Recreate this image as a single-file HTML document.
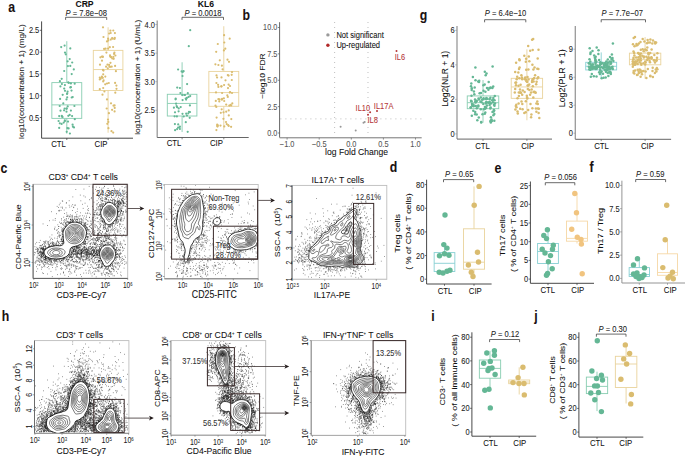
<!DOCTYPE html>
<html><head><meta charset="utf-8"><style>
html,body{margin:0;padding:0;background:#fff;width:685px;height:456px;overflow:hidden}
svg{display:block}
text{font-family:"Liberation Sans", sans-serif}
</style></head><body>
<svg width="685" height="456" viewBox="0 0 685 456" font-family='"Liberation Sans", sans-serif'>
<rect width="685" height="456" fill="#fff"/>
<text transform="translate(84.50,7.02) scale(0.88,1)" font-size="9.77" fill="#111" stroke="#111" stroke-width="0.07" text-anchor="middle" font-weight="bold" >CRP</text>
<text transform="translate(86.20,16.31) scale(0.88,1)" font-size="8.64" fill="#222" stroke="#222" stroke-width="0.07" text-anchor="middle" ><tspan font-style="italic">P</tspan> = 7.8e−08</text>
<path d="M65.60,19.90V17.30H106.70V19.90" stroke="#444" stroke-width="0.8" fill="none" />
<line x1="41.60" y1="21.40" x2="41.60" y2="138.20" stroke="#333" stroke-width="0.9" />
<line x1="39.80" y1="30.30" x2="41.60" y2="30.30" stroke="#333" stroke-width="0.7" />
<text transform="translate(39.30,33.37) scale(0.88,1)" font-size="8.52" fill="#222" stroke="#222" stroke-width="0.07" text-anchor="end" >2.5</text>
<line x1="39.80" y1="52.10" x2="41.60" y2="52.10" stroke="#333" stroke-width="0.7" />
<text transform="translate(39.30,55.17) scale(0.88,1)" font-size="8.52" fill="#222" stroke="#222" stroke-width="0.07" text-anchor="end" >2.0</text>
<line x1="39.80" y1="73.90" x2="41.60" y2="73.90" stroke="#333" stroke-width="0.7" />
<text transform="translate(39.30,76.97) scale(0.88,1)" font-size="8.52" fill="#222" stroke="#222" stroke-width="0.07" text-anchor="end" >1.5</text>
<line x1="39.80" y1="95.70" x2="41.60" y2="95.70" stroke="#333" stroke-width="0.7" />
<text transform="translate(39.30,98.77) scale(0.88,1)" font-size="8.52" fill="#222" stroke="#222" stroke-width="0.07" text-anchor="end" >1.0</text>
<line x1="39.80" y1="117.50" x2="41.60" y2="117.50" stroke="#333" stroke-width="0.7" />
<text transform="translate(39.30,120.57) scale(0.88,1)" font-size="8.52" fill="#222" stroke="#222" stroke-width="0.07" text-anchor="end" >0.5</text>
<line x1="41.60" y1="138.20" x2="133.00" y2="138.20" stroke="#333" stroke-width="0.9" />
<line x1="66.80" y1="138.20" x2="66.80" y2="140.00" stroke="#333" stroke-width="0.7" />
<text transform="translate(58.50,147.07) scale(0.88,1)" font-size="8.81" fill="#111" stroke="#111" stroke-width="0.07" text-anchor="middle" >CTL</text>
<line x1="108.10" y1="138.20" x2="108.10" y2="140.00" stroke="#333" stroke-width="0.7" />
<text transform="translate(101.00,147.07) scale(0.88,1)" font-size="8.81" fill="#111" stroke="#111" stroke-width="0.07" text-anchor="middle" >CIP</text>
<line x1="66.80" y1="82.62" x2="66.80" y2="41.20" stroke="#88CDB1" stroke-width="0.9" />
<line x1="66.80" y1="118.37" x2="66.80" y2="133.63" stroke="#88CDB1" stroke-width="0.9" />
<rect x="51.85" y="82.62" width="29.90" height="35.75" stroke="#88CDB1" stroke-width="0.9" fill="none" />
<line x1="51.85" y1="104.86" x2="81.75" y2="104.86" stroke="#88CDB1" stroke-width="0.9" />
<line x1="108.10" y1="50.36" x2="108.10" y2="27.25" stroke="#E9D39C" stroke-width="0.9" />
<line x1="108.10" y1="90.47" x2="108.10" y2="132.76" stroke="#E9D39C" stroke-width="0.9" />
<rect x="93.30" y="50.36" width="29.60" height="40.11" stroke="#E9D39C" stroke-width="0.9" fill="none" />
<line x1="93.30" y1="69.54" x2="122.90" y2="69.54" stroke="#E9D39C" stroke-width="0.9" />
<g fill="#64B795" fill-opacity="1.0"><circle cx="68.6" cy="128.4" r="1.1"/><circle cx="74.8" cy="119.2" r="1.1"/><circle cx="71.7" cy="74.1" r="1.1"/><circle cx="71.7" cy="97.5" r="1.1"/><circle cx="59.2" cy="127.9" r="1.1"/><circle cx="64.6" cy="108.5" r="1.1"/><circle cx="59.7" cy="106.0" r="1.1"/><circle cx="61.6" cy="123.9" r="1.1"/><circle cx="61.9" cy="84.0" r="1.1"/><circle cx="72.9" cy="126.7" r="1.1"/><circle cx="60.5" cy="110.7" r="1.1"/><circle cx="63.3" cy="103.4" r="1.1"/><circle cx="66.7" cy="108.6" r="1.1"/><circle cx="72.7" cy="97.1" r="1.1"/><circle cx="74.7" cy="83.7" r="1.1"/><circle cx="70.3" cy="48.4" r="1.1"/><circle cx="61.9" cy="116.5" r="1.1"/><circle cx="67.6" cy="91.6" r="1.1"/><circle cx="70.3" cy="87.4" r="1.1"/><circle cx="59.2" cy="116.1" r="1.1"/><circle cx="69.9" cy="133.5" r="1.1"/><circle cx="64.6" cy="45.6" r="1.1"/><circle cx="68.3" cy="115.8" r="1.1"/><circle cx="69.7" cy="114.9" r="1.1"/><circle cx="69.7" cy="59.1" r="1.1"/><circle cx="67.2" cy="97.3" r="1.1"/><circle cx="67.7" cy="106.4" r="1.1"/><circle cx="61.7" cy="78.8" r="1.1"/><circle cx="66.7" cy="131.8" r="1.1"/><circle cx="60.4" cy="86.4" r="1.1"/><circle cx="66.5" cy="111.7" r="1.1"/><circle cx="67.4" cy="128.1" r="1.1"/><circle cx="71.5" cy="90.6" r="1.1"/><circle cx="65.0" cy="52.6" r="1.1"/><circle cx="58.6" cy="121.0" r="1.1"/><circle cx="67.3" cy="93.3" r="1.1"/><circle cx="61.8" cy="115.8" r="1.1"/><circle cx="70.9" cy="83.4" r="1.1"/><circle cx="64.9" cy="85.1" r="1.1"/><circle cx="64.8" cy="120.3" r="1.1"/><circle cx="73.8" cy="69.4" r="1.1"/><circle cx="65.0" cy="90.8" r="1.1"/><circle cx="64.2" cy="88.6" r="1.1"/><circle cx="64.2" cy="71.0" r="1.1"/><circle cx="66.5" cy="108.7" r="1.1"/><circle cx="59.9" cy="81.2" r="1.1"/><circle cx="67.6" cy="61.3" r="1.1"/><circle cx="74.0" cy="127.4" r="1.1"/><circle cx="67.9" cy="66.1" r="1.1"/><circle cx="70.9" cy="110.6" r="1.1"/><circle cx="74.4" cy="106.0" r="1.1"/><circle cx="72.6" cy="124.7" r="1.1"/><circle cx="70.9" cy="87.2" r="1.1"/><circle cx="72.1" cy="116.1" r="1.1"/><circle cx="72.2" cy="62.5" r="1.1"/><circle cx="62.6" cy="117.0" r="1.1"/><circle cx="66.5" cy="99.4" r="1.1"/><circle cx="64.1" cy="110.3" r="1.1"/><circle cx="62.7" cy="94.8" r="1.1"/><circle cx="68.0" cy="121.6" r="1.1"/><circle cx="63.7" cy="122.6" r="1.1"/><circle cx="68.8" cy="82.9" r="1.1"/><circle cx="68.2" cy="82.3" r="1.1"/><circle cx="60.1" cy="98.9" r="1.1"/><circle cx="65.8" cy="54.3" r="1.1"/><circle cx="64.9" cy="121.1" r="1.1"/><circle cx="70.3" cy="65.9" r="1.1"/><circle cx="59.8" cy="123.3" r="1.1"/><circle cx="61.2" cy="47.1" r="1.1"/><circle cx="67.0" cy="93.9" r="1.1"/></g>
<g fill="#DABC6F" fill-opacity="1.0"><circle cx="99.8" cy="77.5" r="1.1"/><circle cx="113.4" cy="56.9" r="1.1"/><circle cx="107.0" cy="83.5" r="1.1"/><circle cx="107.0" cy="99.4" r="1.1"/><circle cx="109.2" cy="33.5" r="1.1"/><circle cx="104.4" cy="91.5" r="1.1"/><circle cx="114.7" cy="107.9" r="1.1"/><circle cx="103.2" cy="88.0" r="1.1"/><circle cx="108.8" cy="83.0" r="1.1"/><circle cx="102.5" cy="94.7" r="1.1"/><circle cx="110.1" cy="66.8" r="1.1"/><circle cx="114.9" cy="33.1" r="1.1"/><circle cx="114.6" cy="111.4" r="1.1"/><circle cx="101.9" cy="76.6" r="1.1"/><circle cx="110.2" cy="56.6" r="1.1"/><circle cx="114.8" cy="37.9" r="1.1"/><circle cx="103.0" cy="27.3" r="1.1"/><circle cx="106.7" cy="108.5" r="1.1"/><circle cx="111.7" cy="66.7" r="1.1"/><circle cx="112.1" cy="38.2" r="1.1"/><circle cx="107.3" cy="123.8" r="1.1"/><circle cx="110.5" cy="62.8" r="1.1"/><circle cx="111.0" cy="103.3" r="1.1"/><circle cx="105.6" cy="48.7" r="1.1"/><circle cx="110.7" cy="33.0" r="1.1"/><circle cx="109.4" cy="66.6" r="1.1"/><circle cx="111.5" cy="131.2" r="1.1"/><circle cx="108.3" cy="121.9" r="1.1"/><circle cx="105.3" cy="76.6" r="1.1"/><circle cx="107.0" cy="41.4" r="1.1"/><circle cx="115.3" cy="92.7" r="1.1"/><circle cx="102.8" cy="56.6" r="1.1"/><circle cx="102.1" cy="77.5" r="1.1"/><circle cx="99.8" cy="89.2" r="1.1"/><circle cx="114.1" cy="53.9" r="1.1"/><circle cx="116.4" cy="85.6" r="1.1"/><circle cx="103.6" cy="80.3" r="1.1"/><circle cx="104.1" cy="48.9" r="1.1"/><circle cx="103.0" cy="69.9" r="1.1"/><circle cx="109.8" cy="47.2" r="1.1"/><circle cx="107.8" cy="68.3" r="1.1"/><circle cx="113.5" cy="105.7" r="1.1"/><circle cx="103.2" cy="74.3" r="1.1"/><circle cx="114.5" cy="39.0" r="1.1"/><circle cx="107.5" cy="64.6" r="1.1"/><circle cx="113.3" cy="30.5" r="1.1"/><circle cx="113.2" cy="132.6" r="1.1"/><circle cx="115.1" cy="82.9" r="1.1"/><circle cx="108.1" cy="48.6" r="1.1"/><circle cx="110.0" cy="55.3" r="1.1"/><circle cx="109.1" cy="64.9" r="1.1"/><circle cx="102.8" cy="57.0" r="1.1"/><circle cx="108.1" cy="38.7" r="1.1"/><circle cx="115.4" cy="55.5" r="1.1"/><circle cx="115.1" cy="65.9" r="1.1"/><circle cx="100.0" cy="64.7" r="1.1"/><circle cx="110.9" cy="56.8" r="1.1"/><circle cx="105.2" cy="84.3" r="1.1"/><circle cx="101.9" cy="56.5" r="1.1"/><circle cx="102.0" cy="60.7" r="1.1"/><circle cx="113.1" cy="47.0" r="1.1"/><circle cx="115.9" cy="71.2" r="1.1"/><circle cx="108.4" cy="128.2" r="1.1"/><circle cx="106.1" cy="66.7" r="1.1"/><circle cx="108.3" cy="40.4" r="1.1"/><circle cx="113.7" cy="58.8" r="1.1"/><circle cx="112.3" cy="58.5" r="1.1"/><circle cx="100.7" cy="78.7" r="1.1"/><circle cx="103.2" cy="81.5" r="1.1"/><circle cx="114.4" cy="52.7" r="1.1"/><circle cx="108.0" cy="119.6" r="1.1"/><circle cx="110.8" cy="39.6" r="1.1"/><circle cx="112.8" cy="38.7" r="1.1"/><circle cx="110.4" cy="30.7" r="1.1"/><circle cx="112.1" cy="109.8" r="1.1"/><circle cx="108.9" cy="113.2" r="1.1"/><circle cx="103.5" cy="37.0" r="1.1"/><circle cx="102.8" cy="77.8" r="1.1"/><circle cx="116.5" cy="88.8" r="1.1"/><circle cx="99.8" cy="79.4" r="1.1"/><circle cx="111.3" cy="57.3" r="1.1"/><circle cx="114.6" cy="105.4" r="1.1"/><circle cx="103.5" cy="70.6" r="1.1"/><circle cx="100.4" cy="57.3" r="1.1"/><circle cx="106.4" cy="52.6" r="1.1"/></g>
<text transform="translate(23.90,81.60) rotate(-90) scale(1,0.88)" font-size="8.20" fill="#111" stroke="#111" stroke-width="0.07" text-anchor="middle" >log10(concentration + 1) (mg/L)</text>
<text transform="translate(205.90,7.02) scale(0.88,1)" font-size="9.77" fill="#111" stroke="#111" stroke-width="0.07" text-anchor="middle" font-weight="bold" >KL6</text>
<text transform="translate(203.00,16.31) scale(0.88,1)" font-size="8.64" fill="#222" stroke="#222" stroke-width="0.07" text-anchor="middle" ><tspan font-style="italic">P</tspan> = 0.0018</text>
<path d="M182.00,19.90V17.30H223.50V19.90" stroke="#444" stroke-width="0.8" fill="none" />
<line x1="157.20" y1="20.60" x2="157.20" y2="137.50" stroke="#999" stroke-width="1.3" />
<line x1="155.40" y1="24.50" x2="157.20" y2="24.50" stroke="#999" stroke-width="0.7" />
<text transform="translate(154.90,27.57) scale(0.88,1)" font-size="8.52" fill="#222" stroke="#222" stroke-width="0.07" text-anchor="end" >4.0</text>
<line x1="155.40" y1="53.10" x2="157.20" y2="53.10" stroke="#999" stroke-width="0.7" />
<text transform="translate(154.90,56.17) scale(0.88,1)" font-size="8.52" fill="#222" stroke="#222" stroke-width="0.07" text-anchor="end" >3.5</text>
<line x1="155.40" y1="81.70" x2="157.20" y2="81.70" stroke="#999" stroke-width="0.7" />
<text transform="translate(154.90,84.77) scale(0.88,1)" font-size="8.52" fill="#222" stroke="#222" stroke-width="0.07" text-anchor="end" >3.0</text>
<line x1="155.40" y1="110.30" x2="157.20" y2="110.30" stroke="#999" stroke-width="0.7" />
<text transform="translate(154.90,113.37) scale(0.88,1)" font-size="8.52" fill="#222" stroke="#222" stroke-width="0.07" text-anchor="end" >2.5</text>
<line x1="157.20" y1="137.50" x2="248.70" y2="137.50" stroke="#555" stroke-width="0.9" />
<line x1="182.10" y1="137.50" x2="182.10" y2="139.30" stroke="#555" stroke-width="0.7" />
<text transform="translate(174.00,146.17) scale(0.88,1)" font-size="8.81" fill="#111" stroke="#111" stroke-width="0.07" text-anchor="middle" >CTL</text>
<line x1="223.80" y1="137.50" x2="223.80" y2="139.30" stroke="#555" stroke-width="0.7" />
<text transform="translate(216.40,146.17) scale(0.88,1)" font-size="8.81" fill="#111" stroke="#111" stroke-width="0.07" text-anchor="middle" >CIP</text>
<line x1="182.10" y1="94.28" x2="182.10" y2="62.25" stroke="#88CDB1" stroke-width="0.9" />
<line x1="182.10" y1="116.02" x2="182.10" y2="132.04" stroke="#88CDB1" stroke-width="0.9" />
<rect x="167.30" y="94.28" width="29.60" height="21.74" stroke="#88CDB1" stroke-width="0.9" fill="none" />
<line x1="167.30" y1="103.44" x2="196.90" y2="103.44" stroke="#88CDB1" stroke-width="0.9" />
<line x1="223.80" y1="71.40" x2="223.80" y2="26.22" stroke="#E9D39C" stroke-width="0.9" />
<line x1="223.80" y1="106.30" x2="223.80" y2="130.32" stroke="#E9D39C" stroke-width="0.9" />
<rect x="208.85" y="71.40" width="29.90" height="34.89" stroke="#E9D39C" stroke-width="0.9" fill="none" />
<line x1="208.85" y1="92.57" x2="238.75" y2="92.57" stroke="#E9D39C" stroke-width="0.9" />
<g fill="#64B795" fill-opacity="1.0"><circle cx="190.0" cy="112.0" r="1.1"/><circle cx="189.9" cy="105.4" r="1.1"/><circle cx="180.7" cy="107.1" r="1.1"/><circle cx="181.6" cy="71.4" r="1.1"/><circle cx="178.2" cy="124.4" r="1.1"/><circle cx="183.6" cy="71.2" r="1.1"/><circle cx="177.1" cy="129.1" r="1.1"/><circle cx="182.7" cy="71.9" r="1.1"/><circle cx="189.0" cy="111.8" r="1.1"/><circle cx="182.2" cy="95.1" r="1.1"/><circle cx="187.7" cy="131.8" r="1.1"/><circle cx="176.6" cy="106.1" r="1.1"/><circle cx="188.6" cy="96.9" r="1.1"/><circle cx="175.7" cy="98.7" r="1.1"/><circle cx="177.2" cy="87.6" r="1.1"/><circle cx="185.8" cy="122.2" r="1.1"/><circle cx="178.7" cy="108.4" r="1.1"/><circle cx="175.6" cy="99.3" r="1.1"/><circle cx="175.1" cy="130.2" r="1.1"/><circle cx="187.1" cy="84.1" r="1.1"/><circle cx="173.9" cy="107.7" r="1.1"/><circle cx="174.6" cy="116.3" r="1.1"/><circle cx="189.7" cy="117.8" r="1.1"/><circle cx="186.9" cy="97.9" r="1.1"/><circle cx="179.9" cy="129.0" r="1.1"/><circle cx="176.9" cy="116.4" r="1.1"/><circle cx="188.3" cy="113.3" r="1.1"/><circle cx="187.0" cy="115.6" r="1.1"/><circle cx="185.0" cy="95.0" r="1.1"/><circle cx="182.6" cy="100.1" r="1.1"/><circle cx="182.5" cy="76.0" r="1.1"/><circle cx="190.2" cy="96.1" r="1.1"/><circle cx="182.5" cy="113.8" r="1.1"/><circle cx="175.0" cy="112.3" r="1.1"/><circle cx="174.9" cy="124.1" r="1.1"/><circle cx="183.7" cy="116.5" r="1.1"/><circle cx="186.1" cy="99.6" r="1.1"/><circle cx="184.3" cy="95.0" r="1.1"/><circle cx="186.2" cy="113.7" r="1.1"/><circle cx="178.6" cy="111.3" r="1.1"/><circle cx="179.9" cy="88.0" r="1.1"/><circle cx="178.1" cy="69.5" r="1.1"/><circle cx="179.9" cy="126.6" r="1.1"/><circle cx="178.1" cy="127.5" r="1.1"/><circle cx="187.8" cy="93.2" r="1.1"/><circle cx="176.1" cy="103.7" r="1.1"/><circle cx="177.1" cy="107.2" r="1.1"/><circle cx="185.7" cy="98.5" r="1.1"/><circle cx="180.4" cy="93.0" r="1.1"/><circle cx="179.4" cy="127.6" r="1.1"/><circle cx="190.2" cy="30.2" r="1.1"/><circle cx="188.8" cy="46.2" r="1.1"/></g>
<g fill="#DABC6F" fill-opacity="1.0"><circle cx="221.7" cy="109.3" r="1.1"/><circle cx="228.8" cy="115.4" r="1.1"/><circle cx="232.0" cy="93.0" r="1.1"/><circle cx="221.6" cy="86.3" r="1.1"/><circle cx="224.2" cy="101.0" r="1.1"/><circle cx="218.1" cy="84.8" r="1.1"/><circle cx="217.1" cy="77.5" r="1.1"/><circle cx="227.5" cy="59.7" r="1.1"/><circle cx="216.3" cy="107.0" r="1.1"/><circle cx="225.5" cy="80.3" r="1.1"/><circle cx="217.2" cy="124.7" r="1.1"/><circle cx="226.7" cy="124.1" r="1.1"/><circle cx="228.1" cy="125.0" r="1.1"/><circle cx="231.3" cy="119.1" r="1.1"/><circle cx="221.9" cy="65.7" r="1.1"/><circle cx="221.9" cy="99.7" r="1.1"/><circle cx="222.1" cy="93.0" r="1.1"/><circle cx="227.3" cy="95.3" r="1.1"/><circle cx="228.7" cy="110.4" r="1.1"/><circle cx="217.3" cy="125.9" r="1.1"/><circle cx="220.8" cy="112.8" r="1.1"/><circle cx="216.2" cy="51.8" r="1.1"/><circle cx="219.3" cy="101.4" r="1.1"/><circle cx="227.8" cy="96.9" r="1.1"/><circle cx="231.2" cy="105.5" r="1.1"/><circle cx="232.0" cy="72.1" r="1.1"/><circle cx="216.5" cy="75.4" r="1.1"/><circle cx="222.1" cy="98.9" r="1.1"/><circle cx="230.1" cy="92.0" r="1.1"/><circle cx="223.9" cy="98.3" r="1.1"/><circle cx="221.2" cy="86.4" r="1.1"/><circle cx="228.6" cy="84.6" r="1.1"/><circle cx="230.0" cy="86.0" r="1.1"/><circle cx="217.8" cy="44.0" r="1.1"/><circle cx="224.1" cy="35.2" r="1.1"/><circle cx="217.8" cy="125.4" r="1.1"/><circle cx="218.4" cy="99.2" r="1.1"/><circle cx="224.3" cy="126.4" r="1.1"/><circle cx="219.6" cy="99.4" r="1.1"/><circle cx="229.0" cy="61.8" r="1.1"/><circle cx="221.5" cy="77.4" r="1.1"/><circle cx="218.4" cy="86.9" r="1.1"/><circle cx="226.0" cy="122.0" r="1.1"/><circle cx="219.8" cy="60.3" r="1.1"/><circle cx="216.4" cy="83.0" r="1.1"/><circle cx="232.3" cy="103.4" r="1.1"/><circle cx="218.4" cy="65.0" r="1.1"/><circle cx="217.5" cy="126.6" r="1.1"/><circle cx="223.5" cy="112.3" r="1.1"/><circle cx="215.4" cy="64.3" r="1.1"/><circle cx="228.7" cy="125.9" r="1.1"/><circle cx="216.6" cy="117.6" r="1.1"/><circle cx="216.0" cy="92.4" r="1.1"/><circle cx="231.7" cy="74.8" r="1.1"/><circle cx="224.1" cy="85.0" r="1.1"/><circle cx="231.1" cy="126.8" r="1.1"/><circle cx="230.6" cy="104.9" r="1.1"/><circle cx="227.8" cy="75.1" r="1.1"/><circle cx="215.8" cy="100.9" r="1.1"/><circle cx="226.2" cy="111.7" r="1.1"/><circle cx="216.4" cy="130.1" r="1.1"/><circle cx="215.5" cy="105.6" r="1.1"/><circle cx="229.7" cy="38.7" r="1.1"/><circle cx="220.5" cy="125.6" r="1.1"/><circle cx="228.0" cy="88.1" r="1.1"/><circle cx="224.3" cy="42.5" r="1.1"/><circle cx="228.6" cy="75.6" r="1.1"/><circle cx="226.2" cy="104.6" r="1.1"/><circle cx="231.8" cy="80.0" r="1.1"/><circle cx="223.4" cy="118.8" r="1.1"/><circle cx="229.8" cy="92.6" r="1.1"/><circle cx="229.3" cy="105.6" r="1.1"/><circle cx="225.3" cy="48.7" r="1.1"/><circle cx="223.9" cy="50.4" r="1.1"/><circle cx="222.6" cy="69.3" r="1.1"/></g>
<text transform="translate(140.18,77.30) rotate(-90) scale(1,0.88)" font-size="8.15" fill="#111" stroke="#111" stroke-width="0.07" text-anchor="middle" >log10(concentration + 1) (U/mL)</text>
<line x1="334.61" y1="22.00" x2="334.61" y2="137.00" stroke="#999" stroke-width="0.8" stroke-dasharray="0.8 4.2"/>
<line x1="367.99" y1="22.00" x2="367.99" y2="137.00" stroke="#999" stroke-width="0.8" stroke-dasharray="0.8 4.2"/>
<line x1="280.50" y1="118.88" x2="421.70" y2="118.88" stroke="#999" stroke-width="0.8" stroke-dasharray="0.8 4.2"/>
<line x1="279.60" y1="22.20" x2="279.60" y2="137.50" stroke="#555" stroke-width="0.9" />
<line x1="277.80" y1="27.50" x2="279.60" y2="27.50" stroke="#555" stroke-width="0.7" />
<text transform="translate(277.30,30.49) scale(0.88,1)" font-size="8.30" fill="#555" stroke="#555" stroke-width="0.07" text-anchor="end" >10.0</text>
<line x1="277.80" y1="53.87" x2="279.60" y2="53.87" stroke="#555" stroke-width="0.7" />
<text transform="translate(277.30,56.86) scale(0.88,1)" font-size="8.30" fill="#555" stroke="#555" stroke-width="0.07" text-anchor="end" >7.5</text>
<line x1="277.80" y1="80.25" x2="279.60" y2="80.25" stroke="#555" stroke-width="0.7" />
<text transform="translate(277.30,83.24) scale(0.88,1)" font-size="8.30" fill="#555" stroke="#555" stroke-width="0.07" text-anchor="end" >5.0</text>
<line x1="277.80" y1="106.62" x2="279.60" y2="106.62" stroke="#555" stroke-width="0.7" />
<text transform="translate(277.30,109.61) scale(0.88,1)" font-size="8.30" fill="#555" stroke="#555" stroke-width="0.07" text-anchor="end" >2.5</text>
<line x1="277.80" y1="133.00" x2="279.60" y2="133.00" stroke="#555" stroke-width="0.7" />
<text transform="translate(277.30,135.99) scale(0.88,1)" font-size="8.30" fill="#555" stroke="#555" stroke-width="0.07" text-anchor="end" >0.0</text>
<line x1="279.60" y1="137.80" x2="421.70" y2="137.80" stroke="#666" stroke-width="0.9" />
<line x1="287.10" y1="137.80" x2="287.10" y2="139.60" stroke="#666" stroke-width="0.7" />
<text transform="translate(287.10,146.83) scale(0.88,1)" font-size="8.41" fill="#555" stroke="#555" stroke-width="0.07" text-anchor="middle" >−1.0</text>
<line x1="319.20" y1="137.80" x2="319.20" y2="139.60" stroke="#666" stroke-width="0.7" />
<text transform="translate(319.20,146.83) scale(0.88,1)" font-size="8.41" fill="#555" stroke="#555" stroke-width="0.07" text-anchor="middle" >−0.5</text>
<line x1="351.30" y1="137.80" x2="351.30" y2="139.60" stroke="#666" stroke-width="0.7" />
<text transform="translate(351.30,146.83) scale(0.88,1)" font-size="8.41" fill="#555" stroke="#555" stroke-width="0.07" text-anchor="middle" >0.0</text>
<line x1="383.40" y1="137.80" x2="383.40" y2="139.60" stroke="#666" stroke-width="0.7" />
<text transform="translate(383.40,146.83) scale(0.88,1)" font-size="8.41" fill="#555" stroke="#555" stroke-width="0.07" text-anchor="middle" >0.5</text>
<line x1="415.50" y1="137.80" x2="415.50" y2="139.60" stroke="#666" stroke-width="0.7" />
<text transform="translate(415.50,146.83) scale(0.88,1)" font-size="8.41" fill="#555" stroke="#555" stroke-width="0.07" text-anchor="middle" >1.0</text>
<text transform="translate(264.69,76.10) rotate(-90) scale(1,0.88)" font-size="8.50" fill="#111" stroke="#111" stroke-width="0.07" text-anchor="middle" >−log10 FDR</text>
<text transform="translate(356.60,155.42) scale(0.88,1)" font-size="9.77" fill="#111" stroke="#111" stroke-width="0.07" text-anchor="middle" >log Fold Change</text>
<circle cx="327.90" cy="34.90" r="1.7" fill="#9a9a9a" />
<circle cx="327.90" cy="45.30" r="1.7" fill="#B22A2A" />
<text transform="translate(336.40,37.99) scale(0.88,1)" font-size="8.58" fill="#111" stroke="#111" stroke-width="0.07" >Not significant</text>
<text transform="translate(336.40,48.39) scale(0.88,1)" font-size="8.58" fill="#111" stroke="#111" stroke-width="0.07" >Up-regulated</text>
<circle cx="396.50" cy="51.00" r="1.0" fill="#B53535" />
<circle cx="368.00" cy="114.70" r="1.0" fill="#B53535" />
<circle cx="370.10" cy="112.20" r="1.0" fill="#B53535" />
<circle cx="377.00" cy="111.10" r="1.0" fill="#B53535" />
<circle cx="340.60" cy="126.80" r="1.0" fill="#999" />
<circle cx="355.70" cy="130.40" r="1.0" fill="#999" />
<circle cx="364.70" cy="122.00" r="1.0" fill="#999" />
<circle cx="363.50" cy="122.80" r="1.0" fill="#999" />
<text transform="translate(399.90,60.03) scale(0.88,1)" font-size="8.41" fill="#B53535" stroke="#B53535" stroke-width="0.07" text-anchor="middle" >IL6</text>
<text transform="translate(362.80,110.83) scale(0.88,1)" font-size="8.41" fill="#B53535" stroke="#B53535" stroke-width="0.07" text-anchor="middle" >IL10</text>
<text transform="translate(383.60,108.67) scale(0.88,1)" font-size="8.52" fill="#B53535" stroke="#B53535" stroke-width="0.07" text-anchor="middle" >IL17A</text>
<text transform="translate(372.70,123.21) scale(0.88,1)" font-size="8.64" fill="#B53535" stroke="#B53535" stroke-width="0.07" text-anchor="middle" >IL8</text>
<text transform="translate(505.50,16.41) scale(0.88,1)" font-size="8.64" fill="#222" stroke="#222" stroke-width="0.07" text-anchor="middle" ><tspan font-style="italic">P</tspan> = 6.4e−10</text>
<path d="M484.60,22.30V19.70H525.80V22.30" stroke="#444" stroke-width="0.8" fill="none" />
<line x1="457.00" y1="26.00" x2="457.00" y2="139.10" stroke="#999" stroke-width="1.3" />
<line x1="455.20" y1="30.34" x2="457.00" y2="30.34" stroke="#999" stroke-width="0.7" />
<text transform="translate(454.70,33.41) scale(0.88,1)" font-size="8.52" fill="#222" stroke="#222" stroke-width="0.07" text-anchor="end" >6</text>
<line x1="455.20" y1="64.86" x2="457.00" y2="64.86" stroke="#999" stroke-width="0.7" />
<text transform="translate(454.70,67.93) scale(0.88,1)" font-size="8.52" fill="#222" stroke="#222" stroke-width="0.07" text-anchor="end" >4</text>
<line x1="455.20" y1="99.38" x2="457.00" y2="99.38" stroke="#999" stroke-width="0.7" />
<text transform="translate(454.70,102.45) scale(0.88,1)" font-size="8.52" fill="#222" stroke="#222" stroke-width="0.07" text-anchor="end" >2</text>
<line x1="455.20" y1="133.90" x2="457.00" y2="133.90" stroke="#999" stroke-width="0.7" />
<text transform="translate(454.70,136.97) scale(0.88,1)" font-size="8.52" fill="#222" stroke="#222" stroke-width="0.07" text-anchor="end" >0</text>
<line x1="457.00" y1="139.10" x2="552.00" y2="139.10" stroke="#555" stroke-width="0.9" />
<line x1="483.00" y1="139.10" x2="483.00" y2="140.90" stroke="#555" stroke-width="0.7" />
<text transform="translate(482.50,149.17) scale(0.88,1)" font-size="8.81" fill="#111" stroke="#111" stroke-width="0.07" text-anchor="middle" >CTL</text>
<line x1="526.90" y1="139.10" x2="526.90" y2="140.90" stroke="#555" stroke-width="0.7" />
<text transform="translate(527.70,149.17) scale(0.88,1)" font-size="8.81" fill="#111" stroke="#111" stroke-width="0.07" text-anchor="middle" >CIP</text>
<line x1="483.00" y1="95.93" x2="483.00" y2="80.05" stroke="#88CDB1" stroke-width="0.9" />
<line x1="483.00" y1="108.70" x2="483.00" y2="122.68" stroke="#88CDB1" stroke-width="0.9" />
<rect x="467.25" y="95.93" width="31.50" height="12.77" stroke="#88CDB1" stroke-width="0.9" fill="none" />
<line x1="467.25" y1="102.66" x2="498.75" y2="102.66" stroke="#88CDB1" stroke-width="0.9" />
<line x1="526.90" y1="78.32" x2="526.90" y2="49.33" stroke="#E9D39C" stroke-width="0.9" />
<line x1="526.90" y1="98.34" x2="526.90" y2="120.26" stroke="#E9D39C" stroke-width="0.9" />
<rect x="511.20" y="78.32" width="31.40" height="20.02" stroke="#E9D39C" stroke-width="0.9" fill="none" />
<line x1="511.20" y1="86.95" x2="542.60" y2="86.95" stroke="#E9D39C" stroke-width="0.9" />
<g fill="#64B795" fill-opacity="1.0"><circle cx="489.6" cy="99.3" r="1.25"/><circle cx="493.2" cy="86.6" r="1.25"/><circle cx="474.3" cy="94.3" r="1.25"/><circle cx="493.8" cy="110.1" r="1.25"/><circle cx="470.6" cy="107.5" r="1.25"/><circle cx="489.3" cy="88.1" r="1.25"/><circle cx="490.8" cy="122.4" r="1.25"/><circle cx="473.9" cy="91.4" r="1.25"/><circle cx="481.0" cy="92.9" r="1.25"/><circle cx="490.9" cy="103.4" r="1.25"/><circle cx="470.9" cy="107.4" r="1.25"/><circle cx="486.2" cy="108.0" r="1.25"/><circle cx="490.3" cy="108.6" r="1.25"/><circle cx="483.3" cy="104.0" r="1.25"/><circle cx="488.6" cy="102.5" r="1.25"/><circle cx="476.2" cy="101.2" r="1.25"/><circle cx="475.5" cy="80.3" r="1.25"/><circle cx="479.6" cy="93.2" r="1.25"/><circle cx="475.0" cy="99.4" r="1.25"/><circle cx="479.2" cy="80.8" r="1.25"/><circle cx="494.2" cy="110.6" r="1.25"/><circle cx="484.8" cy="113.7" r="1.25"/><circle cx="479.0" cy="99.6" r="1.25"/><circle cx="477.3" cy="120.2" r="1.25"/><circle cx="494.3" cy="120.7" r="1.25"/><circle cx="481.6" cy="102.3" r="1.25"/><circle cx="495.0" cy="103.5" r="1.25"/><circle cx="483.4" cy="85.3" r="1.25"/><circle cx="483.5" cy="99.2" r="1.25"/><circle cx="492.9" cy="102.3" r="1.25"/><circle cx="489.1" cy="102.7" r="1.25"/><circle cx="485.0" cy="108.8" r="1.25"/><circle cx="481.2" cy="122.0" r="1.25"/><circle cx="492.5" cy="111.9" r="1.25"/><circle cx="480.8" cy="97.5" r="1.25"/><circle cx="493.6" cy="111.5" r="1.25"/><circle cx="472.2" cy="105.8" r="1.25"/><circle cx="481.2" cy="122.5" r="1.25"/><circle cx="483.5" cy="90.8" r="1.25"/><circle cx="494.3" cy="114.0" r="1.25"/><circle cx="476.8" cy="108.3" r="1.25"/><circle cx="490.7" cy="87.6" r="1.25"/><circle cx="487.4" cy="102.4" r="1.25"/><circle cx="488.4" cy="89.8" r="1.25"/><circle cx="486.2" cy="98.9" r="1.25"/><circle cx="494.8" cy="96.1" r="1.25"/><circle cx="478.8" cy="117.6" r="1.25"/><circle cx="480.5" cy="101.6" r="1.25"/><circle cx="475.6" cy="102.5" r="1.25"/><circle cx="471.8" cy="88.2" r="1.25"/><circle cx="475.8" cy="106.0" r="1.25"/><circle cx="493.4" cy="100.0" r="1.25"/><circle cx="491.5" cy="119.4" r="1.25"/><circle cx="473.3" cy="105.4" r="1.25"/><circle cx="485.6" cy="106.9" r="1.25"/><circle cx="482.5" cy="114.3" r="1.25"/><circle cx="485.4" cy="91.7" r="1.25"/><circle cx="487.0" cy="105.6" r="1.25"/><circle cx="478.2" cy="81.4" r="1.25"/><circle cx="494.5" cy="100.2" r="1.25"/><circle cx="482.1" cy="99.8" r="1.25"/><circle cx="486.2" cy="98.9" r="1.25"/><circle cx="486.4" cy="97.9" r="1.25"/><circle cx="475.1" cy="114.2" r="1.25"/><circle cx="472.0" cy="104.1" r="1.25"/><circle cx="480.8" cy="109.3" r="1.25"/><circle cx="489.6" cy="105.0" r="1.25"/><circle cx="490.9" cy="117.3" r="1.25"/><circle cx="488.7" cy="82.1" r="1.25"/><circle cx="473.3" cy="110.7" r="1.25"/><circle cx="493.3" cy="98.0" r="1.25"/><circle cx="490.6" cy="107.5" r="1.25"/><circle cx="492.4" cy="88.0" r="1.25"/><circle cx="483.6" cy="98.3" r="1.25"/><circle cx="493.4" cy="115.3" r="1.25"/><circle cx="471.7" cy="89.9" r="1.25"/><circle cx="471.3" cy="83.5" r="1.25"/><circle cx="471.0" cy="86.2" r="1.25"/><circle cx="476.8" cy="100.8" r="1.25"/><circle cx="476.7" cy="114.5" r="1.25"/><circle cx="475.2" cy="111.9" r="1.25"/><circle cx="484.7" cy="84.6" r="1.25"/><circle cx="471.5" cy="101.3" r="1.25"/><circle cx="485.3" cy="112.6" r="1.25"/><circle cx="474.7" cy="87.4" r="1.25"/><circle cx="487.4" cy="98.8" r="1.25"/><circle cx="471.0" cy="100.8" r="1.25"/><circle cx="478.3" cy="105.6" r="1.25"/><circle cx="494.0" cy="104.8" r="1.25"/><circle cx="484.0" cy="109.3" r="1.25"/><circle cx="490.8" cy="120.6" r="1.25"/><circle cx="487.0" cy="87.9" r="1.25"/><circle cx="485.8" cy="103.4" r="1.25"/><circle cx="475.3" cy="101.4" r="1.25"/><circle cx="484.9" cy="107.0" r="1.25"/><circle cx="471.5" cy="95.8" r="1.25"/><circle cx="490.5" cy="121.3" r="1.25"/><circle cx="494.5" cy="105.7" r="1.25"/><circle cx="491.9" cy="121.0" r="1.25"/><circle cx="471.8" cy="115.8" r="1.25"/><circle cx="479.0" cy="82.1" r="1.25"/><circle cx="478.5" cy="98.4" r="1.25"/><circle cx="473.3" cy="104.4" r="1.25"/><circle cx="486.2" cy="102.0" r="1.25"/><circle cx="490.4" cy="88.1" r="1.25"/><circle cx="478.3" cy="106.4" r="1.25"/><circle cx="492.1" cy="100.2" r="1.25"/><circle cx="490.4" cy="97.7" r="1.25"/><circle cx="473.7" cy="106.2" r="1.25"/><circle cx="489.7" cy="102.1" r="1.25"/><circle cx="492.6" cy="66.6" r="1.25"/><circle cx="475.4" cy="67.4" r="1.25"/><circle cx="484.8" cy="71.8" r="1.25"/><circle cx="486.5" cy="73.5" r="1.25"/><circle cx="485.7" cy="75.2" r="1.25"/><circle cx="472.9" cy="76.9" r="1.25"/></g>
<g fill="#DABC6F" fill-opacity="1.0"><circle cx="533.6" cy="81.4" r="1.25"/><circle cx="516.1" cy="82.4" r="1.25"/><circle cx="526.2" cy="69.8" r="1.25"/><circle cx="515.2" cy="72.1" r="1.25"/><circle cx="522.2" cy="94.8" r="1.25"/><circle cx="522.2" cy="79.3" r="1.25"/><circle cx="532.4" cy="64.7" r="1.25"/><circle cx="525.8" cy="61.7" r="1.25"/><circle cx="515.8" cy="106.1" r="1.25"/><circle cx="539.3" cy="117.9" r="1.25"/><circle cx="536.6" cy="81.7" r="1.25"/><circle cx="537.3" cy="101.4" r="1.25"/><circle cx="520.6" cy="84.8" r="1.25"/><circle cx="524.3" cy="55.7" r="1.25"/><circle cx="520.1" cy="92.5" r="1.25"/><circle cx="517.5" cy="98.2" r="1.25"/><circle cx="515.2" cy="88.9" r="1.25"/><circle cx="527.0" cy="81.5" r="1.25"/><circle cx="517.5" cy="111.4" r="1.25"/><circle cx="518.8" cy="92.4" r="1.25"/><circle cx="535.9" cy="108.5" r="1.25"/><circle cx="526.5" cy="81.3" r="1.25"/><circle cx="519.0" cy="69.0" r="1.25"/><circle cx="531.1" cy="92.6" r="1.25"/><circle cx="521.0" cy="92.8" r="1.25"/><circle cx="527.6" cy="85.6" r="1.25"/><circle cx="521.5" cy="101.4" r="1.25"/><circle cx="527.3" cy="98.6" r="1.25"/><circle cx="530.1" cy="94.7" r="1.25"/><circle cx="527.8" cy="88.9" r="1.25"/><circle cx="524.3" cy="113.1" r="1.25"/><circle cx="534.2" cy="78.0" r="1.25"/><circle cx="536.2" cy="84.2" r="1.25"/><circle cx="518.9" cy="96.1" r="1.25"/><circle cx="517.8" cy="113.5" r="1.25"/><circle cx="517.2" cy="76.8" r="1.25"/><circle cx="538.9" cy="108.8" r="1.25"/><circle cx="537.9" cy="108.6" r="1.25"/><circle cx="520.2" cy="108.8" r="1.25"/><circle cx="538.6" cy="113.1" r="1.25"/><circle cx="519.6" cy="60.2" r="1.25"/><circle cx="527.1" cy="97.5" r="1.25"/><circle cx="526.8" cy="95.8" r="1.25"/><circle cx="537.3" cy="68.7" r="1.25"/><circle cx="515.4" cy="82.8" r="1.25"/><circle cx="522.3" cy="103.9" r="1.25"/><circle cx="529.4" cy="89.9" r="1.25"/><circle cx="516.1" cy="62.8" r="1.25"/><circle cx="520.3" cy="92.6" r="1.25"/><circle cx="526.0" cy="79.7" r="1.25"/><circle cx="536.4" cy="111.8" r="1.25"/><circle cx="533.4" cy="79.1" r="1.25"/><circle cx="535.1" cy="75.3" r="1.25"/><circle cx="533.4" cy="69.5" r="1.25"/><circle cx="532.1" cy="80.9" r="1.25"/><circle cx="535.6" cy="92.8" r="1.25"/><circle cx="531.4" cy="114.6" r="1.25"/><circle cx="532.8" cy="86.3" r="1.25"/><circle cx="521.9" cy="77.5" r="1.25"/><circle cx="518.6" cy="103.5" r="1.25"/><circle cx="533.3" cy="97.6" r="1.25"/><circle cx="518.5" cy="85.7" r="1.25"/><circle cx="537.4" cy="78.4" r="1.25"/><circle cx="529.3" cy="61.3" r="1.25"/><circle cx="522.6" cy="109.2" r="1.25"/><circle cx="537.8" cy="104.1" r="1.25"/><circle cx="518.3" cy="72.6" r="1.25"/><circle cx="527.3" cy="82.0" r="1.25"/><circle cx="516.7" cy="79.3" r="1.25"/><circle cx="538.5" cy="49.7" r="1.25"/><circle cx="528.8" cy="56.4" r="1.25"/><circle cx="534.5" cy="67.5" r="1.25"/><circle cx="521.4" cy="75.2" r="1.25"/><circle cx="534.4" cy="91.7" r="1.25"/><circle cx="532.0" cy="82.1" r="1.25"/><circle cx="530.5" cy="104.1" r="1.25"/><circle cx="538.2" cy="77.2" r="1.25"/><circle cx="525.2" cy="77.4" r="1.25"/><circle cx="524.8" cy="79.3" r="1.25"/><circle cx="531.7" cy="89.5" r="1.25"/><circle cx="535.3" cy="92.5" r="1.25"/><circle cx="522.8" cy="90.6" r="1.25"/><circle cx="531.1" cy="117.3" r="1.25"/><circle cx="519.6" cy="67.4" r="1.25"/><circle cx="528.2" cy="85.5" r="1.25"/><circle cx="533.6" cy="92.1" r="1.25"/><circle cx="516.0" cy="85.3" r="1.25"/><circle cx="532.6" cy="79.3" r="1.25"/><circle cx="514.8" cy="92.4" r="1.25"/><circle cx="538.4" cy="69.0" r="1.25"/><circle cx="526.1" cy="58.7" r="1.25"/><circle cx="524.6" cy="92.1" r="1.25"/><circle cx="532.4" cy="108.2" r="1.25"/><circle cx="527.5" cy="77.1" r="1.25"/><circle cx="532.7" cy="50.1" r="1.25"/><circle cx="516.5" cy="107.3" r="1.25"/><circle cx="528.5" cy="79.6" r="1.25"/><circle cx="528.4" cy="69.6" r="1.25"/><circle cx="537.7" cy="58.5" r="1.25"/><circle cx="515.4" cy="109.4" r="1.25"/><circle cx="525.7" cy="112.2" r="1.25"/><circle cx="530.2" cy="50.7" r="1.25"/><circle cx="528.2" cy="110.0" r="1.25"/><circle cx="516.3" cy="104.8" r="1.25"/><circle cx="529.2" cy="84.4" r="1.25"/><circle cx="520.0" cy="89.4" r="1.25"/><circle cx="519.3" cy="78.3" r="1.25"/><circle cx="536.4" cy="103.6" r="1.25"/><circle cx="519.3" cy="59.3" r="1.25"/><circle cx="525.8" cy="101.2" r="1.25"/><circle cx="533.2" cy="39.0" r="1.25"/><circle cx="532.1" cy="39.8" r="1.25"/><circle cx="528.2" cy="45.9" r="1.25"/></g>
<text transform="translate(448.36,78.80) rotate(-90) scale(1,1.0)" font-size="8.50" fill="#111" stroke="#111" stroke-width="0.07" text-anchor="middle" >Log2(NLR + 1)</text>
<text transform="translate(622.20,16.41) scale(0.88,1)" font-size="8.64" fill="#222" stroke="#222" stroke-width="0.07" text-anchor="middle" ><tspan font-style="italic">P</tspan> = 7.7e−07</text>
<path d="M601.20,22.30V19.70H645.50V22.30" stroke="#444" stroke-width="0.8" fill="none" />
<line x1="575.30" y1="26.00" x2="575.30" y2="139.30" stroke="#999" stroke-width="1.3" />
<line x1="573.50" y1="49.23" x2="575.30" y2="49.23" stroke="#999" stroke-width="0.7" />
<text transform="translate(573.00,52.30) scale(0.88,1)" font-size="8.52" fill="#222" stroke="#222" stroke-width="0.07" text-anchor="end" >9</text>
<line x1="573.50" y1="77.22" x2="575.30" y2="77.22" stroke="#999" stroke-width="0.7" />
<text transform="translate(573.00,80.29) scale(0.88,1)" font-size="8.52" fill="#222" stroke="#222" stroke-width="0.07" text-anchor="end" >6</text>
<line x1="573.50" y1="105.21" x2="575.30" y2="105.21" stroke="#999" stroke-width="0.7" />
<text transform="translate(573.00,108.28) scale(0.88,1)" font-size="8.52" fill="#222" stroke="#222" stroke-width="0.07" text-anchor="end" >3</text>
<line x1="573.50" y1="133.20" x2="575.30" y2="133.20" stroke="#999" stroke-width="0.7" />
<text transform="translate(573.00,136.27) scale(0.88,1)" font-size="8.52" fill="#222" stroke="#222" stroke-width="0.07" text-anchor="end" >0</text>
<line x1="575.30" y1="139.30" x2="671.10" y2="139.30" stroke="#555" stroke-width="0.9" />
<line x1="601.20" y1="139.30" x2="601.20" y2="141.10" stroke="#555" stroke-width="0.7" />
<text transform="translate(601.50,149.47) scale(0.88,1)" font-size="8.81" fill="#111" stroke="#111" stroke-width="0.07" text-anchor="middle" >CTL</text>
<line x1="645.10" y1="139.30" x2="645.10" y2="141.10" stroke="#555" stroke-width="0.7" />
<text transform="translate(647.40,149.47) scale(0.88,1)" font-size="8.81" fill="#111" stroke="#111" stroke-width="0.07" text-anchor="middle" >CIP</text>
<line x1="601.20" y1="62.29" x2="601.20" y2="52.40" stroke="#86CFD3" stroke-width="0.9" />
<line x1="601.20" y1="69.94" x2="601.20" y2="78.71" stroke="#86CFD3" stroke-width="0.9" />
<rect x="585.75" y="62.29" width="30.90" height="7.65" stroke="#86CFD3" stroke-width="0.9" fill="none" />
<line x1="585.75" y1="66.30" x2="616.65" y2="66.30" stroke="#86CFD3" stroke-width="0.9" />
<line x1="645.10" y1="53.15" x2="645.10" y2="37.10" stroke="#E9D39C" stroke-width="0.9" />
<line x1="645.10" y1="64.81" x2="645.10" y2="78.71" stroke="#E9D39C" stroke-width="0.9" />
<rect x="629.40" y="53.15" width="31.40" height="11.66" stroke="#E9D39C" stroke-width="0.9" fill="none" />
<line x1="629.40" y1="59.40" x2="660.80" y2="59.40" stroke="#E9D39C" stroke-width="0.9" />
<g fill="#64B795" fill-opacity="1.0"><circle cx="599.1" cy="60.0" r="1.25"/><circle cx="609.1" cy="66.8" r="1.25"/><circle cx="592.7" cy="64.4" r="1.25"/><circle cx="611.8" cy="59.6" r="1.25"/><circle cx="611.0" cy="63.4" r="1.25"/><circle cx="605.4" cy="64.0" r="1.25"/><circle cx="589.9" cy="67.7" r="1.25"/><circle cx="605.3" cy="65.4" r="1.25"/><circle cx="603.7" cy="67.8" r="1.25"/><circle cx="608.0" cy="62.4" r="1.25"/><circle cx="594.0" cy="68.0" r="1.25"/><circle cx="612.5" cy="66.8" r="1.25"/><circle cx="610.9" cy="62.1" r="1.25"/><circle cx="591.6" cy="66.2" r="1.25"/><circle cx="596.6" cy="68.7" r="1.25"/><circle cx="589.5" cy="59.3" r="1.25"/><circle cx="609.5" cy="68.0" r="1.25"/><circle cx="611.6" cy="58.5" r="1.25"/><circle cx="613.4" cy="60.9" r="1.25"/><circle cx="604.0" cy="67.1" r="1.25"/><circle cx="605.3" cy="62.9" r="1.25"/><circle cx="605.7" cy="77.5" r="1.25"/><circle cx="603.0" cy="67.9" r="1.25"/><circle cx="612.5" cy="57.9" r="1.25"/><circle cx="603.9" cy="65.0" r="1.25"/><circle cx="597.1" cy="65.4" r="1.25"/><circle cx="601.5" cy="63.7" r="1.25"/><circle cx="589.2" cy="63.5" r="1.25"/><circle cx="606.8" cy="65.0" r="1.25"/><circle cx="606.0" cy="67.5" r="1.25"/><circle cx="599.2" cy="72.3" r="1.25"/><circle cx="610.0" cy="69.3" r="1.25"/><circle cx="607.6" cy="69.3" r="1.25"/><circle cx="597.1" cy="67.3" r="1.25"/><circle cx="590.6" cy="52.4" r="1.25"/><circle cx="592.0" cy="68.4" r="1.25"/><circle cx="593.3" cy="67.1" r="1.25"/><circle cx="596.3" cy="68.2" r="1.25"/><circle cx="599.9" cy="65.0" r="1.25"/><circle cx="611.9" cy="54.5" r="1.25"/><circle cx="595.7" cy="56.8" r="1.25"/><circle cx="611.2" cy="68.1" r="1.25"/><circle cx="605.7" cy="69.7" r="1.25"/><circle cx="610.0" cy="57.0" r="1.25"/><circle cx="598.8" cy="66.4" r="1.25"/><circle cx="588.8" cy="63.3" r="1.25"/><circle cx="608.4" cy="76.1" r="1.25"/><circle cx="594.8" cy="57.7" r="1.25"/><circle cx="592.3" cy="69.0" r="1.25"/><circle cx="608.7" cy="66.4" r="1.25"/><circle cx="605.9" cy="71.8" r="1.25"/><circle cx="594.0" cy="67.5" r="1.25"/><circle cx="595.4" cy="59.2" r="1.25"/><circle cx="612.2" cy="59.2" r="1.25"/><circle cx="595.4" cy="66.7" r="1.25"/><circle cx="606.3" cy="61.6" r="1.25"/><circle cx="591.9" cy="66.9" r="1.25"/><circle cx="609.1" cy="68.1" r="1.25"/><circle cx="591.6" cy="65.6" r="1.25"/><circle cx="601.6" cy="71.6" r="1.25"/><circle cx="589.6" cy="69.0" r="1.25"/><circle cx="602.5" cy="63.0" r="1.25"/><circle cx="609.9" cy="61.5" r="1.25"/><circle cx="590.8" cy="76.7" r="1.25"/><circle cx="595.6" cy="62.6" r="1.25"/><circle cx="607.8" cy="59.6" r="1.25"/><circle cx="603.9" cy="67.1" r="1.25"/><circle cx="596.5" cy="76.5" r="1.25"/><circle cx="604.4" cy="63.4" r="1.25"/><circle cx="600.1" cy="70.1" r="1.25"/><circle cx="610.3" cy="64.0" r="1.25"/><circle cx="596.0" cy="68.1" r="1.25"/><circle cx="607.6" cy="64.1" r="1.25"/><circle cx="604.6" cy="69.8" r="1.25"/><circle cx="607.2" cy="66.6" r="1.25"/><circle cx="598.2" cy="65.9" r="1.25"/><circle cx="606.8" cy="64.2" r="1.25"/><circle cx="606.2" cy="71.6" r="1.25"/><circle cx="598.4" cy="53.9" r="1.25"/><circle cx="589.4" cy="69.4" r="1.25"/><circle cx="612.8" cy="69.1" r="1.25"/><circle cx="606.5" cy="69.9" r="1.25"/><circle cx="593.8" cy="76.3" r="1.25"/><circle cx="607.0" cy="67.4" r="1.25"/><circle cx="595.7" cy="61.4" r="1.25"/><circle cx="600.4" cy="62.9" r="1.25"/><circle cx="610.2" cy="71.9" r="1.25"/><circle cx="599.9" cy="73.9" r="1.25"/><circle cx="595.9" cy="68.9" r="1.25"/><circle cx="596.3" cy="61.6" r="1.25"/><circle cx="590.6" cy="66.5" r="1.25"/><circle cx="594.2" cy="55.4" r="1.25"/><circle cx="595.5" cy="63.8" r="1.25"/><circle cx="593.0" cy="64.4" r="1.25"/><circle cx="590.3" cy="61.6" r="1.25"/><circle cx="600.3" cy="62.3" r="1.25"/><circle cx="594.1" cy="68.6" r="1.25"/><circle cx="607.2" cy="69.8" r="1.25"/><circle cx="611.8" cy="67.2" r="1.25"/><circle cx="595.5" cy="66.5" r="1.25"/><circle cx="603.0" cy="73.7" r="1.25"/><circle cx="601.4" cy="67.2" r="1.25"/><circle cx="590.6" cy="64.1" r="1.25"/><circle cx="591.8" cy="74.0" r="1.25"/><circle cx="610.8" cy="73.9" r="1.25"/><circle cx="600.6" cy="72.6" r="1.25"/><circle cx="608.8" cy="69.5" r="1.25"/><circle cx="590.4" cy="53.9" r="1.25"/><circle cx="603.6" cy="77.8" r="1.25"/><circle cx="610.3" cy="72.3" r="1.25"/><circle cx="610.4" cy="72.9" r="1.25"/><circle cx="588.8" cy="66.7" r="1.25"/><circle cx="601.7" cy="78.2" r="1.25"/><circle cx="597.9" cy="66.9" r="1.25"/><circle cx="607.7" cy="73.0" r="1.25"/><circle cx="590.5" cy="69.7" r="1.25"/><circle cx="595.3" cy="60.6" r="1.25"/><circle cx="609.0" cy="72.3" r="1.25"/><circle cx="600.4" cy="64.4" r="1.25"/><circle cx="600.0" cy="67.7" r="1.25"/><circle cx="612.9" cy="43.6" r="1.25"/><circle cx="596.7" cy="47.4" r="1.25"/><circle cx="589.7" cy="48.3" r="1.25"/><circle cx="598.5" cy="50.2" r="1.25"/><circle cx="592.5" cy="51.1" r="1.25"/></g>
<g fill="#DABC6F" fill-opacity="1.0"><circle cx="642.0" cy="74.2" r="1.25"/><circle cx="651.5" cy="57.7" r="1.25"/><circle cx="644.4" cy="41.6" r="1.25"/><circle cx="643.8" cy="57.4" r="1.25"/><circle cx="642.3" cy="55.7" r="1.25"/><circle cx="643.4" cy="63.2" r="1.25"/><circle cx="636.1" cy="57.6" r="1.25"/><circle cx="634.1" cy="53.0" r="1.25"/><circle cx="651.4" cy="57.2" r="1.25"/><circle cx="646.7" cy="50.2" r="1.25"/><circle cx="649.4" cy="58.1" r="1.25"/><circle cx="652.7" cy="67.7" r="1.25"/><circle cx="638.4" cy="57.3" r="1.25"/><circle cx="638.4" cy="59.6" r="1.25"/><circle cx="639.5" cy="69.5" r="1.25"/><circle cx="640.2" cy="56.4" r="1.25"/><circle cx="651.6" cy="49.4" r="1.25"/><circle cx="642.0" cy="71.2" r="1.25"/><circle cx="640.7" cy="58.3" r="1.25"/><circle cx="648.5" cy="53.6" r="1.25"/><circle cx="637.3" cy="61.5" r="1.25"/><circle cx="635.3" cy="64.4" r="1.25"/><circle cx="650.0" cy="62.2" r="1.25"/><circle cx="651.5" cy="58.4" r="1.25"/><circle cx="640.0" cy="54.7" r="1.25"/><circle cx="648.5" cy="57.9" r="1.25"/><circle cx="633.5" cy="72.8" r="1.25"/><circle cx="642.7" cy="49.3" r="1.25"/><circle cx="647.0" cy="43.3" r="1.25"/><circle cx="638.9" cy="73.1" r="1.25"/><circle cx="641.3" cy="64.8" r="1.25"/><circle cx="647.8" cy="69.1" r="1.25"/><circle cx="647.3" cy="47.5" r="1.25"/><circle cx="636.5" cy="44.1" r="1.25"/><circle cx="650.3" cy="76.3" r="1.25"/><circle cx="634.6" cy="63.0" r="1.25"/><circle cx="656.8" cy="68.0" r="1.25"/><circle cx="637.7" cy="60.1" r="1.25"/><circle cx="638.9" cy="43.4" r="1.25"/><circle cx="637.6" cy="74.8" r="1.25"/><circle cx="657.4" cy="69.2" r="1.25"/><circle cx="639.8" cy="59.7" r="1.25"/><circle cx="647.7" cy="58.8" r="1.25"/><circle cx="657.4" cy="53.3" r="1.25"/><circle cx="656.4" cy="60.7" r="1.25"/><circle cx="633.7" cy="70.9" r="1.25"/><circle cx="645.6" cy="62.6" r="1.25"/><circle cx="647.6" cy="40.0" r="1.25"/><circle cx="650.2" cy="53.1" r="1.25"/><circle cx="641.0" cy="72.2" r="1.25"/><circle cx="640.8" cy="49.8" r="1.25"/><circle cx="632.7" cy="63.5" r="1.25"/><circle cx="633.5" cy="51.4" r="1.25"/><circle cx="646.4" cy="78.0" r="1.25"/><circle cx="634.5" cy="46.3" r="1.25"/><circle cx="637.7" cy="69.7" r="1.25"/><circle cx="640.9" cy="60.4" r="1.25"/><circle cx="634.4" cy="55.4" r="1.25"/><circle cx="633.4" cy="59.2" r="1.25"/><circle cx="655.8" cy="69.5" r="1.25"/><circle cx="643.5" cy="71.0" r="1.25"/><circle cx="637.7" cy="64.1" r="1.25"/><circle cx="650.3" cy="75.8" r="1.25"/><circle cx="632.8" cy="66.7" r="1.25"/><circle cx="638.7" cy="71.5" r="1.25"/><circle cx="656.6" cy="60.2" r="1.25"/><circle cx="655.0" cy="62.5" r="1.25"/><circle cx="648.5" cy="57.2" r="1.25"/><circle cx="634.9" cy="64.1" r="1.25"/><circle cx="640.6" cy="76.8" r="1.25"/><circle cx="633.3" cy="63.1" r="1.25"/><circle cx="638.1" cy="52.9" r="1.25"/><circle cx="633.2" cy="64.7" r="1.25"/><circle cx="635.8" cy="61.5" r="1.25"/><circle cx="648.4" cy="52.9" r="1.25"/><circle cx="635.1" cy="61.4" r="1.25"/><circle cx="636.5" cy="45.4" r="1.25"/><circle cx="655.2" cy="43.6" r="1.25"/><circle cx="641.0" cy="63.5" r="1.25"/><circle cx="640.9" cy="53.5" r="1.25"/><circle cx="634.8" cy="64.7" r="1.25"/><circle cx="652.5" cy="71.0" r="1.25"/><circle cx="649.5" cy="60.7" r="1.25"/><circle cx="646.3" cy="56.8" r="1.25"/><circle cx="648.0" cy="42.6" r="1.25"/><circle cx="635.1" cy="70.6" r="1.25"/><circle cx="639.1" cy="54.1" r="1.25"/><circle cx="647.2" cy="59.9" r="1.25"/><circle cx="656.4" cy="71.4" r="1.25"/><circle cx="653.0" cy="40.5" r="1.25"/><circle cx="648.6" cy="54.5" r="1.25"/><circle cx="645.6" cy="71.5" r="1.25"/><circle cx="633.0" cy="44.3" r="1.25"/><circle cx="654.9" cy="73.0" r="1.25"/><circle cx="634.3" cy="73.6" r="1.25"/><circle cx="635.8" cy="63.0" r="1.25"/><circle cx="649.9" cy="42.5" r="1.25"/><circle cx="652.9" cy="76.9" r="1.25"/><circle cx="652.3" cy="43.6" r="1.25"/><circle cx="643.9" cy="56.6" r="1.25"/><circle cx="637.0" cy="75.0" r="1.25"/><circle cx="633.5" cy="57.7" r="1.25"/><circle cx="653.9" cy="60.3" r="1.25"/><circle cx="657.0" cy="57.8" r="1.25"/><circle cx="638.7" cy="53.5" r="1.25"/><circle cx="654.3" cy="54.9" r="1.25"/><circle cx="642.7" cy="39.1" r="1.25"/><circle cx="640.4" cy="70.0" r="1.25"/><circle cx="645.2" cy="49.6" r="1.25"/><circle cx="632.8" cy="61.3" r="1.25"/><circle cx="643.7" cy="51.3" r="1.25"/><circle cx="637.6" cy="45.1" r="1.25"/><circle cx="650.4" cy="39.4" r="1.25"/><circle cx="645.2" cy="64.5" r="1.25"/><circle cx="654.3" cy="60.4" r="1.25"/><circle cx="655.0" cy="42.2" r="1.25"/><circle cx="640.5" cy="42.0" r="1.25"/><circle cx="639.6" cy="62.2" r="1.25"/><circle cx="656.1" cy="42.4" r="1.25"/><circle cx="645.2" cy="61.4" r="1.25"/><circle cx="635.0" cy="37.1" r="1.25"/><circle cx="633.7" cy="38.0" r="1.25"/></g>
<text transform="translate(565.00,78.30) rotate(-90) scale(1,1.0)" font-size="8.90" fill="#111" stroke="#111" stroke-width="0.07" text-anchor="middle" >Log2(PLR + 1)</text>
<line x1="426.60" y1="179.70" x2="426.60" y2="284.00" stroke="#333" stroke-width="0.9" />
<line x1="424.80" y1="184.60" x2="426.60" y2="184.60" stroke="#333" stroke-width="0.7" />
<text transform="translate(424.30,187.67) scale(0.88,1)" font-size="8.52" fill="#222" stroke="#222" stroke-width="0.07" text-anchor="end" >80</text>
<line x1="424.80" y1="208.25" x2="426.60" y2="208.25" stroke="#333" stroke-width="0.7" />
<text transform="translate(424.30,211.32) scale(0.88,1)" font-size="8.52" fill="#222" stroke="#222" stroke-width="0.07" text-anchor="end" >60</text>
<line x1="424.80" y1="231.90" x2="426.60" y2="231.90" stroke="#333" stroke-width="0.7" />
<text transform="translate(424.30,234.97) scale(0.88,1)" font-size="8.52" fill="#222" stroke="#222" stroke-width="0.07" text-anchor="end" >40</text>
<line x1="424.80" y1="255.55" x2="426.60" y2="255.55" stroke="#333" stroke-width="0.7" />
<text transform="translate(424.30,258.62) scale(0.88,1)" font-size="8.52" fill="#222" stroke="#222" stroke-width="0.07" text-anchor="end" >20</text>
<line x1="424.80" y1="279.20" x2="426.60" y2="279.20" stroke="#333" stroke-width="0.7" />
<text transform="translate(424.30,282.27) scale(0.88,1)" font-size="8.52" fill="#222" stroke="#222" stroke-width="0.07" text-anchor="end" >0</text>
<line x1="426.60" y1="284.00" x2="491.60" y2="284.00" stroke="#333" stroke-width="0.9" />
<line x1="444.50" y1="284.00" x2="444.50" y2="285.80" stroke="#333" stroke-width="0.7" />
<text transform="translate(445.10,294.17) scale(0.88,1)" font-size="8.81" fill="#111" stroke="#111" stroke-width="0.07" text-anchor="middle" >CTL</text>
<line x1="474.00" y1="284.00" x2="474.00" y2="285.80" stroke="#333" stroke-width="0.7" />
<text transform="translate(475.30,294.17) scale(0.88,1)" font-size="8.81" fill="#111" stroke="#111" stroke-width="0.07" text-anchor="middle" >CIP</text>
<line x1="444.50" y1="252.60" x2="444.50" y2="246.00" stroke="#86CFD3" stroke-width="0.9" />
<line x1="444.50" y1="271.50" x2="444.50" y2="272.50" stroke="#86CFD3" stroke-width="0.9" />
<rect x="434.15" y="252.60" width="20.70" height="18.90" stroke="#86CFD3" stroke-width="0.9" fill="none" />
<line x1="434.15" y1="263.30" x2="454.85" y2="263.30" stroke="#86CFD3" stroke-width="0.9" />
<line x1="474.00" y1="228.80" x2="474.00" y2="186.40" stroke="#E9D39C" stroke-width="0.9" />
<line x1="474.00" y1="269.20" x2="474.00" y2="276.50" stroke="#E9D39C" stroke-width="0.9" />
<rect x="463.45" y="228.80" width="21.10" height="40.40" stroke="#E9D39C" stroke-width="0.9" fill="none" />
<line x1="463.45" y1="262.20" x2="484.55" y2="262.20" stroke="#E9D39C" stroke-width="0.9" />
<g fill="#64B795"><circle cx="445.0" cy="215.0" r="2.7"/><circle cx="443.8" cy="244.6" r="2.7"/><circle cx="447.0" cy="248.1" r="2.7"/><circle cx="439.5" cy="255.8" r="2.7"/><circle cx="444.5" cy="253.8" r="2.7"/><circle cx="449.0" cy="255.3" r="2.7"/><circle cx="439.2" cy="272.2" r="2.7"/><circle cx="443.0" cy="273.0" r="2.7"/><circle cx="447.0" cy="271.2" r="2.7"/><circle cx="450.0" cy="270.2" r="2.7"/></g>
<g fill="#DABC6F"><circle cx="479.1" cy="186.4" r="2.7"/><circle cx="474.2" cy="205.3" r="2.7"/><circle cx="477.5" cy="252.3" r="2.7"/><circle cx="478.5" cy="262.0" r="2.7"/><circle cx="468.4" cy="265.0" r="2.7"/><circle cx="471.3" cy="272.2" r="2.7"/><circle cx="473.0" cy="276.5" r="2.7"/></g>
<text transform="translate(399.75,233.30) rotate(-90) scale(1,0.88)" font-size="9.00" fill="#111" stroke="#111" stroke-width="0.07" text-anchor="middle" >Treg cells</text>
<text transform="translate(410.59,231.50) rotate(-90) scale(1,0.88)" font-size="8.80" fill="#111" stroke="#111" stroke-width="0.07" text-anchor="middle" >( % of CD4<tspan font-size="4.8" dy="-3.1">+</tspan><tspan dy="3.1"> </tspan>T cells)</text>
<text transform="translate(459.30,177.21) scale(0.88,1)" font-size="8.64" fill="#222" stroke="#222" stroke-width="0.07" text-anchor="middle" ><tspan font-style="italic">P</tspan> = 0.65</text>
<path d="M443.50,182.20V179.60H473.70V182.20" stroke="#444" stroke-width="0.8" fill="none" />
<text transform="translate(393.60,171.90) scale(0.88,1)" font-size="13.98" fill="#1a1010" stroke="#1a1010" stroke-width="0.07" text-anchor="middle" font-weight="bold" >d</text>
<line x1="530.40" y1="181.50" x2="530.40" y2="283.30" stroke="#333" stroke-width="0.9" />
<line x1="528.60" y1="185.60" x2="530.40" y2="185.60" stroke="#333" stroke-width="0.7" />
<text transform="translate(528.10,188.67) scale(0.88,1)" font-size="8.52" fill="#222" stroke="#222" stroke-width="0.07" text-anchor="end" >25</text>
<line x1="528.60" y1="204.30" x2="530.40" y2="204.30" stroke="#333" stroke-width="0.7" />
<text transform="translate(528.10,207.37) scale(0.88,1)" font-size="8.52" fill="#222" stroke="#222" stroke-width="0.07" text-anchor="end" >20</text>
<line x1="528.60" y1="223.00" x2="530.40" y2="223.00" stroke="#333" stroke-width="0.7" />
<text transform="translate(528.10,226.07) scale(0.88,1)" font-size="8.52" fill="#222" stroke="#222" stroke-width="0.07" text-anchor="end" >15</text>
<line x1="528.60" y1="241.70" x2="530.40" y2="241.70" stroke="#333" stroke-width="0.7" />
<text transform="translate(528.10,244.77) scale(0.88,1)" font-size="8.52" fill="#222" stroke="#222" stroke-width="0.07" text-anchor="end" >10</text>
<line x1="528.60" y1="260.40" x2="530.40" y2="260.40" stroke="#333" stroke-width="0.7" />
<text transform="translate(528.10,263.47) scale(0.88,1)" font-size="8.52" fill="#222" stroke="#222" stroke-width="0.07" text-anchor="end" >5</text>
<line x1="528.60" y1="279.10" x2="530.40" y2="279.10" stroke="#333" stroke-width="0.7" />
<text transform="translate(528.10,282.17) scale(0.88,1)" font-size="8.52" fill="#222" stroke="#222" stroke-width="0.07" text-anchor="end" >0</text>
<line x1="530.40" y1="283.30" x2="594.00" y2="283.30" stroke="#333" stroke-width="0.9" />
<line x1="548.00" y1="283.30" x2="548.00" y2="285.10" stroke="#333" stroke-width="0.7" />
<text transform="translate(547.70,293.47) scale(0.88,1)" font-size="8.81" fill="#111" stroke="#111" stroke-width="0.07" text-anchor="middle" >CTL</text>
<line x1="577.00" y1="283.30" x2="577.00" y2="285.10" stroke="#333" stroke-width="0.7" />
<text transform="translate(577.80,293.47) scale(0.88,1)" font-size="8.81" fill="#111" stroke="#111" stroke-width="0.07" text-anchor="middle" >CIP</text>
<line x1="548.00" y1="243.50" x2="548.00" y2="229.20" stroke="#86CFD3" stroke-width="0.9" />
<line x1="548.00" y1="263.50" x2="548.00" y2="274.50" stroke="#86CFD3" stroke-width="0.9" />
<rect x="537.60" y="243.50" width="20.80" height="20.00" stroke="#86CFD3" stroke-width="0.9" fill="none" />
<line x1="537.60" y1="251.50" x2="558.40" y2="251.50" stroke="#86CFD3" stroke-width="0.9" />
<line x1="577.00" y1="221.10" x2="577.00" y2="193.50" stroke="#F6D8A6" stroke-width="0.9" />
<line x1="577.00" y1="241.20" x2="577.00" y2="243.50" stroke="#F6D8A6" stroke-width="0.9" />
<rect x="566.50" y="221.10" width="21.00" height="20.10" stroke="#F6D8A6" stroke-width="0.9" fill="none" />
<line x1="566.50" y1="238.40" x2="587.50" y2="238.40" stroke="#F6D8A6" stroke-width="0.9" />
<g fill="#64B795"><circle cx="547.4" cy="229.7" r="2.7"/><circle cx="543.8" cy="235.4" r="2.7"/><circle cx="546.5" cy="238.6" r="2.7"/><circle cx="553.3" cy="245.3" r="2.7"/><circle cx="552.5" cy="249.2" r="2.7"/><circle cx="542.2" cy="249.2" r="2.7"/><circle cx="545.0" cy="253.0" r="2.7"/><circle cx="550.5" cy="255.6" r="2.7"/><circle cx="548.4" cy="261.8" r="2.7"/><circle cx="552.2" cy="268.7" r="2.7"/><circle cx="547.6" cy="273.4" r="2.7"/><circle cx="546.5" cy="275.2" r="2.7"/></g>
<g fill="#F1C47F"><circle cx="574.8" cy="193.5" r="2.7"/><circle cx="576.5" cy="212.7" r="2.7"/><circle cx="571.7" cy="229.2" r="2.7"/><circle cx="577.3" cy="237.3" r="2.7"/><circle cx="581.0" cy="239.5" r="2.7"/><circle cx="581.4" cy="244.1" r="2.7"/><circle cx="582.2" cy="273.8" r="2.7"/></g>
<text transform="translate(505.38,235.50) rotate(-90) scale(1,0.88)" font-size="9.10" fill="#111" stroke="#111" stroke-width="0.07" text-anchor="middle" >Th17 cells</text>
<text transform="translate(515.59,233.90) rotate(-90) scale(1,0.88)" font-size="8.80" fill="#111" stroke="#111" stroke-width="0.07" text-anchor="middle" >( % of CD4<tspan font-size="4.8" dy="-3.1">+</tspan><tspan dy="3.1"> </tspan>T cells)</text>
<text transform="translate(560.60,179.71) scale(0.88,1)" font-size="8.64" fill="#222" stroke="#222" stroke-width="0.07" text-anchor="middle" ><tspan font-style="italic">P</tspan> = 0.056</text>
<path d="M545.30,185.30V182.70H574.80V185.30" stroke="#444" stroke-width="0.8" fill="none" />
<text transform="translate(497.90,172.50) scale(0.88,1)" font-size="13.98" fill="#1a1010" stroke="#1a1010" stroke-width="0.07" text-anchor="middle" font-weight="bold" >e</text>
<line x1="621.90" y1="180.70" x2="621.90" y2="283.00" stroke="#888" stroke-width="0.9" />
<line x1="620.10" y1="185.40" x2="621.90" y2="185.40" stroke="#888" stroke-width="0.7" />
<text transform="translate(619.60,188.47) scale(0.88,1)" font-size="8.52" fill="#222" stroke="#222" stroke-width="0.07" text-anchor="end" >10.0</text>
<line x1="620.10" y1="208.65" x2="621.90" y2="208.65" stroke="#888" stroke-width="0.7" />
<text transform="translate(619.60,211.72) scale(0.88,1)" font-size="8.52" fill="#222" stroke="#222" stroke-width="0.07" text-anchor="end" >7.5</text>
<line x1="620.10" y1="231.90" x2="621.90" y2="231.90" stroke="#888" stroke-width="0.7" />
<text transform="translate(619.60,234.97) scale(0.88,1)" font-size="8.52" fill="#222" stroke="#222" stroke-width="0.07" text-anchor="end" >5.0</text>
<line x1="620.10" y1="255.15" x2="621.90" y2="255.15" stroke="#888" stroke-width="0.7" />
<text transform="translate(619.60,258.22) scale(0.88,1)" font-size="8.52" fill="#222" stroke="#222" stroke-width="0.07" text-anchor="end" >2.5</text>
<line x1="620.10" y1="278.40" x2="621.90" y2="278.40" stroke="#888" stroke-width="0.7" />
<text transform="translate(619.60,281.47) scale(0.88,1)" font-size="8.52" fill="#222" stroke="#222" stroke-width="0.07" text-anchor="end" >0.0</text>
<line x1="621.90" y1="283.00" x2="685.00" y2="283.00" stroke="#888" stroke-width="0.9" />
<line x1="639.30" y1="283.00" x2="639.30" y2="284.80" stroke="#888" stroke-width="0.7" />
<text transform="translate(639.70,293.17) scale(0.88,1)" font-size="8.81" fill="#111" stroke="#111" stroke-width="0.07" text-anchor="middle" >CTL</text>
<line x1="667.50" y1="283.00" x2="667.50" y2="284.80" stroke="#888" stroke-width="0.7" />
<text transform="translate(670.30,293.17) scale(0.88,1)" font-size="8.81" fill="#111" stroke="#111" stroke-width="0.07" text-anchor="middle" >CIP</text>
<line x1="639.30" y1="267.60" x2="639.30" y2="259.00" stroke="#86CFD3" stroke-width="0.9" />
<line x1="639.30" y1="276.50" x2="639.30" y2="278.00" stroke="#86CFD3" stroke-width="0.9" />
<rect x="629.15" y="267.60" width="20.30" height="8.90" stroke="#86CFD3" stroke-width="0.9" fill="none" />
<line x1="629.15" y1="274.50" x2="649.45" y2="274.50" stroke="#86CFD3" stroke-width="0.9" />
<line x1="667.50" y1="253.80" x2="667.50" y2="240.00" stroke="#F6D8A6" stroke-width="0.9" />
<line x1="667.50" y1="275.30" x2="667.50" y2="278.50" stroke="#F6D8A6" stroke-width="0.9" />
<rect x="657.45" y="253.80" width="20.10" height="21.50" stroke="#F6D8A6" stroke-width="0.9" fill="none" />
<line x1="657.45" y1="272.50" x2="677.55" y2="272.50" stroke="#F6D8A6" stroke-width="0.9" />
<g fill="#64B795"><circle cx="637.5" cy="258.7" r="2.7"/><circle cx="633.5" cy="264.9" r="2.7"/><circle cx="644.5" cy="267.9" r="2.7"/><circle cx="637.0" cy="273.0" r="2.7"/><circle cx="640.0" cy="276.8" r="2.7"/><circle cx="644.0" cy="275.0" r="2.7"/><circle cx="633.5" cy="274.0" r="2.7"/><circle cx="639.0" cy="278.5" r="2.7"/><circle cx="642.0" cy="277.5" r="2.7"/><circle cx="636.0" cy="276.5" r="2.7"/></g>
<g fill="#DABC6F"><circle cx="666.7" cy="205.3" r="2.7"/><circle cx="665.2" cy="239.7" r="2.7"/><circle cx="662.8" cy="267.6" r="2.7"/><circle cx="672.5" cy="272.2" r="2.7"/><circle cx="670.0" cy="276.1" r="2.7"/><circle cx="673.3" cy="278.8" r="2.7"/><circle cx="668.0" cy="278.0" r="2.7"/></g>
<text transform="translate(602.65,231.10) rotate(-90) scale(1,0.88)" font-size="9.00" fill="#111" stroke="#111" stroke-width="0.07" text-anchor="middle" >Th17 / Treg</text>
<text transform="translate(650.30,177.21) scale(0.88,1)" font-size="8.64" fill="#222" stroke="#222" stroke-width="0.07" text-anchor="middle" ><tspan font-style="italic">P</tspan> = 0.59</text>
<path d="M635.70,182.10V179.50H665.60V182.10" stroke="#444" stroke-width="0.8" fill="none" />
<text transform="translate(591.60,171.90) scale(0.88,1)" font-size="13.98" fill="#1a1010" stroke="#1a1010" stroke-width="0.07" text-anchor="middle" font-weight="bold" >f</text>
<line x1="471.90" y1="332.30" x2="471.90" y2="436.20" stroke="#333" stroke-width="0.9" />
<line x1="470.10" y1="337.20" x2="471.90" y2="337.20" stroke="#333" stroke-width="0.7" />
<text transform="translate(469.60,340.27) scale(0.88,1)" font-size="8.52" fill="#222" stroke="#222" stroke-width="0.07" text-anchor="end" >80</text>
<line x1="470.10" y1="360.90" x2="471.90" y2="360.90" stroke="#333" stroke-width="0.7" />
<text transform="translate(469.60,363.97) scale(0.88,1)" font-size="8.52" fill="#222" stroke="#222" stroke-width="0.07" text-anchor="end" >60</text>
<line x1="470.10" y1="384.60" x2="471.90" y2="384.60" stroke="#333" stroke-width="0.7" />
<text transform="translate(469.60,387.67) scale(0.88,1)" font-size="8.52" fill="#222" stroke="#222" stroke-width="0.07" text-anchor="end" >40</text>
<line x1="470.10" y1="408.30" x2="471.90" y2="408.30" stroke="#333" stroke-width="0.7" />
<text transform="translate(469.60,411.37) scale(0.88,1)" font-size="8.52" fill="#222" stroke="#222" stroke-width="0.07" text-anchor="end" >20</text>
<line x1="470.10" y1="432.00" x2="471.90" y2="432.00" stroke="#333" stroke-width="0.7" />
<text transform="translate(469.60,435.07) scale(0.88,1)" font-size="8.52" fill="#222" stroke="#222" stroke-width="0.07" text-anchor="end" >0</text>
<line x1="471.90" y1="436.20" x2="536.20" y2="436.20" stroke="#333" stroke-width="0.9" />
<line x1="490.00" y1="436.20" x2="490.00" y2="438.00" stroke="#333" stroke-width="0.7" />
<text transform="translate(490.60,445.67) scale(0.88,1)" font-size="8.81" fill="#111" stroke="#111" stroke-width="0.07" text-anchor="middle" >CTL</text>
<line x1="519.20" y1="436.20" x2="519.20" y2="438.00" stroke="#333" stroke-width="0.7" />
<text transform="translate(519.80,445.67) scale(0.88,1)" font-size="8.81" fill="#111" stroke="#111" stroke-width="0.07" text-anchor="middle" >CIP</text>
<line x1="490.00" y1="360.00" x2="490.00" y2="350.80" stroke="#88CDB1" stroke-width="0.9" />
<line x1="490.00" y1="378.20" x2="490.00" y2="387.00" stroke="#88CDB1" stroke-width="0.9" />
<rect x="479.35" y="360.00" width="21.30" height="18.20" stroke="#88CDB1" stroke-width="0.9" fill="none" />
<line x1="479.35" y1="368.40" x2="500.65" y2="368.40" stroke="#88CDB1" stroke-width="0.9" />
<line x1="519.20" y1="380.00" x2="519.20" y2="367.30" stroke="#E9D39C" stroke-width="0.9" />
<line x1="519.20" y1="383.70" x2="519.20" y2="394.50" stroke="#E9D39C" stroke-width="0.9" />
<rect x="508.70" y="380.00" width="21.00" height="3.70" stroke="#E9D39C" stroke-width="0.9" fill="none" />
<line x1="508.70" y1="382.00" x2="529.70" y2="382.00" stroke="#E9D39C" stroke-width="0.9" />
<g fill="#64B795"><circle cx="486.8" cy="353.0" r="2.7"/><circle cx="494.4" cy="350.8" r="2.7"/><circle cx="494.4" cy="355.2" r="2.7"/><circle cx="490.3" cy="361.4" r="2.7"/><circle cx="483.7" cy="363.3" r="2.7"/><circle cx="489.0" cy="368.4" r="2.7"/><circle cx="492.0" cy="368.0" r="2.7"/><circle cx="488.0" cy="370.5" r="2.7"/><circle cx="495.1" cy="374.5" r="2.7"/><circle cx="484.8" cy="390.3" r="2.7"/><circle cx="489.0" cy="389.2" r="2.7"/><circle cx="490.3" cy="407.9" r="2.7"/></g>
<g fill="#DABC6F"><circle cx="522.9" cy="367.3" r="2.7"/><circle cx="518.1" cy="377.6" r="2.7"/><circle cx="513.0" cy="382.6" r="2.7"/><circle cx="519.0" cy="383.5" r="2.7"/><circle cx="524.0" cy="383.5" r="2.7"/><circle cx="524.3" cy="394.9" r="2.7"/></g>
<text transform="translate(445.26,381.80) rotate(-90) scale(1,0.88)" font-size="8.70" fill="#111" stroke="#111" stroke-width="0.07" text-anchor="middle" >CD3<tspan font-size="4.8" dy="-3.1">+</tspan><tspan dy="3.1"> </tspan>T cells</text>
<text transform="translate(456.64,380.50) rotate(-90) scale(1,0.88)" font-size="8.95" fill="#111" stroke="#111" stroke-width="0.07" text-anchor="middle" >( % of all immune cells)</text>
<text transform="translate(505.00,336.91) scale(0.88,1)" font-size="8.64" fill="#222" stroke="#222" stroke-width="0.07" text-anchor="middle" ><tspan font-style="italic">P</tspan> = 0.12</text>
<path d="M489.60,342.10V339.50H519.60V342.10" stroke="#444" stroke-width="0.8" fill="none" />
<text transform="translate(433.00,320.80) scale(0.88,1)" font-size="13.98" fill="#1a1010" stroke="#1a1010" stroke-width="0.07" text-anchor="middle" font-weight="bold" >i</text>
<line x1="578.90" y1="332.30" x2="578.90" y2="437.10" stroke="#333" stroke-width="0.9" />
<line x1="577.10" y1="337.30" x2="578.90" y2="337.30" stroke="#333" stroke-width="0.7" />
<text transform="translate(576.60,340.37) scale(0.88,1)" font-size="8.52" fill="#222" stroke="#222" stroke-width="0.07" text-anchor="end" >80</text>
<line x1="577.10" y1="361.00" x2="578.90" y2="361.00" stroke="#333" stroke-width="0.7" />
<text transform="translate(576.60,364.07) scale(0.88,1)" font-size="8.52" fill="#222" stroke="#222" stroke-width="0.07" text-anchor="end" >60</text>
<line x1="577.10" y1="384.70" x2="578.90" y2="384.70" stroke="#333" stroke-width="0.7" />
<text transform="translate(576.60,387.77) scale(0.88,1)" font-size="8.52" fill="#222" stroke="#222" stroke-width="0.07" text-anchor="end" >40</text>
<line x1="577.10" y1="408.40" x2="578.90" y2="408.40" stroke="#333" stroke-width="0.7" />
<text transform="translate(576.60,411.47) scale(0.88,1)" font-size="8.52" fill="#222" stroke="#222" stroke-width="0.07" text-anchor="end" >20</text>
<line x1="577.10" y1="432.10" x2="578.90" y2="432.10" stroke="#333" stroke-width="0.7" />
<text transform="translate(576.60,435.17) scale(0.88,1)" font-size="8.52" fill="#222" stroke="#222" stroke-width="0.07" text-anchor="end" >0</text>
<line x1="578.90" y1="437.10" x2="643.30" y2="437.10" stroke="#333" stroke-width="0.9" />
<line x1="597.00" y1="437.10" x2="597.00" y2="438.90" stroke="#333" stroke-width="0.7" />
<text transform="translate(597.20,445.87) scale(0.88,1)" font-size="8.81" fill="#111" stroke="#111" stroke-width="0.07" text-anchor="middle" >CTL</text>
<line x1="626.10" y1="437.10" x2="626.10" y2="438.90" stroke="#333" stroke-width="0.7" />
<text transform="translate(625.80,445.87) scale(0.88,1)" font-size="8.81" fill="#111" stroke="#111" stroke-width="0.07" text-anchor="middle" >CIP</text>
<line x1="597.00" y1="377.10" x2="597.00" y2="371.70" stroke="#88CDB1" stroke-width="0.9" />
<line x1="597.00" y1="393.60" x2="597.00" y2="411.10" stroke="#88CDB1" stroke-width="0.9" />
<rect x="586.35" y="377.10" width="21.30" height="16.50" stroke="#88CDB1" stroke-width="0.9" fill="none" />
<line x1="586.35" y1="386.40" x2="607.65" y2="386.40" stroke="#88CDB1" stroke-width="0.9" />
<line x1="626.10" y1="356.30" x2="626.10" y2="346.40" stroke="#E9D39C" stroke-width="0.9" />
<line x1="626.10" y1="387.50" x2="626.10" y2="403.50" stroke="#E9D39C" stroke-width="0.9" />
<rect x="615.35" y="356.30" width="21.50" height="31.20" stroke="#E9D39C" stroke-width="0.9" fill="none" />
<line x1="615.35" y1="364.00" x2="636.85" y2="364.00" stroke="#E9D39C" stroke-width="0.9" />
<g fill="#64B795"><circle cx="597.3" cy="340.7" r="2.7"/><circle cx="591.9" cy="371.0" r="2.7"/><circle cx="601.4" cy="375.2" r="2.7"/><circle cx="596.6" cy="378.5" r="2.7"/><circle cx="602.5" cy="380.0" r="2.7"/><circle cx="594.6" cy="385.9" r="2.7"/><circle cx="597.4" cy="386.0" r="2.7"/><circle cx="590.8" cy="393.0" r="2.7"/><circle cx="598.5" cy="392.5" r="2.7"/><circle cx="594.8" cy="399.7" r="2.7"/><circle cx="601.4" cy="411.6" r="2.7"/></g>
<g fill="#DABC6F"><circle cx="625.3" cy="344.9" r="2.7"/><circle cx="629.6" cy="353.5" r="2.7"/><circle cx="623.7" cy="358.9" r="2.7"/><circle cx="626.6" cy="364.0" r="2.7"/><circle cx="620.9" cy="379.3" r="2.7"/><circle cx="631.4" cy="394.5" r="2.7"/><circle cx="630.7" cy="403.9" r="2.7"/></g>
<text transform="translate(554.86,380.00) rotate(-90) scale(1,0.88)" font-size="8.70" fill="#111" stroke="#111" stroke-width="0.07" text-anchor="middle" >CD8<tspan font-size="4.8" dy="-3.1">+</tspan><tspan dy="3.1"> </tspan>T cells</text>
<text transform="translate(564.59,381.00) rotate(-90) scale(1,0.88)" font-size="8.80" fill="#111" stroke="#111" stroke-width="0.07" text-anchor="middle" >( % of CD3<tspan font-size="4.8" dy="-3.1">+</tspan><tspan dy="3.1"> </tspan>T cells)</text>
<text transform="translate(612.70,331.51) scale(0.88,1)" font-size="8.64" fill="#222" stroke="#222" stroke-width="0.07" text-anchor="middle" ><tspan font-style="italic">P</tspan> = 0.30</text>
<path d="M596.40,336.70V334.10H626.00V336.70" stroke="#444" stroke-width="0.8" fill="none" />
<text transform="translate(535.90,320.80) scale(0.88,1)" font-size="13.98" fill="#1a1010" stroke="#1a1010" stroke-width="0.07" text-anchor="middle" font-weight="bold" >j</text>
<path stroke="#1a1a1a" stroke-opacity="0.9" stroke-width="0.7" d="M104.4 222.8h0.7M90.2 246.5h0.7M110.3 265.8h0.7M79.9 246.2h0.7M118.3 262.8h0.7M75.4 247.9h0.7M62.2 229.1h0.7M45.1 242.9h0.7M45.4 246.7h0.7M62.3 236.4h0.7M116.0 220.3h0.7M76.0 268.9h0.7M90.5 235.9h0.7M77.3 221.4h0.7M63.3 222.8h0.7M61.7 228.9h0.7M86.3 230.4h0.7M87.7 231.8h0.7M61.0 239.5h0.7M50.1 259.4h0.7M60.9 222.8h0.7M70.0 256.3h0.7M68.2 221.9h0.7M114.6 223.9h0.7M72.6 249.3h0.7M52.9 244.3h0.7M101.2 220.8h0.7M67.9 259.3h0.7M76.5 214.3h0.7M112.2 226.0h0.7M76.1 216.1h0.7M58.3 226.5h0.7M76.4 221.4h0.7M65.2 223.3h0.7M83.2 222.2h0.7M64.8 225.9h0.7M89.9 244.4h0.7M85.3 241.5h0.7M72.1 248.3h0.7M59.0 260.0h0.7M68.0 259.8h0.7M107.9 229.2h0.7M86.9 227.8h0.7M79.8 251.1h0.7M61.4 240.6h0.7M83.7 223.3h0.7M81.5 246.6h0.7M79.2 219.0h0.7M68.3 218.7h0.7M52.5 244.8h0.7M87.1 237.4h0.7M101.0 217.7h0.7M73.1 254.8h0.7M78.8 247.3h0.7M119.8 257.5h0.7M71.4 249.1h0.7M70.4 221.3h0.7M43.9 261.1h0.7M73.6 248.4h0.7M73.0 249.7h0.7M70.0 253.3h0.7M113.0 223.5h0.7M68.7 223.2h0.7M62.6 237.9h0.7M80.9 221.7h0.7M76.1 246.4h0.7M51.0 246.0h0.7M105.3 224.3h0.7M91.0 228.5h0.7M54.8 220.3h0.7M60.0 245.6h0.7M73.2 249.6h0.7M41.3 255.8h0.7M62.7 236.6h0.7M69.8 222.4h0.7M65.1 226.1h0.7M57.5 232.3h0.7M59.7 245.4h0.7M71.3 253.1h0.7M74.5 272.3h0.7M61.3 220.0h0.7M97.5 234.5h0.7M72.8 251.9h0.7M43.3 252.4h0.7M48.6 247.1h0.7M61.8 243.4h0.7M62.9 231.3h0.7M112.8 268.8h0.7M78.5 247.0h0.7M58.1 231.7h0.7M83.9 241.6h0.7M99.5 214.5h0.7M74.6 249.4h0.7M79.0 222.1h0.7M89.2 217.6h0.7M72.6 250.4h0.7M84.5 223.6h0.7M46.8 262.5h0.7M62.8 242.0h0.7M71.5 252.4h0.7M53.0 243.0h0.7M112.0 265.3h0.7M91.1 236.4h0.7M99.9 226.4h0.7M115.1 224.1h0.7M70.5 250.7h0.7M83.4 225.3h0.7M112.5 227.4h0.7M44.0 246.1h0.7M58.3 242.6h0.7M77.8 257.1h0.7M39.5 254.5h0.7M86.8 236.7h0.7M57.0 264.2h0.7M85.1 242.3h0.7M64.7 257.7h0.7M107.5 225.8h0.7M66.3 224.7h0.7M64.5 222.4h0.7M87.0 206.2h0.7M40.5 252.1h0.7M47.9 258.7h0.7M61.0 239.1h0.7M106.6 230.4h0.7M45.1 258.7h0.7M59.2 222.2h0.7M90.0 231.9h0.7M116.3 223.0h0.7M85.1 244.2h0.7M108.9 226.1h0.7M107.6 227.6h0.7M45.5 249.2h0.7M51.3 211.7h0.7M43.8 251.6h0.7M86.2 227.9h0.7M83.7 241.9h0.7M62.9 231.4h0.7M46.2 260.0h0.7M45.0 258.7h0.7M108.9 266.5h0.7M87.9 230.2h0.7M117.5 219.8h0.7M64.3 226.2h0.7M75.5 253.5h0.7M67.5 222.2h0.7M36.5 257.3h0.7M59.3 235.3h0.7M62.1 234.5h0.7M73.0 249.9h0.7M72.1 219.9h0.7M92.4 232.2h0.7M70.2 219.8h0.7M101.9 221.7h0.7M55.7 243.3h0.7M86.7 227.5h0.7M84.0 226.4h0.7M46.7 244.0h0.7M63.6 258.0h0.7M89.6 235.2h0.7M75.8 246.7h0.7M81.1 250.5h0.7M71.9 248.5h0.7M120.4 224.3h0.7M86.9 236.8h0.7M105.0 225.3h0.7M38.9 247.4h0.7M70.2 219.7h0.7M117.3 222.0h0.7M42.7 255.4h0.7M93.8 263.8h0.7M71.4 220.4h0.7M87.6 229.7h0.7M51.6 234.9h0.7M82.3 222.2h0.7M43.4 256.9h0.7M66.3 259.9h0.7M85.6 222.8h0.7M91.1 239.5h0.7M56.4 245.6h0.7M77.5 216.9h0.7M100.4 218.6h0.7M108.1 267.7h0.7M77.7 246.4h0.7M88.4 229.9h0.7M93.9 233.4h0.7M78.2 222.3h0.7M65.8 219.1h0.7M43.4 249.6h0.7M106.8 272.4h0.7M99.9 258.6h0.7M70.8 265.8h0.7M60.0 261.8h0.7M43.8 250.1h0.7M62.0 236.2h0.7M85.5 225.1h0.7M110.5 225.0h0.7M87.7 250.3h0.7M87.9 241.2h0.7M67.7 265.4h0.7M52.8 245.5h0.7M68.9 257.6h0.7M85.3 243.0h0.7M90.2 267.5h0.7M48.2 257.9h0.7M65.8 223.8h0.7M62.8 239.8h0.7M101.3 267.0h0.7M88.2 237.0h0.7M98.9 255.5h0.7M77.1 220.1h0.7M70.2 219.2h0.7M45.1 256.6h0.7M64.9 224.4h0.7M57.3 259.2h0.7M112.0 268.5h0.7M85.8 227.0h0.7M69.5 257.4h0.7M56.2 259.4h0.7M57.3 241.2h0.7M74.1 257.9h0.7M89.8 243.8h0.7M81.1 245.6h0.7M89.0 241.1h0.7M62.5 231.6h0.7M40.4 248.6h0.7M72.8 220.8h0.7M79.1 246.9h0.7M92.6 253.2h0.7M86.1 251.7h0.7M88.4 248.4h0.7M74.6 250.8h0.7M85.2 247.2h0.7M93.2 253.0h0.7M87.2 254.7h0.7M76.3 255.5h0.7M87.7 253.1h0.7M86.1 245.8h0.7M77.3 253.8h0.7M86.7 254.6h0.7M84.6 250.3h0.7M87.2 249.2h0.7M79.7 257.5h0.7M87.2 249.5h0.7M93.7 254.3h0.7M92.2 261.7h0.7M81.8 253.3h0.7M93.5 252.0h0.7M95.9 253.6h0.7M90.1 253.2h0.7M87.6 250.4h0.7M94.4 255.3h0.7M73.4 251.1h0.7M87.3 252.4h0.7M80.3 256.7h0.7M77.6 251.5h0.7M88.0 250.8h0.7M71.2 252.1h0.7M78.4 247.5h0.7M77.6 252.9h0.7M85.7 254.9h0.7M90.4 246.2h0.7M81.5 258.1h0.7M95.3 254.1h0.7M72.7 251.8h0.7M87.6 253.6h0.7M81.2 256.2h0.7M93.4 256.0h0.7M92.2 254.0h0.7M77.7 250.1h0.7M93.1 250.7h0.7M84.5 252.5h0.7M97.0 254.2h0.7M83.8 250.5h0.7M92.0 254.9h0.7M92.0 250.0h0.7M98.9 248.9h0.7M87.7 249.9h0.7M88.7 251.5h0.7M94.1 255.5h0.7M78.3 250.6h0.7M95.5 253.2h0.7M80.9 254.4h0.7M91.2 253.8h0.7M86.6 256.8h0.7M83.1 250.7h0.7M94.2 253.9h0.7M99.3 252.1h0.7M96.2 251.7h0.7M73.5 251.7h0.7M91.3 252.8h0.7M71.1 255.3h0.7M87.6 248.0h0.7M86.4 253.2h0.7M89.1 253.9h0.7M93.9 251.8h0.7M91.7 250.1h0.7M95.1 253.3h0.7M82.7 256.3h0.7M94.7 255.4h0.7M75.5 255.0h0.7M81.5 253.4h0.7M71.3 254.6h0.7M75.6 254.1h0.7M98.0 251.6h0.7M91.0 258.9h0.7M78.3 258.9h0.7M89.8 249.1h0.7M79.0 249.8h0.7M73.6 251.7h0.7M97.3 257.7h0.7M75.6 250.6h0.7M90.9 253.7h0.7M80.8 252.1h0.7M73.3 255.7h0.7M86.0 249.5h0.7M99.8 250.9h0.7M89.2 251.2h0.7M88.5 253.1h0.7M86.2 252.9h0.7M69.9 254.6h0.7M75.4 249.9h0.7M88.2 252.4h0.7M73.5 251.4h0.7M85.8 252.8h0.7M96.4 257.3h0.7M88.1 254.6h0.7M68.0 256.4h0.7M85.9 252.2h0.7M79.9 259.2h0.7M93.6 247.0h0.7M77.4 257.7h0.7M94.3 250.2h0.7M77.2 254.2h0.7M75.1 252.7h0.7M94.1 247.7h0.7M78.3 253.4h0.7M80.4 250.1h0.7M95.4 247.9h0.7M94.3 252.7h0.7M96.8 254.2h0.7M89.6 253.7h0.7M89.4 253.2h0.7M81.1 250.2h0.7M71.8 257.6h0.7M85.2 249.6h0.7M77.6 257.0h0.7M99.0 255.3h0.7M82.6 250.6h0.7M77.0 248.1h0.7M90.5 254.3h0.7M93.4 251.6h0.7M84.0 246.6h0.7M98.3 255.2h0.7M86.4 254.2h0.7M76.7 250.7h0.7M81.9 249.3h0.7M72.1 247.3h0.7M80.0 252.9h0.7M91.6 254.2h0.7M77.1 256.2h0.7M99.4 252.4h0.7M98.6 250.0h0.7M79.7 248.7h0.7M91.1 250.5h0.7M81.5 253.2h0.7M81.3 253.3h0.7M85.1 252.0h0.7M86.6 257.5h0.7M83.8 252.2h0.7M98.3 250.9h0.7M98.5 257.7h0.7M99.0 247.7h0.7M81.3 252.3h0.7M77.0 257.4h0.7M86.8 253.2h0.7M93.0 252.7h0.7M92.8 255.8h0.7M90.6 251.5h0.7M89.2 254.6h0.7M92.1 246.5h0.7M83.0 244.7h0.7M87.1 254.0h0.7M89.8 254.4h0.7M82.0 259.7h0.7M81.8 251.2h0.7M94.1 260.4h0.7M89.5 257.2h0.7M89.0 257.0h0.7M85.7 255.2h0.7M93.4 256.0h0.7M81.7 256.3h0.7M80.8 255.6h0.7M93.3 251.4h0.7M81.7 252.3h0.7M76.8 252.3h0.7M98.9 258.1h0.7M80.4 255.2h0.7M78.1 250.4h0.7M86.1 248.1h0.7M94.4 250.7h0.7M84.5 257.1h0.7M83.2 253.1h0.7M92.2 254.6h0.7M80.8 251.4h0.7M79.4 251.4h0.7M96.5 249.2h0.7M77.3 252.7h0.7M97.5 256.7h0.7M74.4 253.6h0.7M83.2 250.5h0.7M85.1 251.6h0.7M92.1 247.4h0.7M97.4 253.1h0.7M98.2 253.2h0.7M75.7 254.5h0.7M99.9 250.7h0.7M99.2 260.6h0.7M89.3 250.0h0.7M75.1 251.6h0.7M87.3 255.8h0.7M82.5 252.9h0.7M84.4 249.2h0.7M92.7 256.6h0.7M80.2 253.8h0.7M81.4 252.7h0.7M88.8 260.4h0.7M89.7 250.9h0.7M96.4 252.5h0.7M79.6 259.6h0.7M78.3 252.2h0.7M93.0 251.9h0.7M93.4 252.5h0.7M84.7 254.8h0.7M79.5 254.5h0.7M96.3 260.0h0.7M90.6 253.9h0.7M80.4 244.9h0.7M88.1 257.5h0.7M85.3 250.6h0.7M76.4 253.9h0.7M74.9 254.3h0.7M77.1 248.1h0.7M92.4 255.0h0.7M87.4 251.9h0.7M78.9 258.9h0.7M83.4 248.7h0.7M87.0 256.0h0.7M86.0 251.8h0.7M93.1 249.4h0.7M76.5 253.2h0.7M98.6 253.3h0.7M95.9 254.1h0.7M95.0 247.3h0.7M77.4 253.9h0.7M89.0 253.0h0.7M78.7 253.5h0.7M83.6 251.3h0.7M76.4 252.6h0.7M91.2 248.8h0.7M96.6 255.4h0.7M97.2 254.8h0.7M92.9 250.3h0.7M81.0 254.4h0.7M95.1 257.4h0.7M80.4 253.2h0.7M85.7 256.7h0.7M92.7 250.0h0.7M93.9 255.5h0.7M84.6 247.7h0.7M88.8 248.3h0.7M92.3 254.0h0.7M68.9 258.9h0.7M91.9 260.8h0.7M71.1 253.9h0.7M91.6 247.5h0.7M87.6 252.2h0.7M79.4 247.6h0.7M91.3 248.2h0.7M76.7 254.5h0.7M77.9 251.1h0.7M74.7 247.8h0.7M73.1 253.8h0.7M68.7 256.5h0.7M97.9 257.2h0.7M88.1 253.9h0.7M93.9 255.7h0.7M91.9 247.0h0.7M75.7 253.9h0.7M87.7 250.7h0.7M87.4 256.3h0.7M81.3 256.5h0.7M75.7 250.7h0.7M75.9 251.8h0.7M79.9 247.5h0.7M97.2 254.7h0.7M86.5 257.5h0.7M79.2 253.4h0.7M96.7 252.9h0.7M84.2 253.9h0.7M94.5 258.0h0.7M96.9 249.2h0.7M86.2 251.4h0.7M94.3 251.3h0.7M84.8 252.7h0.7M95.0 253.7h0.7M89.7 252.7h0.7M83.1 257.1h0.7M94.4 250.1h0.7M82.5 259.6h0.7M87.2 251.2h0.7M75.6 261.6h0.7M83.7 256.7h0.7M80.6 250.8h0.7M88.5 247.2h0.7M85.8 249.3h0.7M78.3 253.3h0.7M84.1 249.0h0.7M84.2 259.8h0.7M94.3 250.0h0.7M88.2 256.2h0.7M80.8 257.4h0.7M83.0 253.6h0.7M81.2 250.6h0.7M91.8 257.6h0.7M81.2 250.6h0.7M76.8 255.7h0.7M81.1 253.2h0.7M85.1 249.6h0.7M80.4 260.2h0.7M72.1 259.8h0.7M93.0 253.3h0.7M81.0 255.5h0.7M75.2 251.0h0.7M84.1 246.7h0.7M86.2 255.8h0.7M75.6 250.0h0.7M94.3 251.7h0.7M81.6 250.0h0.7M92.2 250.4h0.7M79.6 249.5h0.7M87.4 250.3h0.7M82.4 251.5h0.7M79.1 249.8h0.7M84.5 250.1h0.7M97.7 246.3h0.7M86.4 254.8h0.7M76.0 257.1h0.7M75.0 250.1h0.7M90.1 254.4h0.7M96.9 251.2h0.7M83.7 249.3h0.7M89.4 259.9h0.7M85.8 248.2h0.7M85.6 252.1h0.7M78.7 254.2h0.7M79.3 258.1h0.7M75.7 257.2h0.7M86.9 258.5h0.7M98.7 246.7h0.7M97.8 250.3h0.7M117.1 254.3h0.7M88.3 258.3h0.7M90.7 252.3h0.7M96.2 254.6h0.7M96.8 254.2h0.7M93.7 249.8h0.7M80.9 252.9h0.7M86.7 255.7h0.7M91.3 247.7h0.7M97.0 254.5h0.7M91.6 253.3h0.7M95.0 249.0h0.7M86.3 258.4h0.7M90.7 251.4h0.7M82.0 248.8h0.7M83.6 251.4h0.7M80.4 249.9h0.7M91.0 252.6h0.7M76.8 252.9h0.7M93.6 259.7h0.7M96.4 251.8h0.7M73.8 248.3h0.7M73.8 258.4h0.7M85.7 249.0h0.7M96.1 255.3h0.7M84.2 247.8h0.7M68.6 259.7h0.7M79.5 261.5h0.7M70.2 254.9h0.7M80.8 253.9h0.7M84.5 256.2h0.7M88.0 254.6h0.7M81.2 252.8h0.7M85.4 253.6h0.7M90.3 253.6h0.7M86.5 250.3h0.7M74.5 254.5h0.7M88.3 249.5h0.7M81.9 248.8h0.7M95.2 253.6h0.7M90.6 258.9h0.7M79.9 254.0h0.7M87.1 251.5h0.7M87.1 252.3h0.7M80.9 252.5h0.7M86.5 254.6h0.7M81.9 252.3h0.7M96.0 251.8h0.7M85.9 248.5h0.7M86.4 252.9h0.7M94.6 255.8h0.7M89.6 254.3h0.7M86.4 254.0h0.7M88.1 252.9h0.7M96.3 250.4h0.7M57.6 260.1h0.7M78.3 253.1h0.7M81.4 256.9h0.7M95.6 251.2h0.7M90.2 249.3h0.7M99.5 248.4h0.7M90.4 248.3h0.7M46.9 267.5h0.7M37.2 257.1h0.7M36.5 260.5h0.7M54.1 259.9h0.7M41.7 257.9h0.7M43.1 252.1h0.7M45.5 258.9h0.7M44.7 241.6h0.7M40.5 250.2h0.7M43.8 259.6h0.7M45.7 256.2h0.7M40.3 257.0h0.7M47.4 242.7h0.7M45.3 257.3h0.7M37.1 250.8h0.7M40.9 257.4h0.7M36.7 258.9h0.7M44.6 241.7h0.7M41.2 257.0h0.7M41.4 248.1h0.7M37.1 248.8h0.7M47.8 259.0h0.7M42.3 249.7h0.7M39.1 262.3h0.7M40.8 261.0h0.7M47.6 263.9h0.7M39.4 265.3h0.7M44.2 265.1h0.7M45.5 264.3h0.7M42.0 263.0h0.7M37.7 252.2h0.7M40.7 262.3h0.7M49.5 260.3h0.7M46.7 258.3h0.7M34.9 263.3h0.7M40.7 245.4h0.7M39.8 252.4h0.7M48.6 244.5h0.7M41.7 248.9h0.7M40.5 253.4h0.7M43.6 262.4h0.7M48.4 259.6h0.7M43.5 243.6h0.7M43.5 254.1h0.7M45.8 260.7h0.7M43.4 257.9h0.7M43.3 253.6h0.7M41.5 261.8h0.7M36.2 249.3h0.7M43.4 266.3h0.7M47.2 263.0h0.7M41.4 257.6h0.7M41.0 260.7h0.7M45.2 259.8h0.7M48.2 266.5h0.7M51.7 265.4h0.7M50.4 263.7h0.7M42.3 253.7h0.7M54.2 262.4h0.7M40.8 259.9h0.7M44.2 257.3h0.7M42.5 252.0h0.7M44.9 259.3h0.7M38.2 261.3h0.7M40.8 252.7h0.7M46.8 241.4h0.7M39.7 264.6h0.7M38.1 249.9h0.7M34.6 246.7h0.7M34.0 254.8h0.7M45.0 258.3h0.7M44.8 245.6h0.7M48.5 261.0h0.7M42.4 261.4h0.7M37.1 260.9h0.7M39.9 240.4h0.7M41.1 255.5h0.7M44.0 248.6h0.7M43.5 246.4h0.7M45.1 262.2h0.7M42.2 254.2h0.7M37.0 253.7h0.7M53.8 259.7h0.7M51.0 261.9h0.7M40.4 254.4h0.7M42.7 253.8h0.7M41.5 248.8h0.7M45.6 256.2h0.7M37.2 248.6h0.7M46.9 260.9h0.7M45.2 248.4h0.7M40.3 260.3h0.7M41.1 256.0h0.7M42.6 260.6h0.7M40.8 253.8h0.7M37.4 251.8h0.7M43.0 252.4h0.7M42.8 249.7h0.7M41.3 267.0h0.7M35.2 252.8h0.7M45.6 240.8h0.7M52.5 264.8h0.7M37.0 264.7h0.7M42.4 252.1h0.7M34.7 262.5h0.7M39.7 251.7h0.7M43.0 251.9h0.7M58.2 259.0h0.7M39.0 252.7h0.7M50.6 243.6h0.7M42.2 248.7h0.7M45.6 262.4h0.7M39.5 245.7h0.7M41.0 254.2h0.7M36.1 271.4h0.7M38.7 264.9h0.7M42.2 253.2h0.7M44.3 242.7h0.7M43.1 263.9h0.7M43.1 259.7h0.7M40.4 251.8h0.7M39.2 261.8h0.7M41.4 248.6h0.7M37.8 255.7h0.7M40.9 253.7h0.7M44.0 256.7h0.7M37.4 268.8h0.7M50.2 260.0h0.7M41.3 255.1h0.7M43.1 248.4h0.7M46.6 259.0h0.7M48.0 257.9h0.7M48.7 268.8h0.7M43.4 246.5h0.7M49.6 261.3h0.7M40.6 258.3h0.7M44.2 259.6h0.7M45.0 258.0h0.7M56.6 259.2h0.7M38.5 260.6h0.7M43.5 250.6h0.7M38.7 252.9h0.7M39.3 252.2h0.7M123.1 191.7h0.7M115.5 220.2h0.7M113.8 199.9h0.7M118.3 206.4h0.7M125.7 186.2h0.7M114.3 204.2h0.7M103.9 227.5h0.7M120.9 210.1h0.7M119.4 211.3h0.7M114.4 201.4h0.7M119.6 202.9h0.7M120.4 205.8h0.7M120.2 203.7h0.7M125.7 192.2h0.7M121.3 210.5h0.7M120.5 213.2h0.7M114.6 200.4h0.7M120.5 201.9h0.7M115.5 197.0h0.7M122.3 200.9h0.7M114.4 204.5h0.7M121.2 211.1h0.7M112.6 202.2h0.7M120.4 202.9h0.7M117.9 203.2h0.7M120.4 202.0h0.7M125.9 192.3h0.7M122.5 195.4h0.7M119.2 200.3h0.7M118.6 207.8h0.7M122.5 200.8h0.7M113.8 199.5h0.7M117.5 200.0h0.7M119.9 193.8h0.7M123.3 201.7h0.7M121.7 206.6h0.7M119.7 211.1h0.7M123.0 194.4h0.7M122.2 198.5h0.7M115.3 204.7h0.7M123.9 193.7h0.7M115.4 201.0h0.7M121.1 195.7h0.7M119.3 204.3h0.7M123.2 193.1h0.7M111.8 226.3h0.7M124.9 193.3h0.7M125.7 197.0h0.7M121.1 200.2h0.7M126.2 204.6h0.7M118.1 201.4h0.7M116.6 195.3h0.7M104.8 227.7h0.7M121.7 186.6h0.7M123.4 202.8h0.7M123.0 202.7h0.7M122.5 201.9h0.7M121.9 191.7h0.7M118.3 197.5h0.7M112.0 223.9h0.7M116.8 207.1h0.7M122.8 205.9h0.7M120.6 208.6h0.7M121.6 203.9h0.7M118.6 200.7h0.7M126.1 196.9h0.7M103.6 223.1h0.7M119.5 202.1h0.7M118.9 204.9h0.7M118.1 216.3h0.7M118.0 205.3h0.7M117.7 208.1h0.7M116.4 203.4h0.7M118.0 203.2h0.7M121.3 199.4h0.7M121.7 201.8h0.7M121.4 200.2h0.7M103.8 233.8h0.7M123.9 194.5h0.7M89.3 246.5h0.7M120.6 203.2h0.7M123.3 201.9h0.7M122.2 190.4h0.7M125.6 199.0h0.7M116.6 205.4h0.7M119.5 204.1h0.7M122.6 197.7h0.7M117.1 201.7h0.7M123.0 203.6h0.7M115.7 203.7h0.7M125.6 187.6h0.7M117.1 206.2h0.7M117.7 206.7h0.7M109.8 225.4h0.7M117.1 200.9h0.7M119.6 198.6h0.7M123.1 205.4h0.7M117.8 203.0h0.7M123.9 191.7h0.7M118.0 196.0h0.7M123.9 203.0h0.7M120.1 196.5h0.7M123.5 204.0h0.7M117.3 193.3h0.7M117.3 204.9h0.7M121.5 203.0h0.7M122.1 200.6h0.7M122.6 190.2h0.7M110.5 224.6h0.7M122.3 193.2h0.7M124.5 190.4h0.7M123.8 196.7h0.7M123.1 198.7h0.7M119.6 208.7h0.7M120.0 204.0h0.7M124.2 199.4h0.7M120.5 202.8h0.7M119.1 206.0h0.7M118.4 203.3h0.7M121.7 199.3h0.7M123.8 203.3h0.7M121.5 199.1h0.7M115.7 196.2h0.7M118.5 203.5h0.7M119.0 201.4h0.7M126.1 194.7h0.7M116.8 205.6h0.7M125.6 206.5h0.7M117.9 211.7h0.7M117.6 201.5h0.7M60.0 223.5h0.7M56.8 206.4h0.7M80.5 200.8h0.7M63.8 210.0h0.7M79.9 195.1h0.7M78.8 216.2h0.7M76.8 211.5h0.7M69.4 207.1h0.7M58.9 204.8h0.7M62.4 201.3h0.7M72.1 215.3h0.7M71.4 206.1h0.7M76.5 218.0h0.7M66.4 212.9h0.7M65.9 203.0h0.7M65.6 207.8h0.7M63.4 217.2h0.7M78.1 218.2h0.7M60.7 207.2h0.7M58.0 207.5h0.7M85.2 213.2h0.7M47.2 225.5h0.7M79.9 221.6h0.7M72.4 204.6h0.7M61.1 218.6h0.7M74.3 216.7h0.7M82.3 215.7h0.7M77.2 209.0h0.7M68.8 200.7h0.7M86.1 229.2h0.7M68.8 205.3h0.7M42.7 223.9h0.7M74.4 205.2h0.7M61.9 200.8h0.7M75.2 205.1h0.7M72.5 196.9h0.7M86.0 216.0h0.7M56.3 213.7h0.7M73.4 207.6h0.7M63.5 220.7h0.7M76.4 216.8h0.7M66.0 202.8h0.7M72.0 210.5h0.7M67.6 222.8h0.7M62.3 208.3h0.7M54.4 229.3h0.7M49.1 220.7h0.7M80.9 218.7h0.7M57.0 233.4h0.7M57.5 224.8h0.7M59.3 210.3h0.7M60.7 210.4h0.7M62.2 207.2h0.7M66.6 214.9h0.7M65.6 220.6h0.7M82.8 220.2h0.7M66.1 225.8h0.7M75.1 212.6h0.7M64.3 213.5h0.7M59.8 203.2h0.7M58.0 210.7h0.7M83.2 218.0h0.7M67.4 216.5h0.7M75.4 216.6h0.7M64.4 219.5h0.7M52.7 220.1h0.7M58.9 211.0h0.7M70.9 215.9h0.7M69.1 216.7h0.7M73.4 207.2h0.7M55.6 259.5h0.7M68.7 262.9h0.7M94.8 270.7h0.7M98.7 267.2h0.7M99.6 262.6h0.7M83.1 261.7h0.7M85.4 259.3h0.7M72.9 266.0h0.7M56.2 264.3h0.7M50.8 264.6h0.7M100.5 262.0h0.7M96.3 268.4h0.7M76.2 261.2h0.7M73.7 265.2h0.7M83.2 265.5h0.7M63.0 271.9h0.7M84.9 263.1h0.7M80.0 274.6h0.7M78.1 257.5h0.7M77.9 269.0h0.7M93.3 248.7h0.7M92.5 262.5h0.7M61.4 260.5h0.7M103.3 271.0h0.7M85.9 273.0h0.7M63.5 258.2h0.7M98.9 267.0h0.7M77.3 261.5h0.7M75.6 259.5h0.7M72.6 261.6h0.7M75.6 266.5h0.7M82.7 256.1h0.7M75.8 256.8h0.7M81.3 276.6h0.7M65.3 263.1h0.7M65.6 265.0h0.7M60.9 260.6h0.7M98.3 261.0h0.7M91.1 258.5h0.7M91.7 276.0h0.7M85.8 258.9h0.7M75.3 261.4h0.7M85.5 270.3h0.7M75.5 267.5h0.7M89.3 262.7h0.7M77.7 263.2h0.7M78.9 268.1h0.7M74.4 261.9h0.7M75.5 268.8h0.7M66.8 261.5h0.7M80.5 264.0h0.7M111.3 268.1h0.7M84.8 263.1h0.7M83.1 259.6h0.7M89.1 256.2h0.7M79.9 267.9h0.7M51.9 276.6h0.7M95.2 268.3h0.7M89.9 261.3h0.7M60.1 274.0h0.7M86.8 258.7h0.7M74.0 271.4h0.7M58.9 259.2h0.7M89.5 255.8h0.7M94.1 258.2h0.7M50.6 271.4h0.7M66.3 266.1h0.7M101.6 273.4h0.7M70.9 267.4h0.7M66.9 268.2h0.7M93.7 262.0h0.7M98.4 261.2h0.7M91.7 266.3h0.7M77.1 261.9h0.7M54.4 259.6h0.7M47.0 274.0h0.7M82.5 260.6h0.7M101.1 265.8h0.7M76.5 268.4h0.7M80.5 258.8h0.7M100.7 263.4h0.7M68.1 264.6h0.7M63.6 263.2h0.7M76.2 260.4h0.7M41.9 267.4h0.7M64.4 265.4h0.7M81.8 258.1h0.7M44.3 262.2h0.7M92.8 256.4h0.7M89.4 270.1h0.7M42.1 272.9h0.7M63.0 272.5h0.7M93.4 268.3h0.7M79.5 262.6h0.7M66.6 265.9h0.7M73.5 266.1h0.7M76.4 266.4h0.7M69.5 269.0h0.7M47.3 258.9h0.7M45.8 263.4h0.7M70.7 256.9h0.7M120.0 262.0h0.7M78.8 262.7h0.7M56.1 266.1h0.7M62.7 263.6h0.7M95.8 276.9h0.7M66.1 268.1h0.7M124.5 261.6h0.7M89.4 259.1h0.7M85.7 257.9h0.7M41.2 269.2h0.7M69.6 274.0h0.7M62.4 260.1h0.7M93.2 262.2h0.7M89.8 272.0h0.7M60.4 265.4h0.7M52.7 259.8h0.7M117.7 262.6h0.7M58.9 261.9h0.7M68.7 265.8h0.7M76.1 275.2h0.7M70.7 260.6h0.7M88.6 267.6h0.7M79.6 261.7h0.7M75.0 265.7h0.7M95.6 271.5h0.7M106.6 269.4h0.7M87.3 264.0h0.7M84.1 264.9h0.7M84.7 264.4h0.7M52.3 267.5h0.7M60.5 262.0h0.7M88.4 270.9h0.7M83.4 273.1h0.7M84.8 262.2h0.7M83.5 265.4h0.7M92.0 272.7h0.7M83.4 255.7h0.7M81.7 267.5h0.7M61.8 268.5h0.7M53.8 261.0h0.7M69.0 271.1h0.7M86.4 259.7h0.7M60.1 268.7h0.7M72.9 264.8h0.7M72.2 259.7h0.7M97.2 270.9h0.7M70.6 264.2h0.7M81.7 264.2h0.7M67.4 257.6h0.7M95.0 263.0h0.7M44.5 266.7h0.7M92.2 259.1h0.7M77.4 256.3h0.7M68.1 276.5h0.7M90.6 273.8h0.7M57.0 266.7h0.7M91.1 255.8h0.7M113.1 269.2h0.7M70.1 272.0h0.7M74.4 262.1h0.7M57.2 274.6h0.7M71.3 265.2h0.7M79.6 268.0h0.7M87.6 264.7h0.7M81.7 249.7h0.7M82.8 265.2h0.7M88.6 259.7h0.7M109.1 271.4h0.7M89.2 254.9h0.7M61.0 267.8h0.7M50.5 262.0h0.7M115.5 258.6h0.7M116.9 263.6h0.7M93.2 256.2h0.7M64.5 275.2h0.7M65.3 269.3h0.7M49.4 260.2h0.7M101.0 264.7h0.7M113.1 261.6h0.7M73.1 261.8h0.7M103.6 241.6h0.7M93.5 234.6h0.7M109.3 239.5h0.7M99.4 232.5h0.7M105.0 238.1h0.7M98.4 237.7h0.7M107.1 237.2h0.7M103.6 241.0h0.7M101.9 235.8h0.7M100.7 244.1h0.7M107.7 236.7h0.7M96.7 238.0h0.7M95.5 243.1h0.7M108.9 234.5h0.7M106.1 234.2h0.7M97.6 233.5h0.7M93.5 239.2h0.7M94.2 244.3h0.7M94.2 234.6h0.7M105.0 233.9h0.7M86.4 243.6h0.7M108.4 242.2h0.7M97.4 236.8h0.7M89.7 238.2h0.7M102.8 240.4h0.7M84.1 243.9h0.7M96.4 241.0h0.7M104.3 229.4h0.7M90.1 234.8h0.7M102.7 241.3h0.7M96.0 238.0h0.7M101.3 236.8h0.7M105.4 240.6h0.7M94.5 238.6h0.7M97.3 239.9h0.7M106.8 235.9h0.7M89.1 233.8h0.7M98.7 239.3h0.7M104.9 237.6h0.7M101.3 241.3h0.7M89.6 244.0h0.7M96.9 244.4h0.7M96.6 240.5h0.7M108.0 238.3h0.7M105.5 236.6h0.7M97.3 235.5h0.7M91.1 236.3h0.7M95.3 244.7h0.7M99.1 237.9h0.7M97.1 230.2h0.7M98.9 237.7h0.7M104.6 242.9h0.7M97.5 240.1h0.7M97.3 238.7h0.7M101.0 233.6h0.7M102.8 239.4h0.7M93.4 234.7h0.7M105.7 228.8h0.7M97.8 233.7h0.7M100.6 241.6h0.7M106.4 238.8h0.7M104.9 236.4h0.7M110.6 241.8h0.7M91.7 239.2h0.7M91.5 234.0h0.7M92.6 231.9h0.7M104.3 235.8h0.7M103.5 241.7h0.7M98.4 240.0h0.7M100.1 240.5h0.7M102.2 236.9h0.7M101.3 241.4h0.7M104.9 235.9h0.7M93.5 233.9h0.7M92.3 238.8h0.7M94.8 243.7h0.7M98.0 235.2h0.7M97.6 230.7h0.7M108.0 237.9h0.7M93.9 243.9h0.7M101.1 235.1h0.7M104.0 235.6h0.7M101.1 240.5h0.7M109.2 236.4h0.7M108.3 239.1h0.7M98.2 241.5h0.7M92.5 244.5h0.7M97.4 234.4h0.7M104.8 241.1h0.7M95.0 238.9h0.7M100.1 230.4h0.7M96.4 237.6h0.7M106.6 231.5h0.7M110.7 236.2h0.7M104.3 236.4h0.7M98.1 232.8h0.7M98.4 235.7h0.7M94.2 244.2h0.7M94.8 239.9h0.7M45.8 256.4h0.7M86.1 249.3h0.7M77.0 247.0h0.7M50.0 239.3h0.7M71.2 252.2h0.7M85.0 244.2h0.7M71.1 260.1h0.7M42.2 247.8h0.7M53.7 245.0h0.7M44.1 250.7h0.7M66.6 259.1h0.7M61.1 269.3h0.7M41.2 248.4h0.7M60.4 245.0h0.7M35.2 243.9h0.7M44.7 257.1h0.7M52.4 243.6h0.7M49.3 259.2h0.7M50.9 261.0h0.7M69.7 256.7h0.7M44.2 265.2h0.7M38.8 242.5h0.7M42.1 244.7h0.7M70.2 256.7h0.7M60.6 263.3h0.7M58.9 235.2h0.7M62.8 261.3h0.7M73.5 254.5h0.7M67.4 260.2h0.7M41.7 252.4h0.7M52.8 245.8h0.7M69.2 254.8h0.7M55.9 244.7h0.7M40.6 247.1h0.7M70.6 257.7h0.7M43.2 273.5h0.7M62.6 260.7h0.7M78.9 257.8h0.7M68.1 271.7h0.7M42.2 249.6h0.7M71.4 273.1h0.7M45.2 246.7h0.7M55.5 267.8h0.7M72.4 259.0h0.7M51.6 262.7h0.7M55.3 244.5h0.7M51.0 261.2h0.7M50.6 242.7h0.7M65.3 265.8h0.7M83.7 253.1h0.7M47.9 264.0h0.7M67.1 261.7h0.7M47.8 247.6h0.7M62.8 259.6h0.7M49.1 246.1h0.7M53.7 261.0h0.7M41.7 261.6h0.7M35.1 249.3h0.7M69.3 263.9h0.7M49.9 264.6h0.7M87.1 243.7h0.7M40.3 245.6h0.7M48.2 243.7h0.7M62.6 258.6h0.7M38.2 259.0h0.7M74.0 248.9h0.7M38.3 258.3h0.7M64.2 258.2h0.7M56.8 229.7h0.7M69.1 269.3h0.7M48.9 246.2h0.7M35.4 261.3h0.7M70.9 257.7h0.7M50.0 243.5h0.7M60.7 241.4h0.7M66.5 266.7h0.7M48.5 245.9h0.7M73.8 253.4h0.7M42.5 249.6h0.7M39.7 247.9h0.7M55.9 260.6h0.7M71.6 264.2h0.7M43.1 248.6h0.7M58.3 242.1h0.7M40.0 259.1h0.7M43.3 247.9h0.7M62.1 258.7h0.7M69.2 265.0h0.7M48.9 259.9h0.7M59.2 243.5h0.7M88.5 248.0h0.7M42.8 248.3h0.7M51.7 242.3h0.7M39.0 259.7h0.7M44.8 243.0h0.7M50.0 259.8h0.7M55.6 261.6h0.7M72.9 251.2h0.7M40.6 248.9h0.7M40.8 252.0h0.7M47.1 257.2h0.7M36.3 266.7h0.7M51.6 259.4h0.7M57.5 261.9h0.7M49.5 237.0h0.7M41.5 245.7h0.7M69.1 255.5h0.7M41.0 252.1h0.7M43.5 250.6h0.7M43.3 241.7h0.7M43.8 249.8h0.7M38.0 253.9h0.7M35.8 261.9h0.7M78.8 252.6h0.7M54.8 263.4h0.7M43.2 251.3h0.7M57.5 261.9h0.7M63.0 273.1h0.7M41.5 256.5h0.7M51.4 260.0h0.7M79.7 258.6h0.7M42.0 244.7h0.7M74.7 270.3h0.7M43.6 249.7h0.7M47.8 247.3h0.7M71.5 250.6h0.7M66.1 259.4h0.7M101.7 220.2h0.7M116.1 220.7h0.7M112.0 223.7h0.7M118.4 219.9h0.7M104.9 224.0h0.7M104.4 221.7h0.7M100.7 210.6h0.7M108.3 226.6h0.7M108.8 226.3h0.7M111.7 224.2h0.7M110.5 200.2h0.7M117.7 212.9h0.7M103.3 219.7h0.7M103.7 222.1h0.7M118.7 209.7h0.7M117.9 211.8h0.7M114.1 203.0h0.7M115.0 220.9h0.7M105.3 226.2h0.7M105.1 203.3h0.7M115.1 257.9h0.7M100.7 268.0h0.7M99.9 268.1h0.7M104.1 269.8h0.7M112.6 263.3h0.7M100.1 245.2h0.7M112.8 269.3h0.7M106.4 242.1h0.7M116.6 262.2h0.7M116.8 253.9h0.7M99.4 246.7h0.7M113.2 247.2h0.7M106.8 269.5h0.7M101.3 245.8h0.7M116.8 250.7h0.7M108.7 269.8h0.7M111.6 263.3h0.7M107.6 242.2h0.7M115.2 250.2h0.7M98.0 266.9h0.7M117.9 269.0h0.7M105.5 244.3h0.7M94.8 268.2h0.7M98.3 252.3h0.7M103.9 245.2h0.7M103.7 223.2h0.7M117.6 215.4h0.7M96.5 247.1h0.7M99.9 237.6h0.7M95.9 257.2h0.7M101.6 188.2h0.7M100.2 209.7h0.7M84.4 224.8h0.7M113.0 244.8h0.7M104.4 266.2h0.7M114.1 226.0h0.7M96.4 210.3h0.7M123.5 240.2h0.7M42.6 248.9h0.7M116.4 202.0h0.7M119.0 259.3h0.7M85.8 226.6h0.7M77.2 253.4h0.7M102.0 221.2h0.7M98.0 262.6h0.7M118.3 250.9h0.7M119.2 255.7h0.7M62.2 230.9h0.7M98.5 196.4h0.7M100.7 217.7h0.7M73.3 220.2h0.7M100.2 194.4h0.7M105.4 267.6h0.7M69.9 216.8h0.7M84.9 226.2h0.7M97.9 221.5h0.7M63.3 258.9h0.7M123.7 268.1h0.7M118.6 230.0h0.7M108.5 238.5h0.7M89.9 221.1h0.7M102.5 200.6h0.7M71.9 256.3h0.7M68.9 222.8h0.7M43.0 255.4h0.7M108.8 232.9h0.7M72.7 221.8h0.7M95.3 262.9h0.7M96.8 255.4h0.7M121.3 218.9h0.7M99.2 214.3h0.7M103.1 225.7h0.7M111.6 240.8h0.7M91.4 224.8h0.7M117.3 218.1h0.7M115.8 267.9h0.7M98.7 264.8h0.7M98.4 233.6h0.7M105.8 229.3h0.7M122.6 213.4h0.7M110.7 274.4h0.7M34.2 252.4h0.7M98.5 229.0h0.7M93.8 274.1h0.7M49.2 246.6h0.7M120.4 220.9h0.7M96.1 213.4h0.7M95.3 189.4h0.7M125.6 211.2h0.7M117.2 273.2h0.7M42.8 258.3h0.7M99.1 249.7h0.7M99.9 199.5h0.7M96.8 221.7h0.7M105.2 275.9h0.7M117.4 206.3h0.7M92.9 240.7h0.7M115.8 255.1h0.7M118.1 206.3h0.7M91.0 197.6h0.7M107.9 268.8h0.7M98.8 234.8h0.7M60.8 227.3h0.7M82.8 247.0h0.7M89.2 217.3h0.7M111.5 225.2h0.7M45.2 249.3h0.7M100.2 233.2h0.7M94.3 212.7h0.7M84.9 219.0h0.7M70.4 219.4h0.7M113.8 247.2h0.7M65.5 258.8h0.7M99.3 248.7h0.7M97.8 253.4h0.7M109.0 235.5h0.7M97.2 259.3h0.7M114.1 245.4h0.7M101.4 245.2h0.7M79.8 250.8h0.7M76.2 249.9h0.7M94.6 216.1h0.7M117.9 204.0h0.7M110.0 271.3h0.7M93.0 229.4h0.7M120.6 230.8h0.7M98.6 215.5h0.7M121.4 211.1h0.7M93.0 237.8h0.7M111.2 197.2h0.7M116.0 235.4h0.7M123.0 211.8h0.7M111.5 229.2h0.7M116.5 219.8h0.7M108.2 243.4h0.7M75.8 248.1h0.7M87.2 212.9h0.7M107.1 243.2h0.7M95.4 244.8h0.7M83.7 246.9h0.7M71.6 217.2h0.7M100.6 202.0h0.7M41.4 247.3h0.7M82.5 249.2h0.7M114.3 204.1h0.7M107.7 243.0h0.7M107.6 275.2h0.7M42.6 255.8h0.7M74.8 219.6h0.7M71.5 254.4h0.7M72.1 219.8h0.7M43.0 264.1h0.7M99.5 271.1h0.7M101.4 203.2h0.7M98.9 231.0h0.7M116.0 251.2h0.7M124.0 217.1h0.7M66.2 218.7h0.7M90.8 221.2h0.7M122.4 260.4h0.7M123.3 250.3h0.7M120.8 219.8h0.7M85.0 241.3h0.7M114.4 240.2h0.7M119.0 226.9h0.7M95.9 214.5h0.7M99.6 212.1h0.7M94.4 230.6h0.7M56.8 238.5h0.7M119.7 204.9h0.7M71.7 259.7h0.7M99.5 227.5h0.7M115.7 221.5h0.7M44.3 250.0h0.7M109.9 191.7h0.7M114.9 193.8h0.7M98.7 264.7h0.7M49.0 245.2h0.7M56.1 242.2h0.7M71.9 221.7h0.7M99.2 260.6h0.7M107.3 202.0h0.7M70.1 214.8h0.7M100.6 244.0h0.7M86.6 236.6h0.7M121.8 256.6h0.7M99.2 264.4h0.7M114.3 202.2h0.7M101.9 207.2h0.7M98.0 210.0h0.7M110.9 239.1h0.7M108.4 230.7h0.7M120.3 274.9h0.7M81.2 222.6h0.7M99.7 205.9h0.7M79.4 222.1h0.7M120.5 213.8h0.7M76.5 219.7h0.7M74.5 219.0h0.7M125.1 210.1h0.7M104.8 194.2h0.7M119.1 256.8h0.7M63.3 225.2h0.7M123.3 196.7h0.7M97.7 206.8h0.7M62.3 241.5h0.7M48.9 264.6h0.7M116.8 257.2h0.7M117.4 230.3h0.7M54.1 245.6h0.7M115.2 249.5h0.7M98.0 234.6h0.7M62.7 238.6h0.7M61.2 259.9h0.7M103.5 238.1h0.7M92.4 267.3h0.7M42.6 253.1h0.7M114.9 222.8h0.7M120.2 228.5h0.7M48.3 241.5h0.7M42.9 253.5h0.7M108.8 197.4h0.7M102.8 203.9h0.7M46.6 247.7h0.7M42.4 254.1h0.7M45.7 257.6h0.7M61.1 230.0h0.7M58.5 259.5h0.7M124.0 187.7h0.7M117.5 213.2h0.7M124.0 218.7h0.7M45.1 256.7h0.7M121.3 275.8h0.7M105.4 240.1h0.7M62.5 241.4h0.7M99.9 260.4h0.7M96.4 237.7h0.7M120.9 261.1h0.7M59.3 237.0h0.7M102.0 206.5h0.7M115.4 249.3h0.7M118.8 216.1h0.7M115.3 236.5h0.7M108.2 225.0h0.7M121.5 221.2h0.7M111.9 264.4h0.7M117.2 225.5h0.7M97.7 238.4h0.7M112.7 275.8h0.7M98.3 265.2h0.7M38.4 248.9h0.7M62.8 259.7h0.7M112.8 242.3h0.7M45.6 249.0h0.7M117.7 222.4h0.7M89.9 235.7h0.7M91.5 256.1h0.7M122.6 224.6h0.7M102.6 219.4h0.7M107.0 231.6h0.7M48.5 258.6h0.7M104.0 235.5h0.7M115.6 243.6h0.7M107.7 188.5h0.7M105.3 228.4h0.7M92.9 214.3h0.7M39.3 255.6h0.7M116.6 247.8h0.7M62.1 243.4h0.7M68.7 222.7h0.7M49.6 240.8h0.7M71.9 252.1h0.7M121.2 203.9h0.7M94.3 244.1h0.7M108.1 226.7h0.7M116.5 242.8h0.7M97.8 261.3h0.7M109.5 239.4h0.7M91.2 264.8h0.7M60.7 239.1h0.7M114.8 200.7h0.7M50.5 246.1h0.7M63.1 229.5h0.7M100.8 273.2h0.7M95.8 246.9h0.7M39.9 249.1h0.7M100.2 261.0h0.7M42.8 247.6h0.7M108.2 199.5h0.7M94.7 225.2h0.7M113.9 243.6h0.7M119.8 265.2h0.7M50.7 261.1h0.7M117.1 254.4h0.7M78.8 221.1h0.7M112.6 241.3h0.7M102.0 232.3h0.7M97.5 217.7h0.7M44.9 262.4h0.7M104.3 186.5h0.7M96.1 243.2h0.7M58.4 245.1h0.7M83.4 242.4h0.7M101.5 190.3h0.7M70.4 260.9h0.7M116.9 202.4h0.7M101.5 193.7h0.7M117.8 202.2h0.7M106.4 240.3h0.7M42.2 253.4h0.7M120.5 272.2h0.7M69.6 221.9h0.7M119.4 211.0h0.7M99.9 227.1h0.7M115.6 257.5h0.7M100.9 205.6h0.7M108.3 230.0h0.7M77.4 219.3h0.7M109.6 226.9h0.7M116.6 257.2h0.7M102.4 244.8h0.7M114.2 230.9h0.7M90.6 223.5h0.7M98.6 265.9h0.7M48.7 244.6h0.7M86.8 230.8h0.7M114.3 244.5h0.7M122.6 202.1h0.7M42.0 256.5h0.7M84.1 224.7h0.7M102.7 245.0h0.7M63.6 229.5h0.7M54.5 260.7h0.7M54.9 218.5h0.7M117.5 247.3h0.7M106.4 195.0h0.7M120.5 219.7h0.7M115.2 234.2h0.7M85.0 243.7h0.7M114.2 262.8h0.7M118.9 256.8h0.7M52.4 243.9h0.7M102.9 192.6h0.7M122.8 218.9h0.7M98.2 255.1h0.7M101.4 189.7h0.7M37.6 251.0h0.7M62.9 258.7h0.7M99.3 252.5h0.7M120.0 252.3h0.7M103.9 241.6h0.7M98.0 260.6h0.7M120.6 257.9h0.7M89.9 236.7h0.7M84.2 243.4h0.7M76.0 247.6h0.7M109.9 266.6h0.7M111.0 197.4h0.7M65.4 226.8h0.7M82.8 208.4h0.7M101.5 204.9h0.7M120.1 220.7h0.7M91.9 230.1h0.7M108.4 237.0h0.7M115.3 235.3h0.7M52.8 242.4h0.7M80.8 219.5h0.7M124.5 255.8h0.7M102.8 191.8h0.7M102.1 205.5h0.7M96.9 218.4h0.7M86.3 234.5h0.7M125.9 201.5h0.7M106.1 198.8h0.7M107.5 195.1h0.7M96.8 264.3h0.7M102.2 200.2h0.7M87.5 224.2h0.7M112.4 265.8h0.7M89.1 229.9h0.7M103.7 204.1h0.7M122.2 258.5h0.7M95.5 256.0h0.7M111.1 200.5h0.7M96.8 212.4h0.7M117.4 257.1h0.7M87.6 239.4h0.7M44.0 249.4h0.7M117.0 198.8h0.7M82.0 204.3h0.7M61.3 231.2h0.7M42.2 250.1h0.7M110.0 199.5h0.7M105.2 198.0h0.7M105.6 198.4h0.7M74.1 219.0h0.7M120.9 194.3h0.7M117.1 218.8h0.7M76.0 246.9h0.7M83.7 249.7h0.7M96.9 203.7h0.7M93.6 238.8h0.7M100.6 248.6h0.7M94.5 242.4h0.7M105.9 196.0h0.7M81.2 249.3h0.7M87.2 239.7h0.7M50.4 246.3h0.7M74.0 251.4h0.7M71.4 257.5h0.7M113.0 229.4h0.7M122.0 247.5h0.7M77.3 251.6h0.7M94.7 240.3h0.7M114.3 237.7h0.7M53.5 263.8h0.7M85.5 227.6h0.7M102.5 198.4h0.7M73.8 247.7h0.7M104.5 268.7h0.7M94.5 214.5h0.7M55.9 245.6h0.7M116.6 229.1h0.7M36.5 247.3h0.7M112.2 202.7h0.7M76.2 247.8h0.7M98.7 258.9h0.7M73.3 250.3h0.7M110.1 193.7h0.7M87.3 229.3h0.7M92.3 219.8h0.7M56.9 241.7h0.7M80.6 218.4h0.7M85.2 224.9h0.7M112.6 243.1h0.7M91.0 233.3h0.7M107.8 231.0h0.7M66.0 225.8h0.7M72.4 218.1h0.7M110.6 232.1h0.7M91.5 251.5h0.7M114.0 192.0h0.7M93.9 254.9h0.7M46.0 258.8h0.7M83.9 243.5h0.7M101.5 263.1h0.7M106.2 198.3h0.7M98.4 251.3h0.7M114.7 246.2h0.7M94.3 232.2h0.7M99.6 204.7h0.7M119.2 250.6h0.7M97.9 206.6h0.7M92.4 250.5h0.7M63.8 228.9h0.7M120.9 253.4h0.7M105.1 223.6h0.7M84.1 247.3h0.7M75.2 220.5h0.7M83.3 243.4h0.7M121.6 263.5h0.7M99.2 210.1h0.7M95.6 251.6h0.7M101.4 196.9h0.7M105.1 203.3h0.7M91.8 257.6h0.7M90.0 225.6h0.7M112.9 234.9h0.7M118.4 201.3h0.7M48.7 244.3h0.7M99.6 206.7h0.7M91.3 242.9h0.7M109.8 244.0h0.7M74.3 249.6h0.7M62.3 224.1h0.7M97.5 245.9h0.7M67.0 257.0h0.7M101.6 243.3h0.7M69.1 257.4h0.7M55.0 260.1h0.7M67.2 221.6h0.7M122.2 246.9h0.7M112.9 269.8h0.7M87.1 209.9h0.7M115.8 252.0h0.7M125.2 229.1h0.7M109.8 227.6h0.7M82.7 243.4h0.7M92.5 249.6h0.7M54.4 238.1h0.7M99.0 250.2h0.7M116.2 252.4h0.7M119.6 253.8h0.7M106.0 231.3h0.7M104.4 266.3h0.7M119.6 223.7h0.7M69.9 222.0h0.7M96.0 250.1h0.7M92.6 243.1h0.7M102.5 204.6h0.7M65.6 226.5h0.7M40.8 254.3h0.7M88.2 208.6h0.7M120.1 203.0h0.7M59.5 232.6h0.7M92.2 239.8h0.7M107.7 268.3h0.7M125.3 212.2h0.7M99.6 224.4h0.7M68.3 255.7h0.7M40.9 252.1h0.7M118.5 209.2h0.7M117.6 269.3h0.7M122.2 263.0h0.7M117.5 208.5h0.7M119.1 266.0h0.7M86.1 227.8h0.7M87.0 228.6h0.7M98.8 223.0h0.7M88.8 186.4h0.7M44.0 250.4h0.7M114.0 188.6h0.7M45.3 257.4h0.7M97.5 244.5h0.7M59.2 260.7h0.7M92.8 220.9h0.7M71.7 252.6h0.7M55.9 243.5h0.7M81.4 223.5h0.7M104.6 224.8h0.7M76.0 256.6h0.7M60.5 235.2h0.7M105.1 245.0h0.7M112.1 241.3h0.7M99.5 244.5h0.7M36.4 242.4h0.7M109.1 270.4h0.7M114.9 249.8h0.7M57.2 245.5h0.7M110.5 272.4h0.7M62.1 241.2h0.7M83.9 216.1h0.7M112.2 225.0h0.7M76.9 246.2h0.7M106.7 199.7h0.7M119.0 249.7h0.7M55.9 260.6h0.7M122.3 251.0h0.7M96.4 214.8h0.7M96.6 262.3h0.7M117.5 210.8h0.7M121.4 217.8h0.7M65.0 223.6h0.7M124.8 206.5h0.7M125.0 244.6h0.7M113.0 223.6h0.7M116.2 219.7h0.7M112.1 228.9h0.7M40.0 251.0h0.7M100.8 210.0h0.7M61.6 262.6h0.7M98.3 249.9h0.7M121.2 210.7h0.7M109.6 225.9h0.7M44.8 246.3h0.7M91.0 228.1h0.7M111.9 274.0h0.7M76.0 262.7h0.7M72.8 221.5h0.7M120.2 209.7h0.7M121.4 226.4h0.7M121.5 207.3h0.7M89.9 227.5h0.7M61.3 260.4h0.7M99.6 190.1h0.7M86.2 236.7h0.7M104.3 199.2h0.7M61.3 243.6h0.7M84.7 203.2h0.7M111.8 241.6h0.7M77.0 219.7h0.7M97.2 237.2h0.7M94.6 210.8h0.7M116.8 219.5h0.7M105.4 239.0h0.7M57.3 236.9h0.7M101.6 275.3h0.7M106.5 273.4h0.7M126.0 211.9h0.7M116.0 247.6h0.7M65.4 260.7h0.7M100.1 211.9h0.7M99.9 195.9h0.7M98.8 196.1h0.7M97.1 255.4h0.7M101.8 221.7h0.7M114.2 243.0h0.7M85.2 254.8h0.7M78.1 248.4h0.7M100.4 230.5h0.7M45.3 256.6h0.7M111.0 271.6h0.7M100.8 200.5h0.7M101.2 247.2h0.7M115.3 245.1h0.7M48.2 261.3h0.7M65.6 222.5h0.7M101.4 206.7h0.7M72.4 219.3h0.7M43.3 255.1h0.7M58.1 244.1h0.7M114.2 248.4h0.7M98.3 207.9h0.7M94.6 224.3h0.7M87.5 238.3h0.7M94.5 250.1h0.7M62.7 224.4h0.7M93.4 242.2h0.7M70.0 219.4h0.7M58.5 242.0h0.7M122.2 213.2h0.7M110.0 265.9h0.7M85.1 226.3h0.7M112.5 246.0h0.7M103.9 226.3h0.7M111.5 225.0h0.7M100.1 209.1h0.7M98.4 271.6h0.7M105.4 232.5h0.7M76.3 221.9h0.7M75.5 189.5h0.7M117.6 204.4h0.7M114.8 264.0h0.7M72.1 248.1h0.7M119.3 266.9h0.7M116.1 248.9h0.7M109.2 237.5h0.7M82.1 244.5h0.7M119.4 202.6h0.7M95.3 227.1h0.7M93.6 202.2h0.7M125.9 262.2h0.7M94.6 252.3h0.7M119.7 219.2h0.7M122.5 208.3h0.7M61.0 223.3h0.7M80.9 254.1h0.7M112.9 267.3h0.7M41.8 248.2h0.7M108.2 266.4h0.7M90.2 243.3h0.7M45.4 257.2h0.7M56.4 230.4h0.7M98.8 209.2h0.7M119.7 243.3h0.7M117.0 245.0h0.7M115.5 227.7h0.7M96.1 264.9h0.7M89.5 231.6h0.7M107.2 238.8h0.7M124.4 227.4h0.7M115.4 260.5h0.7M106.5 233.8h0.7M73.1 261.5h0.7M49.6 262.4h0.7M94.6 232.1h0.7M54.4 243.2h0.7M100.3 249.7h0.7M93.3 247.0h0.7M103.3 245.4h0.7M95.3 257.6h0.7M94.2 274.1h0.7M85.3 225.5h0.7M73.5 254.4h0.7M112.3 199.0h0.7M98.9 197.5h0.7M116.2 254.2h0.7M123.5 203.2h0.7M105.2 244.8h0.7M88.3 273.2h0.7M102.4 201.1h0.7M52.6 242.9h0.7M100.5 216.8h0.7M100.8 267.1h0.7M115.1 267.1h0.7M108.9 276.5h0.7M60.2 261.7h0.7M118.2 221.6h0.7M70.8 220.8h0.7M120.9 259.7h0.7M110.8 240.6h0.7M72.1 253.4h0.7M85.4 241.6h0.7M92.1 206.4h0.7M98.7 237.9h0.7M40.3 251.9h0.7M84.4 225.6h0.7M117.2 232.2h0.7M120.7 217.6h0.7M98.9 251.9h0.7M114.8 203.3h0.7M63.5 258.8h0.7M113.6 234.2h0.7M71.4 256.5h0.7M115.0 238.9h0.7M95.0 248.6h0.7M104.9 227.7h0.7M97.5 194.9h0.7M62.8 242.6h0.7M116.1 247.9h0.7M99.1 187.4h0.7M78.6 245.7h0.7M87.2 220.8h0.7M116.5 256.9h0.7M106.0 240.4h0.7M107.8 273.5h0.7M119.5 189.1h0.7M106.2 223.9h0.7M118.7 254.8h0.7M70.3 222.6h0.7M115.5 266.7h0.7M103.3 228.1h0.7M47.4 257.3h0.7M118.1 207.0h0.7M110.0 226.7h0.7M96.2 207.7h0.7M60.4 259.2h0.7M96.3 250.2h0.7M89.3 226.2h0.7M114.4 245.9h0.7M113.4 245.0h0.7M117.8 211.5h0.7M99.3 260.8h0.7M122.8 211.5h0.7M105.1 199.6h0.7M44.3 257.6h0.7M72.4 251.9h0.7M100.4 246.3h0.7M116.7 191.7h0.7M112.7 239.6h0.7M98.8 215.1h0.7M96.3 245.7h0.7M98.9 255.2h0.7M113.6 247.2h0.7M114.9 263.1h0.7M67.1 215.8h0.7M93.2 222.2h0.7M72.7 256.4h0.7M63.2 264.1h0.7M98.1 270.4h0.7M116.3 221.2h0.7M83.5 224.3h0.7M119.7 244.5h0.7M101.4 224.8h0.7M99.8 194.4h0.7M116.0 249.9h0.7M87.6 229.4h0.7M93.0 228.2h0.7M77.7 249.6h0.7M80.3 245.0h0.7M97.1 195.1h0.7M101.9 263.6h0.7M101.8 267.0h0.7M117.4 216.7h0.7M99.7 214.3h0.7M68.7 216.8h0.7M52.3 241.9h0.7M103.3 222.1h0.7M116.4 256.6h0.7M113.8 203.1h0.7M115.7 239.4h0.7M101.5 274.3h0.7M117.7 265.1h0.7M98.2 267.3h0.7M98.3 202.6h0.7M62.0 230.3h0.7M100.0 206.6h0.7M114.7 234.0h0.7M46.1 258.2h0.7M58.7 234.0h0.7M83.5 195.9h0.7M103.6 221.2h0.7M96.3 225.6h0.7M99.3 251.2h0.7M101.0 200.2h0.7M117.1 250.4h0.7M115.7 222.5h0.7M119.8 213.8h0.7M119.7 207.3h0.7M72.9 220.3h0.7M42.2 256.7h0.7M60.3 235.6h0.7M102.8 206.6h0.7M120.8 208.7h0.7M114.2 190.3h0.7M94.5 226.8h0.7M82.1 251.5h0.7M109.5 201.2h0.7M123.8 241.1h0.7M116.9 231.3h0.7M103.8 237.3h0.7M99.0 205.0h0.7M79.6 222.8h0.7M120.4 250.0h0.7M107.2 196.2h0.7M106.6 268.1h0.7M100.3 223.5h0.7M99.8 208.9h0.7M91.7 223.2h0.7M115.4 201.0h0.7M99.3 251.5h0.7M116.1 259.2h0.7M104.9 233.7h0.7M62.5 241.2h0.7M83.0 260.6h0.7M84.4 223.1h0.7M96.8 269.5h0.7M101.9 266.0h0.7M103.4 187.9h0.7M118.6 231.8h0.7M65.0 227.2h0.7M124.6 244.4h0.7M54.7 227.1h0.7M96.7 200.7h0.7M48.9 259.5h0.7M61.3 238.0h0.7M119.3 256.5h0.7M56.4 259.3h0.7M83.6 189.1h0.7M45.7 258.5h0.7M101.9 220.7h0.7M96.3 265.0h0.7M37.7 249.6h0.7M106.2 238.0h0.7M102.9 227.5h0.7M72.4 257.2h0.7M107.5 197.0h0.7M119.6 250.3h0.7M40.3 256.1h0.7M118.7 253.7h0.7M113.8 197.9h0.7M102.1 218.5h0.7M99.2 219.7h0.7M119.6 244.9h0.7M86.8 213.6h0.7M120.0 218.9h0.7M116.5 238.2h0.7M100.0 249.4h0.7M100.8 198.6h0.7M113.6 245.1h0.7M111.5 263.9h0.7M100.4 216.4h0.7M101.3 237.9h0.7M110.7 273.7h0.7M114.3 275.8h0.7M40.5 256.0h0.7M104.0 265.5h0.7M114.3 228.5h0.7M80.8 223.0h0.7M109.6 242.5h0.7M108.1 193.5h0.7M90.2 240.3h0.7M123.2 212.1h0.7M90.1 214.3h0.7M61.9 258.8h0.7M107.4 202.5h0.7M113.3 199.6h0.7M62.5 231.2h0.7M61.6 233.9h0.7M93.3 255.7h0.7M106.6 236.6h0.7M85.1 222.7h0.7M112.4 245.1h0.7M60.9 239.5h0.7M106.7 236.2h0.7M100.9 243.9h0.7M125.7 263.6h0.7M104.8 235.2h0.7M116.8 206.1h0.7M108.1 267.1h0.7M53.3 245.9h0.7M36.7 251.6h0.7M104.0 186.2h0.7M120.0 212.0h0.7M94.9 218.4h0.7M101.7 266.4h0.7M124.7 205.8h0.7M110.1 230.3h0.7M68.2 222.2h0.7M117.7 211.0h0.7M99.4 205.9h0.7M52.0 239.5h0.7M111.9 264.6h0.7M98.3 261.0h0.7M48.6 246.2h0.7M117.0 202.2h0.7M71.7 254.0h0.7M101.9 243.4h0.7M100.1 250.2h0.7M123.8 248.4h0.7M120.3 247.3h0.7M94.0 214.9h0.7M111.3 268.7h0.7M88.1 210.6h0.7M118.8 263.4h0.7M104.3 274.3h0.7M104.7 197.5h0.7M109.8 238.8h0.7M55.3 260.7h0.7M120.6 210.3h0.7M98.6 268.9h0.7M87.9 236.8h0.7M115.9 254.4h0.7M69.6 222.4h0.7M67.6 264.4h0.7M119.8 214.9h0.7M122.2 214.5h0.7M90.9 224.7h0.7M114.3 270.0h0.7M114.2 200.9h0.7M68.6 215.3h0.7M73.8 249.6h0.7M86.0 219.7h0.7M102.9 272.7h0.7M119.0 216.8h0.7M102.8 245.9h0.7M96.6 262.5h0.7M108.5 201.2h0.7M123.5 214.9h0.7M125.6 236.8h0.7M95.9 241.2h0.7M92.1 187.1h0.7M87.7 234.6h0.7M106.7 243.0h0.7M99.8 214.2h0.7M84.5 253.6h0.7M116.7 243.8h0.7M112.5 230.5h0.7M114.2 248.7h0.7M91.9 219.0h0.7M119.9 243.3h0.7M75.7 255.9h0.7M83.8 225.4h0.7M110.8 229.9h0.7M114.6 220.8h0.7M70.5 257.0h0.7M97.4 214.6h0.7M122.4 205.1h0.7M112.1 201.0h0.7M74.9 252.1h0.7M76.1 219.5h0.7M56.6 244.4h0.7M109.4 244.6h0.7M116.7 263.9h0.7M115.5 263.1h0.7M67.4 259.9h0.7M102.2 242.2h0.7M105.1 201.6h0.7M113.2 245.4h0.7M99.4 239.1h0.7M81.9 219.9h0.7M102.8 246.4h0.7M117.6 207.3h0.7M71.3 248.1h0.7M99.8 236.1h0.7M50.2 258.5h0.7M111.6 193.0h0.7M74.5 217.8h0.7M76.7 246.8h0.7M88.9 226.5h0.7M97.5 213.1h0.7M90.1 264.8h0.7M80.0 212.8h0.7M121.9 195.8h0.7M106.8 228.9h0.7M106.5 272.8h0.7M96.2 252.4h0.7M66.4 222.3h0.7M105.5 268.0h0.7M115.1 237.4h0.7M77.9 247.2h0.7M106.7 269.0h0.7M106.8 234.5h0.7M104.0 241.6h0.7M62.9 241.1h0.7M68.9 223.3h0.7M116.2 241.9h0.7M101.3 234.1h0.7M67.8 261.7h0.7M42.5 254.1h0.7M93.6 268.5h0.7M123.5 228.6h0.7M119.8 220.1h0.7M44.2 259.6h0.7M105.8 267.3h0.7M123.2 234.9h0.7M62.7 239.4h0.7M101.9 197.6h0.7M122.7 200.7h0.7M93.0 209.4h0.7M96.9 226.7h0.7M114.6 259.8h0.7M110.6 239.9h0.7M85.2 223.5h0.7M106.2 199.6h0.7M115.8 250.0h0.7M103.7 235.8h0.7M87.7 242.4h0.7M105.6 198.8h0.7M97.9 228.6h0.7M110.9 265.4h0.7M72.5 221.0h0.7M125.2 203.3h0.7M39.2 258.3h0.7M76.1 246.5h0.7M99.1 247.9h0.7M100.3 237.5h0.7M118.9 257.8h0.7M119.4 225.0h0.7M101.7 261.6h0.7M94.9 220.8h0.7M102.4 263.2h0.7M105.8 192.2h0.7M43.3 248.2h0.7M79.2 219.9h0.7M101.4 247.3h0.7M102.3 221.1h0.7M113.4 186.5h0.7M115.7 238.0h0.7M105.7 272.7h0.7M51.2 258.9h0.7M51.0 245.4h0.7M101.8 264.0h0.7M45.4 260.6h0.7M86.7 224.5h0.7M105.0 193.4h0.7M76.4 247.0h0.7M100.3 212.8h0.7M91.6 254.9h0.7M86.0 239.2h0.7M100.3 207.8h0.7M123.2 259.3h0.7M124.3 231.8h0.7M44.1 255.3h0.7M117.9 204.5h0.7M100.3 242.7h0.7M108.7 270.6h0.7M119.9 254.2h0.7M98.8 229.2h0.7M53.3 260.6h0.7M100.5 205.8h0.7M98.5 249.9h0.7M81.1 220.1h0.7M109.5 226.9h0.7M96.6 217.8h0.7M116.8 223.4h0.7M98.9 261.0h0.7M66.0 216.5h0.7M45.5 248.5h0.7M123.7 259.6h0.7M103.1 203.8h0.7M60.0 244.9h0.7M104.3 201.4h0.7M103.9 221.2h0.7M45.4 248.1h0.7M102.5 268.1h0.7M77.5 247.2h0.7M64.4 259.2h0.7M44.0 244.4h0.7M62.0 243.3h0.7M86.0 239.6h0.7M66.1 225.0h0.7M108.6 233.9h0.7M95.4 240.0h0.7M121.6 243.8h0.7M106.8 202.8h0.7M102.2 231.5h0.7M99.3 253.0h0.7M75.5 251.5h0.7M72.6 250.6h0.7M120.3 241.9h0.7M61.4 241.2h0.7M91.7 248.6h0.7M58.1 236.0h0.7M125.3 257.3h0.7M70.8 251.9h0.7M42.1 252.3h0.7M101.0 218.9h0.7M99.2 255.9h0.7M99.3 244.5h0.7M43.3 254.9h0.7M87.7 260.2h0.7M115.2 229.8h0.7M102.4 203.7h0.7M100.2 225.7h0.7M108.2 200.7h0.7M45.4 259.2h0.7M77.4 266.4h0.7M121.7 215.5h0.7M118.1 216.6h0.7M101.2 266.8h0.7M86.9 233.6h0.7M112.9 223.0h0.7M100.1 220.1h0.7M104.5 244.6h0.7M107.5 228.2h0.7M96.6 205.0h0.7M96.0 247.4h0.7M116.6 235.0h0.7M103.5 265.2h0.7M56.0 261.2h0.7M122.5 248.1h0.7M93.2 242.9h0.7M85.0 259.9h0.7M93.0 231.2h0.7M97.5 192.3h0.7M94.4 214.7h0.7M97.1 240.1h0.7M105.0 245.1h0.7M73.6 247.6h0.7M45.7 247.9h0.7M48.4 242.7h0.7M122.9 220.7h0.7M87.0 237.0h0.7M114.2 266.0h0.7M77.3 247.8h0.7M62.2 232.0h0.7M112.1 200.2h0.7M43.6 257.9h0.7M113.0 223.0h0.7M93.2 214.3h0.7M49.3 259.4h0.7M66.3 257.1h0.7M113.7 203.0h0.7M52.0 244.0h0.7M115.0 250.2h0.7M51.5 258.7h0.7M109.6 271.8h0.7M47.0 247.7h0.7M112.0 200.9h0.7M113.0 185.6h0.7M85.9 217.4h0.7M102.8 229.2h0.7M102.1 264.8h0.7M113.6 271.4h0.7M114.7 189.9h0.7M39.0 255.5h0.7M102.7 244.2h0.7M58.1 228.5h0.7M120.3 212.5h0.7M72.1 216.6h0.7M44.4 254.0h0.7M100.3 198.5h0.7M119.8 247.3h0.7M84.9 197.0h0.7M95.3 210.6h0.7M113.4 266.2h0.7M107.9 273.8h0.7M80.8 252.2h0.7M95.1 242.9h0.7M97.6 215.0h0.7M79.5 254.8h0.7M54.8 245.6h0.7M73.3 250.9h0.7M96.5 204.1h0.7M93.4 217.5h0.7M91.3 254.8h0.7M96.8 267.5h0.7M38.0 253.5h0.7M100.1 204.4h0.7M121.0 210.8h0.7M116.2 254.3h0.7M84.6 240.4h0.7M90.9 198.6h0.7M103.0 227.9h0.7M96.8 252.3h0.7M58.6 226.5h0.7M119.9 233.6h0.7M119.0 224.1h0.7M96.9 209.1h0.7M43.1 255.9h0.7M117.9 242.9h0.7M117.7 214.6h0.7M97.5 233.7h0.7M116.9 203.1h0.7M98.4 239.6h0.7M102.2 222.1h0.7M62.7 228.4h0.7M103.4 226.1h0.7M106.3 196.6h0.7M95.9 187.1h0.7M97.2 250.7h0.7M37.3 250.0h0.7M71.9 253.7h0.7M64.5 258.3h0.7M117.8 221.1h0.7M71.7 221.4h0.7M106.2 231.3h0.7M121.6 211.5h0.7M102.8 246.4h0.7M88.9 233.9h0.7M121.6 236.6h0.7M118.2 211.7h0.7M83.7 242.4h0.7M114.4 232.4h0.7M69.7 255.4h0.7M57.3 240.3h0.7M118.5 254.5h0.7M119.9 253.6h0.7M118.4 249.3h0.7M110.7 243.4h0.7M94.0 220.2h0.7M96.4 209.0h0.7M87.8 221.2h0.7M93.6 271.7h0.7M54.6 261.5h0.7M97.3 227.9h0.7M116.2 271.6h0.7M113.2 234.9h0.7M81.0 221.9h0.7M61.8 237.0h0.7M97.4 235.4h0.7M55.6 269.8h0.7M86.4 230.6h0.7M76.7 248.4h0.7M64.0 221.1h0.7M47.3 261.1h0.7M99.8 221.7h0.7M59.8 241.5h0.7M66.6 221.2h0.7M105.2 268.7h0.7M101.1 204.3h0.7M96.9 240.2h0.7M71.1 254.8h0.7M99.4 232.2h0.7M88.8 213.3h0.7M117.0 190.5h0.7M89.2 199.7h0.7M112.2 242.0h0.7M61.7 241.6h0.7M113.3 246.8h0.7M116.1 240.5h0.7M102.9 225.1h0.7M88.4 247.2h0.7M83.8 244.6h0.7M119.3 214.9h0.7M118.5 195.5h0.7M102.5 266.5h0.7M103.8 224.5h0.7M83.3 247.6h0.7M83.8 244.0h0.7M108.8 273.7h0.7M58.3 245.5h0.7M118.4 249.3h0.7M97.4 267.3h0.7M105.0 203.0h0.7M48.1 247.0h0.7M118.0 255.7h0.7M59.3 236.9h0.7M121.0 245.2h0.7M94.8 212.2h0.7M98.3 198.8h0.7M116.8 217.2h0.7M87.7 233.6h0.7M69.6 222.1h0.7M99.3 260.9h0.7M106.3 230.7h0.7M100.3 246.2h0.7M100.8 267.5h0.7M49.5 258.4h0.7M71.3 219.2h0.7M120.6 215.9h0.7M51.4 238.3h0.7M93.0 193.2h0.7M115.0 204.5h0.7M106.2 202.1h0.7M76.2 248.8h0.7M112.2 266.3h0.7M43.0 250.0h0.7M102.8 264.9h0.7M104.9 274.5h0.7M106.5 238.6h0.7M54.2 228.7h0.7M72.2 221.2h0.7M92.0 217.7h0.7M38.9 251.3h0.7M124.2 264.4h0.7M79.8 215.8h0.7M102.5 201.0h0.7M78.0 248.3h0.7M97.1 250.5h0.7M118.7 201.0h0.7M69.2 254.8h0.7M117.0 253.6h0.7M79.5 248.1h0.7M53.6 244.4h0.7M66.5 258.2h0.7M51.6 262.8h0.7M99.5 258.3h0.7M63.4 227.8h0.7"/>
<path d="M109.8 224.6 108.8 224.7 107.6 224.4 106.3 223.7 105.2 222.8 104.8 222.1 103.8 219.6 102.2 217.6 101.4 216.3 101.0 215.1 100.7 213.3 100.7 212.3 100.9 211.3 102.5 207.6 102.9 206.8 106.6 203.3 107.8 202.5 108.8 202.3 110.1 202.4 111.3 202.8 112.3 203.3 113.1 203.8 116.0 206.6 116.6 207.3 117.1 208.3 117.4 209.8 117.4 215.1 117.1 216.3 116.5 217.8 115.3 219.7 112.9 222.6 111.3 223.9 109.8 224.6ZM58.9 258.8 56.4 259.0 51.9 258.7 49.9 258.2 47.6 257.2 46.6 256.6 45.7 255.8 44.9 254.8 44.5 254.1 44.2 253.3 44.1 252.3 44.2 251.6 44.5 250.8 45.2 249.8 46.6 248.6 48.1 247.6 49.9 246.9 51.4 246.5 55.6 245.7 57.1 245.6 59.4 245.8 60.4 245.7 61.9 245.2 62.6 244.8 63.2 244.3 63.7 243.3 63.8 242.3 63.2 238.3 63.2 235.8 62.9 233.3 63.1 231.8 64.0 229.6 64.8 228.1 66.7 225.8 68.6 224.0 69.8 223.2 71.1 222.7 72.8 222.3 74.6 222.1 75.8 222.1 77.1 222.4 79.3 223.1 80.6 223.7 82.6 225.2 84.6 227.3 85.7 229.1 86.4 231.3 86.5 233.1 85.9 236.6 85.2 238.6 84.3 240.6 83.6 241.6 82.3 243.0 81.6 243.7 80.6 244.3 77.3 245.8 72.3 247.0 71.1 247.7 70.6 248.3 70.3 248.9 69.7 252.3 69.2 253.6 68.1 255.1 66.8 256.3 65.1 257.2 62.6 258.2 61.1 258.5 58.9 258.8ZM107.6 266.3 106.3 266.5 105.3 266.2 104.3 265.5 103.5 264.6 102.4 262.1 101.0 259.6 100.3 257.8 99.9 256.1 99.6 253.8 99.6 252.8 99.9 251.3 101.1 248.6 101.7 247.6 102.6 246.7 104.1 245.7 105.3 245.2 106.8 245.0 109.6 244.9 110.6 245.1 111.6 245.8 112.8 247.3 114.2 249.3 114.9 250.6 115.3 251.8 115.5 253.3 115.5 254.8 115.2 256.6 114.8 258.3 114.3 259.6 113.5 260.8 109.8 265.3 108.8 265.9 107.6 266.3Z" fill="#fff" stroke="#222" stroke-width="1.0"/>
<path d="M109.6 221.6 108.8 221.6 108.0 221.1 107.5 220.3 106.7 218.6 104.5 216.1 103.9 214.8 103.7 213.1 104.0 209.8 104.4 208.8 104.8 208.1 105.8 206.9 107.3 205.9 108.3 205.5 109.6 205.4 110.6 205.5 111.6 205.8 112.6 206.5 113.9 207.8 114.5 208.6 115.0 209.6 115.3 210.6 115.4 211.8 115.1 214.3 114.7 215.3 114.2 216.3 113.6 217.2 112.2 218.8 110.8 220.8 110.3 221.3 109.6 221.6ZM76.3 243.6 74.8 243.8 71.8 243.5 70.6 243.2 68.8 242.2 67.8 241.4 67.2 240.6 66.1 238.3 65.8 236.8 65.5 232.1 65.8 230.8 66.4 229.6 68.3 227.1 69.8 225.7 71.3 224.9 73.6 224.4 75.1 224.3 76.6 224.5 79.1 225.4 80.3 226.0 81.6 227.1 82.5 228.3 83.5 230.1 83.9 231.6 84.0 232.8 83.7 236.3 83.2 237.8 82.6 239.1 81.5 240.6 80.1 241.8 78.1 242.9 76.3 243.6ZM107.6 263.3 106.8 263.3 106.3 262.9 105.2 260.8 102.7 257.8 102.3 257.1 101.9 256.1 101.6 253.8 101.7 252.8 102.0 251.8 102.6 250.6 103.6 249.3 104.3 248.5 105.3 247.8 106.3 247.5 107.3 247.4 108.3 247.5 109.6 247.9 110.8 248.7 111.8 249.6 112.5 250.6 112.9 251.6 113.3 252.8 113.5 254.3 113.2 256.1 112.2 258.1 111.1 259.5 109.5 261.1 108.3 262.8 107.6 263.3ZM56.6 257.1 54.4 257.0 52.4 256.7 50.9 256.3 49.8 255.8 48.7 254.8 47.7 253.3 47.6 252.3 47.9 251.3 49.2 250.1 51.4 248.7 52.9 248.3 55.9 248.0 58.6 248.2 62.1 249.0 63.4 249.6 64.7 250.8 65.1 251.8 65.0 252.8 64.2 254.3 63.2 255.3 62.1 256.0 60.9 256.4 56.6 257.1ZM109.3 220.2 109.1 220.2 108.9 220.1 108.6 218.8 108.3 218.3 106.1 216.3 105.3 215.3 104.8 213.8 104.7 212.1 104.9 210.6 105.1 209.6 105.4 208.8 106.0 208.1 106.8 207.3 107.8 206.8 108.8 206.5 109.8 206.4 110.8 206.6 111.6 206.9 112.3 207.5 113.2 208.3 113.7 209.1 114.3 210.1 114.5 211.1 114.5 212.1 114.3 213.8 113.6 215.3 112.8 216.3 110.1 218.6 109.3 220.2ZM76.6 242.1 75.1 242.2 72.6 242.0 71.3 241.7 70.1 241.1 69.1 240.3 68.2 239.1 67.2 237.3 66.8 235.8 66.8 234.6 67.1 231.3 67.5 230.1 68.3 228.8 69.3 227.6 70.6 226.8 72.1 226.2 74.3 225.7 75.6 225.7 76.8 225.9 78.6 226.4 79.8 227.1 80.7 227.8 81.6 229.1 82.3 230.6 82.6 231.8 82.7 233.1 82.6 235.6 82.4 236.8 81.9 237.8 80.8 239.2 79.3 240.7 78.1 241.5 76.6 242.1ZM107.8 260.1 107.3 260.1 106.3 259.7 105.1 258.9 104.1 258.1 103.5 257.3 102.9 256.3 102.6 255.3 102.5 254.3 102.5 253.3 102.8 252.3 103.2 251.3 103.7 250.6 104.6 249.6 105.3 249.0 106.1 248.6 107.1 248.4 108.1 248.4 109.1 248.7 110.1 249.3 110.8 249.9 111.4 250.6 112.0 251.6 112.4 252.8 112.6 253.8 112.5 254.8 112.3 255.8 111.9 256.8 111.2 257.8 110.6 258.5 109.8 259.2 108.8 259.7 107.8 260.1ZM57.6 255.8 56.1 256.0 54.6 255.9 52.9 255.5 51.6 255.1 50.8 254.6 50.1 253.8 49.8 252.8 50.0 252.1 50.6 251.2 51.9 250.2 52.9 249.7 53.9 249.4 55.6 249.2 57.4 249.3 58.9 249.6 60.2 250.1 61.3 250.8 62.0 251.8 62.2 252.6 62.0 253.6 61.5 254.3 60.6 255.0 59.4 255.4 57.6 255.8ZM110.3 216.6 109.6 216.8 108.8 216.7 107.8 216.4 107.1 215.9 106.5 215.3 106.0 214.6 105.7 213.8 105.6 212.8 105.7 210.6 105.9 209.8 106.3 209.1 106.8 208.4 107.6 207.8 108.3 207.5 109.3 207.2 110.1 207.3 110.8 207.4 112.1 208.3 112.8 209.1 113.3 209.8 113.8 211.3 113.7 213.1 113.1 214.6 112.1 215.7 111.3 216.2 110.3 216.6ZM76.6 240.6 75.3 240.7 73.3 240.7 72.3 240.5 71.3 240.1 70.6 239.7 69.8 239.0 69.0 237.8 68.3 236.6 68.0 235.8 68.0 234.8 68.5 230.8 68.8 230.1 69.3 229.3 70.1 228.6 70.8 228.1 74.6 227.1 75.6 227.0 76.8 227.2 78.3 227.6 79.3 228.2 80.1 229.1 80.8 230.3 81.2 231.6 81.5 233.1 81.5 235.1 81.2 236.6 80.4 237.8 79.0 239.3 77.8 240.1 76.6 240.6ZM108.8 258.6 108.1 258.7 107.3 258.7 106.3 258.5 105.6 258.1 104.8 257.5 104.2 256.8 103.7 256.1 103.5 255.3 103.3 253.6 103.7 252.1 104.3 251.1 105.1 250.3 105.8 249.7 106.6 249.4 107.3 249.3 108.3 249.4 109.1 249.7 109.8 250.1 111.0 251.3 111.5 252.3 111.7 253.1 111.8 254.1 111.7 254.8 111.2 256.3 110.8 257.1 110.1 257.8 109.6 258.2 108.8 258.6ZM56.4 254.8 54.6 254.6 53.7 254.3 53.0 253.8 52.7 253.3 52.5 252.8 52.7 252.1 53.1 251.6 53.6 251.2 54.4 250.8 55.1 250.6 56.1 250.5 57.1 250.6 58.1 250.8 58.9 251.2 59.3 251.6 59.7 252.1 59.8 252.6 59.8 253.1 59.5 253.6 58.9 254.1 58.1 254.4 56.4 254.8ZM110.3 215.6 109.6 215.8 108.8 215.7 108.1 215.4 107.6 215.1 106.7 214.1 106.3 212.8 106.3 211.1 106.5 210.3 106.9 209.6 107.2 209.1 107.8 208.5 109.1 208.0 110.3 208.1 111.1 208.4 111.6 208.7 112.2 209.3 112.7 210.1 113.1 211.3 113.0 212.8 112.5 214.1 111.6 215.0 110.3 215.6ZM76.1 239.3 73.6 239.4 72.1 239.1 71.3 238.6 70.8 238.1 69.6 236.3 69.4 235.6 69.3 234.8 69.6 231.6 70.1 230.3 70.5 229.8 71.1 229.4 72.1 229.0 74.6 228.4 76.3 228.3 77.3 228.6 78.3 229.1 78.8 229.6 79.5 230.6 80.0 231.8 80.2 233.1 80.2 234.8 79.9 236.1 79.2 237.3 78.2 238.3 77.3 238.9 76.1 239.3ZM108.3 257.8 107.6 257.9 106.8 257.7 105.6 257.1 104.6 256.1 104.3 255.3 104.1 254.6 104.0 253.8 104.1 253.1 104.7 251.8 105.8 250.7 107.1 250.2 108.3 250.3 109.6 250.9 110.4 251.8 110.8 252.6 111.0 253.3 111.0 254.8 110.5 256.1 109.6 257.2 108.8 257.7 108.3 257.8ZM110.3 214.8 109.8 214.9 109.1 214.9 108.1 214.5 107.3 213.6 107.0 212.6 107.0 211.3 107.4 210.1 108.1 209.2 109.1 208.8 110.1 208.8 111.1 209.2 111.9 210.1 112.4 211.3 112.4 212.6 112.0 213.6 111.3 214.3 110.3 214.8ZM75.6 238.1 74.6 238.2 73.6 238.1 72.8 237.9 72.1 237.4 71.6 236.8 71.0 235.8 70.8 235.1 70.7 234.1 70.9 231.8 71.1 231.3 71.5 230.8 72.1 230.4 73.1 230.0 74.6 229.6 75.6 229.5 76.8 229.7 77.4 230.1 77.9 230.6 78.4 231.3 78.7 232.1 78.9 233.8 78.8 235.3 78.1 236.6 77.0 237.6 75.6 238.1ZM108.1 257.1 107.1 257.0 106.1 256.5 105.2 255.6 104.8 254.6 104.8 253.3 105.2 252.3 106.1 251.4 107.1 251.0 108.1 251.0 109.2 251.6 109.9 252.3 110.4 253.6 110.3 254.8 109.9 255.8 109.1 256.7 108.1 257.1ZM110.1 214.1 109.3 214.2 108.5 213.8 107.9 213.1 107.6 212.3 107.6 211.3 108.0 210.3 108.6 209.7 109.3 209.5 110.1 209.5 110.8 209.9 111.5 210.6 111.8 211.6 111.8 212.3 111.5 213.1 110.8 213.8 110.1 214.1ZM75.6 236.6 74.3 236.7 73.3 236.3 72.8 235.9 72.4 235.3 72.1 234.1 72.1 232.8 72.5 231.8 73.3 231.1 74.8 230.7 75.8 230.7 76.3 230.9 76.8 231.2 77.5 232.1 77.7 233.1 77.7 234.3 77.3 235.3 76.6 236.1 75.6 236.6ZM108.1 256.3 107.3 256.3 106.6 256.0 105.8 255.3 105.5 254.6 105.4 253.6 105.7 252.8 106.3 252.1 107.1 251.8 108.1 251.8 108.8 252.1 109.4 252.8 109.7 253.6 109.7 254.6 109.4 255.3 108.8 256.0 108.1 256.3ZM110.1 213.4 109.3 213.4 108.8 213.2 108.5 212.8 108.2 212.3 108.2 211.6 108.3 211.0 108.8 210.4 109.3 210.2 110.1 210.2 110.6 210.6 111.0 211.1 111.1 211.6 111.1 212.1 111.0 212.6 110.6 213.1 110.1 213.4ZM75.1 235.1 74.3 235.0 73.8 234.6 73.6 234.1 73.5 233.3 73.6 232.8 74.1 232.2 74.8 231.8 75.6 231.7 76.1 232.0 76.4 232.3 76.6 232.8 76.6 233.6 76.5 234.1 76.1 234.6 75.6 234.9 75.1 235.1ZM108.1 255.6 107.6 255.7 106.8 255.4 106.5 255.1 106.2 254.6 106.1 253.8 106.2 253.3 106.6 252.8 107.1 252.5 107.8 252.4 108.3 252.6 108.8 253.1 109.0 253.6 109.1 254.3 108.9 254.8 108.6 255.3 108.1 255.6ZM109.8 212.7 109.3 212.7 109.1 212.6 108.8 212.1 108.9 211.3 109.3 210.9 109.8 210.9 110.1 211.0 110.4 211.6 110.3 212.3 109.8 212.7ZM75.3 233.7 75.1 233.7 74.9 233.3 75.1 232.8 75.3 232.7 75.6 232.8 75.7 233.1 75.6 233.5 75.3 233.7ZM107.8 254.9 107.2 254.8 106.8 254.3 106.8 253.6 107.3 253.1 107.8 253.1 108.1 253.3 108.4 253.8 108.3 254.6 107.8 254.9Z" fill="none" stroke="#222" stroke-width="0.6"/>
<path stroke="#1a1a1a" stroke-opacity="0.85" stroke-width="0.7" d="M185.5 196.7h0.7M250.4 249.4h0.7M173.0 207.6h0.7M253.7 228.4h0.7M237.6 230.9h0.7M175.8 217.0h0.7M213.0 195.0h0.7M172.8 218.2h0.7M232.1 233.2h0.7M186.5 192.0h0.7M226.4 237.6h0.7M203.3 226.5h0.7M189.4 257.9h0.7M202.9 201.1h0.7M198.6 239.3h0.7M248.2 262.4h0.7M199.6 244.4h0.7M181.6 260.9h0.7M248.6 227.6h0.7M237.8 228.8h0.7M181.3 244.3h0.7M184.0 265.8h0.7M204.0 205.6h0.7M233.0 233.2h0.7M179.0 199.8h0.7M174.9 213.5h0.7M203.2 222.3h0.7M234.6 231.1h0.7M188.9 195.3h0.7M191.4 248.2h0.7M206.3 214.2h0.7M230.3 233.5h0.7M239.2 229.6h0.7M231.6 233.8h0.7M205.6 203.2h0.7M205.8 238.6h0.7M199.2 237.0h0.7M191.9 244.9h0.7M174.0 204.8h0.7M194.6 191.4h0.7M182.2 244.2h0.7M184.1 254.3h0.7M247.6 228.7h0.7M238.9 251.5h0.7M200.9 250.1h0.7M209.7 245.8h0.7M216.0 214.8h0.7M176.2 224.2h0.7M191.1 248.3h0.7M198.3 241.0h0.7M222.2 235.6h0.7M250.2 229.2h0.7M255.9 246.1h0.7M250.3 225.8h0.7M233.5 251.1h0.7M182.8 250.6h0.7M196.0 241.7h0.7M208.0 205.2h0.7M188.8 262.8h0.7M205.1 213.4h0.7M249.8 227.4h0.7M256.3 228.5h0.7M171.7 216.0h0.7M254.8 229.0h0.7M170.4 209.4h0.7M227.2 245.4h0.7M233.6 249.3h0.7M206.9 219.8h0.7M180.1 202.8h0.7M171.0 242.4h0.7M239.2 254.3h0.7M249.8 249.9h0.7M185.1 263.4h0.7M177.0 275.4h0.7M201.7 190.5h0.7M176.3 222.1h0.7M203.7 235.9h0.7M233.1 248.9h0.7M183.1 270.4h0.7M254.7 248.6h0.7M240.7 229.2h0.7M195.8 253.0h0.7M244.5 228.6h0.7M206.2 218.1h0.7M176.8 211.1h0.7M182.3 259.5h0.7M199.1 189.6h0.7M243.5 229.5h0.7M256.5 232.3h0.7M225.6 245.9h0.7M178.3 253.1h0.7M192.2 192.6h0.7M239.7 227.6h0.7M177.6 237.0h0.7M178.5 246.4h0.7M230.6 247.8h0.7M205.9 220.3h0.7M187.7 194.2h0.7M235.4 230.0h0.7M244.5 228.6h0.7M190.5 193.4h0.7M180.7 243.5h0.7M251.1 220.5h0.7M176.7 201.2h0.7M239.7 250.7h0.7M244.9 228.5h0.7M242.8 251.0h0.7M236.5 252.6h0.7M176.3 237.2h0.7M194.6 247.0h0.7M252.9 221.6h0.7M218.3 205.5h0.7M227.6 243.4h0.7M198.1 241.4h0.7M232.8 263.5h0.7M209.7 256.0h0.7M201.8 270.8h0.7M221.9 262.3h0.7M223.7 266.7h0.7M232.4 260.6h0.7M213.2 259.4h0.7M206.3 264.1h0.7M176.2 259.9h0.7M225.3 254.4h0.7M218.8 258.7h0.7M205.1 273.9h0.7M244.6 253.7h0.7M214.4 255.7h0.7M224.3 246.3h0.7M205.4 256.3h0.7M225.0 263.4h0.7M213.0 272.9h0.7M229.1 251.8h0.7M207.5 260.7h0.7M201.9 248.7h0.7M234.6 252.4h0.7M221.2 240.3h0.7M237.5 259.3h0.7M219.4 246.0h0.7M213.9 265.1h0.7M224.4 247.2h0.7M193.5 242.1h0.7M182.3 255.6h0.7M222.4 269.8h0.7M201.3 259.5h0.7M176.6 265.0h0.7M194.4 257.8h0.7M210.2 259.8h0.7M210.2 243.6h0.7M207.2 271.6h0.7M233.2 258.2h0.7M223.1 237.3h0.7M221.2 273.2h0.7M225.4 275.7h0.7M204.5 235.8h0.7M190.7 260.2h0.7M228.9 263.5h0.7M239.4 267.9h0.7M195.1 259.1h0.7M213.7 268.3h0.7M207.5 275.1h0.7M209.8 255.7h0.7M218.9 268.5h0.7M198.5 272.6h0.7M202.7 271.9h0.7M217.1 248.2h0.7M207.2 268.5h0.7M217.6 262.6h0.7M178.7 268.4h0.7M218.1 264.4h0.7M194.7 269.8h0.7M215.2 265.2h0.7M195.5 275.2h0.7M220.2 268.3h0.7M239.4 252.6h0.7M188.6 258.7h0.7M216.1 255.4h0.7M209.4 258.3h0.7M186.9 276.5h0.7M203.9 269.1h0.7M215.4 266.1h0.7M211.7 245.0h0.7M194.5 257.9h0.7M229.1 247.4h0.7M245.5 250.9h0.7M189.9 260.5h0.7M187.2 268.4h0.7M217.8 268.0h0.7M216.5 255.8h0.7M179.7 255.7h0.7M208.3 267.2h0.7M186.8 268.9h0.7M183.5 266.4h0.7M177.7 263.4h0.7M223.2 251.0h0.7M218.0 272.3h0.7M241.8 252.5h0.7M234.1 260.9h0.7M205.1 272.9h0.7M196.8 271.5h0.7M217.5 249.4h0.7M237.4 273.2h0.7M197.4 274.3h0.7M204.6 258.9h0.7M195.2 270.4h0.7M214.7 254.3h0.7M215.7 250.1h0.7M234.7 251.6h0.7M233.0 262.4h0.7M238.7 259.4h0.7M236.5 265.7h0.7M180.4 260.1h0.7M212.7 270.3h0.7M190.6 275.9h0.7M218.4 259.6h0.7M217.0 273.4h0.7M234.0 269.0h0.7M198.7 242.5h0.7M193.3 253.4h0.7M235.2 264.3h0.7M203.6 262.5h0.7M242.9 257.4h0.7M219.9 264.7h0.7M245.3 259.4h0.7M254.0 248.6h0.7M249.6 270.6h0.7M207.1 260.3h0.7M235.4 264.5h0.7M251.2 260.5h0.7M208.8 249.8h0.7M253.2 260.2h0.7M199.6 255.9h0.7M177.7 264.3h0.7M199.1 267.1h0.7M199.1 257.9h0.7M223.5 248.1h0.7M215.5 265.8h0.7M203.1 265.2h0.7M195.3 252.8h0.7M168.2 268.4h0.7M253.5 262.8h0.7M190.4 257.1h0.7M183.1 243.9h0.7M234.3 262.8h0.7M219.2 263.8h0.7M217.2 258.5h0.7M226.9 260.1h0.7M197.7 267.3h0.7M181.1 247.4h0.7M213.3 245.4h0.7M220.4 251.2h0.7M232.0 214.1h0.7M249.0 199.5h0.7M231.5 204.8h0.7M204.4 207.9h0.7M225.0 210.0h0.7M231.6 217.5h0.7M238.8 205.2h0.7M201.9 234.8h0.7M227.5 229.4h0.7M230.5 208.1h0.7M223.6 222.1h0.7M228.1 198.9h0.7M208.6 201.4h0.7M224.3 234.5h0.7M243.9 220.5h0.7M252.8 206.0h0.7M247.8 202.1h0.7M247.2 213.0h0.7M212.6 200.6h0.7M231.2 233.8h0.7M221.8 203.2h0.7M204.0 203.1h0.7M209.5 217.1h0.7M234.1 201.8h0.7M211.0 199.2h0.7M227.9 206.1h0.7M245.2 194.8h0.7M241.8 221.3h0.7M248.6 193.2h0.7M232.8 203.0h0.7M248.3 203.9h0.7M210.7 194.1h0.7M220.4 238.0h0.7M232.2 209.5h0.7M203.7 201.9h0.7M218.8 211.0h0.7M212.5 238.6h0.7M229.2 200.4h0.7M228.0 223.1h0.7M210.1 208.0h0.7M230.4 214.5h0.7M253.8 191.9h0.7M227.7 219.5h0.7M221.7 212.1h0.7M233.3 210.9h0.7M231.9 213.9h0.7M240.9 217.2h0.7M234.8 190.6h0.7M217.9 207.8h0.7M230.8 204.6h0.7M225.7 232.8h0.7M226.5 229.3h0.7M249.3 214.0h0.7M205.7 230.4h0.7M208.8 230.5h0.7M243.6 222.7h0.7M208.0 216.6h0.7M204.7 232.6h0.7M238.0 223.8h0.7M247.5 223.3h0.7M217.9 254.2h0.7M202.7 244.4h0.7M197.4 238.9h0.7M194.3 253.6h0.7M209.2 205.0h0.7M203.0 235.5h0.7M192.0 247.3h0.7M213.7 247.0h0.7M203.0 233.3h0.7M203.9 265.1h0.7M203.4 226.2h0.7M205.5 218.1h0.7M201.2 246.4h0.7M193.6 259.6h0.7M192.9 258.5h0.7M209.6 221.3h0.7M198.0 237.4h0.7M201.7 237.3h0.7M184.7 248.6h0.7M199.1 252.6h0.7M198.5 255.0h0.7M195.9 238.6h0.7M204.6 247.6h0.7M198.3 240.0h0.7M205.2 249.4h0.7M200.8 266.4h0.7M200.3 246.2h0.7M198.1 259.3h0.7M208.8 240.2h0.7M204.4 238.7h0.7M206.2 211.4h0.7M198.9 238.9h0.7M220.4 243.0h0.7M204.8 240.6h0.7M201.5 246.1h0.7M211.0 226.9h0.7M207.4 241.1h0.7M212.3 243.9h0.7M215.5 246.6h0.7M204.2 255.7h0.7M203.5 235.6h0.7M208.8 227.3h0.7M209.8 228.9h0.7M201.5 245.2h0.7M192.7 255.5h0.7M199.1 248.3h0.7M196.2 255.6h0.7M197.3 242.6h0.7M203.2 234.5h0.7M199.4 265.4h0.7M206.3 243.4h0.7M206.5 225.7h0.7M202.4 257.4h0.7M207.7 257.7h0.7M195.4 251.5h0.7M198.9 262.7h0.7M213.4 244.3h0.7M221.5 244.1h0.7M203.9 251.2h0.7M201.7 241.9h0.7M200.7 276.2h0.7M199.6 274.0h0.7M190.8 276.0h0.7M208.5 260.0h0.7M181.5 263.3h0.7M202.2 269.7h0.7M203.8 265.2h0.7M186.6 268.8h0.7M210.5 260.2h0.7M201.2 269.9h0.7M200.3 276.5h0.7M182.9 263.5h0.7M189.9 276.4h0.7M195.9 263.7h0.7M197.1 271.6h0.7M206.1 276.1h0.7M176.9 264.2h0.7M206.9 266.5h0.7M197.1 272.4h0.7M211.9 265.8h0.7M184.3 260.8h0.7M202.5 273.3h0.7M214.4 262.5h0.7M199.5 270.3h0.7M202.3 260.3h0.7M196.9 274.9h0.7M220.0 270.9h0.7M204.0 268.1h0.7M186.8 270.7h0.7M178.6 265.1h0.7M206.8 267.9h0.7M216.2 269.4h0.7M204.7 270.8h0.7M199.2 268.5h0.7M201.4 269.4h0.7M222.7 268.5h0.7M202.0 270.0h0.7M198.7 265.8h0.7M200.0 270.4h0.7M205.8 266.8h0.7M195.4 265.6h0.7M194.7 275.0h0.7M207.6 261.8h0.7M214.6 266.1h0.7M203.9 265.4h0.7M213.1 258.8h0.7M170.0 266.1h0.7M207.4 274.2h0.7M209.9 270.8h0.7M213.3 267.0h0.7M190.5 269.0h0.7M196.2 268.7h0.7M202.8 269.4h0.7M204.9 274.6h0.7M206.4 266.0h0.7M188.6 260.7h0.7M192.3 270.2h0.7M202.6 267.5h0.7M215.3 274.6h0.7M201.7 277.4h0.7M192.2 262.6h0.7M199.6 268.1h0.7M175.1 267.3h0.7M200.5 261.4h0.7M182.6 277.4h0.7M171.3 229.9h0.7M165.8 219.3h0.7M166.5 219.2h0.7M172.8 194.2h0.7M181.1 273.5h0.7M170.0 257.0h0.7M175.1 228.4h0.7M174.7 238.9h0.7M184.1 255.0h0.7M169.5 228.4h0.7M177.4 250.3h0.7M169.8 242.9h0.7M171.8 239.1h0.7M174.0 218.0h0.7M172.5 197.2h0.7M170.8 199.4h0.7M182.3 256.6h0.7M171.8 216.1h0.7M176.0 251.7h0.7M174.7 227.0h0.7M169.6 211.5h0.7M177.0 247.0h0.7M170.2 212.9h0.7M168.8 208.8h0.7M179.4 257.3h0.7M184.6 263.0h0.7M226.9 239.4h0.7M175.0 226.2h0.7M183.8 200.1h0.7M194.1 249.3h0.7M184.8 273.0h0.7M178.4 198.2h0.7M179.7 241.6h0.7M190.3 250.8h0.7M186.1 274.3h0.7M219.8 249.2h0.7M235.4 249.9h0.7M202.7 247.2h0.7M219.6 216.9h0.7M247.0 227.6h0.7M176.1 233.4h0.7M176.3 215.9h0.7M218.7 227.1h0.7M232.6 252.6h0.7M205.9 240.6h0.7M196.7 246.1h0.7M240.9 250.5h0.7M178.1 205.5h0.7M194.0 193.1h0.7M249.3 228.4h0.7M176.6 205.0h0.7M212.0 222.6h0.7M180.3 205.8h0.7M175.9 240.7h0.7M182.3 245.2h0.7M236.8 251.3h0.7M240.8 223.4h0.7M223.3 245.6h0.7M166.8 225.8h0.7M198.8 237.2h0.7M206.6 222.5h0.7M180.7 248.8h0.7M203.9 215.2h0.7M188.6 261.5h0.7M183.3 256.4h0.7M176.5 268.4h0.7M254.6 248.7h0.7M198.9 249.1h0.7M180.6 204.9h0.7M235.6 251.1h0.7M183.3 261.4h0.7M224.3 244.3h0.7M191.6 249.0h0.7M179.8 247.8h0.7M180.6 259.1h0.7M182.8 270.9h0.7M251.9 226.1h0.7M177.6 230.1h0.7M191.1 248.7h0.7M205.8 237.5h0.7M190.1 256.9h0.7M175.7 218.3h0.7M203.3 220.2h0.7M188.5 261.8h0.7M221.5 244.9h0.7M172.3 239.4h0.7M185.7 196.6h0.7M235.6 257.5h0.7M183.3 272.9h0.7M238.1 230.8h0.7M176.7 276.8h0.7M186.5 194.2h0.7M204.9 217.0h0.7M202.4 238.9h0.7M181.5 244.1h0.7M200.7 244.7h0.7M195.7 247.8h0.7M171.1 253.5h0.7M220.6 245.0h0.7M216.6 217.3h0.7M203.3 194.6h0.7M183.2 266.4h0.7M183.6 186.3h0.7M251.7 248.6h0.7M201.8 242.7h0.7M203.4 242.4h0.7M200.9 239.1h0.7M176.5 216.2h0.7M252.7 226.3h0.7M205.0 207.7h0.7M175.2 203.6h0.7M206.8 230.7h0.7M176.6 219.3h0.7M256.6 225.0h0.7M192.2 194.4h0.7M203.5 223.3h0.7M234.4 227.8h0.7M173.3 219.2h0.7M178.8 202.2h0.7M226.2 251.2h0.7M176.4 232.9h0.7M205.2 197.5h0.7M197.0 239.4h0.7M184.2 252.3h0.7M184.6 248.4h0.7M172.5 225.4h0.7M189.2 262.0h0.7M199.4 248.6h0.7M240.5 251.6h0.7M238.1 230.6h0.7M214.0 224.9h0.7M181.2 246.5h0.7M196.0 244.8h0.7M182.0 200.5h0.7M202.5 229.7h0.7M206.0 242.4h0.7M235.5 252.2h0.7M212.5 217.9h0.7M181.6 269.7h0.7M204.3 208.4h0.7M256.9 232.1h0.7M210.4 218.7h0.7M238.0 251.9h0.7M239.7 229.1h0.7M203.3 194.8h0.7M172.7 200.6h0.7M181.3 260.2h0.7M173.8 226.3h0.7M198.1 238.6h0.7M226.0 247.1h0.7M177.9 210.9h0.7M203.7 202.9h0.7M179.5 270.7h0.7M215.6 225.2h0.7M235.2 250.3h0.7M204.2 235.1h0.7M189.9 268.5h0.7M176.6 214.4h0.7M207.4 204.0h0.7M254.8 246.9h0.7M192.5 260.6h0.7M193.0 245.7h0.7M224.9 233.8h0.7M177.5 231.2h0.7M175.2 210.4h0.7M182.9 276.2h0.7M197.1 254.9h0.7M190.4 272.3h0.7M208.1 221.8h0.7M177.0 239.7h0.7M221.5 220.4h0.7M193.1 266.4h0.7M189.4 258.3h0.7M228.1 246.7h0.7M189.9 259.3h0.7M195.3 250.3h0.7M167.2 241.7h0.7M183.0 268.2h0.7M202.5 238.6h0.7M217.9 237.2h0.7M242.4 250.2h0.7M209.4 195.8h0.7M183.3 257.5h0.7M190.3 191.3h0.7M200.0 239.2h0.7M182.6 200.5h0.7M198.7 237.9h0.7M216.0 247.2h0.7M256.4 232.5h0.7M222.1 242.0h0.7M178.4 235.9h0.7M224.8 231.5h0.7M210.9 218.3h0.7M255.7 251.9h0.7M208.9 207.5h0.7M221.3 238.3h0.7M195.9 253.6h0.7M240.9 230.2h0.7M219.2 217.6h0.7M228.4 233.0h0.7M189.8 255.3h0.7M199.0 193.5h0.7M226.9 238.5h0.7M239.1 231.5h0.7M200.0 192.3h0.7M196.6 193.2h0.7M181.3 195.5h0.7M190.8 261.0h0.7M176.9 239.1h0.7M179.7 244.3h0.7M223.9 240.9h0.7M188.4 259.4h0.7M206.2 195.7h0.7M186.7 197.4h0.7M192.9 268.5h0.7M234.3 250.1h0.7M191.7 245.7h0.7M185.7 187.7h0.7M188.8 195.5h0.7M237.5 250.5h0.7M177.0 242.1h0.7M213.6 223.6h0.7M175.9 213.6h0.7M199.9 193.5h0.7M176.2 271.7h0.7M187.8 260.8h0.7M224.7 249.0h0.7M198.3 244.8h0.7M243.5 223.1h0.7M171.7 218.0h0.7M204.7 213.2h0.7M233.8 231.3h0.7M181.6 193.4h0.7M173.7 238.9h0.7M183.8 247.3h0.7M180.1 265.2h0.7M208.0 223.5h0.7M174.0 221.8h0.7M225.0 234.9h0.7M204.2 213.6h0.7M174.3 221.0h0.7M206.9 211.3h0.7M226.9 243.0h0.7M207.5 210.1h0.7M206.8 236.5h0.7M214.4 225.0h0.7M199.0 240.3h0.7M248.3 225.9h0.7M252.5 229.2h0.7M188.3 195.8h0.7M183.6 264.2h0.7M193.7 251.8h0.7M206.4 215.0h0.7M204.9 242.4h0.7M202.1 234.8h0.7M183.2 244.4h0.7M184.7 197.5h0.7M183.5 256.0h0.7M198.8 255.5h0.7M207.7 196.6h0.7M205.9 196.3h0.7M207.0 208.0h0.7M183.5 254.2h0.7M182.8 260.8h0.7M189.2 255.4h0.7M255.9 253.1h0.7M182.2 273.3h0.7M226.3 236.6h0.7M243.5 252.4h0.7M242.8 230.1h0.7M218.2 231.5h0.7M228.5 233.5h0.7M203.0 221.1h0.7M205.1 201.8h0.7M239.3 250.9h0.7M190.8 249.8h0.7M256.5 245.7h0.7M182.8 271.7h0.7M236.1 257.8h0.7M192.9 190.2h0.7M195.0 258.5h0.7M241.4 230.5h0.7M207.3 239.3h0.7M174.0 223.6h0.7M172.5 211.3h0.7M186.8 262.6h0.7M177.0 234.9h0.7M201.8 195.8h0.7M187.8 260.5h0.7M252.0 251.9h0.7M255.7 231.5h0.7M251.1 227.4h0.7M174.0 217.3h0.7M209.8 221.5h0.7M194.3 191.6h0.7M255.4 226.9h0.7M227.0 249.3h0.7M209.9 225.6h0.7M213.8 215.5h0.7M176.0 249.5h0.7M224.7 235.3h0.7M255.7 256.6h0.7M177.1 276.7h0.7M247.5 222.4h0.7M196.2 256.0h0.7M185.1 193.3h0.7M245.8 255.2h0.7M240.6 226.3h0.7M185.2 274.4h0.7M204.9 214.9h0.7M192.7 247.8h0.7M183.4 200.6h0.7M175.9 219.5h0.7M255.5 229.4h0.7M214.9 226.1h0.7M173.0 219.2h0.7M178.3 197.8h0.7M245.8 228.6h0.7M240.5 251.4h0.7M240.8 251.8h0.7M204.0 222.5h0.7M219.1 216.6h0.7M184.3 196.8h0.7M178.6 268.6h0.7M252.4 226.9h0.7M175.2 225.2h0.7M226.8 231.8h0.7M186.6 262.0h0.7M177.4 241.9h0.7M175.6 219.9h0.7M188.6 262.9h0.7M226.0 237.0h0.7M191.6 258.8h0.7M184.8 198.2h0.7M180.1 263.0h0.7M229.5 246.9h0.7M174.2 232.1h0.7M233.7 232.2h0.7M252.1 249.8h0.7M205.2 215.0h0.7M176.4 272.8h0.7M189.0 260.5h0.7M188.8 258.1h0.7M181.9 263.4h0.7M190.8 251.8h0.7M214.9 248.9h0.7M254.4 228.6h0.7M226.5 244.7h0.7M208.9 201.9h0.7M203.1 236.5h0.7M208.0 209.8h0.7M176.8 217.6h0.7M224.0 220.8h0.7M175.1 230.4h0.7M198.6 242.4h0.7M231.3 230.7h0.7M186.1 267.7h0.7M206.0 200.3h0.7M254.4 209.8h0.7M198.6 193.2h0.7M241.6 227.9h0.7M180.6 245.0h0.7M176.3 229.2h0.7M180.9 246.2h0.7M232.1 233.3h0.7M204.4 225.8h0.7M174.3 239.9h0.7M204.8 208.2h0.7M240.0 250.3h0.7M165.4 250.1h0.7M183.6 198.3h0.7M177.3 239.4h0.7M174.7 241.1h0.7M184.3 254.0h0.7M170.9 253.6h0.7M235.7 231.2h0.7M187.7 273.0h0.7M205.1 208.3h0.7M204.0 231.3h0.7M184.9 195.5h0.7M188.9 258.7h0.7M177.0 275.2h0.7M210.2 224.7h0.7M179.6 204.8h0.7M209.0 187.3h0.7M196.3 242.3h0.7M204.5 216.9h0.7M209.7 221.2h0.7M213.0 221.0h0.7M174.9 210.6h0.7M205.2 211.3h0.7M181.2 273.2h0.7M178.2 262.4h0.7M222.7 241.2h0.7M234.3 232.7h0.7M220.4 240.5h0.7M250.2 224.9h0.7M202.8 196.7h0.7M207.4 212.0h0.7M176.3 245.9h0.7M186.0 271.5h0.7M229.4 248.6h0.7M228.1 246.4h0.7M221.0 225.0h0.7M206.8 205.0h0.7M204.2 222.6h0.7M205.5 235.2h0.7M204.6 198.2h0.7M182.8 195.9h0.7M172.7 214.5h0.7M181.8 272.3h0.7M196.8 239.0h0.7M203.0 224.8h0.7M242.3 230.3h0.7M204.3 205.7h0.7M255.9 245.4h0.7M212.4 223.9h0.7M180.9 242.6h0.7M248.7 257.8h0.7M187.8 264.0h0.7M178.9 253.4h0.7M191.4 193.0h0.7M180.2 198.9h0.7M196.8 238.6h0.7M196.3 244.6h0.7M210.8 225.6h0.7M200.4 244.1h0.7M203.1 203.4h0.7M220.9 228.6h0.7M205.4 212.7h0.7M168.9 197.8h0.7M218.6 250.2h0.7M204.6 240.9h0.7M182.5 262.9h0.7M200.8 237.4h0.7M187.2 270.8h0.7M240.5 254.0h0.7M240.1 229.3h0.7M186.2 270.6h0.7M201.0 235.1h0.7M196.3 249.0h0.7M195.3 240.8h0.7M194.2 252.4h0.7M233.5 251.9h0.7M232.0 255.6h0.7M181.0 202.8h0.7M171.2 202.9h0.7M189.9 253.3h0.7M204.7 220.1h0.7M227.5 242.7h0.7M206.5 226.7h0.7M233.8 253.5h0.7M194.3 192.5h0.7M174.6 218.7h0.7M176.2 223.7h0.7M182.9 256.1h0.7M248.5 227.4h0.7M183.3 195.7h0.7M197.4 243.6h0.7M179.2 199.2h0.7M195.0 185.3h0.7M175.3 204.1h0.7M194.6 245.0h0.7M222.2 242.4h0.7M177.6 232.6h0.7M189.8 266.4h0.7M171.0 213.4h0.7M180.8 186.1h0.7M205.3 259.3h0.7M183.7 262.7h0.7M245.1 251.4h0.7M221.1 222.4h0.7M210.1 207.0h0.7M182.1 241.7h0.7M185.8 188.5h0.7M203.5 234.5h0.7M191.7 194.0h0.7M174.3 226.6h0.7M179.6 260.9h0.7M176.7 266.7h0.7M195.9 246.7h0.7M181.4 248.8h0.7M178.6 247.8h0.7M173.1 214.5h0.7M234.5 249.2h0.7M175.0 272.5h0.7M178.1 210.6h0.7M216.9 227.9h0.7M216.8 217.2h0.7M177.3 211.0h0.7M203.5 245.9h0.7M222.6 240.4h0.7M175.6 223.3h0.7M176.3 215.8h0.7M175.2 240.0h0.7M244.0 222.6h0.7M255.4 228.5h0.7M190.5 189.3h0.7M178.7 235.8h0.7M174.7 224.1h0.7M171.7 219.3h0.7M200.0 190.2h0.7M202.0 245.2h0.7M204.3 209.7h0.7M181.2 250.5h0.7M195.6 242.4h0.7M182.4 202.5h0.7M172.9 262.0h0.7M225.4 241.8h0.7M213.9 216.5h0.7M216.6 217.4h0.7M187.7 262.7h0.7"/>
<path d="M186.0 262.3 185.5 262.3 185.2 262.1 184.8 261.5 184.4 260.5 184.2 259.2 184.2 256.2 184.9 253.2 185.1 252.0 185.1 250.0 184.8 248.5 183.9 246.0 183.3 243.5 183.0 242.8 182.6 242.0 180.7 239.8 179.9 238.5 179.4 237.2 179.0 236.0 178.4 232.5 176.6 224.8 176.5 223.0 176.5 221.0 176.7 219.8 177.3 217.2 177.6 213.2 177.9 212.2 179.4 208.2 180.2 206.5 181.2 204.8 183.4 201.2 184.6 199.8 187.1 197.8 191.5 194.9 192.5 194.5 196.5 193.7 197.2 193.6 198.0 193.7 199.2 194.1 200.2 194.8 201.0 195.8 201.6 197.0 202.1 198.8 202.6 202.2 203.2 205.0 203.9 209.0 203.8 212.8 203.4 215.2 203.2 218.8 202.6 222.0 202.7 224.8 202.6 227.8 202.4 229.2 201.6 233.0 201.2 234.0 200.8 234.9 200.0 235.7 199.2 236.4 196.2 238.3 194.8 239.5 194.2 240.2 193.1 242.5 191.2 245.5 190.4 247.8 189.3 254.2 188.1 257.5 187.6 260.2 187.0 261.5 186.5 262.0 186.0 262.3ZM218.2 225.0 217.5 225.2 216.8 225.2 215.8 224.9 215.0 224.6 214.2 224.0 213.7 223.5 213.4 223.0 213.2 222.2 213.3 221.0 213.5 220.2 214.0 219.5 215.2 218.3 216.0 217.9 216.8 217.7 218.0 217.7 218.8 217.9 219.2 218.2 220.0 219.0 220.5 220.2 220.6 221.8 220.1 223.2 219.2 224.4 218.2 225.0ZM258.0 239.9 257.3 242.2 256.5 244.2 255.5 245.6 254.0 246.7 249.5 248.8 248.0 249.3 246.8 249.6 241.0 250.1 237.5 249.9 235.2 249.4 234.0 248.9 230.8 246.8 229.5 245.5 228.6 244.0 228.2 242.5 228.1 240.2 228.3 238.5 229.0 237.0 230.8 235.0 232.5 233.8 234.2 232.9 235.5 232.4 241.2 231.2 246.0 229.5 247.2 229.2 248.5 229.2 251.5 229.6 253.2 230.1 254.5 230.7 255.3 231.2 256.1 232.2 257.3 234.2 258.0 235.6" fill="#fff" stroke="#222" stroke-width="0.9"/>
<path d="M189.0 238.5 188.5 238.7 188.0 238.7 185.0 237.8 183.6 237.0 183.2 236.5 182.9 236.0 182.4 233.5 180.8 230.2 180.2 228.0 180.1 225.2 179.6 222.2 179.5 221.0 180.0 218.0 180.3 214.8 181.8 209.0 182.2 208.0 182.8 207.2 184.2 205.5 185.6 203.0 186.8 201.5 189.2 199.0 190.8 197.8 191.8 197.2 192.8 196.8 193.8 196.5 195.5 196.3 196.5 196.4 197.8 196.9 199.2 198.2 199.8 199.2 200.2 200.8 200.7 212.2 200.4 214.8 200.4 216.8 200.1 218.2 198.6 222.2 198.3 223.8 198.4 224.5 199.5 225.4 199.8 226.0 200.0 227.2 200.0 228.8 199.8 229.4 199.5 229.8 199.2 229.9 199.0 229.9 198.6 229.5 198.3 229.0 197.5 226.5 197.2 226.4 197.0 226.6 196.5 227.2 196.1 228.0 195.4 230.8 194.5 232.8 193.2 234.1 190.8 236.0 190.2 236.8 189.5 238.0 189.0 238.5ZM217.2 221.8 217.0 221.9 216.6 221.8 216.6 221.5 216.8 221.2 217.0 221.1 217.3 221.2 217.4 221.5 217.2 221.8ZM244.0 247.5 242.8 247.7 241.5 247.7 238.2 247.6 236.8 247.3 235.2 246.7 232.5 244.6 231.3 243.2 231.0 242.5 230.9 241.8 231.2 240.2 232.4 237.2 233.0 236.5 233.5 236.1 235.5 235.1 237.8 234.4 240.8 234.1 241.8 233.8 243.1 233.2 245.5 231.9 246.8 231.5 248.0 231.4 250.5 231.7 252.0 232.1 253.0 232.5 254.0 233.3 254.9 234.5 255.8 236.0 256.1 237.2 256.2 238.5 255.9 240.0 255.4 241.5 254.8 242.8 254.2 243.6 253.5 244.3 252.8 244.9 251.8 245.4 247.5 246.8 244.0 247.5ZM187.2 235.0 186.5 235.0 186.0 234.9 185.5 234.6 185.0 234.0 183.1 230.8 182.4 229.2 182.2 228.2 182.1 227.2 182.3 225.0 181.6 220.8 181.7 217.2 181.8 216.0 182.4 213.5 183.0 210.0 183.5 208.8 185.2 206.4 186.9 203.2 188.1 201.8 189.5 200.2 191.0 198.9 192.5 198.0 194.2 197.6 195.2 197.5 196.0 197.7 197.2 198.2 198.2 199.2 198.8 200.2 199.1 201.8 199.2 204.5 198.8 212.5 198.0 217.2 197.3 219.2 195.8 221.8 194.3 224.8 192.9 230.2 192.3 231.8 191.7 232.5 190.8 233.2 188.2 234.7 187.2 235.0ZM243.8 246.3 242.0 246.5 237.8 246.1 236.2 245.6 234.4 244.2 233.2 243.0 232.9 242.5 232.7 241.8 232.9 240.2 233.5 238.8 234.0 237.9 234.8 237.1 236.2 236.4 238.2 235.8 241.0 235.4 242.2 235.1 243.5 234.5 246.0 233.1 247.0 232.7 248.2 232.6 250.0 232.8 251.5 233.2 252.5 233.7 253.4 234.5 254.1 235.5 254.6 236.5 255.0 237.8 255.1 238.8 254.9 240.0 254.5 241.2 253.8 242.5 252.5 243.9 251.0 244.7 243.8 246.3ZM188.5 231.6 187.2 231.6 186.5 231.4 186.0 231.1 185.5 230.6 185.2 230.0 184.6 228.2 184.5 227.0 184.8 225.2 184.8 224.2 184.7 223.5 183.7 220.5 183.4 218.0 183.5 216.8 184.0 214.2 184.3 210.8 184.7 209.5 186.2 207.1 187.5 204.2 188.4 203.0 189.5 201.6 191.0 200.2 192.5 199.3 194.0 198.9 195.2 198.9 196.2 199.3 197.2 200.2 197.8 201.2 198.1 202.5 198.1 203.8 198.0 205.2 197.1 210.5 196.8 213.0 195.6 217.0 195.2 218.0 191.6 223.8 191.4 224.8 191.4 227.2 191.2 228.2 190.7 229.5 190.2 230.4 189.8 230.9 189.2 231.3 188.5 231.6ZM242.5 245.0 240.8 245.0 238.5 244.7 237.2 244.2 236.0 243.4 235.0 242.2 234.7 241.2 234.8 240.0 235.4 239.0 236.2 238.3 238.0 237.6 239.8 237.2 242.2 236.8 243.2 236.5 246.2 234.4 247.5 233.9 249.0 233.8 250.5 234.0 251.5 234.5 252.5 235.2 253.1 236.0 253.6 237.0 254.0 238.0 254.1 239.0 253.9 240.0 253.6 241.0 253.1 242.0 252.4 242.8 251.2 243.6 250.0 244.1 247.8 244.4 244.8 244.6 242.5 245.0ZM188.8 221.5 188.2 221.5 187.5 220.9 186.2 219.4 185.7 218.2 185.5 217.0 185.6 212.8 185.9 210.5 186.2 209.5 187.4 207.2 188.4 204.8 189.0 203.8 190.0 202.5 191.2 201.3 192.5 200.5 193.8 200.2 194.8 200.3 195.5 200.6 196.0 201.0 196.5 201.8 196.9 202.5 197.0 203.5 197.1 204.5 196.6 207.0 192.9 217.0 191.5 219.1 190.5 220.4 189.5 221.2 188.8 221.5ZM250.0 243.3 248.8 243.4 247.2 243.4 246.2 243.3 244.5 242.7 244.0 242.6 241.5 243.3 240.5 243.3 239.5 243.2 238.5 242.9 237.6 242.2 237.1 241.5 237.0 240.8 237.2 240.2 237.8 239.7 238.6 239.2 239.8 238.8 241.0 238.6 243.0 238.9 243.8 238.7 244.2 238.3 245.8 236.2 246.8 235.4 247.5 235.0 248.2 234.8 249.8 234.9 251.0 235.4 252.0 236.2 252.9 237.8 253.1 239.0 252.9 240.5 252.3 241.8 251.2 242.7 250.0 243.3ZM189.8 215.8 189.0 215.9 188.5 215.8 188.1 215.5 187.8 214.9 187.4 213.8 187.2 212.0 187.2 210.8 187.4 209.8 189.1 205.5 189.7 204.5 190.5 203.3 191.3 202.5 192.2 201.9 193.2 201.5 194.2 201.6 194.8 201.8 195.3 202.2 195.6 202.8 195.9 203.5 196.0 205.0 195.7 206.8 194.4 209.5 192.4 212.5 191.2 214.7 190.5 215.5 189.8 215.8ZM249.8 242.5 248.2 242.6 247.0 242.3 246.4 242.0 246.0 241.5 245.5 240.5 245.4 239.8 245.5 239.0 246.2 237.5 247.0 236.5 247.5 236.2 248.2 235.9 249.5 235.8 250.2 236.0 250.8 236.3 251.6 237.2 252.2 238.5 252.3 239.8 251.8 241.0 251.0 241.9 249.8 242.5ZM190.5 211.8 189.8 211.9 189.3 211.8 188.9 211.2 188.7 210.8 188.6 210.0 188.7 209.2 189.6 206.5 190.5 204.8 191.8 203.3 192.5 202.9 193.0 202.7 193.5 202.7 194.0 202.8 194.7 203.5 195.0 204.5 195.0 205.8 194.6 207.0 193.8 208.5 193.0 209.8 191.8 211.0 190.5 211.8ZM249.5 241.8 248.5 241.9 247.5 241.5 246.9 241.0 246.5 240.0 246.5 239.0 247.0 237.9 247.8 237.1 248.8 236.7 249.8 236.8 250.5 237.2 251.1 238.0 251.4 239.0 251.4 240.0 251.1 240.8 250.5 241.3 249.5 241.8ZM191.2 209.8 190.5 209.9 190.2 209.8 190.0 209.5 189.9 208.5 190.2 207.0 190.8 205.8 191.5 204.8 192.5 204.0 193.2 203.9 193.8 204.2 194.0 204.8 194.1 205.5 193.9 206.5 193.3 207.8 192.8 208.6 192.0 209.4 191.2 209.8ZM249.5 241.0 248.8 241.1 248.0 240.9 247.5 240.5 247.2 239.8 247.3 239.0 247.5 238.5 248.0 238.0 248.8 237.6 249.2 237.6 249.8 237.8 250.3 238.2 250.6 239.0 250.6 239.8 250.4 240.2 250.0 240.8 249.5 241.0ZM191.8 208.3 191.2 208.5 190.9 208.2 190.8 207.8 190.9 207.0 191.3 206.2 191.8 205.6 192.2 205.3 192.8 205.2 193.0 205.4 193.1 205.8 193.0 206.8 192.4 207.8 191.8 208.3ZM249.2 240.3 248.5 240.3 248.2 240.2 248.0 239.8 248.0 239.0 248.5 238.6 249.2 238.5 249.7 239.0 249.8 239.8 249.7 240.0 249.2 240.3Z" fill="none" stroke="#222" stroke-width="0.6"/>
<path stroke="#1a1a1a" stroke-opacity="0.85" stroke-width="0.7" d="M370.4 237.7h0.7M344.5 270.7h0.7M328.0 267.2h0.7M323.7 268.6h0.7M356.9 266.7h0.7M365.3 241.9h0.7M359.7 268.6h0.7M380.4 196.3h0.7M354.4 270.9h0.7M353.2 269.9h0.7M315.5 270.7h0.7M344.8 277.1h0.7M355.1 271.1h0.7M372.9 214.9h0.7M319.0 237.7h0.7M340.1 270.3h0.7M348.3 231.1h0.7M324.3 274.3h0.7M349.9 268.5h0.7M361.5 277.3h0.7M364.1 255.7h0.7M364.0 265.9h0.7M314.0 232.9h0.7M365.1 201.3h0.7M355.5 277.4h0.7M355.5 207.9h0.7M349.7 222.6h0.7M363.4 228.6h0.7M355.6 271.8h0.7M332.9 212.4h0.7M328.6 270.1h0.7M351.7 195.2h0.7M358.5 270.3h0.7M336.3 222.4h0.7M327.8 276.1h0.7M325.8 268.2h0.7M369.3 246.4h0.7M350.8 223.0h0.7M358.1 214.3h0.7M360.5 276.1h0.7M318.9 238.3h0.7M357.6 214.3h0.7M345.2 230.9h0.7M353.5 206.7h0.7M357.3 215.3h0.7M375.2 268.9h0.7M308.1 260.2h0.7M362.7 239.4h0.7M314.1 221.7h0.7M299.5 261.4h0.7M295.6 239.0h0.7M335.5 223.4h0.7M338.2 215.8h0.7M300.9 258.0h0.7M327.7 222.9h0.7M332.0 272.2h0.7M350.9 208.6h0.7M319.3 277.5h0.7M328.0 268.2h0.7M338.0 218.6h0.7M325.2 225.4h0.7M315.6 275.8h0.7M346.1 230.1h0.7M361.5 227.7h0.7M311.3 263.0h0.7M370.4 255.1h0.7M380.9 261.2h0.7M365.6 253.0h0.7M309.9 248.5h0.7M316.4 274.2h0.7M334.2 269.8h0.7M330.1 268.1h0.7M309.1 265.8h0.7M359.7 223.3h0.7M302.9 273.4h0.7M350.0 225.2h0.7M365.0 263.7h0.7M362.6 254.1h0.7M311.1 261.3h0.7M377.0 246.1h0.7M345.0 206.2h0.7M360.5 217.7h0.7M323.0 228.6h0.7M357.1 268.1h0.7M366.8 229.5h0.7M370.8 257.6h0.7M306.5 254.5h0.7M308.8 248.1h0.7M328.2 271.1h0.7M364.5 262.8h0.7M366.8 236.2h0.7M325.2 231.0h0.7M305.7 250.8h0.7M316.1 231.3h0.7M297.7 249.1h0.7M307.3 229.6h0.7M328.1 223.9h0.7M304.7 227.0h0.7M317.4 229.6h0.7M320.4 235.6h0.7M315.8 236.0h0.7M307.1 256.6h0.7M319.9 220.6h0.7M297.0 236.4h0.7M297.5 261.0h0.7M336.3 222.0h0.7M310.4 221.9h0.7M314.3 244.1h0.7M307.0 234.0h0.7M319.8 265.2h0.7M297.4 261.7h0.7M305.1 243.6h0.7M311.0 218.8h0.7M314.4 237.3h0.7M320.1 225.8h0.7M315.0 230.3h0.7M323.0 213.0h0.7M338.0 218.5h0.7M319.3 226.4h0.7M303.9 261.8h0.7M306.5 219.6h0.7M316.1 228.6h0.7M323.0 216.3h0.7M312.0 242.3h0.7M298.1 262.9h0.7M322.6 208.6h0.7M299.4 250.4h0.7M313.9 229.0h0.7M309.8 213.0h0.7M316.3 234.1h0.7M316.0 198.5h0.7M309.2 248.8h0.7M301.0 236.2h0.7M305.6 242.6h0.7M334.1 220.2h0.7M317.5 227.3h0.7M312.0 223.9h0.7M300.8 251.3h0.7M294.9 250.7h0.7M309.2 224.8h0.7M309.5 228.2h0.7M327.5 221.3h0.7M314.9 226.7h0.7M312.4 227.5h0.7M322.3 231.6h0.7M300.7 236.6h0.7M342.5 206.6h0.7M345.0 232.1h0.7M306.3 228.1h0.7M304.4 257.3h0.7M310.9 246.6h0.7M300.9 258.9h0.7M314.1 238.9h0.7M328.3 218.8h0.7M310.7 238.1h0.7M311.5 230.3h0.7M311.6 229.0h0.7M303.3 257.1h0.7M314.8 232.2h0.7M325.6 221.5h0.7M331.1 204.2h0.7M309.5 237.8h0.7M316.8 241.6h0.7M316.9 230.5h0.7M315.3 213.9h0.7M295.5 239.9h0.7M323.6 222.8h0.7M353.1 270.6h0.7M361.5 266.5h0.7M342.1 267.8h0.7M359.1 273.7h0.7M357.4 266.0h0.7M327.6 267.0h0.7M363.9 253.9h0.7M340.5 269.4h0.7M333.2 267.4h0.7M364.8 253.8h0.7M363.8 229.2h0.7M372.5 263.5h0.7M358.0 215.2h0.7M361.6 217.7h0.7M364.6 206.8h0.7M367.4 240.0h0.7M365.9 217.3h0.7M369.2 224.2h0.7M365.7 218.6h0.7M370.3 226.5h0.7M361.4 222.4h0.7M366.0 213.3h0.7M360.7 221.7h0.7M365.9 234.7h0.7M364.9 239.7h0.7M368.4 219.7h0.7M364.6 203.7h0.7M360.0 206.8h0.7M365.7 227.9h0.7M365.7 202.3h0.7M364.9 208.2h0.7M359.8 218.8h0.7M367.2 240.9h0.7M368.7 223.7h0.7M362.7 209.3h0.7M361.3 240.5h0.7M370.4 234.5h0.7M364.2 215.5h0.7M364.2 251.2h0.7M363.8 229.9h0.7M367.8 224.0h0.7M363.4 208.0h0.7M360.1 218.5h0.7M361.6 226.8h0.7M375.7 192.9h0.7M366.1 224.8h0.7M360.9 226.0h0.7M364.3 243.3h0.7M365.2 253.3h0.7M365.4 217.7h0.7M302.3 256.4h0.7M303.9 250.3h0.7M303.4 269.8h0.7M309.8 274.1h0.7M308.3 276.9h0.7M306.6 265.1h0.7M308.8 267.8h0.7M302.4 262.6h0.7M301.0 256.0h0.7M298.5 249.8h0.7M309.9 260.3h0.7M303.4 244.2h0.7M307.1 245.8h0.7M298.1 258.0h0.7M305.0 246.8h0.7M306.7 248.3h0.7M306.3 250.2h0.7M306.9 254.7h0.7M301.5 250.4h0.7M309.9 265.5h0.7M299.2 253.1h0.7M309.7 266.1h0.7M309.2 243.4h0.7M298.6 262.2h0.7M296.1 256.9h0.7M299.9 246.3h0.7M296.9 260.5h0.7M301.6 233.0h0.7M301.2 232.9h0.7M297.0 251.9h0.7M315.0 238.5h0.7M305.5 257.6h0.7M299.4 253.9h0.7M305.6 260.8h0.7M307.0 240.4h0.7M313.5 264.8h0.7M294.0 270.1h0.7M308.6 251.4h0.7M307.7 265.1h0.7M303.7 270.4h0.7M299.0 244.8h0.7M297.0 261.1h0.7M302.6 248.2h0.7M307.6 250.8h0.7M293.6 247.9h0.7M301.4 260.9h0.7M294.5 261.2h0.7M299.8 258.1h0.7M295.9 268.8h0.7M301.7 242.3h0.7M304.4 262.0h0.7M308.9 250.8h0.7M316.0 264.2h0.7M295.3 246.2h0.7M302.4 268.5h0.7M306.5 252.5h0.7M302.9 243.2h0.7M298.1 251.8h0.7M300.3 254.8h0.7M299.3 257.6h0.7M309.1 244.2h0.7M307.0 269.7h0.7M305.6 248.7h0.7M305.1 251.3h0.7M309.8 261.5h0.7M304.4 248.9h0.7M298.2 246.6h0.7M320.3 237.6h0.7M323.0 265.9h0.7M329.0 226.1h0.7M368.7 250.7h0.7M346.7 228.0h0.7M364.1 258.1h0.7M370.9 257.9h0.7M363.8 260.1h0.7M320.7 227.8h0.7M293.5 261.2h0.7M347.0 212.9h0.7M353.0 207.7h0.7M346.2 228.4h0.7M355.5 218.9h0.7M344.6 268.1h0.7M354.0 267.4h0.7M364.7 228.5h0.7M360.3 223.8h0.7M358.9 212.3h0.7M359.4 264.6h0.7M362.5 205.0h0.7M336.6 204.1h0.7M349.0 209.7h0.7M357.8 266.7h0.7M325.7 267.7h0.7M304.2 266.7h0.7M349.7 226.8h0.7M355.8 217.9h0.7M317.7 232.4h0.7M365.5 236.9h0.7M324.9 272.4h0.7M359.5 209.1h0.7M308.7 264.9h0.7M326.0 266.5h0.7M303.2 261.9h0.7M370.6 256.7h0.7M333.6 213.5h0.7M324.7 232.4h0.7M318.9 231.8h0.7M335.4 223.4h0.7M314.9 267.8h0.7M380.8 218.4h0.7M309.0 262.6h0.7M365.0 249.2h0.7M314.3 232.9h0.7M316.7 237.3h0.7M325.8 227.5h0.7M330.5 267.5h0.7M361.3 240.7h0.7M361.6 266.3h0.7M365.3 271.5h0.7M351.8 223.9h0.7M324.8 266.9h0.7M350.6 205.2h0.7M377.9 248.0h0.7M318.3 237.7h0.7M298.9 260.4h0.7M368.3 269.9h0.7M318.5 266.8h0.7M312.8 244.7h0.7M318.9 235.5h0.7M356.2 216.7h0.7M357.6 211.8h0.7M315.3 240.1h0.7M357.7 267.3h0.7M365.9 235.4h0.7M364.2 259.1h0.7M357.6 217.0h0.7M356.1 267.2h0.7M354.0 208.4h0.7M359.5 222.8h0.7M307.7 261.5h0.7M346.6 230.5h0.7M312.8 273.4h0.7M363.4 233.9h0.7M349.2 228.0h0.7M326.0 267.4h0.7M350.0 226.0h0.7M319.6 268.3h0.7M344.0 233.0h0.7M350.2 209.6h0.7M350.9 223.9h0.7M349.2 267.7h0.7M317.1 221.2h0.7M327.4 210.8h0.7M359.5 214.5h0.7M319.5 265.6h0.7M315.2 243.2h0.7M301.0 261.3h0.7M328.2 230.0h0.7M372.1 237.4h0.7M343.1 214.1h0.7M354.7 206.1h0.7M333.5 212.1h0.7M329.1 222.4h0.7M302.2 260.2h0.7M376.0 251.5h0.7M333.9 222.5h0.7M311.3 277.4h0.7M365.4 248.5h0.7M332.2 269.7h0.7M341.8 270.2h0.7M363.0 227.8h0.7M316.4 267.5h0.7M352.7 188.2h0.7M304.7 274.9h0.7M346.6 227.8h0.7M351.5 207.5h0.7M320.1 235.7h0.7M361.1 234.8h0.7M361.4 202.6h0.7M304.2 261.6h0.7M356.7 267.2h0.7M309.8 236.6h0.7M306.7 246.2h0.7M321.1 236.0h0.7M343.9 232.6h0.7M326.8 273.7h0.7M351.2 209.7h0.7M336.5 216.7h0.7M370.5 218.5h0.7M308.6 255.7h0.7M365.5 203.1h0.7M342.6 268.4h0.7M356.7 207.7h0.7M321.3 234.5h0.7M308.9 237.9h0.7M346.1 268.4h0.7M301.8 257.1h0.7M370.5 245.5h0.7M308.2 251.2h0.7M347.2 233.2h0.7M319.5 275.4h0.7M298.2 259.5h0.7M298.7 254.5h0.7M362.7 263.0h0.7M345.1 231.3h0.7M358.8 209.6h0.7M302.4 260.3h0.7M327.5 228.1h0.7M312.3 242.2h0.7M336.4 272.9h0.7M319.0 270.1h0.7M316.8 234.8h0.7M367.0 231.9h0.7M316.3 231.3h0.7M358.3 278.0h0.7M350.8 276.1h0.7M347.5 226.4h0.7M346.1 229.0h0.7M340.7 271.1h0.7M294.5 257.2h0.7M358.4 204.4h0.7M362.1 240.7h0.7M344.0 233.3h0.7M362.1 240.1h0.7M356.6 269.3h0.7M302.8 260.2h0.7M360.3 229.1h0.7M313.3 242.3h0.7M337.5 266.9h0.7M366.8 247.7h0.7M310.8 268.4h0.7M339.4 217.9h0.7M364.4 234.1h0.7M374.8 264.5h0.7M348.7 210.4h0.7M307.8 247.3h0.7M297.5 252.5h0.7M362.1 223.0h0.7M307.2 253.8h0.7M362.5 263.9h0.7M306.7 266.4h0.7M304.9 247.4h0.7M329.0 219.3h0.7M341.2 269.1h0.7M355.2 274.1h0.7M328.5 227.5h0.7M360.8 276.2h0.7M346.5 229.5h0.7M324.7 231.3h0.7M328.3 226.8h0.7M364.0 251.9h0.7M375.0 236.6h0.7M364.0 264.2h0.7M352.9 267.7h0.7M308.7 245.5h0.7M360.3 226.5h0.7M331.0 223.6h0.7M311.5 273.1h0.7M361.0 246.6h0.7M302.6 265.0h0.7M358.9 210.0h0.7M364.6 230.3h0.7M359.5 222.5h0.7M359.8 228.5h0.7M314.0 240.9h0.7M357.2 214.2h0.7M328.0 268.6h0.7M326.7 267.1h0.7M356.4 205.2h0.7M356.4 206.7h0.7M310.0 265.1h0.7M347.7 226.4h0.7M316.5 238.6h0.7M307.1 259.5h0.7M316.8 264.8h0.7M346.0 229.3h0.7M311.0 261.3h0.7M370.4 208.6h0.7M337.5 268.6h0.7M310.5 247.5h0.7M361.6 251.9h0.7M321.7 231.7h0.7M317.7 271.1h0.7M343.8 206.2h0.7M346.4 231.4h0.7M315.9 237.7h0.7M305.8 256.3h0.7M333.3 220.4h0.7M351.4 204.3h0.7M346.8 228.1h0.7M340.1 219.1h0.7M347.0 228.9h0.7M356.1 217.8h0.7M360.7 227.9h0.7M337.1 220.8h0.7M318.2 264.3h0.7M356.6 214.4h0.7M360.1 213.8h0.7M364.4 211.8h0.7M327.7 269.9h0.7M336.2 269.9h0.7M366.7 257.6h0.7M317.5 221.3h0.7M364.7 257.6h0.7M303.8 258.4h0.7M321.3 230.1h0.7M357.5 212.9h0.7M364.1 259.7h0.7M357.1 209.9h0.7M328.0 229.8h0.7M337.2 219.8h0.7M295.0 259.4h0.7M331.9 215.7h0.7M346.5 212.0h0.7M367.9 249.5h0.7M357.8 207.1h0.7M362.9 233.0h0.7M361.5 245.0h0.7M329.6 269.6h0.7M356.3 219.4h0.7M308.2 250.2h0.7M313.8 262.3h0.7M299.3 257.8h0.7M347.6 209.7h0.7M310.0 245.1h0.7M304.5 259.5h0.7M346.5 269.4h0.7M352.0 273.7h0.7M346.6 229.9h0.7M345.2 230.7h0.7M358.2 204.4h0.7M338.9 267.6h0.7M302.7 254.4h0.7M325.8 271.8h0.7M317.7 267.8h0.7M326.5 225.8h0.7M374.2 231.5h0.7M311.5 246.5h0.7M304.4 249.3h0.7M348.9 224.3h0.7M363.1 233.8h0.7M359.0 218.2h0.7M361.6 238.5h0.7M346.1 212.8h0.7M341.7 218.0h0.7M348.6 226.2h0.7M336.6 221.9h0.7M311.4 261.8h0.7M327.0 226.6h0.7M317.8 264.6h0.7M348.5 227.7h0.7M315.9 241.7h0.7M331.1 223.3h0.7M302.5 264.0h0.7M347.7 211.7h0.7M368.2 243.3h0.7M304.5 239.3h0.7M352.0 202.3h0.7M357.9 221.3h0.7M298.2 255.0h0.7M347.6 229.6h0.7M320.8 271.0h0.7M349.5 209.6h0.7M334.2 268.1h0.7M335.3 267.9h0.7M310.7 240.9h0.7M355.1 206.4h0.7M362.1 229.5h0.7M339.8 210.1h0.7M335.2 220.0h0.7M362.4 264.0h0.7M327.0 229.3h0.7M308.4 256.2h0.7M305.9 254.9h0.7M344.7 232.2h0.7M367.1 252.8h0.7M350.1 273.0h0.7M307.9 250.5h0.7M309.7 244.9h0.7M363.8 256.8h0.7M352.6 273.4h0.7M314.1 231.3h0.7M361.0 251.3h0.7M351.1 210.3h0.7M309.2 259.7h0.7M348.6 206.5h0.7M364.9 269.1h0.7M338.9 273.9h0.7M330.2 270.8h0.7M310.9 261.1h0.7M300.8 260.0h0.7M369.1 255.3h0.7M349.4 225.6h0.7M348.8 208.7h0.7M348.4 212.5h0.7M364.8 245.6h0.7M363.6 233.8h0.7M320.7 266.7h0.7M367.1 221.6h0.7M368.2 259.8h0.7M349.4 223.4h0.7M349.0 209.2h0.7M305.2 261.8h0.7M365.7 201.0h0.7M346.9 208.7h0.7M347.2 212.7h0.7M304.0 253.8h0.7M360.8 201.4h0.7M383.6 245.4h0.7M310.9 271.4h0.7M305.5 241.8h0.7M357.6 205.1h0.7M356.8 268.0h0.7M374.8 262.9h0.7M336.6 271.0h0.7M362.8 222.3h0.7M363.9 229.0h0.7M339.0 266.7h0.7M337.8 216.0h0.7M363.5 247.1h0.7M361.7 250.0h0.7M361.3 229.9h0.7M336.8 270.0h0.7M359.9 221.0h0.7M336.6 268.4h0.7M333.0 269.9h0.7M322.9 268.8h0.7M330.6 271.2h0.7M341.3 218.2h0.7M326.9 228.8h0.7M316.5 238.9h0.7M323.4 274.4h0.7M321.2 233.3h0.7M359.0 210.5h0.7M335.1 270.5h0.7M360.5 217.5h0.7M361.4 243.7h0.7M336.0 220.5h0.7M317.5 240.2h0.7M331.2 269.3h0.7M324.4 266.4h0.7M309.6 247.3h0.7M346.7 230.4h0.7M305.6 254.6h0.7M301.5 255.1h0.7M367.2 216.9h0.7M361.6 236.8h0.7M330.4 224.9h0.7M362.9 237.3h0.7M347.6 226.4h0.7M363.1 235.8h0.7M359.6 209.3h0.7M353.8 268.0h0.7M346.7 231.1h0.7M360.0 267.8h0.7M349.5 225.6h0.7M306.5 249.9h0.7M347.7 227.9h0.7M301.3 256.3h0.7M301.7 261.6h0.7M339.9 275.7h0.7M329.5 267.7h0.7M307.6 250.3h0.7M353.1 205.8h0.7M364.4 261.5h0.7M325.5 220.7h0.7M351.2 203.7h0.7M318.4 264.5h0.7M318.5 228.7h0.7M308.9 240.7h0.7M309.1 269.1h0.7M313.5 242.8h0.7M359.7 225.1h0.7M365.0 266.6h0.7M358.2 206.7h0.7M334.2 223.0h0.7M302.5 252.3h0.7M330.9 275.8h0.7M309.8 246.4h0.7M305.9 259.3h0.7M345.9 230.6h0.7M350.4 210.4h0.7M317.1 264.3h0.7M361.7 230.9h0.7M325.4 271.6h0.7M364.3 231.9h0.7M344.4 269.7h0.7M314.8 267.9h0.7M317.4 273.5h0.7M303.7 253.5h0.7M329.5 269.0h0.7M368.2 231.5h0.7M307.7 244.3h0.7M358.4 268.5h0.7M361.0 212.2h0.7M350.7 269.3h0.7M343.7 230.5h0.7M304.7 252.2h0.7M328.0 269.6h0.7M340.4 270.7h0.7M336.2 222.2h0.7M309.7 247.0h0.7M360.0 217.4h0.7M384.1 256.5h0.7M306.5 248.8h0.7M304.9 259.5h0.7M334.1 275.7h0.7M350.6 208.5h0.7M337.8 271.9h0.7M344.8 229.5h0.7M301.7 234.2h0.7M362.7 264.8h0.7M305.8 254.4h0.7M363.7 208.1h0.7M295.8 260.1h0.7M313.2 264.5h0.7M320.6 233.2h0.7"/>
<path d="M343.0 267.4 342.2 267.6 341.8 267.5 340.0 266.7 339.2 266.5 338.5 266.5 336.5 266.9 335.5 266.9 331.5 266.3 328.5 266.5 324.0 265.7 322.0 265.8 321.0 265.6 318.5 264.3 316.0 262.8 311.1 260.6 310.0 260.0 309.3 259.4 308.9 258.9 308.7 258.1 308.9 256.1 308.9 253.9 309.0 252.7 309.9 249.7 311.0 247.7 311.5 247.1 313.5 245.5 317.2 241.7 319.4 238.9 321.3 236.7 321.7 235.9 322.1 234.4 322.6 233.7 323.5 233.1 327.2 231.7 328.2 231.2 328.8 230.7 329.1 230.2 329.4 229.4 329.8 227.2 330.1 226.7 330.6 226.2 331.5 225.6 334.0 224.7 335.0 224.1 335.6 223.7 336.9 221.9 338.2 220.5 339.1 219.9 340.8 219.1 341.5 218.6 343.2 216.3 345.8 215.2 347.8 213.3 349.8 211.6 353.2 209.1 354.2 208.6 355.2 208.6 356.0 208.9 356.5 209.4 356.8 210.2 356.9 211.2 356.4 213.9 354.9 216.9 354.7 217.9 354.7 218.7 355.2 219.4 356.2 220.2 356.8 220.7 357.5 222.0 358.6 224.7 359.2 227.7 360.3 229.9 360.8 231.4 360.9 232.4 360.8 234.9 361.2 237.4 361.0 239.9 361.4 241.9 361.4 242.9 360.4 248.7 360.4 249.9 360.8 251.5 361.4 253.4 363.5 256.6 363.7 257.4 363.7 258.4 362.5 261.4 361.7 262.6 360.5 263.6 357.5 265.4 356.0 266.7 355.5 267.0 354.2 267.2 351.8 267.1 348.8 267.1 345.5 266.8 344.5 267.0 343.0 267.4ZM347.6 233.9 348.0 233.6 348.5 232.9 349.4 229.4 350.3 227.4 351.5 225.5 351.9 224.7 352.0 223.7 351.9 222.9 351.5 222.2 351.0 221.9 350.2 221.9 349.5 222.4 349.0 223.0 348.0 224.9 346.5 226.0 346.0 226.5 344.5 229.1 344.0 229.6 342.2 230.5 341.8 231.1 341.5 231.7 341.5 232.7 341.8 233.2 342.2 233.4 343.2 233.7 346.0 234.1 347.0 234.1 347.6 233.9Z" fill="#fff" stroke="#222" stroke-width="0.85"/>
<path d="M352.0 266.2 348.8 266.3 344.8 265.7 342.2 265.5 339.5 265.0 335.0 265.2 334.0 265.1 331.5 264.5 328.8 264.7 326.8 264.6 323.8 264.1 321.2 264.0 320.0 263.7 313.7 260.1 312.5 259.1 312.1 258.4 312.2 258.1 312.8 257.8 314.8 257.7 315.5 257.5 316.2 257.0 317.0 256.4 317.9 255.4 318.4 254.4 318.7 253.2 318.7 252.7 318.6 252.2 318.3 251.9 317.5 251.5 316.8 251.4 316.2 251.4 315.5 251.8 314.6 252.9 314.0 253.3 313.0 253.6 312.0 253.6 311.5 253.4 311.0 252.9 310.8 252.2 310.7 251.4 311.0 250.0 311.8 248.8 313.8 247.2 315.5 245.6 317.5 244.3 318.2 243.6 320.5 239.9 322.8 237.2 324.0 234.9 325.0 234.3 327.0 233.7 328.0 233.2 329.0 232.5 329.9 231.7 330.2 231.1 330.6 230.4 331.1 227.9 331.6 227.2 333.0 226.5 336.9 225.4 337.8 225.0 338.2 224.5 339.0 223.2 339.5 222.6 340.2 222.0 342.3 220.9 343.3 220.2 343.9 219.4 344.9 217.7 348.0 214.8 351.8 212.2 353.5 210.7 354.0 210.4 354.5 210.3 355.0 210.4 355.2 210.6 355.5 211.4 355.3 212.7 354.8 213.7 353.5 215.1 351.9 217.4 350.8 218.7 349.8 219.3 347.6 220.4 346.8 221.1 345.9 222.7 344.7 224.4 343.5 227.2 342.8 227.9 341.5 228.7 340.8 229.4 339.2 231.4 337.3 233.4 336.0 235.9 335.7 237.2 335.8 238.2 336.0 238.5 336.3 238.9 339.2 239.8 340.0 239.8 340.6 239.7 341.0 239.2 341.2 238.7 341.2 237.4 341.5 236.9 342.0 236.4 342.8 236.1 343.8 235.9 344.8 235.9 345.8 236.2 347.2 237.1 347.8 237.3 348.5 237.2 349.0 237.0 349.5 236.5 349.7 235.9 350.1 233.7 350.8 230.9 352.5 227.6 353.8 224.9 354.5 224.1 355.2 223.8 356.0 223.9 356.5 224.3 356.7 224.7 357.0 225.4 357.6 227.7 359.1 230.2 359.5 231.4 359.5 235.2 359.9 237.4 360.0 239.9 360.5 242.7 359.3 248.9 359.3 250.2 360.2 253.7 362.0 256.9 362.1 257.6 362.1 258.4 361.8 259.9 361.5 260.9 361.0 261.7 360.2 262.5 359.2 263.1 356.8 264.2 354.5 265.7 353.5 266.0 352.0 266.2ZM321.1 252.2 324.4 249.4 325.6 246.9 326.0 246.2 326.5 245.9 328.0 246.0 328.8 245.7 329.0 245.2 329.0 244.8 328.8 244.5 328.2 244.2 327.5 244.2 327.0 244.5 326.0 245.2 324.2 245.3 323.5 245.4 321.8 246.2 320.6 246.9 320.2 247.7 319.8 248.9 319.3 250.4 319.2 251.4 319.5 251.9 319.9 252.2 320.5 252.3 321.1 252.2ZM347.5 218.4 347.2 218.5 347.1 218.4 347.1 218.2 347.5 217.4 348.2 216.5 349.2 215.8 349.8 215.7 350.0 215.8 350.1 216.2 349.9 216.7 349.5 217.4 348.8 217.9 347.5 218.4ZM341.8 225.9 341.2 226.1 340.8 225.9 340.7 225.4 340.8 224.7 341.1 223.9 341.5 223.4 342.2 222.8 342.5 222.7 342.8 222.8 342.9 223.2 342.7 224.4 342.2 225.4 341.8 225.9ZM332.2 234.9 331.5 235.1 330.8 235.0 330.4 234.7 330.4 234.4 330.7 233.7 331.9 231.7 332.7 229.2 333.1 228.4 333.9 227.7 335.0 227.2 336.0 227.1 338.0 227.2 338.3 227.7 338.4 228.7 338.1 229.7 337.6 230.7 335.0 233.2 332.2 234.9ZM350.5 265.4 349.0 265.5 347.8 265.4 345.8 264.8 343.2 264.0 342.2 263.8 338.8 263.5 334.8 263.8 331.5 263.1 328.8 263.5 327.0 263.5 325.8 263.3 323.5 262.7 321.0 262.5 319.8 262.0 318.6 261.1 317.5 259.9 317.3 259.1 317.5 258.4 318.2 257.4 319.2 256.3 320.2 255.5 323.8 254.0 325.5 253.6 326.3 253.2 326.8 252.6 327.1 251.9 327.5 249.4 327.8 248.8 328.1 248.4 329.0 248.0 331.5 247.4 332.0 247.1 332.5 246.6 333.0 245.4 333.0 244.2 332.2 242.9 330.8 241.4 330.6 241.2 330.8 241.0 331.2 241.0 331.8 241.1 333.2 241.9 334.2 242.2 337.5 242.2 339.8 242.5 340.2 242.5 341.0 242.2 343.2 240.7 344.2 240.3 345.0 240.3 347.8 241.0 348.5 240.8 349.0 240.6 349.8 239.7 351.0 237.7 351.3 236.7 351.5 234.4 352.4 232.4 353.2 229.9 353.8 229.0 354.5 228.2 355.0 227.9 355.5 227.9 356.2 228.4 357.1 229.4 357.8 230.7 358.0 231.7 358.2 234.9 358.7 237.4 359.0 239.8 359.5 242.4 359.4 243.4 358.9 245.4 358.7 247.2 358.2 249.4 358.2 250.4 358.9 253.2 360.3 256.6 360.4 257.6 360.1 259.9 359.9 260.6 359.6 261.1 358.7 261.9 356.5 263.0 353.8 264.7 352.8 265.0 350.5 265.4ZM322.2 243.4 321.5 243.4 321.1 242.9 321.1 241.9 321.8 240.8 322.5 240.1 325.0 238.2 327.0 237.0 328.1 236.2 328.5 236.0 328.6 236.2 328.6 236.4 328.1 237.4 328.0 237.9 328.2 238.7 328.8 240.3 328.5 240.4 326.5 240.4 325.8 240.7 325.2 241.1 323.8 242.8 323.0 243.2 322.2 243.4ZM316.2 248.2 316.2 248.2 316.2 248.2ZM316.0 248.4 316.0 248.4ZM313.2 251.3 312.8 251.3 312.5 251.0 312.5 250.7 312.8 250.2 314.0 249.3 314.5 249.1 314.9 249.2 314.9 249.4 314.4 250.2 313.8 250.9 313.2 251.3ZM334.8 231.0 334.4 230.9 334.2 230.7 334.4 229.7 335.0 228.9 335.8 228.8 336.1 229.2 336.0 229.9 335.5 230.5 334.8 231.0ZM349.8 264.7 348.5 264.7 347.2 264.4 345.8 263.9 343.2 262.8 342.0 262.6 338.8 262.4 335.0 262.8 334.0 262.6 332.2 262.1 331.5 262.0 328.2 262.6 326.5 262.6 324.0 261.7 321.8 261.2 320.9 260.9 320.2 260.5 319.7 259.9 319.4 259.1 319.3 258.6 319.6 257.9 320.0 257.3 320.8 256.7 321.8 256.3 323.5 255.9 325.8 256.0 327.0 255.8 329.9 255.2 330.9 254.7 331.5 254.2 332.0 253.5 332.1 252.9 332.0 252.3 331.6 251.4 331.6 250.9 332.1 250.4 333.8 249.2 334.4 248.4 334.7 247.7 334.9 245.7 335.3 244.9 335.8 244.4 336.2 244.2 337.0 244.1 340.0 244.6 341.5 244.6 342.5 244.2 344.0 242.9 344.8 242.5 345.5 242.5 346.5 242.9 347.7 243.9 348.1 244.7 348.4 246.4 348.4 247.7 348.1 248.7 347.0 250.9 347.0 251.4 347.2 251.9 347.9 252.7 348.8 253.1 349.5 253.1 350.2 252.8 350.8 252.3 351.3 251.4 351.6 250.4 351.6 249.4 350.8 246.1 350.3 245.4 349.4 244.4 349.3 243.7 349.6 242.9 350.8 241.5 351.2 240.7 352.3 237.9 352.9 235.2 354.3 233.2 355.0 230.9 355.2 230.7 355.5 230.7 355.8 230.9 356.1 231.4 356.5 233.9 357.6 236.9 358.5 241.9 358.5 242.9 358.0 244.9 357.8 247.2 357.4 249.4 357.3 250.7 357.7 252.9 359.0 255.9 359.1 256.6 359.1 257.4 358.3 260.1 358.0 260.6 357.2 261.3 354.8 263.0 353.2 263.8 351.8 264.3 349.8 264.7ZM350.5 263.7 348.8 263.8 347.2 263.5 345.5 262.8 343.2 261.6 342.2 261.3 338.2 261.3 334.8 261.6 332.2 261.1 331.2 261.0 328.0 261.5 326.8 261.4 326.0 261.1 324.2 260.2 322.5 259.5 322.1 259.1 321.9 258.6 322.3 258.1 323.2 257.8 325.8 257.6 329.5 257.0 330.5 256.6 332.5 255.5 333.0 255.1 333.5 254.5 334.5 252.8 336.0 250.6 338.0 247.2 338.5 246.7 339.2 246.4 340.0 246.3 342.5 246.6 345.0 246.2 345.5 246.3 345.8 246.5 346.0 247.2 346.0 247.9 345.8 248.7 345.0 250.4 344.8 251.2 344.9 251.9 345.1 252.9 345.4 253.7 345.8 254.2 346.5 254.7 347.8 255.1 349.0 255.1 350.6 254.7 352.6 253.7 352.9 253.4 353.0 252.9 353.1 251.7 353.4 249.4 353.3 247.9 353.1 246.2 352.2 243.7 352.1 242.9 354.2 236.7 354.8 236.1 355.2 235.9 355.8 236.1 356.0 236.3 356.5 237.2 357.5 242.2 357.0 245.2 356.9 247.2 356.1 249.9 355.6 253.4 355.8 253.9 357.0 254.9 357.6 255.7 358.0 256.6 358.0 257.6 357.7 258.6 357.3 259.6 356.8 260.4 356.0 261.1 354.8 262.0 353.2 262.8 352.0 263.3 350.5 263.7ZM355.5 247.0 355.2 247.0 355.0 246.8 354.5 245.8 353.9 244.2 353.7 242.9 353.9 241.7 354.5 239.7 355.0 238.6 355.2 238.4 355.5 238.3 355.9 238.9 356.3 240.2 356.6 241.4 356.7 242.4 356.6 243.4 356.0 246.1 355.8 246.8 355.5 247.0ZM351.0 262.9 350.0 263.1 348.8 263.0 346.8 262.6 345.2 261.8 343.2 260.1 342.5 259.8 340.0 260.4 336.5 260.4 334.2 260.6 328.3 259.9 327.6 259.6 327.4 259.4 327.4 259.1 327.7 258.9 328.2 258.6 331.8 257.1 333.5 256.6 334.2 256.1 335.2 254.2 337.0 252.4 338.1 249.7 338.8 248.4 339.2 248.0 339.8 247.7 341.0 247.7 343.5 248.2 343.9 248.7 343.9 249.2 343.4 252.2 343.0 253.2 342.2 253.7 340.2 254.2 339.8 254.5 339.4 254.9 339.3 255.4 339.4 255.7 340.3 256.4 341.5 256.9 342.2 257.0 344.5 256.1 348.2 256.1 351.5 255.3 352.5 255.2 353.8 255.3 355.5 255.7 356.2 256.1 356.8 256.6 357.0 257.4 356.9 258.4 356.6 259.4 356.0 260.2 355.2 260.9 354.0 261.7 352.2 262.6 351.0 262.9ZM355.5 244.2 355.2 244.2 355.0 243.9 354.8 242.7 355.0 241.2 355.2 240.6 355.5 240.5 355.8 241.2 356.0 242.4 355.9 243.4 355.5 244.2ZM340.8 252.7 339.5 252.9 338.9 252.7 338.7 252.2 338.8 251.2 339.3 250.2 340.0 249.4 340.8 249.1 341.8 249.2 342.2 249.4 342.6 249.9 342.6 250.4 342.4 251.2 341.8 252.2 340.8 252.7ZM350.2 262.4 349.0 262.4 348.0 262.2 346.8 261.7 345.8 261.1 345.1 260.4 344.6 259.4 344.4 258.6 344.6 257.9 345.0 257.5 345.8 257.2 348.2 256.9 350.8 256.3 351.8 256.2 352.8 256.2 354.0 256.4 355.0 256.8 355.6 257.1 356.0 257.9 356.0 258.6 355.7 259.4 355.1 260.1 354.0 261.0 352.5 261.8 351.2 262.2 350.2 262.4ZM339.8 259.2 339.0 259.3 338.2 259.3 337.0 258.9 336.7 258.6 337.1 258.1 337.8 257.7 338.2 257.6 339.0 257.6 339.7 257.9 340.2 258.4 340.1 258.9 339.8 259.2ZM334.8 259.5 333.8 259.6 332.5 259.5 331.5 259.3 331.1 259.1 330.9 258.9 331.1 258.6 331.5 258.4 332.2 258.1 333.0 258.0 334.5 258.1 335.8 258.6 335.8 258.9 334.8 259.5ZM340.8 251.4 340.4 251.4 340.3 251.2 340.5 250.9 340.8 250.6 341.2 250.5 341.4 250.7 341.3 250.9 340.8 251.4ZM351.0 261.7 350.0 261.8 349.0 261.7 348.0 261.4 347.2 261.1 346.7 260.6 346.2 259.9 346.0 259.1 346.2 258.6 346.8 258.1 347.8 257.8 349.5 257.2 351.0 256.9 352.0 256.9 353.0 257.1 353.9 257.4 354.5 257.8 354.8 258.1 354.9 258.6 354.7 259.4 354.3 259.9 352.8 261.0 351.0 261.7ZM351.0 261.2 350.2 261.3 349.5 261.3 348.8 261.1 348.0 260.8 347.6 260.4 347.3 259.9 347.2 259.4 347.4 258.9 347.9 258.4 348.5 258.1 349.5 257.7 350.5 257.5 351.5 257.5 352.2 257.6 353.5 258.1 353.7 258.4 353.9 258.9 353.6 259.6 352.5 260.5 351.0 261.2ZM351.0 260.7 349.8 260.8 348.8 260.5 348.2 259.9 348.1 259.4 348.2 259.1 349.0 258.5 350.0 258.1 351.2 258.0 352.2 258.3 352.8 258.9 352.7 259.4 352.1 260.1 351.0 260.7ZM351.0 260.2 350.2 260.4 349.5 260.3 348.9 259.9 348.9 259.4 349.2 258.9 350.0 258.5 350.8 258.5 351.5 258.6 351.9 258.9 352.0 259.4 351.6 259.9 351.0 260.2Z" fill="none" stroke="#222" stroke-width="0.6"/>
<path stroke="#1a1a1a" stroke-opacity="0.9" stroke-width="0.7" d="M69.0 389.9h0.7M63.8 384.8h0.7M95.2 431.0h0.7M79.0 432.0h0.7M113.2 407.3h0.7M115.4 406.3h0.7M72.1 428.6h0.7M90.0 413.6h0.7M106.2 409.1h0.7M85.1 415.1h0.7M99.1 416.5h0.7M115.7 412.1h0.7M116.7 408.1h0.7M118.5 421.5h0.7M45.8 417.5h0.7M96.6 430.3h0.7M119.7 412.1h0.7M89.5 402.8h0.7M69.3 397.0h0.7M118.8 427.9h0.7M98.2 421.5h0.7M91.9 424.8h0.7M90.3 403.5h0.7M89.6 391.0h0.7M119.0 425.6h0.7M92.3 390.4h0.7M77.6 426.1h0.7M79.4 423.0h0.7M98.5 418.9h0.7M108.9 407.4h0.7M91.1 417.1h0.7M117.1 415.4h0.7M96.0 423.7h0.7M116.7 419.6h0.7M117.8 409.7h0.7M118.5 407.9h0.7M46.0 420.0h0.7M114.5 400.2h0.7M101.0 412.7h0.7M114.4 407.7h0.7M93.5 421.8h0.7M89.0 386.2h0.7M69.3 389.3h0.7M72.3 386.9h0.7M115.6 398.7h0.7M84.8 366.4h0.7M92.7 423.9h0.7M113.2 409.0h0.7M80.0 381.1h0.7M121.2 425.7h0.7M91.2 425.6h0.7M117.6 408.8h0.7M83.7 377.6h0.7M102.7 409.2h0.7M120.5 427.3h0.7M110.2 406.3h0.7M120.4 403.0h0.7M117.4 405.6h0.7M103.7 404.9h0.7M93.2 404.1h0.7M121.3 426.5h0.7M119.4 430.7h0.7M103.8 406.3h0.7M117.9 430.3h0.7M99.3 421.7h0.7M88.5 384.8h0.7M77.9 379.7h0.7M81.4 377.8h0.7M44.5 421.0h0.7M92.4 419.9h0.7M93.8 424.3h0.7M90.4 403.0h0.7M113.3 407.2h0.7M104.0 414.5h0.7M125.0 410.9h0.7M102.1 406.2h0.7M99.0 419.3h0.7M104.5 404.0h0.7M54.6 413.0h0.7M110.1 404.4h0.7M89.2 391.2h0.7M104.5 408.5h0.7M91.0 391.3h0.7M85.9 371.1h0.7M90.5 384.5h0.7M115.9 416.2h0.7M90.7 427.8h0.7M71.1 381.8h0.7M119.8 421.0h0.7M103.6 407.0h0.7M42.3 413.2h0.7M88.2 380.6h0.7M42.5 422.7h0.7M41.0 417.9h0.7M127.5 427.9h0.7M83.4 418.2h0.7M43.3 418.3h0.7M116.2 407.0h0.7M96.5 406.9h0.7M124.0 428.6h0.7M103.5 415.7h0.7M95.1 423.4h0.7M50.5 431.5h0.7M102.8 413.7h0.7M121.1 422.6h0.7M118.6 421.3h0.7M119.3 419.8h0.7M118.2 416.2h0.7M102.9 416.4h0.7M116.1 406.6h0.7M118.4 422.0h0.7M75.3 382.0h0.7M101.6 419.2h0.7M74.4 383.3h0.7M79.5 424.9h0.7M69.3 384.9h0.7M100.9 420.2h0.7M119.7 426.8h0.7M110.9 408.0h0.7M113.8 405.7h0.7M90.4 402.9h0.7M122.3 427.0h0.7M85.3 382.4h0.7M101.3 419.4h0.7M105.2 409.1h0.7M123.1 422.4h0.7M89.5 386.1h0.7M72.0 385.4h0.7M123.1 413.6h0.7M101.4 419.6h0.7M115.7 410.5h0.7M120.6 430.4h0.7M103.5 408.5h0.7M114.8 403.6h0.7M113.9 407.7h0.7M109.1 407.3h0.7M90.4 417.7h0.7M72.0 430.2h0.7M95.5 430.7h0.7M45.0 430.4h0.7M81.4 373.1h0.7M112.1 400.1h0.7M94.5 430.4h0.7M112.8 403.2h0.7M82.6 379.5h0.7M115.2 410.9h0.7M101.4 409.1h0.7M90.6 406.8h0.7M99.6 415.6h0.7M92.7 421.6h0.7M112.0 399.3h0.7M78.2 381.6h0.7M81.0 377.9h0.7M98.3 421.3h0.7M120.1 426.4h0.7M94.3 427.5h0.7M68.4 393.4h0.7M100.4 420.0h0.7M123.1 420.9h0.7M117.5 420.3h0.7M119.7 428.6h0.7M88.5 409.7h0.7M111.1 405.9h0.7M98.7 432.0h0.7M121.5 425.8h0.7M105.4 412.2h0.7M59.3 412.3h0.7M88.9 409.3h0.7M86.3 376.7h0.7M124.3 424.5h0.7M116.6 413.9h0.7M100.5 419.7h0.7M99.9 419.4h0.7M71.9 427.2h0.7M82.7 381.6h0.7M93.4 425.0h0.7M107.6 408.3h0.7M118.9 428.7h0.7M88.5 384.1h0.7M119.7 410.6h0.7M113.4 405.6h0.7M75.0 381.3h0.7M81.9 380.2h0.7M93.6 423.5h0.7M106.1 406.3h0.7M88.3 422.7h0.7M119.5 421.7h0.7M118.3 431.7h0.7M117.7 418.6h0.7M81.6 377.4h0.7M79.4 376.4h0.7M116.3 413.6h0.7M126.7 422.5h0.7M75.1 382.5h0.7M43.4 418.1h0.7M91.1 403.9h0.7M51.9 414.8h0.7M117.8 414.5h0.7M117.7 417.6h0.7M58.3 407.2h0.7M120.8 422.8h0.7M96.6 429.8h0.7M105.1 411.6h0.7M91.8 392.9h0.7M108.7 405.7h0.7M95.4 406.5h0.7M73.9 378.3h0.7M74.1 379.0h0.7M90.0 393.8h0.7M93.1 381.5h0.7M116.0 404.9h0.7M46.0 416.0h0.7M101.1 411.3h0.7M51.3 415.5h0.7M119.0 430.1h0.7M116.1 418.2h0.7M100.2 419.2h0.7M91.3 425.7h0.7M91.7 422.6h0.7M95.7 418.5h0.7M100.4 412.1h0.7M94.5 427.7h0.7M120.1 422.8h0.7M91.5 424.9h0.7M45.8 421.6h0.7M120.4 424.4h0.7M113.0 404.8h0.7M84.8 377.8h0.7M108.2 408.7h0.7M92.0 428.8h0.7M77.5 367.7h0.7M45.3 425.7h0.7M89.8 367.4h0.7M40.5 417.0h0.7M86.5 382.4h0.7M83.0 420.9h0.7M94.0 425.8h0.7M100.2 417.8h0.7M80.5 378.2h0.7M80.0 378.0h0.7M84.6 369.1h0.7M70.5 390.4h0.7M85.9 364.2h0.7M74.2 356.0h0.7M73.3 379.5h0.7M78.1 367.4h0.7M78.9 361.5h0.7M85.2 362.1h0.7M81.2 377.2h0.7M74.2 366.1h0.7M80.6 373.8h0.7M83.5 374.9h0.7M79.9 362.3h0.7M67.4 386.6h0.7M77.4 376.3h0.7M80.9 369.7h0.7M89.9 368.2h0.7M81.3 379.5h0.7M78.6 363.8h0.7M79.3 359.3h0.7M72.4 344.2h0.7M80.4 368.9h0.7M83.4 375.5h0.7M81.6 378.5h0.7M70.0 368.3h0.7M82.2 353.0h0.7M88.2 360.3h0.7M67.0 394.0h0.7M69.0 372.2h0.7M73.8 380.5h0.7M66.8 358.3h0.7M79.2 367.8h0.7M82.5 381.7h0.7M82.8 370.7h0.7M86.0 375.8h0.7M75.5 374.3h0.7M78.0 372.7h0.7M75.1 375.3h0.7M80.4 358.6h0.7M75.8 380.5h0.7M75.1 367.3h0.7M71.1 372.6h0.7M82.8 374.6h0.7M75.7 367.1h0.7M78.7 366.2h0.7M85.2 368.1h0.7M83.8 353.4h0.7M88.7 358.5h0.7M94.7 364.6h0.7M87.9 371.6h0.7M78.1 361.0h0.7M79.0 374.7h0.7M85.6 380.8h0.7M76.7 367.1h0.7M79.9 375.6h0.7M83.7 360.1h0.7M77.7 382.1h0.7M70.9 365.3h0.7M87.2 373.8h0.7M78.6 376.3h0.7M74.5 359.1h0.7M75.5 375.2h0.7M87.6 374.7h0.7M83.9 378.7h0.7M83.8 374.6h0.7M80.4 353.2h0.7M81.0 371.2h0.7M75.3 351.8h0.7M78.0 381.5h0.7M74.3 372.4h0.7M81.5 362.1h0.7M87.7 366.2h0.7M79.7 372.9h0.7M82.5 377.9h0.7M77.1 379.3h0.7M82.6 375.0h0.7M72.3 375.8h0.7M89.2 382.7h0.7M81.6 366.3h0.7M88.0 369.3h0.7M81.5 372.7h0.7M80.8 366.4h0.7M70.3 353.5h0.7M78.2 377.3h0.7M79.4 367.0h0.7M87.5 368.0h0.7M84.4 380.3h0.7M71.4 372.3h0.7M96.7 360.5h0.7M87.4 361.7h0.7M77.8 365.7h0.7M82.2 367.2h0.7M63.9 366.3h0.7M80.6 371.3h0.7M82.4 358.2h0.7M82.7 363.2h0.7M84.6 381.2h0.7M67.7 361.4h0.7M78.3 371.6h0.7M75.0 371.6h0.7M81.7 370.5h0.7M74.6 371.2h0.7M70.9 377.5h0.7M71.3 360.9h0.7M87.5 385.4h0.7M75.9 373.1h0.7M79.5 373.0h0.7M85.0 374.3h0.7M72.3 381.2h0.7M78.8 375.7h0.7M82.9 370.3h0.7M81.8 363.2h0.7M83.4 377.2h0.7M86.1 361.4h0.7M79.1 365.2h0.7M79.4 376.5h0.7M81.8 349.6h0.7M72.0 371.2h0.7M82.8 368.9h0.7M67.9 366.5h0.7M80.0 355.6h0.7M86.7 364.1h0.7M76.0 381.9h0.7M83.8 379.5h0.7M76.8 372.3h0.7M83.2 347.7h0.7M77.4 370.2h0.7M77.4 379.0h0.7M85.9 378.8h0.7M79.8 366.5h0.7M73.3 364.7h0.7M89.9 351.3h0.7M83.0 353.9h0.7M89.0 375.4h0.7M72.8 374.3h0.7M87.3 371.9h0.7M71.4 361.4h0.7M88.9 374.1h0.7M77.8 374.0h0.7M78.8 362.0h0.7M77.7 374.0h0.7M82.0 373.9h0.7M84.3 373.0h0.7M86.9 373.5h0.7M72.8 362.3h0.7M82.0 368.3h0.7M73.0 381.2h0.7M70.7 371.5h0.7M85.7 371.8h0.7M81.1 370.8h0.7M84.3 351.5h0.7M80.2 375.4h0.7M72.9 377.7h0.7M83.8 362.8h0.7M83.0 377.0h0.7M78.9 359.7h0.7M82.2 379.8h0.7M87.6 368.5h0.7M85.5 382.5h0.7M83.9 373.5h0.7M86.9 384.0h0.7M76.5 350.2h0.7M80.5 365.6h0.7M88.7 364.3h0.7M77.7 381.1h0.7M79.6 367.4h0.7M68.9 381.0h0.7M80.2 376.5h0.7M76.7 366.5h0.7M116.0 392.7h0.7M111.8 369.7h0.7M67.9 359.2h0.7M76.7 380.1h0.7M91.4 371.0h0.7M122.6 362.5h0.7M119.1 344.0h0.7M118.8 366.1h0.7M101.2 378.0h0.7M98.7 367.9h0.7M123.0 403.5h0.7M72.4 341.9h0.7M101.0 362.9h0.7M73.8 355.8h0.7M88.0 371.5h0.7M92.1 386.6h0.7M70.7 372.2h0.7M106.0 375.3h0.7M84.0 374.8h0.7M78.9 375.5h0.7M81.2 371.8h0.7M99.0 385.1h0.7M103.6 354.7h0.7M109.7 371.4h0.7M116.7 391.1h0.7M97.7 377.7h0.7M124.7 389.6h0.7M105.6 378.9h0.7M95.2 381.3h0.7M99.6 374.3h0.7M106.3 398.5h0.7M91.5 360.4h0.7M108.1 379.1h0.7M127.3 374.3h0.7M97.7 362.8h0.7M85.9 355.8h0.7M103.4 369.3h0.7M90.9 394.8h0.7M109.3 348.2h0.7M110.7 378.1h0.7M76.7 378.4h0.7M92.9 394.1h0.7M103.1 364.1h0.7M117.9 373.2h0.7M92.9 379.3h0.7M110.2 403.5h0.7M102.5 382.1h0.7M109.6 368.3h0.7M118.1 359.8h0.7M112.5 341.9h0.7M100.4 393.1h0.7M105.2 384.4h0.7M81.7 374.9h0.7M97.0 361.6h0.7M98.8 378.1h0.7M103.2 357.4h0.7M114.5 383.9h0.7M108.7 374.9h0.7M101.3 368.7h0.7M107.1 374.1h0.7M108.1 366.6h0.7M124.1 354.3h0.7M85.2 360.2h0.7M125.8 379.3h0.7M107.9 390.8h0.7M112.6 380.0h0.7M100.0 384.8h0.7M104.2 379.0h0.7M112.2 386.5h0.7M103.3 400.4h0.7M93.4 352.0h0.7M113.8 385.6h0.7M114.7 368.3h0.7M112.0 365.1h0.7M115.8 369.8h0.7M85.1 344.0h0.7M101.9 364.4h0.7M101.3 371.7h0.7M86.7 372.5h0.7M96.9 381.8h0.7M99.2 359.7h0.7M114.3 383.5h0.7M43.9 431.7h0.7M43.5 431.0h0.7M47.1 428.8h0.7M51.1 431.6h0.7M44.6 428.8h0.7M35.8 427.9h0.7M41.7 429.0h0.7M41.1 428.1h0.7M39.8 429.2h0.7M37.1 430.3h0.7M45.8 428.2h0.7M44.7 425.6h0.7M36.5 431.6h0.7M37.3 428.9h0.7M36.2 425.6h0.7M39.0 432.0h0.7M42.2 424.0h0.7M38.9 426.5h0.7M48.1 428.6h0.7M46.8 428.8h0.7M44.9 428.4h0.7M39.3 425.3h0.7M43.4 430.8h0.7M37.0 425.9h0.7M45.3 428.0h0.7M37.7 425.2h0.7M44.8 430.8h0.7M44.4 429.8h0.7M37.5 423.6h0.7M45.4 430.2h0.7M49.2 431.6h0.7M39.7 431.3h0.7M42.7 429.4h0.7M46.7 428.4h0.7M39.1 431.7h0.7M36.7 424.9h0.7M44.5 426.8h0.7M44.7 429.0h0.7M43.4 428.5h0.7M40.0 424.4h0.7M43.6 426.4h0.7M44.1 429.9h0.7M44.1 430.7h0.7M44.4 425.9h0.7M46.5 429.6h0.7M47.5 428.9h0.7M41.1 431.7h0.7M44.9 424.4h0.7M45.5 428.9h0.7M41.8 423.5h0.7M39.2 428.3h0.7M41.3 428.5h0.7M39.8 424.1h0.7M44.0 431.4h0.7M45.6 428.4h0.7M38.3 426.8h0.7M42.1 429.1h0.7M44.2 427.0h0.7M44.5 431.3h0.7M41.3 428.3h0.7M40.7 424.9h0.7M41.3 425.6h0.7M45.8 423.2h0.7M40.6 424.6h0.7M45.5 427.2h0.7M45.1 427.6h0.7M38.7 426.8h0.7M40.5 426.2h0.7M41.7 425.2h0.7M35.1 426.2h0.7M46.0 431.2h0.7M38.9 425.0h0.7M35.6 430.3h0.7M45.1 426.9h0.7M42.4 424.0h0.7M45.6 427.5h0.7M38.9 424.2h0.7M45.7 425.8h0.7M75.3 428.0h0.7M91.6 422.4h0.7M90.5 428.2h0.7M95.2 425.6h0.7M94.1 428.9h0.7M86.0 423.6h0.7M90.1 429.1h0.7M88.5 422.1h0.7M85.0 426.7h0.7M90.1 424.8h0.7M88.7 417.6h0.7M87.3 427.4h0.7M93.2 424.6h0.7M81.6 425.8h0.7M94.9 422.1h0.7M81.1 420.0h0.7M92.4 420.3h0.7M80.5 424.7h0.7M87.0 421.8h0.7M86.3 427.6h0.7M95.3 425.1h0.7M86.0 429.7h0.7M89.3 426.4h0.7M85.8 420.7h0.7M96.6 431.2h0.7M83.3 430.1h0.7M91.2 432.0h0.7M85.9 420.2h0.7M84.6 430.3h0.7M88.7 423.2h0.7M91.4 430.3h0.7M94.6 430.7h0.7M89.2 423.4h0.7M86.5 428.4h0.7M86.9 422.8h0.7M83.4 428.4h0.7M88.2 427.3h0.7M94.9 427.7h0.7M82.5 418.7h0.7M86.5 419.0h0.7M84.4 428.2h0.7M84.3 424.2h0.7M86.5 415.8h0.7M89.9 428.2h0.7M82.5 426.4h0.7M85.1 427.1h0.7M82.6 428.3h0.7M90.1 421.2h0.7M90.3 417.5h0.7M76.5 428.7h0.7M90.1 427.3h0.7M87.6 423.7h0.7M90.7 429.7h0.7M89.3 426.2h0.7M96.4 422.0h0.7M84.6 424.5h0.7M96.8 420.3h0.7M81.6 426.3h0.7M82.3 426.7h0.7M85.3 431.5h0.7M89.4 425.4h0.7M85.8 423.5h0.7M92.9 429.6h0.7M90.5 422.5h0.7M80.5 420.6h0.7M93.1 430.1h0.7M90.9 425.0h0.7M94.9 419.0h0.7M92.4 425.0h0.7M82.1 428.3h0.7M82.4 431.5h0.7M84.7 423.5h0.7M89.0 427.1h0.7M84.4 425.9h0.7M91.0 430.8h0.7M85.2 420.8h0.7M92.8 422.3h0.7M80.3 423.2h0.7M94.8 418.5h0.7M88.7 427.7h0.7M92.6 425.9h0.7M93.2 420.8h0.7M84.5 425.0h0.7M83.8 429.2h0.7M83.7 422.0h0.7M82.0 424.2h0.7M87.7 423.4h0.7M84.0 422.6h0.7M88.0 426.2h0.7M87.9 426.0h0.7M87.6 418.5h0.7M92.7 427.1h0.7M92.6 426.7h0.7M89.6 423.3h0.7M92.2 427.1h0.7M84.6 429.4h0.7M81.2 424.8h0.7M82.0 428.1h0.7M93.7 424.1h0.7M92.4 431.1h0.7M85.0 429.8h0.7M90.8 429.2h0.7M98.1 417.9h0.7M89.8 419.8h0.7M93.4 424.9h0.7M91.4 430.8h0.7M89.4 419.6h0.7M93.7 426.6h0.7M91.0 420.9h0.7M86.0 429.7h0.7M88.7 420.9h0.7M89.6 425.8h0.7M93.1 423.0h0.7M88.4 426.1h0.7M84.9 429.1h0.7M82.2 421.9h0.7M93.9 428.5h0.7M88.8 425.4h0.7M87.2 426.0h0.7M93.7 423.3h0.7M82.9 425.1h0.7M82.5 425.4h0.7M82.9 421.9h0.7M81.8 426.8h0.7M81.3 431.7h0.7M85.0 428.0h0.7M82.9 430.1h0.7M89.3 419.6h0.7M87.4 430.9h0.7M85.8 426.3h0.7M92.8 420.7h0.7M89.0 423.9h0.7M86.0 423.3h0.7M88.1 431.4h0.7M92.0 422.3h0.7M84.7 429.7h0.7M82.2 423.7h0.7M89.9 426.6h0.7M92.1 414.5h0.7M91.6 424.0h0.7M84.9 422.3h0.7M89.1 428.5h0.7M98.6 420.7h0.7M94.5 420.7h0.7M92.6 428.8h0.7M92.8 430.4h0.7M80.3 431.1h0.7M93.8 424.8h0.7M94.9 429.3h0.7M88.6 423.3h0.7M85.6 425.7h0.7M91.8 430.1h0.7M86.1 427.8h0.7M88.0 431.4h0.7M87.7 430.2h0.7M91.6 418.7h0.7M90.1 428.1h0.7M89.7 425.7h0.7M96.5 420.2h0.7M94.1 429.6h0.7M82.9 424.0h0.7M84.5 426.9h0.7M80.1 428.1h0.7M84.5 420.7h0.7M88.5 423.6h0.7M81.4 421.9h0.7M93.0 425.0h0.7M88.7 430.0h0.7M89.5 423.5h0.7M96.4 431.0h0.7M92.1 425.6h0.7M86.1 427.8h0.7M84.5 425.8h0.7M89.3 422.9h0.7M82.8 428.9h0.7M84.7 428.1h0.7M97.4 422.6h0.7M85.5 423.8h0.7M89.6 424.4h0.7M84.4 431.3h0.7M80.7 425.5h0.7M77.5 431.7h0.7M94.5 430.3h0.7M84.6 428.2h0.7M85.4 415.8h0.7M95.0 425.6h0.7M86.0 429.8h0.7M92.3 425.2h0.7M100.5 408.6h0.7M89.8 406.4h0.7M93.3 412.1h0.7M86.9 380.5h0.7M100.4 405.7h0.7M95.6 415.1h0.7M88.6 414.7h0.7M85.6 419.2h0.7M93.1 405.2h0.7M96.6 411.0h0.7M86.0 414.4h0.7M97.1 401.7h0.7M96.5 406.0h0.7M91.5 413.0h0.7M92.9 408.6h0.7M94.3 404.5h0.7M95.0 397.6h0.7M94.5 417.1h0.7M96.4 417.7h0.7M94.1 401.9h0.7M91.4 400.4h0.7M94.3 406.4h0.7M92.5 404.9h0.7M94.1 411.3h0.7M101.8 403.7h0.7M95.5 399.6h0.7M98.0 418.8h0.7M93.9 386.3h0.7M110.8 386.8h0.7M99.3 397.0h0.7M99.3 403.9h0.7M97.0 404.0h0.7M96.7 388.2h0.7M89.6 409.5h0.7M95.6 413.5h0.7M101.6 413.5h0.7M91.7 404.0h0.7M93.7 399.4h0.7M90.5 409.3h0.7M90.8 405.7h0.7M89.5 409.7h0.7M95.8 414.5h0.7M93.8 392.6h0.7M90.4 410.1h0.7M98.6 412.2h0.7M93.3 396.2h0.7M90.4 405.5h0.7M91.4 400.3h0.7M96.7 402.4h0.7M95.8 410.6h0.7M94.1 411.6h0.7M89.8 412.6h0.7M97.8 410.9h0.7M91.4 416.2h0.7M94.0 420.3h0.7M96.1 406.0h0.7M95.8 416.6h0.7M95.1 386.5h0.7M105.1 407.5h0.7M97.9 381.7h0.7M94.0 391.8h0.7M100.2 403.2h0.7M91.7 403.8h0.7M88.8 412.6h0.7M95.5 417.8h0.7M86.6 424.8h0.7M93.9 407.7h0.7M99.5 401.2h0.7M96.7 391.4h0.7M93.9 387.3h0.7M97.0 400.5h0.7M95.0 411.1h0.7M91.4 419.1h0.7M98.9 397.5h0.7M94.4 412.2h0.7M108.0 403.4h0.7M91.5 410.8h0.7M98.4 398.5h0.7M94.0 393.5h0.7M94.5 396.1h0.7M94.3 394.5h0.7M95.4 402.4h0.7M94.0 391.3h0.7M92.0 404.9h0.7M93.6 430.1h0.7M92.0 405.4h0.7M98.1 415.9h0.7M95.7 397.5h0.7M102.6 402.6h0.7M93.5 405.6h0.7M92.8 407.8h0.7M91.2 386.1h0.7M89.5 405.7h0.7M91.5 396.9h0.7M102.0 390.6h0.7M99.1 399.3h0.7M99.3 419.7h0.7M93.5 422.0h0.7M97.2 414.8h0.7M93.3 408.4h0.7M95.5 393.8h0.7M90.9 413.6h0.7M100.3 412.6h0.7M97.2 408.8h0.7M90.7 418.4h0.7M64.6 402.6h0.7M88.6 411.9h0.7M35.3 410.1h0.7M60.4 408.3h0.7M45.5 422.5h0.7M80.6 422.7h0.7M68.7 399.5h0.7M48.1 387.7h0.7M53.7 398.4h0.7M67.0 406.9h0.7M49.8 412.0h0.7M54.8 413.0h0.7M62.8 388.0h0.7M66.3 406.6h0.7M58.0 392.9h0.7M76.5 421.9h0.7M52.8 396.0h0.7M52.8 385.3h0.7M92.9 402.7h0.7M59.8 398.2h0.7M95.6 425.5h0.7M50.5 389.4h0.7M41.6 399.4h0.7M56.9 413.0h0.7M75.7 423.5h0.7M97.1 392.0h0.7M62.2 407.5h0.7M43.4 422.3h0.7M65.7 388.1h0.7M50.9 413.9h0.7M45.9 398.5h0.7M55.3 408.0h0.7M67.3 390.5h0.7M60.3 404.7h0.7M54.7 400.3h0.7M56.6 408.9h0.7M67.4 401.7h0.7M47.0 412.9h0.7M66.0 407.7h0.7M44.6 422.6h0.7M48.7 403.8h0.7M62.4 389.0h0.7M66.7 408.7h0.7M67.3 401.0h0.7M88.1 413.7h0.7M53.1 396.9h0.7M68.8 400.0h0.7M59.2 392.2h0.7M47.0 416.1h0.7M75.4 426.4h0.7M55.3 399.0h0.7M56.5 412.6h0.7M65.5 386.2h0.7M70.0 386.4h0.7M65.9 431.9h0.7M86.7 384.0h0.7M59.7 406.2h0.7M62.2 387.7h0.7M51.5 411.7h0.7M65.3 408.9h0.7M45.9 411.7h0.7M45.3 412.0h0.7M48.2 406.6h0.7M55.9 406.2h0.7M65.9 400.7h0.7M63.9 387.1h0.7M41.9 421.1h0.7M53.3 411.7h0.7M48.6 407.2h0.7M81.2 426.6h0.7M61.5 411.8h0.7M49.1 405.2h0.7M36.5 408.5h0.7M67.8 405.0h0.7M80.0 423.3h0.7M58.6 378.1h0.7M83.7 432.0h0.7M89.9 415.8h0.7M68.3 401.7h0.7M77.8 424.0h0.7M42.0 411.1h0.7M68.6 396.1h0.7M59.0 404.0h0.7M90.9 401.8h0.7M84.2 422.5h0.7M69.3 384.5h0.7M84.7 421.4h0.7M64.3 397.1h0.7M60.3 411.4h0.7M62.3 395.4h0.7M83.3 425.4h0.7M57.0 412.1h0.7M44.9 408.5h0.7M46.0 419.6h0.7M47.7 404.9h0.7M62.0 410.8h0.7M58.5 404.1h0.7M59.9 393.0h0.7M56.1 406.5h0.7M42.6 419.9h0.7M61.6 410.6h0.7M41.7 411.1h0.7M41.4 407.3h0.7M36.7 426.6h0.7M68.0 402.9h0.7M63.9 404.0h0.7M64.4 391.2h0.7M39.8 411.5h0.7M47.8 399.1h0.7M59.6 406.2h0.7M72.8 386.4h0.7M49.0 403.0h0.7M54.4 391.1h0.7M57.1 398.2h0.7M56.4 393.5h0.7M56.7 406.4h0.7M68.6 396.0h0.7M56.6 410.8h0.7M42.6 416.8h0.7M97.0 379.0h0.7M65.3 401.6h0.7M40.2 408.6h0.7M37.5 407.4h0.7M56.6 409.6h0.7M90.3 414.5h0.7M63.2 401.5h0.7M65.8 404.1h0.7M54.9 396.5h0.7M66.0 397.8h0.7M65.3 408.9h0.7M68.7 391.8h0.7M43.2 432.0h0.7M61.8 408.9h0.7M60.7 399.6h0.7M64.7 407.5h0.7M84.1 429.4h0.7M70.3 388.0h0.7M96.4 405.6h0.7M44.0 408.1h0.7M61.3 410.5h0.7M67.6 392.0h0.7M91.2 427.2h0.7M86.6 422.0h0.7M59.1 409.4h0.7M68.3 395.1h0.7M43.2 425.2h0.7M64.1 399.7h0.7M38.5 422.8h0.7M55.8 412.4h0.7M46.2 431.6h0.7M78.4 422.9h0.7M66.8 398.2h0.7M67.1 399.0h0.7M66.6 408.9h0.7M94.1 408.7h0.7M76.5 424.4h0.7M93.9 394.0h0.7M52.2 409.0h0.7M67.2 394.6h0.7M68.4 401.9h0.7M70.3 392.0h0.7M42.8 419.0h0.7M46.2 402.2h0.7M65.2 405.2h0.7M53.0 395.7h0.7M65.7 409.7h0.7M70.7 429.1h0.7M39.4 405.7h0.7M54.1 391.5h0.7M55.9 393.7h0.7M57.6 403.9h0.7M70.6 390.0h0.7M66.9 398.3h0.7M64.4 389.5h0.7M44.6 423.7h0.7M60.0 402.8h0.7M87.6 416.0h0.7M61.0 396.3h0.7M64.1 409.4h0.7M54.0 413.4h0.7M60.4 411.9h0.7M60.7 405.1h0.7M50.0 410.0h0.7M52.7 402.1h0.7M94.6 414.0h0.7M48.3 413.5h0.7M85.4 419.1h0.7M57.8 392.8h0.7M63.2 398.4h0.7M75.5 423.8h0.7M51.5 396.2h0.7M35.9 423.4h0.7M99.0 411.1h0.7M67.6 398.3h0.7M67.8 404.5h0.7M89.6 403.5h0.7M48.1 406.9h0.7M56.0 395.7h0.7M68.3 397.2h0.7M89.4 405.8h0.7M63.6 407.2h0.7M63.3 398.6h0.7M60.8 392.9h0.7M47.3 412.1h0.7M60.1 402.7h0.7M60.7 393.5h0.7M41.6 426.2h0.7M87.9 386.6h0.7M50.2 394.8h0.7M96.7 398.7h0.7M57.3 405.2h0.7M91.5 404.1h0.7M121.7 422.6h0.7M112.7 407.4h0.7M87.3 423.3h0.7M75.0 430.1h0.7M86.0 379.5h0.7M90.7 406.8h0.7M46.1 425.9h0.7M64.1 400.6h0.7M99.4 418.4h0.7M101.3 406.5h0.7M95.1 386.0h0.7M69.2 393.5h0.7M90.3 410.1h0.7M63.3 397.6h0.7M74.0 384.8h0.7M92.1 427.2h0.7M93.5 379.7h0.7M70.9 429.3h0.7M78.2 381.9h0.7M89.9 396.9h0.7M84.6 419.9h0.7M74.7 383.3h0.7M48.7 413.5h0.7M81.3 425.9h0.7M55.0 406.1h0.7M74.9 431.5h0.7M49.8 400.7h0.7M41.1 413.8h0.7M87.2 378.2h0.7M86.1 413.1h0.7M62.9 407.7h0.7M83.4 418.0h0.7M51.8 415.0h0.7M86.4 383.1h0.7M70.6 386.1h0.7M99.8 413.0h0.7M105.1 399.6h0.7M92.4 408.4h0.7M81.6 426.5h0.7M95.9 429.1h0.7M98.2 403.0h0.7M119.7 401.2h0.7M78.1 422.8h0.7M43.1 421.7h0.7M77.6 421.2h0.7M71.6 431.5h0.7M74.6 425.6h0.7M72.8 385.7h0.7M77.9 381.6h0.7M71.9 385.9h0.7M47.3 408.9h0.7M45.2 424.6h0.7M101.6 395.3h0.7M101.2 387.2h0.7M51.1 415.3h0.7M65.0 403.5h0.7M89.9 418.7h0.7M93.7 429.7h0.7M42.7 418.2h0.7M126.2 427.3h0.7M92.1 384.6h0.7M80.7 426.7h0.7M82.8 364.4h0.7M121.7 431.8h0.7M46.1 415.0h0.7M67.0 405.6h0.7M98.5 412.9h0.7M72.6 383.7h0.7M77.9 362.2h0.7M69.9 430.4h0.7M99.2 415.8h0.7M91.5 389.4h0.7M82.4 420.1h0.7M61.7 408.9h0.7M74.3 428.8h0.7M85.3 383.4h0.7M96.3 424.4h0.7M49.1 409.1h0.7M104.0 397.6h0.7M76.9 422.2h0.7M72.9 385.6h0.7M88.0 368.2h0.7M48.6 415.5h0.7M35.3 429.2h0.7M103.0 410.8h0.7M92.1 370.9h0.7M98.6 394.5h0.7M90.8 390.8h0.7M83.5 377.9h0.7M96.7 418.1h0.7M46.2 420.5h0.7M114.8 408.6h0.7M116.2 416.0h0.7M89.7 395.4h0.7M112.9 405.3h0.7M43.9 401.1h0.7M94.4 399.5h0.7M65.4 410.4h0.7M37.5 430.6h0.7M101.6 381.5h0.7M101.1 377.6h0.7M74.7 427.5h0.7M49.5 400.2h0.7M98.8 391.1h0.7M92.4 378.7h0.7M91.0 389.6h0.7M93.3 405.6h0.7M119.7 429.3h0.7M105.5 410.2h0.7M86.0 383.4h0.7M101.7 401.9h0.7M68.9 431.8h0.7M124.7 430.2h0.7M97.9 381.6h0.7M88.6 413.7h0.7M89.3 406.7h0.7M71.1 380.7h0.7M64.6 391.7h0.7M92.9 400.3h0.7M44.2 427.1h0.7M111.4 400.3h0.7M70.0 391.3h0.7M95.6 423.5h0.7M53.8 414.4h0.7M64.5 402.5h0.7M122.0 423.2h0.7M39.2 412.8h0.7M98.0 379.8h0.7M76.0 431.7h0.7M41.8 419.1h0.7M94.6 426.4h0.7M91.9 398.9h0.7M96.6 417.5h0.7M57.6 409.4h0.7M65.6 397.2h0.7M108.8 389.9h0.7M78.7 372.4h0.7M45.8 426.7h0.7M44.3 418.0h0.7M41.1 419.2h0.7M42.8 422.0h0.7M101.5 395.7h0.7M89.7 395.4h0.7M88.9 407.0h0.7M85.6 382.3h0.7M119.0 415.7h0.7M68.2 402.9h0.7M89.9 390.9h0.7M66.7 408.8h0.7M45.7 425.3h0.7M111.2 403.7h0.7M123.9 425.7h0.7M89.7 414.4h0.7M88.7 385.1h0.7M88.2 356.0h0.7M41.1 431.3h0.7M80.0 379.5h0.7M87.8 386.5h0.7M90.4 391.9h0.7M38.0 430.3h0.7M45.3 418.0h0.7M83.5 375.6h0.7M90.5 403.4h0.7M84.6 419.2h0.7M92.5 398.3h0.7M41.1 399.5h0.7M87.0 383.6h0.7M62.6 407.6h0.7M57.7 408.8h0.7M45.4 403.1h0.7M90.5 411.6h0.7M115.3 410.2h0.7M120.4 424.3h0.7M62.0 403.6h0.7M89.8 359.4h0.7M92.2 403.7h0.7M50.2 416.1h0.7M91.9 415.4h0.7M88.4 416.2h0.7M92.4 431.5h0.7M63.4 402.0h0.7M94.7 429.1h0.7M77.2 360.4h0.7M84.1 375.6h0.7M69.7 388.4h0.7M95.6 423.1h0.7M92.1 425.0h0.7M83.3 378.3h0.7M42.1 418.9h0.7M85.2 429.4h0.7M81.2 418.6h0.7M46.1 430.6h0.7M79.4 424.7h0.7M74.5 384.1h0.7M85.3 415.6h0.7M83.4 424.0h0.7M86.5 371.6h0.7M44.6 426.9h0.7M119.5 403.6h0.7M97.6 412.6h0.7M38.7 429.2h0.7M85.4 380.2h0.7M38.8 414.6h0.7M90.3 394.2h0.7M91.6 397.9h0.7M65.1 389.8h0.7M113.8 408.1h0.7M90.2 419.0h0.7M49.7 431.7h0.7M110.2 405.9h0.7M118.6 422.7h0.7M80.3 419.3h0.7M115.7 378.3h0.7M71.6 431.4h0.7M87.6 385.1h0.7M89.9 401.9h0.7M95.9 422.1h0.7M75.3 424.6h0.7M47.3 416.8h0.7M91.6 417.5h0.7M39.5 417.4h0.7M95.4 414.1h0.7M79.5 421.5h0.7M51.2 412.4h0.7M100.8 404.2h0.7M58.2 373.8h0.7M69.7 394.1h0.7M78.5 378.6h0.7M88.3 411.8h0.7M65.0 391.0h0.7M90.2 390.8h0.7M77.7 380.6h0.7M119.3 430.6h0.7M48.4 405.1h0.7M88.9 422.4h0.7M46.9 429.4h0.7M55.6 409.0h0.7M43.1 412.4h0.7M120.8 425.0h0.7M67.3 396.6h0.7M93.9 427.7h0.7M57.7 391.2h0.7M45.5 421.4h0.7M78.0 427.0h0.7M99.0 417.1h0.7M49.8 413.0h0.7M88.7 413.2h0.7M66.6 391.0h0.7M98.4 410.8h0.7M40.0 428.7h0.7M101.4 400.1h0.7M39.9 429.3h0.7M71.0 390.7h0.7M89.9 413.8h0.7M105.5 381.2h0.7M118.8 430.1h0.7M91.2 394.2h0.7M116.4 419.0h0.7M74.5 380.8h0.7M71.4 390.2h0.7M83.4 417.4h0.7M100.2 401.0h0.7M57.6 410.7h0.7M107.0 408.1h0.7M92.3 397.0h0.7M81.9 423.1h0.7M45.4 423.9h0.7M92.1 419.3h0.7M95.5 394.7h0.7M63.0 410.3h0.7M87.3 424.4h0.7M101.9 418.1h0.7M75.2 422.7h0.7M41.6 420.6h0.7M99.6 342.9h0.7M106.4 409.2h0.7M59.6 406.6h0.7M61.0 407.0h0.7M63.1 411.0h0.7M115.6 415.8h0.7M52.0 415.5h0.7M46.3 428.6h0.7M117.4 403.1h0.7M73.9 383.0h0.7M93.1 393.3h0.7M48.7 402.4h0.7M96.0 388.6h0.7M106.5 407.0h0.7M74.2 384.8h0.7M78.6 379.0h0.7M68.9 400.4h0.7M49.5 431.3h0.7M86.6 382.9h0.7M68.1 393.6h0.7M118.1 419.9h0.7M49.9 413.7h0.7M69.9 378.7h0.7M51.3 400.6h0.7M70.9 428.6h0.7M75.8 425.3h0.7M67.8 397.9h0.7M88.4 423.6h0.7M84.5 382.2h0.7M62.1 408.6h0.7M103.8 411.6h0.7M112.5 405.4h0.7M105.0 395.3h0.7M89.1 385.2h0.7M90.7 414.8h0.7M80.4 419.0h0.7M49.2 416.8h0.7M70.8 381.4h0.7M80.0 377.2h0.7M80.3 419.7h0.7M108.6 400.0h0.7M96.4 422.4h0.7M62.6 410.2h0.7M74.5 424.4h0.7M70.2 392.4h0.7M74.6 425.3h0.7M107.8 406.7h0.7M117.5 411.2h0.7M53.6 411.2h0.7M101.3 387.7h0.7M88.7 383.7h0.7M54.3 412.9h0.7M83.9 420.5h0.7M85.3 421.8h0.7M108.5 393.7h0.7M54.1 398.8h0.7M70.3 382.4h0.7M93.3 427.0h0.7M82.2 424.0h0.7M93.0 417.3h0.7M79.6 420.0h0.7M58.4 397.2h0.7M67.3 405.3h0.7M46.5 419.4h0.7M121.3 417.7h0.7M89.8 407.4h0.7M89.5 392.4h0.7M75.5 428.8h0.7M84.8 421.2h0.7M116.8 415.2h0.7M43.6 430.2h0.7M90.6 403.5h0.7M103.6 411.5h0.7M66.5 379.4h0.7M79.0 373.9h0.7M106.5 408.7h0.7M92.1 430.3h0.7M78.8 423.6h0.7M113.3 383.1h0.7M61.1 396.9h0.7M120.2 403.3h0.7M63.9 395.7h0.7M70.9 388.6h0.7M54.5 413.7h0.7M84.7 381.0h0.7M100.6 393.5h0.7M127.6 428.8h0.7M118.7 419.5h0.7M80.6 421.7h0.7M89.0 386.6h0.7M63.2 407.1h0.7M55.5 410.1h0.7M91.4 399.3h0.7M100.4 417.4h0.7M72.3 426.8h0.7M78.5 381.2h0.7M115.3 390.7h0.7M112.8 378.6h0.7M84.1 375.5h0.7M79.5 421.7h0.7M45.7 422.1h0.7M90.3 405.2h0.7M90.3 389.2h0.7M120.5 402.7h0.7M68.5 431.8h0.7M85.7 415.5h0.7M88.6 414.8h0.7M43.4 410.0h0.7M76.6 430.6h0.7M100.9 417.3h0.7M96.3 420.5h0.7M108.3 375.8h0.7M116.6 390.9h0.7M64.7 407.2h0.7M108.9 401.3h0.7M66.9 403.0h0.7M59.5 412.0h0.7M45.7 419.5h0.7M114.8 407.3h0.7M85.8 428.8h0.7M80.7 379.1h0.7M59.2 407.0h0.7M93.5 396.1h0.7M73.7 374.5h0.7M99.0 385.6h0.7M66.5 403.6h0.7M47.3 414.8h0.7M67.4 403.7h0.7M40.4 423.1h0.7M118.4 415.4h0.7M42.7 416.1h0.7M58.4 404.6h0.7M99.6 421.4h0.7M122.0 431.3h0.7M41.7 425.7h0.7M74.7 429.1h0.7M117.0 417.3h0.7M84.9 379.9h0.7M59.9 396.3h0.7M68.2 394.6h0.7M60.4 410.1h0.7M47.5 430.3h0.7M63.2 409.2h0.7M69.9 431.4h0.7M118.1 431.6h0.7M83.5 382.2h0.7M83.1 377.3h0.7M116.5 406.9h0.7M115.8 411.6h0.7M79.5 422.3h0.7M72.0 428.1h0.7M71.2 385.3h0.7M56.9 401.7h0.7M90.2 387.9h0.7M70.9 388.5h0.7M83.6 418.9h0.7M100.5 411.5h0.7M37.1 418.5h0.7M73.5 385.1h0.7M120.0 428.3h0.7M70.9 429.6h0.7M73.2 386.7h0.7M115.2 361.6h0.7M85.0 426.1h0.7M70.0 429.1h0.7M41.5 414.0h0.7M108.0 406.4h0.7M120.2 352.6h0.7M75.1 378.4h0.7M93.5 426.2h0.7M89.9 392.6h0.7M55.3 408.1h0.7M82.1 422.0h0.7M78.7 380.6h0.7M88.2 411.2h0.7M79.8 421.0h0.7M67.9 403.5h0.7M62.8 406.8h0.7M100.7 415.7h0.7M74.5 429.7h0.7M68.7 393.7h0.7M122.5 431.1h0.7M76.1 378.7h0.7M121.9 386.6h0.7M93.3 427.3h0.7M89.3 406.8h0.7M81.7 381.3h0.7M94.5 417.1h0.7M90.5 419.1h0.7M38.1 418.1h0.7M36.2 420.9h0.7M117.2 415.0h0.7M93.6 419.2h0.7M92.5 427.2h0.7M46.4 413.6h0.7M105.7 410.3h0.7M53.1 366.1h0.7M67.3 404.6h0.7M103.6 406.8h0.7M118.2 419.0h0.7M101.9 412.9h0.7M78.0 423.3h0.7M89.6 399.5h0.7M102.3 417.6h0.7M87.7 413.5h0.7M60.6 409.5h0.7M116.2 407.1h0.7M65.9 410.2h0.7M118.9 429.4h0.7M117.8 431.6h0.7M68.2 397.3h0.7M94.0 423.7h0.7M47.3 410.5h0.7M60.7 399.2h0.7M105.8 399.9h0.7M41.8 423.9h0.7M60.6 395.9h0.7M72.8 426.9h0.7M47.1 430.7h0.7M96.3 430.8h0.7M97.3 389.8h0.7M100.3 420.3h0.7M56.2 401.9h0.7M85.2 415.9h0.7M101.9 409.9h0.7M121.0 421.3h0.7M88.3 413.6h0.7M67.3 406.3h0.7M63.8 409.5h0.7M89.7 390.2h0.7M87.6 423.0h0.7M82.5 369.7h0.7M43.6 424.3h0.7M111.3 373.3h0.7M84.1 382.6h0.7M95.2 406.5h0.7M116.7 410.8h0.7M124.4 423.4h0.7M72.4 386.2h0.7M86.2 413.5h0.7M67.0 407.5h0.7M119.2 417.5h0.7M74.7 430.6h0.7M68.1 403.9h0.7M40.7 421.9h0.7M63.2 399.9h0.7M96.5 422.8h0.7M61.4 412.0h0.7M107.0 400.3h0.7M79.9 379.7h0.7M87.0 413.2h0.7M45.1 418.9h0.7M104.6 412.1h0.7M95.9 405.7h0.7M70.0 429.5h0.7M73.7 385.0h0.7M46.8 430.8h0.7M89.4 384.4h0.7M55.3 407.6h0.7M83.0 419.7h0.7M41.1 421.4h0.7M103.4 401.1h0.7M42.5 427.0h0.7M97.6 431.2h0.7M87.5 417.4h0.7M103.9 382.1h0.7M39.1 400.4h0.7M92.2 419.2h0.7M66.4 384.5h0.7M76.6 423.3h0.7M90.5 425.1h0.7M110.6 407.0h0.7M57.5 389.1h0.7M42.6 426.6h0.7M89.9 412.7h0.7M95.0 420.2h0.7M90.0 414.7h0.7M68.8 398.5h0.7M47.1 416.0h0.7M85.7 422.8h0.7M114.7 356.5h0.7M104.9 410.6h0.7M115.7 411.2h0.7M93.3 412.5h0.7M87.4 426.1h0.7M73.6 431.7h0.7M116.2 409.3h0.7M61.9 404.3h0.7M76.8 428.7h0.7M108.5 395.5h0.7M58.7 409.3h0.7M118.2 431.1h0.7M120.9 427.4h0.7M121.2 425.5h0.7M69.1 431.2h0.7M85.4 428.0h0.7M56.5 402.0h0.7M93.8 429.3h0.7M99.0 418.4h0.7M37.8 417.6h0.7M100.4 407.3h0.7M94.7 404.3h0.7M105.1 410.0h0.7M77.3 377.0h0.7M119.2 428.1h0.7M44.6 420.9h0.7M72.6 382.0h0.7M126.8 425.5h0.7M67.4 406.2h0.7M44.1 422.1h0.7M84.4 374.7h0.7M44.0 419.9h0.7M85.7 431.0h0.7M120.7 426.6h0.7M70.8 429.2h0.7M44.6 427.3h0.7M47.6 430.3h0.7M42.8 421.7h0.7M56.4 404.6h0.7M65.7 399.9h0.7M65.7 395.8h0.7M112.1 401.6h0.7M84.8 376.0h0.7M42.8 417.9h0.7M51.3 412.7h0.7M43.4 429.7h0.7M124.1 412.0h0.7M75.2 426.0h0.7M67.9 403.6h0.7M57.5 409.0h0.7M63.4 392.2h0.7M79.4 380.4h0.7M86.6 416.6h0.7M85.7 417.3h0.7M114.0 406.0h0.7M68.5 388.7h0.7M121.9 425.4h0.7M93.7 404.0h0.7M112.9 402.2h0.7M56.0 402.7h0.7M62.3 411.3h0.7M104.1 413.7h0.7M45.2 416.9h0.7M62.5 401.0h0.7M80.8 376.4h0.7M113.3 408.5h0.7M91.4 402.6h0.7M94.6 376.1h0.7M60.2 409.1h0.7M76.5 422.3h0.7M90.0 410.2h0.7M86.5 416.2h0.7M84.1 381.0h0.7M82.3 380.4h0.7M36.2 422.4h0.7M40.8 423.5h0.7M99.3 389.6h0.7M98.3 398.9h0.7M113.2 408.5h0.7M101.9 418.0h0.7M70.7 387.6h0.7M54.0 406.2h0.7M83.2 379.4h0.7M115.7 402.1h0.7M93.4 402.1h0.7M53.7 408.6h0.7M91.9 428.7h0.7M78.7 424.6h0.7M96.5 424.1h0.7M106.2 376.9h0.7M121.6 427.6h0.7M88.5 410.7h0.7M57.7 407.7h0.7M90.4 424.6h0.7M50.0 415.6h0.7M77.0 380.9h0.7M112.6 403.5h0.7M88.0 410.6h0.7M43.1 415.5h0.7M90.9 410.6h0.7M87.1 384.2h0.7M38.0 421.2h0.7M44.5 426.7h0.7M100.5 414.2h0.7M90.7 423.8h0.7M91.6 375.8h0.7M42.7 415.1h0.7M87.1 421.3h0.7M94.1 404.9h0.7M115.5 413.2h0.7M93.7 394.2h0.7M78.0 379.2h0.7M45.5 419.0h0.7M50.7 407.2h0.7M77.0 425.2h0.7M103.1 413.3h0.7M124.7 428.8h0.7M53.5 410.9h0.7M41.4 422.4h0.7M85.8 383.9h0.7M58.7 394.2h0.7M87.8 414.7h0.7M75.1 425.9h0.7M78.0 430.5h0.7M50.7 415.0h0.7M116.2 417.6h0.7M47.0 429.1h0.7M95.5 428.1h0.7M87.9 408.2h0.7M92.0 407.9h0.7M95.8 376.0h0.7M39.6 416.4h0.7M82.0 431.6h0.7M98.6 421.6h0.7M54.8 404.8h0.7M80.2 370.6h0.7M118.5 400.9h0.7M111.7 400.7h0.7M68.0 431.4h0.7M40.1 421.8h0.7M83.1 417.3h0.7M84.0 418.2h0.7M83.0 417.3h0.7M97.7 420.4h0.7M94.5 397.8h0.7M76.9 424.7h0.7M90.7 397.8h0.7M88.7 409.5h0.7M61.7 411.9h0.7M89.6 426.8h0.7M99.8 375.6h0.7M65.6 405.2h0.7M124.9 408.8h0.7M93.9 402.2h0.7M73.8 430.9h0.7M89.3 383.8h0.7M78.2 374.9h0.7M79.9 423.8h0.7M75.2 380.8h0.7M77.4 421.7h0.7M54.6 410.9h0.7M78.5 381.9h0.7M70.2 390.8h0.7M51.9 410.9h0.7M70.0 383.1h0.7M45.5 420.1h0.7M75.4 429.3h0.7M91.0 403.5h0.7M74.8 384.4h0.7M98.7 421.0h0.7M121.4 427.0h0.7M71.2 431.3h0.7M89.7 398.7h0.7M96.5 422.7h0.7M90.0 422.3h0.7M54.6 406.3h0.7M121.8 428.1h0.7M66.2 400.6h0.7M98.6 383.1h0.7M80.3 421.8h0.7M40.7 430.7h0.7M124.9 427.5h0.7M76.0 382.3h0.7M46.3 418.9h0.7M104.8 410.1h0.7M85.7 414.0h0.7M94.9 391.5h0.7M109.6 404.3h0.7M84.7 380.2h0.7M96.1 431.5h0.7M90.8 385.8h0.7M55.3 412.9h0.7M96.1 414.5h0.7M100.3 398.8h0.7M55.7 400.3h0.7M97.9 399.0h0.7M94.1 429.9h0.7M61.8 397.4h0.7M118.3 411.4h0.7M79.2 428.9h0.7M73.1 428.1h0.7M42.3 426.3h0.7M67.2 402.0h0.7M39.2 429.6h0.7M39.0 420.3h0.7M92.8 381.3h0.7M94.2 422.3h0.7M90.3 403.0h0.7M80.2 424.9h0.7M98.7 401.5h0.7M115.5 412.8h0.7M69.7 393.7h0.7M44.0 416.1h0.7M74.7 384.0h0.7M101.9 400.2h0.7M43.3 430.5h0.7M106.0 408.9h0.7M90.5 399.3h0.7M118.6 424.1h0.7M88.8 412.9h0.7M44.2 425.5h0.7M56.8 386.1h0.7M57.3 404.3h0.7M85.1 416.2h0.7M91.7 397.7h0.7M87.8 383.9h0.7M75.5 383.3h0.7M117.1 431.3h0.7M123.2 426.7h0.7M41.9 422.5h0.7M85.8 383.6h0.7M111.3 405.7h0.7M91.9 379.1h0.7M80.7 427.6h0.7M46.8 415.0h0.7M63.3 408.6h0.7M93.4 395.3h0.7M52.7 410.9h0.7M102.9 406.9h0.7M77.2 382.1h0.7M72.0 367.0h0.7M71.4 382.7h0.7M53.0 414.6h0.7M87.8 409.0h0.7M47.6 428.5h0.7M47.0 416.1h0.7M88.6 411.1h0.7M74.9 381.4h0.7M51.0 395.9h0.7M90.4 420.6h0.7M73.1 383.7h0.7M119.8 420.8h0.7M42.4 396.8h0.7M125.6 416.7h0.7M115.8 415.6h0.7M109.6 405.2h0.7M97.2 406.2h0.7M77.1 429.7h0.7M74.7 369.8h0.7M86.1 419.9h0.7M56.3 401.3h0.7M84.3 424.7h0.7M110.0 404.5h0.7M94.0 425.8h0.7M92.3 395.0h0.7M116.8 374.6h0.7M41.1 413.4h0.7M83.8 380.8h0.7M46.1 427.4h0.7M103.4 404.0h0.7M76.8 376.8h0.7M48.9 411.0h0.7M76.4 380.7h0.7M114.9 403.9h0.7M94.2 426.8h0.7M47.8 414.8h0.7M68.0 398.9h0.7M73.8 432.0h0.7M97.1 400.9h0.7M110.9 407.9h0.7M90.3 402.5h0.7M78.0 424.4h0.7M54.8 402.0h0.7M92.4 396.6h0.7M121.3 406.4h0.7M44.3 422.6h0.7M66.8 431.8h0.7M83.7 423.6h0.7M65.0 398.8h0.7M109.4 389.7h0.7M63.6 409.6h0.7M116.0 414.1h0.7M54.4 394.5h0.7M101.5 399.6h0.7M95.7 422.8h0.7M101.4 417.9h0.7M72.9 431.1h0.7M52.0 432.0h0.7M121.6 419.0h0.7M98.7 396.5h0.7M118.1 431.7h0.7M48.3 429.0h0.7M56.9 410.8h0.7M107.7 368.2h0.7M41.7 418.5h0.7M98.4 431.9h0.7M50.8 413.0h0.7M44.4 425.2h0.7M68.6 431.9h0.7M75.9 423.4h0.7M124.5 425.9h0.7M100.7 418.5h0.7M73.9 380.7h0.7M44.9 427.2h0.7M37.3 419.6h0.7M88.4 376.4h0.7M41.2 418.0h0.7M109.3 397.2h0.7M73.4 384.1h0.7M89.4 385.1h0.7M72.8 379.7h0.7M100.3 387.8h0.7M66.9 405.7h0.7M76.2 426.1h0.7M50.9 405.7h0.7M53.7 405.3h0.7M53.6 411.4h0.7M73.6 431.7h0.7M90.1 394.3h0.7M89.0 390.8h0.7M107.2 380.1h0.7M108.5 406.8h0.7M88.6 420.8h0.7M89.5 399.9h0.7M56.3 402.1h0.7M44.4 417.6h0.7M116.2 403.7h0.7M107.3 396.6h0.7M79.4 380.0h0.7M78.2 427.2h0.7M80.6 422.4h0.7M74.5 427.2h0.7M95.6 389.2h0.7M49.7 403.3h0.7M88.3 425.9h0.7M53.1 397.0h0.7M99.8 392.1h0.7M92.2 403.5h0.7M60.4 407.2h0.7M75.1 424.2h0.7M83.9 376.0h0.7M77.5 376.1h0.7M57.8 385.5h0.7M94.9 425.3h0.7M90.5 408.2h0.7M115.9 412.0h0.7M71.5 387.8h0.7M93.1 407.8h0.7M64.7 399.1h0.7M91.4 428.2h0.7M50.5 407.3h0.7M87.9 387.5h0.7M75.3 426.1h0.7M93.4 428.0h0.7M95.6 426.1h0.7M71.8 429.3h0.7M48.7 399.7h0.7M96.7 405.4h0.7M90.2 420.1h0.7M47.3 409.7h0.7M119.6 427.6h0.7M92.8 416.1h0.7M120.9 420.6h0.7M77.3 429.5h0.7M86.6 376.2h0.7M61.7 397.5h0.7M37.6 421.0h0.7M125.7 425.7h0.7M91.9 425.4h0.7M90.9 375.4h0.7M97.7 421.1h0.7M96.7 411.3h0.7M98.2 411.1h0.7M115.4 365.9h0.7M113.7 409.7h0.7M88.5 408.8h0.7M43.0 427.3h0.7M82.9 381.5h0.7M108.5 368.0h0.7M59.7 412.4h0.7M96.7 411.5h0.7M78.2 376.9h0.7M80.7 379.9h0.7M76.5 427.6h0.7M89.2 424.2h0.7M88.8 416.9h0.7M40.1 411.9h0.7M80.8 419.3h0.7M46.3 415.0h0.7M51.4 431.5h0.7M63.3 392.3h0.7M85.9 412.9h0.7M52.3 390.2h0.7M76.0 421.4h0.7M90.4 395.0h0.7M102.9 405.7h0.7M47.6 430.0h0.7M73.6 426.7h0.7M62.1 399.4h0.7M66.4 431.7h0.7M50.2 413.0h0.7M98.8 393.8h0.7M83.5 419.3h0.7M38.7 414.4h0.7M50.0 415.3h0.7M118.8 424.5h0.7M52.2 401.9h0.7M61.8 398.4h0.7M54.7 411.2h0.7M89.0 411.6h0.7M57.5 410.2h0.7M66.8 409.0h0.7M66.0 407.3h0.7M50.6 391.8h0.7M92.9 401.1h0.7M55.9 409.8h0.7M46.7 427.9h0.7M109.5 389.0h0.7M64.8 391.4h0.7M66.4 389.8h0.7M52.1 414.2h0.7M53.5 411.0h0.7M116.6 420.2h0.7M86.7 415.1h0.7M69.1 430.6h0.7M68.0 432.0h0.7M70.5 389.8h0.7M70.1 393.5h0.7M81.3 430.1h0.7M85.5 419.4h0.7M94.9 392.7h0.7M94.1 431.9h0.7M110.2 406.9h0.7M41.9 426.7h0.7M35.3 407.4h0.7M100.7 419.2h0.7M93.2 378.4h0.7M65.7 407.6h0.7M70.7 430.4h0.7M109.9 406.9h0.7M45.9 421.7h0.7M88.4 347.3h0.7M90.8 397.5h0.7M61.9 390.0h0.7M55.6 413.3h0.7M67.9 392.7h0.7M94.9 390.8h0.7M122.8 370.2h0.7M102.1 411.1h0.7M114.7 397.5h0.7M106.6 398.0h0.7M91.0 410.8h0.7M84.4 378.9h0.7M108.3 403.4h0.7M89.3 393.4h0.7M72.5 385.5h0.7M90.8 413.4h0.7M81.3 428.2h0.7M52.2 405.2h0.7M112.9 405.8h0.7M60.5 406.7h0.7M71.9 387.1h0.7M48.1 411.9h0.7M44.1 406.8h0.7M57.9 410.3h0.7M90.0 402.8h0.7M124.1 406.2h0.7M75.1 383.8h0.7M95.5 422.5h0.7M74.3 371.8h0.7M40.6 415.3h0.7M97.4 417.9h0.7M71.2 387.5h0.7M83.1 380.6h0.7M98.9 410.9h0.7M109.2 408.0h0.7M57.4 411.5h0.7M87.3 411.3h0.7M97.5 431.3h0.7M126.9 429.9h0.7M69.3 392.0h0.7M41.8 419.1h0.7M90.6 420.9h0.7M52.9 403.2h0.7M126.2 427.0h0.7M58.1 411.4h0.7M113.5 405.0h0.7M85.8 422.2h0.7M83.3 381.9h0.7M93.3 377.8h0.7M37.7 419.0h0.7M89.1 404.4h0.7M97.9 420.7h0.7M79.6 428.6h0.7M108.3 379.9h0.7M66.2 407.9h0.7M111.9 402.0h0.7M65.4 405.8h0.7M61.4 401.0h0.7M67.6 387.7h0.7M85.2 415.3h0.7M72.1 381.2h0.7M90.9 381.8h0.7M90.9 412.0h0.7M97.9 417.9h0.7M103.6 414.7h0.7M102.1 406.5h0.7M79.2 421.9h0.7M42.6 420.5h0.7M89.5 418.5h0.7M56.8 404.2h0.7M95.6 402.7h0.7M95.0 425.9h0.7M67.0 408.1h0.7M44.4 412.3h0.7M117.9 418.5h0.7M63.7 409.7h0.7M39.9 416.7h0.7M68.3 389.7h0.7M93.8 393.4h0.7M75.5 423.6h0.7M79.8 420.6h0.7M40.8 428.9h0.7M90.7 397.1h0.7M118.0 408.2h0.7M89.6 404.6h0.7M43.4 419.9h0.7M85.0 414.9h0.7M67.6 387.0h0.7M79.6 377.3h0.7M98.3 410.6h0.7M46.3 429.0h0.7M72.3 387.0h0.7M99.1 398.1h0.7M74.2 379.9h0.7M102.9 412.8h0.7M44.1 413.0h0.7M71.2 390.0h0.7M69.2 389.4h0.7M88.2 386.6h0.7M48.2 431.3h0.7M84.4 380.8h0.7M45.8 413.5h0.7M107.3 405.9h0.7M62.1 403.2h0.7M66.1 403.2h0.7M94.7 403.8h0.7M69.5 387.4h0.7M89.5 406.0h0.7M87.7 412.9h0.7M84.8 381.2h0.7M89.9 399.1h0.7M118.1 413.2h0.7M116.4 362.6h0.7M93.3 427.1h0.7M93.5 381.0h0.7M105.1 398.8h0.7M66.6 407.1h0.7M87.8 412.4h0.7M48.0 431.2h0.7M41.7 431.1h0.7M78.4 422.5h0.7M41.0 419.2h0.7M118.3 423.0h0.7M74.1 426.3h0.7M86.6 424.0h0.7M69.1 397.9h0.7M85.4 381.2h0.7M103.7 407.8h0.7M74.0 429.1h0.7M101.9 417.1h0.7M87.5 430.4h0.7M101.0 415.6h0.7M115.3 382.6h0.7M93.4 417.6h0.7M72.7 379.8h0.7M78.4 421.4h0.7M52.3 406.6h0.7M49.1 411.6h0.7M125.6 422.7h0.7M41.5 425.1h0.7M64.0 397.9h0.7M78.1 381.4h0.7M67.7 403.0h0.7M91.4 400.9h0.7M75.9 382.4h0.7M99.0 390.8h0.7M117.5 414.3h0.7M87.1 383.2h0.7M122.1 422.4h0.7M55.7 406.9h0.7M72.6 371.9h0.7M90.4 414.2h0.7M55.1 384.1h0.7M90.4 384.7h0.7M100.3 394.9h0.7M68.8 392.8h0.7M86.1 431.2h0.7M82.5 419.4h0.7M91.1 427.3h0.7M70.5 381.6h0.7M96.0 422.8h0.7M53.3 411.7h0.7M70.6 386.9h0.7M117.5 417.9h0.7M83.5 416.7h0.7M90.4 393.4h0.7M68.8 430.7h0.7M100.5 418.2h0.7M60.6 404.0h0.7M52.0 413.2h0.7M77.2 369.7h0.7M91.5 414.4h0.7M118.9 417.2h0.7M50.5 414.5h0.7M75.7 424.3h0.7M103.4 414.2h0.7M63.4 408.3h0.7M49.9 414.4h0.7M90.7 393.8h0.7M87.3 418.0h0.7M99.1 398.5h0.7M115.3 410.0h0.7M56.0 403.5h0.7M91.6 417.9h0.7M115.2 407.0h0.7M67.9 398.9h0.7M114.5 410.3h0.7M50.5 415.2h0.7M81.4 423.5h0.7M88.7 388.8h0.7M83.0 374.4h0.7M93.9 400.2h0.7M90.4 378.4h0.7M72.7 427.6h0.7M82.1 421.6h0.7M52.3 400.3h0.7M47.1 428.1h0.7M79.9 380.8h0.7M46.2 428.6h0.7M68.0 405.3h0.7M101.4 416.3h0.7M75.1 429.3h0.7M118.0 419.1h0.7M77.6 421.5h0.7M68.3 388.9h0.7M45.3 411.6h0.7M52.7 402.3h0.7M76.4 376.1h0.7M89.2 418.1h0.7M70.0 429.1h0.7M45.1 414.9h0.7M82.2 378.5h0.7M49.5 403.9h0.7M91.5 404.2h0.7M112.2 403.1h0.7M60.1 412.0h0.7M46.1 424.9h0.7M84.6 420.1h0.7M118.8 419.9h0.7M79.6 379.0h0.7M51.1 410.6h0.7M89.9 406.7h0.7M36.6 425.1h0.7M71.8 386.9h0.7M62.8 405.8h0.7M41.8 423.2h0.7M104.6 410.5h0.7M88.5 424.3h0.7M41.6 414.6h0.7M61.2 399.0h0.7M55.5 413.5h0.7M115.0 406.3h0.7M84.8 415.2h0.7M109.0 401.2h0.7M80.0 431.3h0.7M89.7 397.4h0.7M92.4 425.6h0.7M94.9 387.3h0.7M72.0 430.9h0.7M46.3 425.3h0.7M117.5 422.4h0.7M95.0 428.4h0.7M85.2 365.3h0.7M86.9 377.9h0.7M106.2 385.9h0.7M108.9 405.8h0.7M109.1 401.7h0.7M63.7 400.5h0.7M55.1 393.5h0.7M93.3 417.9h0.7M79.4 381.2h0.7M93.5 421.8h0.7M87.6 412.5h0.7M118.3 420.5h0.7M92.3 361.7h0.7M120.4 411.0h0.7M116.9 419.7h0.7M98.8 412.0h0.7M102.3 411.1h0.7M111.1 404.0h0.7M74.2 428.2h0.7M89.5 393.1h0.7M77.0 421.8h0.7M64.0 392.7h0.7M75.6 426.4h0.7M42.6 424.3h0.7M67.5 392.4h0.7M70.3 380.9h0.7M93.6 405.0h0.7M46.2 421.5h0.7M90.4 404.6h0.7M95.1 402.2h0.7M41.4 425.9h0.7M76.9 424.5h0.7M80.8 421.0h0.7M64.4 405.4h0.7M70.1 386.4h0.7M55.3 393.5h0.7M88.1 412.5h0.7M67.0 395.4h0.7M110.5 395.6h0.7M94.0 390.3h0.7M77.3 428.5h0.7M45.1 426.0h0.7M67.5 393.6h0.7M49.0 415.1h0.7M66.3 405.0h0.7M121.7 419.1h0.7M115.9 414.2h0.7M66.1 407.6h0.7M66.9 401.7h0.7M103.9 413.6h0.7M109.4 398.4h0.7M78.0 375.8h0.7M65.7 391.7h0.7M51.8 413.3h0.7M101.8 387.3h0.7M71.1 388.5h0.7M116.3 404.0h0.7M64.0 407.0h0.7M108.0 405.3h0.7M101.2 390.0h0.7M105.2 399.9h0.7M89.3 403.9h0.7M83.5 422.5h0.7M96.9 422.9h0.7M70.1 382.6h0.7M80.3 427.1h0.7M118.5 422.0h0.7M72.4 382.3h0.7M41.9 414.8h0.7M56.7 411.8h0.7M63.4 409.1h0.7M80.6 424.6h0.7M62.1 376.7h0.7M40.5 431.9h0.7M93.8 417.0h0.7M43.7 413.8h0.7M126.6 414.3h0.7M66.7 404.3h0.7M47.8 408.1h0.7M74.4 378.9h0.7M95.6 404.7h0.7M96.7 423.4h0.7M121.2 423.5h0.7M85.9 383.0h0.7M57.1 408.9h0.7M71.4 388.4h0.7M81.8 378.2h0.7M95.4 389.8h0.7M68.4 395.9h0.7M93.2 385.1h0.7M68.2 394.7h0.7M104.9 401.5h0.7M98.5 420.8h0.7M65.1 407.8h0.7M101.1 401.3h0.7M48.2 430.2h0.7M72.1 385.4h0.7M45.3 426.1h0.7M60.4 400.3h0.7M117.0 417.0h0.7M40.9 404.7h0.7M75.3 427.9h0.7M91.7 395.1h0.7M73.2 429.5h0.7M45.1 423.3h0.7M118.8 402.2h0.7M109.1 377.7h0.7M38.5 426.2h0.7M46.8 412.0h0.7M91.7 381.0h0.7M43.0 423.8h0.7M85.6 414.7h0.7M97.7 394.2h0.7M117.6 415.7h0.7M89.6 403.6h0.7M76.0 373.2h0.7M117.4 419.2h0.7M75.9 421.6h0.7M119.7 424.8h0.7M71.0 429.3h0.7M46.2 421.0h0.7M86.8 376.3h0.7M62.5 410.5h0.7M78.5 374.5h0.7M80.3 379.6h0.7M94.9 425.0h0.7M53.3 408.2h0.7M88.8 406.0h0.7M58.1 406.8h0.7M91.4 394.3h0.7M95.3 426.1h0.7M73.4 426.1h0.7M118.3 430.9h0.7M56.3 408.1h0.7M47.8 417.6h0.7M52.9 382.1h0.7M85.5 421.8h0.7M89.3 403.1h0.7M46.5 415.0h0.7M80.6 422.5h0.7M117.1 416.1h0.7M89.7 394.2h0.7M40.7 432.0h0.7M45.7 417.3h0.7M89.8 392.9h0.7M107.1 397.8h0.7M92.1 412.6h0.7M85.6 419.7h0.7M91.6 426.1h0.7M123.1 376.5h0.7M60.1 411.7h0.7M98.6 419.7h0.7M60.4 383.0h0.7M90.6 413.3h0.7M96.1 410.3h0.7M88.3 372.3h0.7M48.6 411.9h0.7M47.1 427.0h0.7M46.8 414.7h0.7M86.2 384.3h0.7M95.2 413.4h0.7M117.6 417.5h0.7M54.2 393.1h0.7M103.9 396.5h0.7M90.9 390.5h0.7M59.3 404.8h0.7M55.2 408.1h0.7M92.3 397.4h0.7M56.5 408.4h0.7M88.6 420.7h0.7M77.6 423.4h0.7M80.9 420.1h0.7M42.0 421.0h0.7M43.5 428.2h0.7M69.1 398.8h0.7M91.7 396.6h0.7M90.1 428.5h0.7M87.7 423.2h0.7M101.3 418.7h0.7M68.2 392.2h0.7M52.2 432.1h0.7M92.7 390.7h0.7M107.6 408.1h0.7M123.6 387.7h0.7M50.9 409.2h0.7M117.9 429.9h0.7M42.3 422.8h0.7M56.7 412.0h0.7M42.3 428.4h0.7M58.9 402.7h0.7M44.8 421.0h0.7M108.3 386.4h0.7M81.7 420.4h0.7M91.3 406.6h0.7M35.3 385.9h0.7M87.3 411.0h0.7M75.0 427.6h0.7M59.3 412.6h0.7M116.8 420.4h0.7M50.6 412.9h0.7M94.9 396.7h0.7M94.4 380.1h0.7M63.6 409.5h0.7M77.3 382.2h0.7M118.7 401.2h0.7M120.4 420.8h0.7M40.1 402.8h0.7M97.9 415.3h0.7M68.0 396.5h0.7M53.6 410.8h0.7M89.9 404.9h0.7M92.9 407.7h0.7M80.1 426.1h0.7M74.4 383.9h0.7M62.3 402.2h0.7M78.0 423.7h0.7M97.1 385.9h0.7M45.7 419.6h0.7M105.9 409.3h0.7M74.3 431.1h0.7M90.7 418.4h0.7M75.1 384.1h0.7M69.6 390.6h0.7M40.8 422.8h0.7M83.5 422.1h0.7M91.9 404.4h0.7M78.0 382.2h0.7M71.9 383.1h0.7M80.4 430.2h0.7M69.3 397.8h0.7M107.5 401.9h0.7M89.4 409.5h0.7M85.6 383.8h0.7M45.9 422.1h0.7M98.0 383.7h0.7M89.3 420.1h0.7M76.7 379.0h0.7M61.4 411.3h0.7M93.7 368.0h0.7M65.4 403.3h0.7M90.3 430.5h0.7M92.6 392.3h0.7M92.7 388.1h0.7M77.5 423.0h0.7M105.8 409.3h0.7M125.7 420.9h0.7M40.2 426.6h0.7M93.5 422.6h0.7M36.8 415.2h0.7M85.1 382.3h0.7M121.7 430.4h0.7M56.3 405.0h0.7M119.8 421.1h0.7M48.5 430.5h0.7M85.2 418.3h0.7M95.0 417.1h0.7M73.2 383.3h0.7M87.7 387.3h0.7M88.6 407.8h0.7M80.6 376.0h0.7M90.5 406.6h0.7M57.6 379.8h0.7M92.7 413.0h0.7M110.1 406.2h0.7M104.5 411.9h0.7M39.2 419.2h0.7M64.3 396.5h0.7M58.1 412.9h0.7M68.6 390.5h0.7M117.4 379.6h0.7M96.3 409.5h0.7M54.7 412.1h0.7M118.6 410.4h0.7M76.4 425.2h0.7M65.2 409.6h0.7M66.7 431.3h0.7M114.7 404.5h0.7M38.9 424.9h0.7M37.8 417.5h0.7M43.1 431.5h0.7M115.8 407.9h0.7M98.0 402.1h0.7M46.4 417.2h0.7M70.7 387.2h0.7M36.2 431.4h0.7M105.2 408.5h0.7M90.7 423.0h0.7M104.3 413.8h0.7M44.2 420.2h0.7M93.9 374.2h0.7M120.3 412.9h0.7M97.1 420.0h0.7M48.0 409.6h0.7M91.2 385.8h0.7M73.2 385.8h0.7M86.8 414.4h0.7M85.3 383.2h0.7M86.9 369.5h0.7M87.5 381.3h0.7M69.5 429.7h0.7M95.1 413.3h0.7M67.3 402.2h0.7M43.1 390.8h0.7M38.0 429.2h0.7M96.4 413.5h0.7M50.1 404.8h0.7M78.4 381.0h0.7M44.3 424.8h0.7M51.6 405.1h0.7M54.6 404.8h0.7M56.8 410.1h0.7M47.0 380.0h0.7M81.6 420.0h0.7M76.7 382.3h0.7M39.1 427.0h0.7M73.2 386.0h0.7M86.3 383.9h0.7M95.1 351.2h0.7M114.7 408.7h0.7M73.0 427.7h0.7M92.4 406.2h0.7M68.5 430.5h0.7M69.4 388.4h0.7M53.3 392.8h0.7M81.5 381.3h0.7M95.4 426.5h0.7M56.7 403.5h0.7M45.1 422.6h0.7M78.7 421.8h0.7M77.1 426.7h0.7M65.0 401.0h0.7M79.5 419.9h0.7M89.9 425.4h0.7M72.3 381.1h0.7M92.5 406.5h0.7M84.9 416.9h0.7M88.4 378.2h0.7M90.0 408.5h0.7M124.6 430.2h0.7M67.2 388.6h0.7M59.5 388.4h0.7M121.8 426.2h0.7M98.9 420.4h0.7M101.7 409.3h0.7M85.4 416.7h0.7M114.9 411.3h0.7M77.7 368.8h0.7M94.6 426.6h0.7M71.9 384.7h0.7M80.2 422.2h0.7M90.7 392.1h0.7M70.8 391.4h0.7M80.0 372.4h0.7M79.7 374.8h0.7M68.1 431.5h0.7M85.8 378.9h0.7M105.5 401.9h0.7M101.4 404.6h0.7M76.3 421.2h0.7M60.0 397.1h0.7M87.4 413.7h0.7M65.3 399.2h0.7M40.3 425.5h0.7M94.4 395.6h0.7M113.3 408.5h0.7M90.5 395.4h0.7M55.1 413.8h0.7M91.9 385.8h0.7M83.9 424.8h0.7M43.3 423.0h0.7M68.0 401.9h0.7M103.6 414.3h0.7M35.3 407.7h0.7M65.7 402.0h0.7M72.3 387.7h0.7M94.4 394.1h0.7M56.4 390.4h0.7M88.8 414.5h0.7M58.2 410.8h0.7M99.5 404.3h0.7M98.6 420.9h0.7M66.2 409.9h0.7M46.5 416.3h0.7M80.6 423.0h0.7M42.5 427.3h0.7M108.5 406.1h0.7M45.6 420.0h0.7M91.4 397.5h0.7M44.1 416.3h0.7M54.4 413.7h0.7M102.2 384.6h0.7M53.2 411.4h0.7M127.3 404.3h0.7M62.0 406.8h0.7M97.8 420.9h0.7M121.5 395.2h0.7M106.2 402.8h0.7M88.1 386.0h0.7M103.6 400.7h0.7M43.7 419.2h0.7M118.9 422.3h0.7M86.2 425.5h0.7M38.7 421.5h0.7M98.8 381.7h0.7M51.3 414.3h0.7M99.0 404.7h0.7M99.6 417.1h0.7M66.7 396.7h0.7M91.0 408.8h0.7M46.2 422.5h0.7M58.4 408.7h0.7M67.0 389.6h0.7M53.9 410.9h0.7M78.1 381.3h0.7M53.7 412.4h0.7M117.0 421.0h0.7M103.5 381.8h0.7M120.0 400.9h0.7M86.6 385.2h0.7M82.7 418.1h0.7M73.1 425.9h0.7M104.9 370.2h0.7M75.3 430.6h0.7M99.1 411.8h0.7M48.1 431.3h0.7M41.1 416.2h0.7M87.1 415.8h0.7M73.0 426.9h0.7M45.2 426.5h0.7M84.5 381.2h0.7M98.0 409.8h0.7M86.9 411.6h0.7M93.8 401.0h0.7M74.8 376.8h0.7M95.3 429.6h0.7M58.0 412.5h0.7M50.1 430.8h0.7M94.0 415.8h0.7M69.9 392.5h0.7M93.1 380.0h0.7M89.8 403.1h0.7M84.4 416.9h0.7M67.8 388.0h0.7M73.1 385.8h0.7M74.0 431.8h0.7M102.8 413.9h0.7M45.7 416.5h0.7M95.5 390.0h0.7M79.0 379.4h0.7M87.1 378.8h0.7M118.0 429.9h0.7M117.2 411.2h0.7M112.9 392.7h0.7M65.8 386.8h0.7M84.4 417.2h0.7M59.2 411.1h0.7M51.3 404.9h0.7M45.5 422.0h0.7M88.5 386.3h0.7M71.0 428.6h0.7M82.5 426.1h0.7M98.0 374.3h0.7M69.5 390.5h0.7M103.1 366.1h0.7M86.9 412.3h0.7M93.9 425.2h0.7M91.3 430.1h0.7M79.9 431.1h0.7M110.4 404.3h0.7M93.8 415.8h0.7M121.2 430.8h0.7M87.7 411.0h0.7M41.2 423.6h0.7M106.0 406.8h0.7M41.5 430.2h0.7"/>
<path d="M56.4 433.1 54.0 432.4 50.8 431.1 49.2 429.9 47.6 427.9 46.8 426.1 46.4 424.1 46.4 422.9 46.8 420.6 47.3 418.9 47.8 418.1 48.8 417.3 51.8 415.9 55.0 414.0 58.0 413.0 60.8 412.4 63.2 411.4 65.1 410.9 66.0 410.4 66.7 409.9 67.4 408.9 67.8 407.9 68.7 401.9 70.1 394.4 71.0 390.9 72.0 388.9 75.0 384.5 75.8 383.6 76.8 382.9 78.8 382.0 80.2 381.6 81.5 381.6 83.0 382.0 84.0 382.6 85.1 383.6 86.3 385.1 87.3 386.6 88.0 388.4 88.6 389.9 89.5 394.9 89.6 396.1 89.4 398.4 89.5 400.9 89.4 402.1 87.9 408.1 87.1 410.4 85.6 412.9 84.4 415.4 83.7 416.4 83.0 417.0 81.0 418.4 79.0 419.9 78.2 420.2 76.5 420.5 75.8 421.0 75.3 421.9 74.6 423.6 74.2 424.4 72.4 426.4 70.2 428.5 66.2 431.2 65.2 431.8 64.2 432.1 59.6 433.1M101.7 433.1 99.8 432.3 98.5 431.5 97.5 430.8 96.6 429.9 96.1 428.9 95.8 427.9 95.7 426.6 95.9 425.6 96.4 424.6 98.0 422.8 98.8 422.1 101.0 420.4 102.0 419.2 102.6 418.1 103.6 415.6 106.0 411.4 106.8 410.2 107.5 409.4 108.5 408.7 109.5 408.4 110.5 408.3 111.8 408.4 112.8 408.9 113.7 409.9 114.6 411.4 115.1 412.6 115.4 414.1 115.7 415.9 115.9 418.9 116.2 420.1 116.8 421.6 118.4 424.4 118.8 425.6 118.8 426.6 118.6 427.9 118.0 429.4 117.2 430.6 116.5 431.4 115.5 432.2 114.5 432.7 113.2 433.1" fill="#fff" stroke="#222" stroke-width="1.0"/>
<path d="M78.0 413.9 76.2 414.0 75.8 413.9 75.2 413.5 74.8 412.9 71.5 406.6 71.2 405.6 71.2 404.6 71.7 397.6 72.0 395.1 72.6 393.1 73.6 390.6 74.8 388.6 76.6 386.4 77.8 385.3 78.5 385.0 79.2 384.8 80.8 384.8 82.2 385.1 83.5 386.0 84.5 387.3 85.7 389.1 86.1 390.1 87.2 394.1 87.4 395.6 87.4 396.9 87.1 401.4 86.7 403.9 86.1 406.1 85.1 408.6 84.2 410.1 82.5 412.2 81.5 413.0 80.2 413.5 78.0 413.9ZM107.2 432.6 105.8 432.5 104.2 432.2 102.2 431.5 100.8 430.7 99.7 429.9 98.8 428.9 98.4 427.9 98.4 426.6 98.8 425.4 99.7 424.1 100.8 423.1 103.0 421.4 104.1 420.1 104.6 419.1 105.7 415.9 106.7 413.9 107.5 412.6 108.2 411.8 109.0 411.4 109.8 411.2 110.8 411.2 111.5 411.5 112.2 412.1 112.8 412.8 113.1 413.6 113.5 415.1 114.1 420.9 114.5 421.9 116.1 425.1 116.4 426.1 116.3 427.1 116.1 428.1 115.5 429.1 114.8 430.0 113.8 430.7 112.2 431.5 110.2 432.1 108.8 432.5 107.2 432.6ZM58.5 430.1 56.8 430.2 56.0 430.0 55.0 429.5 52.8 428.0 51.7 427.1 50.6 425.9 49.9 424.6 49.6 423.9 49.5 423.1 49.8 421.6 50.1 420.9 50.6 420.1 51.6 419.1 54.5 417.1 55.8 416.4 57.2 416.0 60.0 415.7 62.0 415.2 63.0 415.2 67.8 416.2 68.5 416.6 68.9 417.4 69.2 419.1 69.8 421.1 69.9 421.9 69.8 422.6 69.6 423.6 68.6 425.4 66.5 427.6 65.5 428.4 64.8 428.8 62.8 429.4 58.5 430.1ZM79.5 411.6 78.0 411.6 77.3 411.4 76.8 411.0 75.5 409.7 73.3 406.6 72.9 405.6 72.7 404.6 72.7 399.6 72.8 396.9 73.1 395.1 73.8 393.4 75.4 390.1 76.4 388.9 78.0 387.4 79.0 386.8 80.0 386.7 81.2 386.9 82.2 387.4 83.2 388.3 84.5 389.9 85.2 391.1 85.9 393.4 86.3 395.1 86.4 396.6 85.8 402.6 85.3 404.6 84.6 406.4 83.4 408.6 82.3 410.1 81.0 411.1 79.5 411.6ZM108.5 431.6 107.0 431.7 105.2 431.5 103.5 431.0 102.2 430.4 101.2 429.7 100.5 428.9 100.0 427.9 99.9 426.9 100.1 425.9 101.0 424.6 102.0 423.6 104.3 421.9 105.4 420.6 105.8 419.6 106.6 416.4 107.8 414.1 108.5 413.4 109.0 413.0 109.5 412.8 110.2 412.7 110.8 412.9 111.2 413.2 111.7 413.9 112.0 414.5 112.6 417.4 113.0 421.4 113.4 422.4 114.8 424.9 115.0 425.9 115.1 426.6 114.9 427.4 114.6 428.1 114.0 428.9 113.2 429.5 112.2 430.2 110.8 431.0 108.5 431.6ZM58.5 428.6 57.0 428.5 55.5 428.0 54.0 427.1 52.8 425.9 51.9 424.1 51.6 422.9 51.8 421.6 52.5 420.4 53.5 419.3 55.0 418.3 56.8 417.5 58.2 417.2 60.8 416.9 62.0 417.0 63.0 417.2 66.2 418.5 66.7 419.1 67.2 420.4 67.6 422.1 67.5 423.6 67.2 424.4 66.7 425.1 65.2 426.5 63.5 427.5 61.2 428.2 58.5 428.6ZM79.8 409.4 78.8 409.4 77.5 408.9 76.0 407.6 74.8 406.1 74.3 405.1 74.1 404.1 73.7 401.1 73.7 399.4 73.8 397.1 74.1 395.6 74.9 393.9 75.8 392.1 76.8 390.8 77.8 389.8 79.0 389.1 80.0 388.9 81.0 389.1 82.0 389.6 83.0 390.3 83.8 391.2 84.4 392.4 84.9 393.9 85.2 395.4 85.3 396.6 84.7 401.9 84.4 403.1 83.9 404.6 83.1 406.1 81.5 408.3 80.8 409.0 79.8 409.4ZM107.2 430.9 106.0 430.8 104.8 430.5 103.8 430.2 102.8 429.6 102.0 428.9 101.6 428.1 101.4 427.4 101.4 426.6 101.8 425.6 102.6 424.6 103.8 423.7 105.8 422.4 106.6 421.6 107.0 420.8 107.4 417.9 107.9 416.4 108.3 415.6 109.0 414.9 109.5 414.7 110.0 414.7 110.5 415.0 110.8 415.3 111.3 416.6 111.7 418.6 111.7 421.9 112.0 422.6 113.1 424.1 113.5 424.9 113.7 425.6 113.7 426.6 113.4 427.4 112.8 428.1 111.2 429.4 110.2 430.1 109.2 430.5 108.2 430.8 107.2 430.9ZM59.5 427.1 58.2 427.1 57.0 426.9 55.8 426.5 54.8 425.9 54.1 425.1 53.6 424.1 53.3 423.1 53.4 422.1 53.8 421.1 54.4 420.4 55.2 419.7 56.2 419.2 57.5 418.8 59.0 418.4 60.5 418.3 61.8 418.5 62.5 418.7 63.5 419.3 64.2 419.9 64.6 420.4 65.1 421.1 65.4 422.1 65.5 422.9 65.4 423.6 65.0 424.4 64.6 424.9 63.4 425.9 61.5 426.7 59.5 427.1ZM79.5 407.2 78.8 407.2 77.8 406.8 76.8 406.0 76.0 405.0 75.5 403.9 75.1 402.4 74.8 400.4 74.7 398.9 74.9 397.4 75.2 395.9 75.7 394.6 76.5 393.4 77.5 392.2 78.5 391.5 79.5 391.0 80.2 391.0 81.2 391.2 82.0 391.6 82.5 392.1 83.1 392.9 83.6 393.9 83.9 394.9 84.1 396.1 84.1 397.4 83.7 401.1 83.4 402.4 82.9 403.6 82.4 404.6 81.5 405.7 80.5 406.6 79.5 407.2ZM109.5 420.6 109.0 420.6 108.8 420.3 108.4 419.6 108.3 418.9 108.4 418.1 108.7 417.4 109.0 416.9 109.5 416.7 110.0 416.8 110.2 417.2 110.5 417.9 110.6 418.6 110.5 419.4 110.2 420.0 110.0 420.3 109.5 420.6ZM60.0 425.6 58.8 425.8 57.8 425.7 56.5 425.2 55.7 424.6 55.2 423.9 55.0 422.9 55.2 422.1 55.8 421.4 56.5 420.8 57.5 420.4 58.8 420.0 59.8 419.9 61.2 420.0 62.0 420.4 62.5 420.8 62.9 421.4 63.2 422.1 63.2 422.9 63.0 423.6 62.5 424.4 61.9 424.9 61.0 425.3 60.0 425.6ZM108.2 429.9 107.2 430.1 106.2 430.0 105.2 429.8 104.5 429.5 103.8 429.0 103.1 428.4 102.8 427.6 102.7 426.9 102.9 426.1 103.2 425.6 103.9 424.9 104.8 424.2 105.8 423.7 106.8 423.4 108.0 423.1 109.0 423.1 110.2 423.5 111.5 424.3 112.0 425.1 112.2 426.1 111.9 427.1 111.1 428.1 109.8 429.2 108.2 429.9ZM79.2 404.9 78.5 404.7 78.0 404.5 77.5 404.0 77.0 403.3 76.5 402.1 76.0 400.6 75.8 399.4 75.9 398.4 76.1 397.1 76.4 396.1 77.2 394.5 78.0 393.7 78.8 393.2 79.5 393.0 80.2 392.9 81.0 393.1 81.5 393.4 82.0 393.9 82.4 394.6 82.9 396.4 82.9 398.4 82.5 401.1 81.8 403.0 81.2 403.7 80.5 404.4 80.0 404.7 79.2 404.9ZM59.8 423.9 58.8 424.0 58.0 423.7 57.8 423.5 57.6 423.1 57.8 422.6 58.4 422.1 59.0 421.9 59.8 421.8 60.5 422.1 60.8 422.6 60.7 423.1 60.3 423.6 59.8 423.9ZM107.0 429.4 105.8 429.2 105.1 428.9 104.5 428.4 104.1 427.9 104.0 427.4 103.9 426.9 104.2 426.1 104.5 425.6 105.1 425.1 105.8 424.7 106.5 424.5 107.2 424.4 108.2 424.4 109.8 424.9 110.3 425.4 110.7 426.1 110.7 426.6 110.3 427.4 109.7 428.1 108.8 428.8 107.8 429.2 107.0 429.4ZM79.8 402.2 79.2 402.2 78.8 401.9 78.0 401.2 77.3 399.9 77.1 399.1 77.1 398.4 77.3 397.1 78.0 395.9 79.0 395.1 80.0 394.9 80.8 395.1 81.2 395.6 81.6 396.6 81.8 397.9 81.6 399.4 81.1 400.9 80.5 401.8 79.8 402.2ZM107.5 428.6 106.8 428.7 106.0 428.5 105.4 428.1 105.1 427.6 104.9 426.9 105.1 426.4 105.5 425.8 106.2 425.4 107.0 425.2 108.0 425.3 108.8 425.7 109.3 426.4 109.3 426.9 109.0 427.6 108.2 428.2 107.5 428.6Z" fill="none" stroke="#222" stroke-width="0.6"/>
<path stroke="#1a1a1a" stroke-opacity="0.9" stroke-width="0.7" d="M223.8 415.0h0.7M215.8 347.9h0.7M253.3 410.3h0.7M238.7 356.3h0.7M217.1 385.6h0.7M216.8 368.6h0.7M236.0 400.3h0.7M230.2 369.9h0.7M252.4 427.3h0.7M225.3 347.0h0.7M230.4 416.3h0.7M239.7 393.7h0.7M223.3 382.8h0.7M242.3 397.9h0.7M250.6 421.9h0.7M214.7 347.0h0.7M216.9 373.1h0.7M249.4 424.5h0.7M229.2 372.7h0.7M225.3 386.2h0.7M213.3 365.3h0.7M219.0 348.0h0.7M261.7 417.0h0.7M229.7 355.9h0.7M207.6 372.4h0.7M233.1 393.6h0.7M222.1 383.7h0.7M215.5 341.7h0.7M228.8 351.9h0.7M246.9 429.9h0.7M253.2 411.8h0.7M246.5 400.7h0.7M254.3 400.5h0.7M228.0 385.5h0.7M225.3 388.6h0.7M227.2 419.6h0.7M246.8 398.8h0.7M224.7 346.1h0.7M222.1 346.4h0.7M225.8 388.8h0.7M250.0 422.3h0.7M251.4 418.8h0.7M248.1 401.5h0.7M253.6 408.0h0.7M246.9 431.3h0.7M255.4 402.5h0.7M254.2 416.0h0.7M230.9 422.0h0.7M230.9 362.2h0.7M255.0 417.6h0.7M217.0 376.9h0.7M255.2 401.3h0.7M240.1 424.8h0.7M230.5 417.4h0.7M228.9 355.1h0.7M222.4 346.6h0.7M232.4 398.2h0.7M247.0 431.7h0.7M229.7 380.1h0.7M231.4 425.9h0.7M249.9 423.1h0.7M229.2 372.0h0.7M251.1 427.5h0.7M230.0 417.2h0.7M231.6 382.5h0.7M248.5 430.5h0.7M234.7 398.1h0.7M236.9 430.2h0.7M224.7 345.7h0.7M229.1 343.5h0.7M229.2 347.2h0.7M254.0 412.8h0.7M256.7 420.2h0.7M248.1 426.8h0.7M228.8 374.3h0.7M215.6 356.8h0.7M231.5 355.7h0.7M237.1 426.3h0.7M253.8 412.6h0.7M232.8 422.4h0.7M233.3 367.0h0.7M248.5 397.0h0.7M227.4 400.8h0.7M234.2 402.1h0.7M219.9 345.5h0.7M251.9 410.8h0.7M251.0 405.8h0.7M250.3 391.9h0.7M222.4 380.2h0.7M247.9 397.9h0.7M245.6 397.2h0.7M215.0 354.8h0.7M212.3 352.9h0.7M232.5 420.7h0.7M237.0 423.1h0.7M254.5 411.0h0.7M219.6 383.1h0.7M230.0 380.2h0.7M230.6 351.8h0.7M212.7 357.0h0.7M229.5 361.6h0.7M218.0 349.7h0.7M223.3 347.4h0.7M251.3 431.2h0.7M215.2 363.1h0.7M229.2 373.7h0.7M220.1 375.9h0.7M232.4 393.7h0.7M228.4 392.3h0.7M232.0 418.2h0.7M233.6 396.6h0.7M246.0 428.0h0.7M229.3 377.5h0.7M230.9 363.1h0.7M215.2 369.3h0.7M215.3 400.5h0.7M229.6 350.0h0.7M227.7 384.5h0.7M245.7 398.7h0.7M251.8 401.8h0.7M229.7 360.9h0.7M230.4 350.5h0.7M257.4 383.1h0.7M223.7 348.2h0.7M228.4 351.0h0.7M252.5 413.9h0.7M232.8 402.7h0.7M221.7 380.5h0.7M225.9 387.7h0.7M250.9 427.6h0.7M249.3 399.2h0.7M220.5 341.4h0.7M244.1 427.2h0.7M234.0 424.4h0.7M229.7 416.3h0.7M239.6 399.1h0.7M219.9 348.2h0.7M229.5 423.4h0.7M254.2 414.2h0.7M219.7 376.9h0.7M211.2 370.2h0.7M252.5 410.5h0.7M216.0 368.8h0.7M239.0 392.4h0.7M241.2 430.1h0.7M250.2 422.9h0.7M213.5 371.3h0.7M250.6 402.1h0.7M220.2 379.0h0.7M229.6 413.1h0.7M242.2 399.2h0.7M254.4 415.2h0.7M254.1 404.9h0.7M229.8 358.2h0.7M216.0 364.3h0.7M248.9 396.7h0.7M230.5 369.2h0.7M229.2 382.6h0.7M254.8 415.0h0.7M252.0 401.8h0.7M252.0 408.7h0.7M227.2 416.2h0.7M248.0 427.6h0.7M242.3 426.5h0.7M224.6 386.1h0.7M223.8 413.2h0.7M229.8 358.5h0.7M250.1 425.9h0.7M238.5 383.5h0.7M241.4 383.9h0.7M224.0 400.7h0.7M242.6 382.6h0.7M240.6 391.6h0.7M235.1 385.6h0.7M225.7 392.5h0.7M227.3 399.0h0.7M230.1 401.9h0.7M235.8 378.1h0.7M221.6 385.6h0.7M226.4 387.1h0.7M231.1 384.0h0.7M223.4 389.3h0.7M229.1 394.1h0.7M231.0 394.2h0.7M228.4 393.8h0.7M234.9 379.0h0.7M237.2 387.6h0.7M230.4 387.6h0.7M239.4 395.6h0.7M228.2 390.3h0.7M232.5 381.2h0.7M228.5 381.3h0.7M232.7 396.4h0.7M226.5 386.9h0.7M229.9 396.5h0.7M238.2 397.2h0.7M226.6 396.4h0.7M232.6 383.8h0.7M224.6 395.5h0.7M232.4 391.8h0.7M227.8 393.4h0.7M231.5 384.5h0.7M234.0 390.9h0.7M218.7 384.7h0.7M233.3 379.1h0.7M234.3 389.7h0.7M239.6 389.4h0.7M235.4 394.7h0.7M226.6 389.1h0.7M219.7 383.6h0.7M230.5 379.6h0.7M248.3 385.0h0.7M229.2 399.8h0.7M231.9 390.5h0.7M233.7 392.2h0.7M231.4 395.5h0.7M234.2 393.0h0.7M232.0 385.3h0.7M232.4 385.8h0.7M232.5 380.4h0.7M234.3 386.2h0.7M227.6 395.9h0.7M231.1 391.1h0.7M231.9 402.5h0.7M231.7 388.7h0.7M237.7 399.8h0.7M240.1 379.5h0.7M224.2 392.8h0.7M237.7 385.0h0.7M245.6 386.1h0.7M227.6 392.5h0.7M238.7 385.8h0.7M224.8 391.5h0.7M224.8 386.1h0.7M247.6 385.4h0.7M232.1 383.9h0.7M224.1 385.8h0.7M237.1 395.3h0.7M230.9 385.8h0.7M223.2 385.7h0.7M223.0 384.0h0.7M232.2 379.8h0.7M227.0 384.5h0.7M240.0 397.0h0.7M240.2 395.9h0.7M226.7 396.7h0.7M232.3 381.8h0.7M234.4 396.4h0.7M231.8 392.4h0.7M223.3 396.9h0.7M230.2 388.7h0.7M239.9 381.3h0.7M233.8 384.7h0.7M224.8 395.3h0.7M231.0 391.3h0.7M237.2 388.7h0.7M233.0 385.5h0.7M225.5 385.7h0.7M236.1 378.8h0.7M226.6 393.5h0.7M237.4 394.3h0.7M236.6 382.6h0.7M225.6 399.9h0.7M226.7 386.8h0.7M230.1 390.0h0.7M231.2 380.8h0.7M241.2 388.0h0.7M223.6 388.6h0.7M238.1 396.3h0.7M235.6 386.2h0.7M230.2 392.7h0.7M228.0 387.5h0.7M224.8 390.7h0.7M222.0 388.4h0.7M231.4 394.4h0.7M232.2 398.6h0.7M229.7 393.9h0.7M231.1 382.4h0.7M234.6 395.6h0.7M221.8 384.9h0.7M229.7 390.6h0.7M237.3 380.2h0.7M232.5 400.1h0.7M229.5 397.2h0.7M228.0 390.8h0.7M227.2 392.2h0.7M228.9 401.9h0.7M231.8 389.1h0.7M228.4 389.4h0.7M227.8 393.0h0.7M221.0 398.9h0.7M228.7 392.8h0.7M244.6 387.3h0.7M233.1 388.5h0.7M246.6 393.1h0.7M228.2 386.1h0.7M240.6 388.0h0.7M233.3 392.3h0.7M226.5 392.7h0.7M235.2 387.4h0.7M234.3 393.3h0.7M241.5 387.7h0.7M223.5 398.0h0.7M238.4 392.2h0.7M234.8 398.4h0.7M228.6 390.8h0.7M236.1 397.5h0.7M231.5 389.8h0.7M219.4 384.4h0.7M241.4 386.9h0.7M230.8 382.0h0.7M230.7 389.9h0.7M225.9 395.0h0.7M232.5 391.9h0.7M226.6 396.7h0.7M230.2 401.1h0.7M234.8 395.8h0.7M242.7 392.3h0.7M235.6 387.9h0.7M229.6 371.1h0.7M232.1 385.2h0.7M222.7 393.0h0.7M225.2 392.2h0.7M231.7 394.1h0.7M243.6 394.4h0.7M229.8 376.0h0.7M223.6 390.4h0.7M228.9 394.5h0.7M229.4 399.8h0.7M234.7 392.4h0.7M239.7 378.8h0.7M232.1 392.1h0.7M222.5 397.7h0.7M233.3 381.2h0.7M228.8 389.8h0.7M223.8 384.1h0.7M222.8 382.5h0.7M232.0 381.6h0.7M233.8 393.6h0.7M240.1 398.0h0.7M237.6 390.3h0.7M245.7 391.5h0.7M235.1 382.7h0.7M228.3 397.5h0.7M232.5 394.3h0.7M222.7 386.6h0.7M240.3 387.3h0.7M223.7 390.8h0.7M224.1 387.0h0.7M241.5 386.5h0.7M226.7 390.4h0.7M232.1 384.0h0.7M238.1 381.3h0.7M231.8 398.7h0.7M239.2 387.8h0.7M229.2 394.5h0.7M220.6 390.8h0.7M226.9 390.4h0.7M226.0 395.8h0.7M238.7 390.0h0.7M230.3 388.3h0.7M224.2 391.5h0.7M242.7 392.1h0.7M226.5 396.3h0.7M229.3 394.1h0.7M245.7 391.5h0.7M235.5 391.5h0.7M226.1 395.9h0.7M227.9 386.8h0.7M235.5 379.2h0.7M231.6 391.8h0.7M231.6 394.5h0.7M240.8 399.3h0.7M236.3 383.8h0.7M230.2 386.2h0.7M239.7 382.2h0.7M235.3 388.6h0.7M236.2 393.1h0.7M235.1 395.6h0.7M232.4 394.6h0.7M238.5 391.9h0.7M227.1 401.6h0.7M242.8 394.0h0.7M238.9 399.0h0.7M230.3 415.4h0.7M227.6 392.1h0.7M242.2 380.5h0.7M234.2 393.6h0.7M227.8 392.6h0.7M219.0 393.0h0.7M228.5 390.2h0.7M240.4 388.3h0.7M233.8 390.3h0.7M219.7 386.9h0.7M226.7 384.3h0.7M228.4 396.2h0.7M235.5 387.4h0.7M232.2 391.6h0.7M236.6 388.1h0.7M234.7 387.8h0.7M235.1 389.9h0.7M231.7 388.6h0.7M233.7 384.1h0.7M220.9 382.6h0.7M237.0 396.9h0.7M224.6 396.2h0.7M226.5 384.1h0.7M217.7 398.1h0.7M236.0 387.0h0.7M229.2 387.2h0.7M233.1 386.6h0.7M237.4 392.7h0.7M238.9 383.5h0.7M235.5 381.6h0.7M240.0 385.1h0.7M239.2 394.5h0.7M241.8 386.3h0.7M228.7 391.3h0.7M225.5 395.1h0.7M230.6 383.3h0.7M231.1 381.1h0.7M241.1 393.5h0.7M231.4 398.4h0.7M231.8 394.9h0.7M228.7 389.5h0.7M227.1 383.0h0.7M232.0 386.2h0.7M226.8 399.4h0.7M234.4 388.6h0.7M233.6 380.9h0.7M237.3 390.7h0.7M234.4 394.8h0.7M232.2 379.0h0.7M230.6 398.8h0.7M241.2 385.3h0.7M231.5 386.5h0.7M236.7 398.8h0.7M228.0 388.4h0.7M230.7 392.1h0.7M230.1 380.3h0.7M236.6 384.2h0.7M235.3 397.7h0.7M241.3 358.0h0.7M251.5 369.0h0.7M248.9 385.4h0.7M242.4 355.2h0.7M248.5 359.1h0.7M238.4 374.0h0.7M234.7 384.0h0.7M234.7 380.6h0.7M249.7 387.5h0.7M250.9 367.2h0.7M252.2 369.8h0.7M238.0 390.5h0.7M242.9 365.9h0.7M239.8 355.0h0.7M237.7 362.9h0.7M240.4 349.6h0.7M233.0 354.7h0.7M241.7 384.1h0.7M243.9 359.6h0.7M235.4 382.8h0.7M243.6 377.4h0.7M230.9 359.6h0.7M233.9 382.1h0.7M244.2 354.4h0.7M244.3 365.9h0.7M242.8 376.8h0.7M243.7 362.6h0.7M247.2 365.3h0.7M240.5 354.2h0.7M246.3 371.6h0.7M243.0 366.5h0.7M249.5 383.0h0.7M245.1 355.9h0.7M251.8 365.5h0.7M240.5 374.5h0.7M247.2 363.7h0.7M250.8 372.6h0.7M252.7 374.2h0.7M240.3 380.0h0.7M242.9 390.2h0.7M239.3 355.2h0.7M236.7 373.6h0.7M251.8 389.6h0.7M241.3 367.7h0.7M251.1 363.7h0.7M235.0 359.4h0.7M242.6 366.8h0.7M241.6 369.9h0.7M233.2 377.5h0.7M248.2 367.8h0.7M238.8 376.1h0.7M238.6 379.5h0.7M245.8 346.1h0.7M239.1 366.8h0.7M248.3 362.8h0.7M249.0 358.7h0.7M234.7 387.3h0.7M245.2 373.2h0.7M247.9 373.3h0.7M237.7 374.6h0.7M241.7 352.7h0.7M245.7 363.1h0.7M241.3 392.7h0.7M254.0 377.2h0.7M251.0 381.7h0.7M256.1 386.4h0.7M237.9 360.1h0.7M238.3 381.9h0.7M247.9 386.1h0.7M240.2 354.1h0.7M245.9 345.9h0.7M233.8 383.6h0.7M248.3 353.4h0.7M240.6 371.4h0.7M243.2 387.5h0.7M248.2 360.9h0.7M243.3 355.0h0.7M245.1 364.0h0.7M246.2 374.9h0.7M240.9 391.5h0.7M242.8 380.4h0.7M241.2 371.0h0.7M239.5 373.6h0.7M244.2 375.9h0.7M246.0 387.8h0.7M240.1 388.9h0.7M244.2 355.5h0.7M237.2 386.3h0.7M247.9 378.0h0.7M244.0 387.4h0.7M247.0 357.2h0.7M241.2 359.6h0.7M239.3 367.0h0.7M237.2 377.5h0.7M240.2 387.7h0.7M245.0 363.8h0.7M250.1 372.7h0.7M246.8 382.0h0.7M243.2 381.8h0.7M251.4 363.8h0.7M243.9 373.5h0.7M239.7 381.9h0.7M244.4 380.2h0.7M241.2 361.3h0.7M240.4 363.5h0.7M252.0 384.6h0.7M240.7 348.0h0.7M252.0 370.8h0.7M247.8 364.4h0.7M245.2 394.7h0.7M243.9 376.1h0.7M248.5 375.9h0.7M235.5 375.0h0.7M240.5 382.7h0.7M247.2 383.1h0.7M237.7 369.5h0.7M246.2 370.5h0.7M243.1 394.8h0.7M245.5 392.0h0.7M253.9 366.2h0.7M242.7 354.6h0.7M243.2 378.3h0.7M248.4 377.3h0.7M244.1 360.3h0.7M240.6 394.8h0.7M239.9 380.6h0.7M238.4 381.2h0.7M245.7 381.4h0.7M234.6 368.3h0.7M243.2 351.6h0.7M242.7 371.4h0.7M240.1 378.5h0.7M242.1 374.4h0.7M242.7 384.2h0.7M252.8 372.9h0.7M245.4 369.5h0.7M242.8 384.7h0.7M244.4 352.5h0.7M236.9 376.6h0.7M240.2 350.4h0.7M247.4 380.6h0.7M236.7 387.4h0.7M241.9 376.1h0.7M241.7 376.0h0.7M246.0 364.9h0.7M235.2 346.9h0.7M246.0 390.1h0.7M240.7 369.2h0.7M234.6 356.0h0.7M241.6 376.5h0.7M246.2 363.1h0.7M243.5 364.4h0.7M241.5 360.1h0.7M245.6 374.9h0.7M232.6 376.0h0.7M252.9 378.1h0.7M237.3 369.5h0.7M239.1 363.7h0.7M235.9 375.5h0.7M249.4 368.7h0.7M248.1 370.9h0.7M240.8 355.1h0.7M242.0 370.5h0.7M243.0 383.1h0.7M247.9 378.2h0.7M247.0 389.1h0.7M242.2 354.9h0.7M251.7 384.1h0.7M237.8 374.9h0.7M248.2 366.9h0.7M236.3 376.3h0.7M242.0 382.7h0.7M241.7 393.2h0.7M239.5 370.3h0.7M239.5 366.4h0.7M241.1 364.6h0.7M238.3 358.2h0.7M237.4 382.1h0.7M248.4 372.1h0.7M241.6 374.9h0.7M236.1 389.9h0.7M241.1 385.3h0.7M245.3 363.6h0.7M244.2 358.5h0.7M241.4 371.4h0.7M244.7 388.1h0.7M239.7 364.0h0.7M248.4 378.6h0.7M238.8 380.4h0.7M252.1 357.1h0.7M238.3 365.4h0.7M245.3 361.9h0.7M241.0 390.8h0.7M239.3 366.4h0.7M235.4 380.5h0.7M240.8 395.1h0.7M236.0 373.3h0.7M242.0 376.2h0.7M247.9 367.5h0.7M210.1 377.7h0.7M206.8 371.2h0.7M213.4 361.7h0.7M211.0 365.8h0.7M209.6 350.6h0.7M209.3 361.7h0.7M208.6 375.7h0.7M211.1 367.5h0.7M209.8 355.7h0.7M210.0 380.2h0.7M208.8 364.6h0.7M211.3 364.2h0.7M211.4 367.1h0.7M208.6 375.5h0.7M211.5 377.7h0.7M211.1 368.3h0.7M212.9 368.2h0.7M210.4 354.7h0.7M213.0 361.2h0.7M208.1 371.3h0.7M212.7 378.6h0.7M211.9 359.1h0.7M207.7 345.8h0.7M209.8 376.3h0.7M209.6 370.2h0.7M211.5 362.5h0.7M206.9 360.3h0.7M209.9 353.2h0.7M210.8 353.3h0.7M209.0 360.6h0.7M207.2 379.2h0.7M211.7 345.0h0.7M212.9 353.4h0.7M211.2 348.0h0.7M211.0 362.7h0.7M210.3 358.8h0.7M208.3 370.4h0.7M211.3 346.2h0.7M212.6 366.4h0.7M208.1 375.4h0.7M210.5 357.9h0.7M210.5 352.7h0.7M210.8 360.2h0.7M209.5 372.5h0.7M213.3 359.0h0.7M209.6 379.4h0.7M211.3 365.0h0.7M211.4 353.5h0.7M212.3 373.5h0.7M209.3 343.0h0.7M215.4 366.1h0.7M210.8 370.4h0.7M211.3 343.1h0.7M209.6 369.7h0.7M206.8 374.0h0.7M212.3 373.0h0.7M211.1 365.9h0.7M211.9 361.2h0.7M213.0 348.8h0.7M211.7 371.7h0.7M211.7 361.2h0.7M212.5 355.1h0.7M211.1 356.6h0.7M212.1 349.2h0.7M209.4 350.7h0.7M210.6 357.4h0.7M211.5 357.2h0.7M210.4 359.7h0.7M212.5 362.7h0.7M210.4 352.3h0.7M208.4 354.8h0.7M214.8 370.7h0.7M210.6 371.6h0.7M212.0 353.9h0.7M210.4 365.5h0.7M210.1 359.7h0.7M207.9 372.3h0.7M212.0 356.0h0.7M212.2 376.6h0.7M207.7 369.9h0.7M210.0 345.6h0.7M210.8 350.1h0.7M217.0 344.8h0.7M206.4 352.3h0.7M211.3 381.4h0.7M211.8 368.8h0.7M209.3 366.0h0.7M208.3 372.7h0.7M208.7 377.7h0.7M209.0 365.8h0.7M211.8 377.5h0.7M212.1 368.3h0.7M210.1 363.3h0.7M212.5 366.6h0.7M212.2 357.6h0.7M208.7 379.6h0.7M210.9 357.4h0.7M213.8 357.7h0.7M246.3 429.2h0.7M254.0 430.4h0.7M255.0 428.4h0.7M254.5 422.1h0.7M248.4 426.3h0.7M250.5 427.6h0.7M251.5 429.5h0.7M254.3 420.0h0.7M253.4 415.3h0.7M259.3 424.5h0.7M243.1 425.5h0.7M255.3 422.7h0.7M258.8 430.9h0.7M259.4 425.6h0.7M252.7 423.0h0.7M256.2 422.7h0.7M249.4 429.6h0.7M252.6 426.6h0.7M246.1 428.6h0.7M255.0 428.1h0.7M252.0 422.7h0.7M255.6 428.4h0.7M251.5 429.0h0.7M257.2 423.3h0.7M253.2 421.9h0.7M255.9 430.3h0.7M248.2 426.7h0.7M253.0 414.5h0.7M255.2 428.4h0.7M252.1 421.0h0.7M247.4 428.5h0.7M238.6 427.0h0.7M251.1 426.3h0.7M252.4 427.7h0.7M256.1 430.7h0.7M255.1 427.1h0.7M253.9 426.3h0.7M252.3 424.3h0.7M254.9 416.6h0.7M254.3 423.8h0.7M245.1 432.7h0.7M256.2 429.6h0.7M250.7 424.2h0.7M250.7 424.3h0.7M235.8 433.7h0.7M252.9 424.5h0.7M255.3 431.3h0.7M242.4 430.1h0.7M251.8 426.4h0.7M257.6 430.5h0.7M245.1 429.9h0.7M252.4 425.2h0.7M260.2 425.1h0.7M255.8 426.8h0.7M255.2 427.2h0.7M256.7 418.7h0.7M246.5 431.6h0.7M248.7 427.7h0.7M259.1 424.6h0.7M252.1 419.2h0.7M256.4 425.3h0.7M253.7 430.7h0.7M229.6 420.9h0.7M252.9 422.9h0.7M253.3 422.2h0.7M254.8 425.9h0.7M226.1 398.7h0.7M228.8 397.2h0.7M231.7 395.7h0.7M215.8 399.7h0.7M222.0 391.7h0.7M220.3 391.4h0.7M222.1 395.3h0.7M229.7 402.2h0.7M226.7 392.7h0.7M227.3 395.7h0.7M227.6 396.0h0.7M224.9 397.6h0.7M222.7 398.8h0.7M228.9 394.7h0.7M221.2 387.4h0.7M224.6 387.1h0.7M222.0 401.4h0.7M230.2 391.1h0.7M221.7 401.5h0.7M223.5 397.0h0.7M221.6 397.5h0.7M224.3 396.5h0.7M226.1 399.8h0.7M222.8 395.2h0.7M220.4 398.0h0.7M222.7 398.4h0.7M228.6 394.3h0.7M219.5 398.0h0.7M225.5 395.5h0.7M216.7 394.0h0.7M222.3 390.8h0.7M230.2 390.8h0.7M227.2 398.1h0.7M228.9 397.0h0.7M223.1 398.6h0.7M224.7 391.6h0.7M229.1 400.0h0.7M227.2 397.0h0.7M223.4 396.4h0.7M222.9 393.6h0.7M227.4 394.9h0.7M226.8 400.1h0.7M219.9 403.1h0.7M223.6 396.8h0.7M229.8 391.6h0.7M232.1 389.6h0.7M228.7 396.8h0.7M222.5 393.6h0.7M228.3 396.0h0.7M224.6 399.9h0.7M227.7 390.7h0.7M221.4 390.3h0.7M223.7 398.2h0.7M226.0 396.5h0.7M224.9 395.4h0.7M225.7 391.3h0.7M231.4 397.1h0.7M222.2 400.4h0.7M221.5 394.6h0.7M223.0 401.5h0.7M230.2 388.4h0.7M227.3 393.7h0.7M218.6 397.8h0.7M223.3 394.9h0.7M221.3 397.9h0.7M231.6 400.2h0.7M221.2 394.6h0.7M218.4 394.6h0.7M227.3 391.4h0.7M225.7 393.8h0.7M221.9 397.7h0.7M226.4 397.9h0.7M222.1 398.0h0.7M227.3 397.0h0.7M228.0 398.2h0.7M229.4 400.0h0.7M227.6 398.9h0.7M227.9 397.9h0.7M223.1 398.5h0.7M224.8 389.6h0.7M226.2 395.2h0.7M220.5 399.1h0.7M223.6 398.1h0.7M226.0 397.8h0.7M219.5 392.2h0.7M225.2 396.5h0.7M222.4 390.8h0.7M219.0 399.2h0.7M223.2 398.7h0.7M223.1 385.9h0.7M231.2 396.4h0.7M231.2 395.9h0.7M224.9 397.2h0.7M231.2 399.0h0.7M232.2 389.1h0.7M223.1 396.6h0.7M224.0 391.6h0.7M223.0 397.4h0.7M227.9 398.2h0.7M223.6 390.9h0.7M222.4 392.5h0.7M227.5 399.1h0.7M224.6 392.9h0.7M230.3 399.8h0.7M231.2 393.7h0.7M218.6 399.0h0.7M219.1 398.0h0.7M232.0 400.6h0.7M218.1 387.6h0.7M222.2 399.1h0.7M228.1 395.8h0.7M221.8 400.0h0.7M222.2 393.5h0.7M224.5 396.1h0.7M233.9 396.6h0.7M221.6 389.3h0.7M222.7 399.3h0.7M224.0 391.5h0.7M225.5 394.5h0.7M227.2 396.1h0.7M224.6 390.5h0.7M219.0 394.6h0.7M227.4 393.1h0.7M220.5 388.5h0.7M227.6 395.3h0.7M232.1 400.7h0.7M226.3 396.0h0.7M215.4 392.3h0.7M227.6 396.6h0.7M223.7 392.3h0.7M223.0 401.0h0.7M219.6 406.6h0.7M223.3 396.1h0.7M225.6 394.6h0.7M221.2 399.3h0.7M225.2 392.3h0.7M226.6 397.9h0.7M238.5 390.7h0.7M224.5 397.7h0.7M235.4 425.9h0.7M248.7 430.4h0.7M254.4 399.4h0.7M253.8 416.8h0.7M229.4 378.0h0.7M250.2 428.5h0.7M252.7 417.7h0.7M240.3 397.8h0.7M236.8 395.7h0.7M234.5 376.6h0.7M224.6 412.8h0.7M253.5 414.3h0.7M238.7 399.6h0.7M221.2 402.5h0.7M253.5 407.0h0.7M213.9 367.4h0.7M228.8 353.2h0.7M215.3 358.5h0.7M220.8 382.3h0.7M233.2 400.0h0.7M222.7 399.7h0.7M251.2 402.8h0.7M251.8 410.9h0.7M230.7 372.1h0.7M256.8 408.8h0.7M228.3 380.7h0.7M228.9 418.8h0.7M219.0 344.0h0.7M218.6 401.8h0.7M229.8 392.7h0.7M230.7 375.6h0.7M225.2 412.2h0.7M248.7 428.1h0.7M216.0 375.1h0.7M251.0 396.9h0.7M223.9 384.8h0.7M225.7 384.4h0.7M221.6 397.4h0.7M220.2 411.2h0.7M237.2 398.6h0.7M232.9 425.9h0.7M218.9 405.7h0.7M247.4 428.8h0.7M244.9 429.2h0.7M219.3 407.6h0.7M251.9 408.5h0.7M237.2 432.4h0.7M245.8 427.9h0.7M245.0 395.3h0.7M214.5 355.7h0.7M227.6 385.1h0.7M219.3 388.2h0.7M249.5 393.2h0.7M251.8 399.5h0.7M220.7 378.6h0.7M252.3 421.5h0.7M234.8 429.1h0.7M216.9 407.8h0.7M245.5 396.4h0.7M220.5 403.0h0.7M249.9 396.8h0.7M227.5 384.9h0.7M234.1 423.4h0.7M226.0 413.0h0.7M247.8 397.2h0.7M217.6 401.5h0.7M231.4 357.7h0.7M216.8 376.6h0.7M230.0 364.1h0.7M238.9 429.9h0.7M216.8 369.0h0.7M227.3 383.3h0.7M255.7 411.3h0.7M219.6 378.0h0.7M236.9 423.4h0.7M245.6 432.0h0.7M228.8 373.8h0.7M218.0 348.1h0.7M223.6 388.4h0.7M220.1 413.1h0.7M237.1 423.7h0.7M242.5 397.0h0.7M252.2 412.2h0.7M238.2 423.5h0.7M252.8 403.9h0.7M230.6 362.6h0.7M215.4 355.3h0.7M220.4 422.0h0.7M242.4 431.8h0.7M226.2 385.1h0.7M226.1 413.0h0.7M250.0 426.7h0.7M246.8 398.2h0.7M249.2 397.1h0.7M228.7 349.5h0.7M220.0 378.0h0.7M253.7 423.0h0.7M232.8 419.8h0.7M236.2 399.3h0.7M251.0 404.9h0.7M251.1 417.3h0.7M229.4 359.6h0.7M219.1 342.7h0.7M237.8 423.3h0.7M228.6 378.9h0.7M210.3 362.2h0.7M241.6 424.6h0.7M252.3 416.5h0.7M230.0 417.9h0.7M229.8 359.3h0.7M248.3 427.5h0.7M244.2 396.4h0.7M214.8 355.2h0.7M253.4 416.8h0.7M225.1 384.1h0.7M212.6 415.9h0.7M232.2 396.3h0.7M225.9 384.0h0.7M249.3 426.1h0.7M262.1 423.0h0.7M217.2 408.2h0.7M225.9 349.2h0.7M215.2 363.0h0.7M227.9 393.7h0.7M229.5 415.3h0.7M252.3 431.7h0.7M248.3 429.2h0.7M233.1 400.4h0.7M231.5 362.3h0.7M229.2 412.1h0.7M233.7 377.2h0.7M251.2 420.5h0.7M228.6 401.7h0.7M222.7 381.9h0.7M253.4 391.7h0.7M228.8 353.2h0.7M219.8 410.1h0.7M227.6 383.6h0.7M235.0 422.5h0.7M233.3 363.7h0.7M251.5 423.8h0.7M252.0 421.5h0.7M236.9 397.1h0.7M215.0 369.1h0.7M240.3 398.7h0.7M233.6 422.7h0.7M229.7 377.0h0.7M226.2 413.5h0.7M232.2 429.3h0.7M230.6 397.9h0.7M224.0 383.4h0.7M238.4 394.5h0.7M221.4 380.2h0.7M232.0 366.5h0.7M252.4 412.6h0.7M222.9 413.6h0.7M241.1 425.1h0.7M234.4 422.3h0.7M223.1 387.4h0.7M230.2 421.9h0.7M228.4 398.1h0.7M239.7 425.1h0.7M221.4 386.0h0.7M233.1 429.0h0.7M223.2 411.7h0.7M224.6 411.3h0.7M218.0 370.4h0.7M244.4 390.0h0.7M249.6 427.7h0.7M235.5 396.1h0.7M213.5 363.2h0.7M229.1 364.7h0.7M217.8 399.7h0.7M223.6 345.7h0.7M242.4 395.1h0.7M232.9 419.9h0.7M230.7 417.1h0.7M242.6 392.9h0.7M224.5 347.0h0.7M226.5 400.0h0.7M250.5 421.3h0.7M252.6 429.6h0.7M229.4 351.7h0.7M229.9 414.9h0.7M246.1 428.2h0.7M242.7 426.8h0.7M242.2 398.2h0.7M220.0 375.5h0.7M239.2 399.5h0.7M249.4 425.9h0.7M257.9 408.5h0.7M229.2 373.7h0.7M222.7 412.2h0.7M219.8 401.0h0.7M215.4 362.3h0.7M252.9 408.8h0.7M242.9 392.2h0.7M246.2 399.2h0.7M215.7 370.0h0.7M215.0 363.1h0.7M228.2 388.6h0.7M231.1 362.5h0.7M230.0 359.4h0.7M227.6 401.5h0.7M251.7 420.7h0.7M226.3 397.8h0.7M236.5 424.2h0.7M229.9 373.5h0.7M216.9 346.4h0.7M250.6 428.0h0.7M246.8 400.5h0.7M245.9 392.6h0.7M219.2 375.0h0.7M253.9 411.5h0.7M218.4 380.3h0.7M244.3 426.9h0.7M229.3 353.9h0.7M233.0 400.5h0.7M239.6 432.2h0.7M223.6 413.1h0.7M222.8 347.2h0.7M225.5 346.2h0.7M214.1 363.0h0.7M228.7 400.3h0.7M228.8 374.2h0.7M228.1 387.6h0.7M218.2 372.8h0.7M222.7 401.9h0.7M230.2 382.9h0.7M229.5 413.4h0.7M220.7 398.0h0.7M249.7 402.3h0.7M221.6 380.2h0.7M235.3 400.9h0.7M237.3 423.2h0.7M251.0 432.5h0.7M228.9 420.8h0.7M249.9 432.9h0.7M226.0 346.8h0.7M211.3 354.8h0.7M224.1 386.5h0.7M222.7 381.8h0.7M220.5 377.1h0.7M223.8 400.0h0.7M217.5 410.9h0.7M237.8 423.5h0.7M232.4 403.0h0.7M233.6 421.4h0.7M231.9 355.9h0.7M227.4 385.0h0.7M232.9 358.1h0.7M215.7 356.2h0.7M229.1 369.1h0.7M222.8 380.6h0.7M249.6 402.0h0.7M250.4 394.0h0.7M242.7 397.6h0.7M222.0 396.9h0.7M248.3 400.6h0.7M215.5 352.4h0.7M209.8 352.2h0.7M232.0 373.1h0.7M212.6 363.4h0.7M250.3 404.2h0.7M227.2 390.5h0.7M232.1 361.6h0.7M228.0 397.6h0.7M229.7 367.6h0.7M255.5 410.6h0.7M219.2 405.5h0.7M214.9 359.8h0.7M233.9 422.2h0.7M213.7 358.4h0.7M230.7 374.5h0.7M247.1 398.8h0.7M228.5 397.6h0.7M230.0 373.9h0.7M235.6 427.3h0.7M217.7 381.8h0.7M262.7 398.3h0.7M230.7 365.9h0.7M220.9 396.1h0.7M251.9 408.5h0.7M224.5 346.1h0.7M223.1 387.0h0.7M230.1 417.5h0.7M252.3 412.2h0.7M250.7 424.8h0.7M238.6 427.7h0.7M217.7 345.4h0.7M251.5 404.6h0.7M220.0 412.1h0.7M229.4 360.5h0.7M225.6 398.8h0.7M250.1 427.0h0.7M250.6 420.3h0.7M250.8 424.0h0.7M244.5 399.4h0.7M227.4 387.7h0.7M257.3 410.3h0.7M239.6 399.6h0.7M254.9 411.1h0.7M251.8 415.1h0.7M244.0 398.0h0.7M225.0 424.7h0.7M232.7 400.1h0.7M216.1 375.7h0.7M247.8 398.0h0.7M229.5 355.1h0.7M228.9 377.0h0.7M215.5 354.4h0.7M244.2 426.6h0.7M242.8 429.0h0.7M230.2 360.0h0.7M219.6 407.9h0.7M231.9 373.3h0.7M224.6 399.6h0.7M220.4 382.2h0.7M255.6 403.2h0.7M220.5 376.4h0.7M222.9 385.2h0.7M243.1 399.3h0.7M252.9 408.0h0.7M225.2 385.3h0.7M253.8 429.2h0.7M245.6 395.6h0.7M244.1 432.2h0.7M236.4 382.7h0.7M232.6 397.0h0.7M229.8 374.0h0.7M242.2 396.1h0.7M255.3 412.2h0.7M234.5 362.0h0.7M229.3 357.5h0.7M252.6 410.1h0.7M215.6 366.4h0.7M217.3 348.2h0.7M217.6 370.2h0.7M259.6 396.6h0.7M230.0 372.7h0.7M229.1 348.6h0.7M232.0 418.8h0.7M228.2 417.6h0.7M216.4 349.9h0.7M214.8 359.5h0.7M238.8 423.8h0.7M230.0 381.4h0.7M228.1 397.3h0.7M230.9 361.1h0.7M245.1 395.6h0.7M231.6 418.3h0.7M251.3 430.4h0.7M254.8 413.6h0.7M229.9 390.3h0.7M247.0 429.4h0.7M218.1 373.1h0.7M263.4 407.4h0.7M238.7 395.9h0.7M231.6 401.8h0.7M220.9 378.3h0.7M229.6 392.5h0.7M247.4 427.5h0.7M220.2 404.2h0.7M248.1 430.3h0.7M231.4 399.8h0.7M233.7 399.6h0.7M230.9 419.1h0.7M229.6 356.4h0.7M247.6 427.5h0.7M235.5 426.1h0.7M229.1 356.5h0.7M221.9 379.0h0.7M216.2 352.7h0.7M249.0 402.8h0.7M233.1 385.7h0.7M220.3 346.2h0.7M232.7 401.7h0.7M223.9 415.6h0.7M217.6 379.1h0.7M214.5 373.2h0.7M224.2 347.8h0.7M229.9 368.5h0.7M222.0 380.0h0.7M251.8 409.0h0.7M237.7 423.3h0.7M215.7 363.6h0.7M218.5 347.4h0.7M223.9 411.1h0.7M229.5 373.4h0.7M230.8 356.1h0.7M229.1 413.0h0.7M217.6 374.7h0.7M223.4 346.4h0.7M212.5 364.2h0.7M215.4 359.6h0.7M217.0 405.4h0.7M223.6 383.4h0.7M223.7 401.1h0.7M221.2 396.6h0.7M233.6 355.9h0.7M215.5 367.7h0.7M226.1 384.5h0.7M237.1 394.3h0.7M247.7 397.4h0.7M254.1 412.5h0.7M244.9 397.7h0.7M251.0 397.6h0.7M253.6 416.0h0.7M244.8 430.1h0.7M217.7 370.5h0.7M248.9 432.9h0.7M219.4 402.6h0.7M234.0 367.4h0.7M248.6 399.9h0.7M254.8 405.8h0.7M218.6 348.2h0.7M224.8 418.8h0.7M232.4 421.8h0.7M231.6 369.1h0.7M255.1 404.8h0.7M218.3 370.8h0.7M231.5 423.4h0.7M215.2 364.7h0.7M235.1 400.6h0.7M232.8 402.6h0.7M229.0 356.5h0.7M235.7 391.9h0.7M232.3 422.3h0.7M228.9 415.2h0.7M230.5 402.7h0.7M232.9 400.9h0.7M228.2 346.5h0.7M233.6 421.9h0.7M216.8 351.9h0.7M216.6 345.7h0.7M223.7 348.0h0.7M221.6 411.1h0.7M227.6 343.9h0.7M222.3 415.0h0.7M220.6 402.4h0.7M226.0 417.5h0.7M224.0 397.1h0.7M229.2 352.5h0.7M223.0 344.4h0.7M217.4 348.1h0.7M218.4 403.8h0.7M246.3 428.7h0.7M244.1 427.0h0.7M250.9 421.0h0.7M241.3 399.4h0.7M219.9 347.2h0.7M247.7 427.4h0.7M229.3 360.3h0.7M260.4 417.5h0.7M230.6 358.2h0.7M219.9 403.5h0.7M250.1 426.0h0.7M214.9 365.3h0.7M224.0 398.5h0.7M217.5 350.8h0.7M223.9 400.8h0.7M236.2 397.0h0.7M218.5 389.4h0.7M211.8 362.3h0.7M214.3 343.4h0.7M232.6 430.2h0.7M221.4 410.1h0.7M252.6 425.4h0.7M251.6 406.0h0.7M246.8 427.7h0.7M253.3 405.4h0.7M249.6 403.6h0.7M231.2 356.0h0.7M246.9 398.2h0.7M252.0 432.4h0.7M249.7 402.7h0.7M229.9 415.0h0.7M234.8 361.4h0.7M219.0 378.4h0.7M238.9 423.5h0.7M220.0 401.0h0.7M214.2 372.4h0.7M235.4 422.8h0.7M231.5 388.8h0.7M212.6 361.3h0.7M238.1 351.9h0.7M241.2 397.1h0.7M240.9 395.9h0.7M231.0 386.7h0.7M237.0 423.5h0.7M247.2 400.9h0.7M250.9 419.7h0.7M220.7 411.6h0.7M223.2 410.9h0.7M216.2 369.2h0.7M220.0 407.0h0.7M231.1 375.0h0.7M231.2 398.4h0.7M248.3 401.6h0.7M218.2 349.2h0.7M224.5 384.6h0.7M218.7 402.8h0.7M233.2 359.1h0.7M237.6 398.8h0.7M249.4 424.3h0.7M230.2 402.8h0.7M250.4 399.8h0.7M252.1 411.6h0.7M223.0 413.2h0.7M229.6 352.8h0.7M224.3 411.9h0.7M213.3 346.0h0.7M219.7 408.9h0.7M251.8 417.2h0.7M249.1 425.0h0.7M223.0 416.0h0.7M217.1 378.0h0.7M251.3 429.7h0.7M218.9 372.4h0.7M253.0 412.3h0.7M225.8 349.1h0.7M214.4 354.9h0.7M229.6 363.0h0.7M241.9 427.9h0.7M215.4 362.2h0.7M226.4 417.1h0.7M221.1 377.3h0.7M218.3 404.8h0.7M216.4 367.8h0.7M237.6 428.7h0.7M211.6 357.9h0.7M246.6 429.0h0.7M216.4 353.5h0.7M252.3 400.3h0.7M232.0 427.6h0.7M230.5 378.4h0.7M221.4 419.6h0.7M227.1 383.4h0.7M215.1 364.0h0.7M211.6 362.1h0.7M224.2 345.5h0.7M229.5 362.0h0.7M232.6 400.1h0.7M242.6 398.6h0.7M220.7 375.8h0.7M224.2 383.8h0.7M238.9 423.8h0.7M231.4 401.6h0.7M240.4 424.1h0.7M217.8 369.9h0.7M235.7 391.7h0.7M228.6 351.2h0.7M241.0 399.0h0.7M228.6 421.5h0.7M237.7 399.4h0.7M230.2 413.4h0.7M214.3 355.7h0.7M240.0 391.4h0.7M250.6 426.0h0.7M236.9 427.5h0.7M229.0 350.1h0.7M223.7 412.4h0.7M251.5 404.7h0.7M223.0 413.1h0.7M258.0 410.4h0.7M228.8 383.2h0.7M253.8 419.0h0.7M214.8 359.1h0.7M236.4 422.5h0.7M226.7 384.4h0.7M230.2 367.8h0.7M238.2 397.6h0.7M240.0 429.6h0.7M228.5 380.7h0.7M236.9 397.7h0.7M231.2 381.6h0.7M247.2 427.6h0.7M229.2 413.5h0.7M253.7 410.0h0.7M249.3 425.9h0.7M241.9 432.8h0.7M226.9 399.3h0.7M239.1 397.6h0.7M252.5 420.3h0.7M231.4 402.8h0.7M252.4 403.8h0.7M250.7 420.3h0.7M221.1 381.4h0.7M226.0 347.0h0.7M214.6 357.8h0.7M217.5 349.1h0.7M224.1 411.4h0.7M233.4 423.4h0.7M244.9 399.5h0.7M253.2 404.5h0.7M228.1 351.8h0.7M224.9 414.1h0.7M227.0 412.0h0.7M249.6 427.8h0.7M234.3 425.1h0.7M219.7 410.8h0.7M261.1 423.7h0.7M254.8 412.8h0.7M230.3 400.3h0.7M217.9 373.1h0.7M249.9 427.5h0.7M249.6 400.1h0.7M253.6 401.4h0.7M229.9 413.1h0.7M241.2 396.6h0.7M224.7 400.1h0.7M232.5 401.1h0.7M236.2 396.3h0.7M231.9 420.8h0.7M218.3 373.4h0.7M241.3 396.8h0.7M219.6 419.5h0.7M253.0 407.2h0.7M218.0 373.7h0.7M229.1 374.2h0.7M232.0 426.4h0.7M216.1 371.2h0.7M256.8 422.3h0.7M234.9 428.6h0.7M219.0 402.9h0.7M246.3 396.6h0.7M217.6 404.5h0.7M229.1 382.4h0.7M226.1 423.6h0.7M230.5 370.7h0.7M230.1 357.8h0.7M239.1 396.0h0.7M252.2 415.6h0.7M246.7 428.4h0.7M250.1 403.9h0.7M224.1 415.0h0.7M216.0 352.8h0.7M210.3 360.1h0.7M245.1 428.3h0.7M224.5 345.6h0.7M228.3 400.0h0.7M223.6 398.3h0.7M224.5 345.0h0.7M232.2 401.3h0.7M223.7 348.0h0.7M218.4 419.6h0.7M232.2 402.9h0.7M228.3 411.5h0.7M248.8 427.0h0.7M228.1 351.7h0.7M235.1 429.7h0.7M229.1 380.0h0.7M251.0 423.2h0.7M221.7 410.7h0.7M225.6 387.3h0.7M226.8 385.2h0.7M225.4 343.2h0.7M231.0 402.9h0.7M253.4 403.7h0.7M227.0 413.1h0.7M250.2 404.4h0.7M228.1 382.3h0.7M231.5 417.7h0.7M214.5 360.0h0.7M239.2 424.0h0.7M251.4 405.6h0.7M221.2 409.9h0.7M231.2 351.5h0.7M229.0 371.8h0.7M230.4 402.4h0.7M239.5 399.4h0.7M215.6 353.4h0.7M214.0 366.4h0.7M219.1 374.9h0.7M224.1 412.8h0.7M226.0 388.7h0.7M246.3 429.5h0.7M227.6 414.3h0.7M222.7 381.4h0.7M227.8 348.1h0.7M220.1 385.6h0.7M230.0 361.3h0.7M218.4 371.5h0.7M256.3 408.3h0.7M221.7 400.6h0.7M225.7 400.8h0.7M230.5 418.6h0.7M217.3 406.1h0.7M252.3 413.7h0.7M247.2 397.6h0.7M236.0 398.9h0.7M215.2 359.4h0.7M230.7 364.1h0.7M231.5 360.1h0.7M252.9 417.6h0.7M228.7 349.1h0.7M238.9 398.6h0.7M227.7 412.2h0.7M244.2 399.2h0.7M231.2 400.9h0.7M253.6 416.6h0.7M215.4 367.1h0.7M229.7 413.1h0.7M218.6 372.6h0.7M241.7 396.0h0.7M219.4 401.6h0.7M245.1 427.8h0.7M250.4 425.1h0.7M227.8 387.7h0.7M242.1 426.5h0.7M220.2 403.4h0.7M219.3 406.1h0.7M216.6 408.7h0.7M254.0 396.4h0.7M219.3 379.4h0.7M218.6 382.9h0.7M236.3 422.3h0.7M233.3 401.2h0.7M243.3 399.0h0.7M214.9 355.4h0.7M216.0 370.3h0.7M234.5 395.4h0.7M254.2 414.0h0.7M217.4 404.3h0.7M248.5 427.1h0.7M214.4 357.1h0.7M240.0 398.1h0.7M217.4 346.7h0.7M218.2 349.4h0.7M231.4 377.8h0.7M229.4 353.7h0.7M234.1 362.5h0.7M254.1 412.3h0.7M245.9 398.9h0.7M243.2 397.7h0.7M237.3 399.0h0.7M237.1 400.3h0.7M230.2 368.2h0.7M240.3 399.1h0.7M244.9 431.6h0.7M232.0 400.0h0.7M238.8 425.8h0.7M229.5 358.1h0.7M235.4 427.4h0.7M227.6 385.7h0.7M253.0 412.2h0.7M224.6 347.8h0.7M218.7 374.6h0.7M215.0 365.3h0.7M235.4 426.2h0.7M233.7 372.5h0.7M231.8 350.6h0.7M250.0 403.9h0.7M226.4 385.7h0.7M213.3 367.5h0.7M253.9 395.6h0.7M214.1 368.9h0.7M241.6 424.6h0.7M230.3 417.6h0.7M254.4 414.3h0.7M238.6 423.5h0.7M229.5 422.3h0.7M252.3 402.3h0.7M251.2 420.1h0.7M214.4 356.5h0.7M226.0 344.3h0.7M234.3 398.9h0.7M225.9 348.8h0.7M229.6 400.7h0.7M229.7 402.2h0.7M257.0 422.2h0.7M219.2 413.6h0.7M251.8 408.3h0.7M225.1 412.3h0.7M214.7 357.5h0.7M233.4 421.7h0.7M248.3 429.5h0.7M213.8 350.0h0.7M226.6 349.5h0.7M238.5 424.9h0.7M214.0 363.2h0.7M243.8 427.7h0.7M229.1 366.6h0.7M231.3 371.4h0.7M222.1 380.7h0.7M216.4 352.2h0.7M228.3 353.0h0.7M223.7 384.7h0.7M238.0 423.5h0.7M228.3 384.4h0.7M231.3 377.9h0.7M237.6 396.1h0.7M222.2 380.3h0.7M222.7 413.3h0.7M255.1 418.7h0.7M225.9 414.9h0.7M243.3 426.3h0.7M229.9 417.7h0.7M212.0 355.3h0.7M221.1 415.1h0.7M223.2 345.7h0.7M226.5 412.6h0.7M215.7 363.2h0.7M230.7 417.6h0.7M229.6 358.8h0.7M227.5 348.8h0.7M212.8 363.2h0.7M219.1 399.7h0.7M237.4 424.6h0.7M238.1 424.6h0.7M229.3 375.7h0.7M216.2 369.8h0.7M230.7 423.1h0.7M228.7 384.7h0.7M220.6 346.2h0.7M253.5 411.0h0.7M224.3 401.0h0.7M224.2 411.9h0.7M252.1 386.5h0.7M248.7 429.8h0.7M214.9 355.0h0.7M246.3 429.8h0.7M244.9 398.9h0.7M226.9 398.7h0.7M227.9 400.5h0.7M228.5 411.6h0.7M253.4 407.6h0.7M254.7 428.0h0.7M231.1 363.9h0.7M228.8 411.7h0.7M226.8 385.9h0.7M218.1 407.4h0.7M220.2 401.2h0.7M252.6 412.3h0.7M225.3 395.8h0.7M229.8 343.4h0.7M234.5 399.9h0.7M227.6 415.2h0.7M228.4 345.9h0.7M230.6 415.9h0.7M227.0 412.2h0.7M225.1 384.5h0.7M225.6 384.9h0.7M215.1 356.6h0.7M242.0 424.9h0.7M250.1 425.2h0.7M225.5 400.9h0.7M239.8 425.5h0.7M230.1 402.9h0.7M211.1 371.8h0.7M249.6 425.3h0.7M228.1 346.0h0.7M230.8 358.0h0.7M218.4 407.9h0.7M229.0 414.3h0.7M244.1 430.9h0.7M214.9 368.4h0.7M250.1 427.0h0.7M219.9 345.0h0.7M248.4 432.0h0.7M251.7 405.1h0.7M233.6 402.3h0.7M227.4 345.9h0.7M238.6 382.7h0.7M211.1 353.2h0.7M247.0 400.6h0.7M249.6 423.7h0.7M222.6 344.7h0.7M212.9 364.4h0.7M249.5 397.3h0.7M218.2 348.3h0.7M227.1 383.4h0.7M251.2 423.1h0.7M229.3 367.7h0.7M216.4 371.9h0.7M251.5 416.9h0.7M231.4 387.3h0.7M252.7 410.1h0.7M230.6 362.2h0.7M247.9 426.9h0.7M224.0 398.5h0.7M224.2 395.4h0.7M223.3 382.1h0.7M232.5 403.0h0.7M221.0 402.9h0.7M253.6 412.4h0.7M228.1 424.4h0.7M253.2 410.4h0.7M227.3 395.3h0.7M217.3 350.0h0.7M231.6 375.6h0.7M227.6 419.5h0.7M213.5 368.3h0.7M223.7 411.2h0.7M219.9 410.2h0.7M227.8 411.6h0.7M246.9 428.3h0.7M220.8 393.9h0.7M230.9 425.2h0.7M248.6 425.9h0.7M228.3 411.5h0.7M229.0 379.3h0.7M257.5 409.3h0.7M232.1 418.6h0.7M215.1 363.3h0.7M211.1 366.9h0.7M214.5 364.8h0.7M255.1 411.9h0.7M223.4 341.3h0.7M228.4 383.4h0.7M245.3 428.8h0.7M216.6 366.9h0.7M235.2 424.3h0.7M218.5 373.0h0.7M228.6 350.5h0.7M258.6 401.9h0.7M250.9 418.5h0.7M227.9 400.7h0.7M229.8 377.9h0.7M252.3 409.8h0.7M234.4 399.3h0.7M253.5 411.6h0.7M214.4 353.9h0.7M217.8 372.7h0.7M232.4 425.6h0.7M241.3 433.5h0.7M235.7 394.0h0.7M245.9 428.0h0.7M238.3 397.8h0.7M229.1 369.6h0.7M227.1 386.6h0.7M238.9 391.5h0.7M221.5 401.1h0.7M220.2 344.4h0.7M239.8 425.3h0.7M230.8 366.0h0.7M227.7 385.4h0.7M233.2 421.8h0.7M215.9 355.3h0.7M260.8 427.1h0.7M235.3 399.8h0.7M244.8 429.8h0.7M251.6 417.1h0.7M253.7 393.3h0.7M254.7 413.0h0.7M249.7 424.0h0.7M254.4 425.0h0.7M223.7 384.5h0.7M249.1 398.9h0.7M237.3 371.3h0.7M231.4 356.0h0.7M221.0 401.7h0.7M214.3 363.3h0.7M252.4 400.7h0.7M225.8 412.6h0.7M224.0 413.3h0.7M231.3 424.6h0.7M221.1 346.5h0.7M220.0 410.6h0.7M219.0 372.8h0.7M214.8 374.4h0.7M244.8 397.1h0.7M231.1 398.6h0.7M242.1 427.1h0.7M230.1 357.8h0.7M227.8 348.4h0.7M231.0 358.9h0.7M231.2 428.1h0.7M238.0 398.6h0.7M214.1 360.4h0.7M252.8 410.5h0.7M218.8 378.1h0.7M240.2 424.5h0.7M245.4 427.3h0.7M220.6 383.4h0.7M237.1 400.3h0.7M222.4 382.0h0.7M248.6 400.0h0.7M241.7 424.9h0.7M226.4 398.5h0.7M225.4 343.6h0.7M214.7 372.5h0.7M218.8 402.7h0.7M222.5 411.5h0.7M218.0 371.8h0.7M243.0 426.1h0.7M236.8 399.8h0.7M248.3 426.8h0.7M229.2 380.3h0.7M212.1 364.3h0.7M247.2 429.6h0.7M213.7 363.0h0.7M240.1 425.8h0.7M232.3 418.3h0.7"/>
<path d="M225.9 383.9 225.2 383.9 224.4 383.3 223.5 382.1 222.7 380.6 220.4 374.8 218.2 370.4 217.1 367.6 216.1 364.6 215.6 362.4 215.5 360.1 215.6 357.9 216.4 353.9 216.9 352.1 217.7 350.6 218.9 349.2 220.2 348.4 221.4 348.0 222.7 348.0 224.7 348.5 225.7 349.0 226.4 349.7 227.3 351.1 228.2 353.1 228.7 354.9 229.1 357.4 229.3 360.4 228.9 368.1 229.0 372.1 228.6 377.4 228.2 379.6 227.5 381.6 226.7 383.1 225.9 383.9ZM246.7 427.4 245.9 427.4 245.2 427.1 242.2 424.8 237.2 422.5 235.7 421.6 234.4 420.6 233.0 419.1 232.0 417.6 231.0 415.6 229.9 412.2 229.4 411.5 228.7 411.3 226.7 411.5 225.2 411.4 222.9 410.6 222.2 410.2 221.4 409.6 220.7 408.9 220.3 408.1 220.1 407.4 220.0 406.4 220.1 405.4 220.3 404.6 221.1 403.4 222.2 402.4 223.2 401.8 223.9 401.6 224.9 401.5 226.2 401.6 227.7 401.9 228.7 402.3 230.9 403.4 231.7 403.6 232.2 403.5 233.2 403.0 235.4 401.4 237.2 400.5 239.2 399.8 241.2 399.6 243.2 399.7 245.2 400.2 246.7 400.9 248.2 402.1 249.8 404.1 250.5 405.1 250.9 406.1 251.3 407.4 251.6 409.6 251.7 412.4 251.3 415.9 250.5 420.6 250.1 422.1 249.2 424.4 248.6 425.6 247.7 426.8 246.7 427.4Z" fill="#fff" stroke="#222" stroke-width="0.9"/>
<path d="M225.4 381.0 225.2 381.0 224.7 380.6 224.0 379.4 220.6 370.4 218.2 365.6 217.6 363.6 217.3 362.1 217.2 360.6 217.3 358.9 217.8 354.6 218.1 353.1 218.8 351.9 219.7 350.9 220.7 350.3 221.7 350.1 222.7 350.1 223.7 350.3 224.7 350.6 225.4 351.2 226.0 351.9 226.6 352.9 227.0 354.1 227.1 355.1 227.5 359.6 227.1 366.9 227.4 371.1 227.3 375.1 227.1 376.6 226.8 377.9 225.8 380.4 225.4 381.0ZM246.4 424.4 245.9 424.3 245.2 423.9 243.9 421.6 243.4 421.2 242.9 421.0 241.2 420.8 239.9 420.5 238.4 419.9 237.2 419.2 234.5 416.9 234.0 416.1 233.7 415.4 233.3 412.9 233.3 410.9 233.6 408.9 234.2 407.1 235.2 405.6 236.2 404.6 238.2 403.4 240.2 402.5 241.4 402.3 242.9 402.3 244.2 402.5 245.7 403.1 246.9 403.9 247.9 404.8 248.8 406.1 249.2 407.1 249.4 408.4 249.4 409.9 248.8 414.6 248.4 420.9 248.1 422.4 247.6 423.4 247.2 424.0 246.4 424.4ZM224.9 379.0 224.5 377.6 223.4 375.1 222.6 372.6 221.7 368.9 221.3 368.1 219.9 366.2 219.3 365.1 218.7 363.4 218.3 361.6 218.3 359.6 218.6 357.1 218.6 354.6 218.8 353.6 219.2 352.6 219.9 351.8 220.9 351.2 221.9 350.9 223.4 351.0 224.2 351.3 224.9 351.8 225.8 352.9 226.1 353.6 226.3 354.6 226.3 360.6 225.7 366.9 225.8 368.1 226.3 370.9 226.3 374.4 226.1 375.9 225.2 377.9 224.9 379.0ZM246.7 422.4 246.4 422.5 246.2 422.4 245.8 421.9 245.5 420.9 245.3 419.1 245.2 418.6 244.9 418.4 244.2 418.2 242.2 418.7 241.2 418.8 240.4 418.7 239.4 418.4 238.2 417.7 236.7 416.4 235.9 415.3 235.4 414.1 235.1 412.6 235.1 410.9 235.5 408.9 236.0 407.6 236.7 406.7 237.7 405.9 239.9 404.5 241.4 403.9 242.4 403.7 243.7 403.6 244.7 403.8 245.7 404.2 246.4 404.6 247.2 405.4 247.8 406.1 248.3 407.1 248.5 408.4 248.3 409.6 247.0 413.6 246.6 415.6 246.6 417.1 247.2 419.1 247.3 420.4 247.2 421.6 246.9 422.2 246.7 422.4ZM223.7 366.7 223.2 366.8 222.4 366.5 221.4 365.9 220.7 365.1 219.8 363.4 219.2 361.1 219.2 359.6 219.4 357.1 219.2 354.6 219.4 353.6 219.8 352.9 220.4 352.2 221.2 351.7 222.2 351.5 222.9 351.5 223.7 351.7 224.7 352.3 225.4 353.4 225.7 354.6 225.3 357.6 225.4 360.1 225.2 361.9 224.4 365.1 224.0 366.1 223.7 366.7ZM224.9 374.1 224.7 374.2 224.2 373.7 223.7 372.6 223.4 371.6 223.4 370.0 223.7 369.3 223.9 369.0 224.2 369.0 224.7 369.4 225.0 370.1 225.2 370.9 225.4 371.9 225.3 372.9 225.2 373.7 224.9 374.1ZM241.7 417.1 240.7 417.2 239.4 416.7 238.4 415.9 237.5 414.9 236.9 413.6 236.5 412.4 236.5 411.1 236.7 409.6 237.0 408.6 237.8 407.6 241.2 405.3 242.2 404.8 242.9 404.5 243.9 404.4 244.7 404.5 245.4 404.8 246.2 405.2 247.2 406.4 247.7 407.6 247.8 408.4 247.7 409.1 247.1 410.6 244.4 415.1 243.2 416.4 242.4 416.9 241.7 417.1ZM222.9 364.2 222.4 364.3 221.7 364.0 220.9 363.2 220.4 362.1 220.1 361.1 220.1 360.1 220.3 357.4 219.8 354.9 219.9 353.9 220.4 352.8 221.2 352.2 221.7 352.0 222.4 351.9 223.7 352.2 224.4 352.7 225.0 353.6 225.2 354.6 225.1 355.6 224.4 357.6 224.5 360.1 224.3 361.6 223.7 363.3 222.9 364.2ZM240.9 415.6 240.2 415.5 239.6 415.1 238.9 414.4 238.5 413.6 238.0 412.4 237.9 411.4 237.9 410.4 238.1 409.6 238.9 408.4 242.2 405.6 242.9 405.2 243.7 405.0 244.4 405.1 245.2 405.2 245.9 405.7 246.4 406.1 247.0 407.1 247.2 408.1 247.0 409.4 246.2 410.6 244.9 412.1 242.9 414.5 241.9 415.3 240.9 415.6ZM222.7 361.9 222.4 362.0 221.9 361.9 221.4 361.1 221.2 360.4 221.2 359.6 221.8 357.9 221.8 357.6 220.6 355.9 220.3 354.6 220.5 353.6 220.9 353.0 221.7 352.5 222.4 352.3 223.4 352.5 224.2 353.0 224.5 353.6 224.8 354.6 224.6 355.4 224.4 355.9 223.0 357.6 223.0 358.1 223.3 359.1 223.4 360.1 223.2 361.3 222.7 361.9ZM241.7 413.0 240.9 413.0 240.4 412.7 240.1 412.4 239.9 411.7 239.8 411.1 239.9 410.5 240.2 409.9 241.6 407.1 242.4 406.2 243.2 405.7 243.7 405.6 244.4 405.6 245.2 405.8 246.0 406.4 246.5 407.1 246.7 408.1 246.5 409.1 246.0 409.9 245.4 410.5 243.5 411.6 241.7 413.0ZM223.2 356.4 222.4 356.5 221.7 356.3 221.2 355.8 220.8 355.1 220.7 354.4 220.8 353.9 221.2 353.3 221.9 352.8 222.7 352.7 223.4 352.9 223.9 353.4 224.2 353.9 224.4 354.6 224.2 355.4 223.7 356.1 223.2 356.4ZM244.2 410.4 243.4 410.3 242.7 410.0 242.1 409.4 241.9 408.4 242.2 407.4 242.7 406.6 243.4 406.1 244.2 406.0 244.9 406.1 245.7 406.6 246.2 407.4 246.3 408.1 246.1 408.9 245.7 409.6 244.9 410.1 244.2 410.4ZM222.7 356.1 222.2 356.1 221.7 355.8 221.2 355.4 221.0 354.6 221.1 353.9 221.4 353.4 221.9 353.1 222.4 353.0 222.9 353.0 223.6 353.4 223.9 353.9 224.1 354.4 224.0 355.1 223.7 355.6 223.2 356.0 222.7 356.1ZM244.4 409.9 243.7 409.8 243.1 409.6 242.7 409.1 242.4 408.4 242.5 407.6 242.9 406.9 243.4 406.5 244.2 406.3 244.9 406.4 245.4 406.7 245.8 407.4 246.0 407.9 245.9 408.6 245.6 409.1 245.2 409.5 244.4 409.9ZM223.2 355.6 222.7 355.8 222.2 355.7 221.7 355.4 221.4 355.1 221.2 354.6 221.3 354.1 221.6 353.6 221.9 353.4 222.4 353.2 222.9 353.3 223.4 353.5 223.6 353.9 223.8 354.4 223.8 354.9 223.5 355.4 223.2 355.6ZM244.7 409.4 244.2 409.5 243.7 409.4 243.2 409.1 242.9 408.6 242.8 408.1 242.8 407.6 243.1 407.1 243.7 406.7 244.2 406.6 244.9 406.7 245.3 407.1 245.6 407.6 245.7 408.1 245.5 408.6 245.2 409.1 244.7 409.4ZM222.9 355.5 222.2 355.5 221.5 354.9 221.5 354.1 221.7 353.9 222.2 353.5 222.9 353.5 223.4 353.9 223.5 354.1 223.5 354.9 223.4 355.1 222.9 355.5ZM244.7 409.1 244.2 409.2 243.7 409.0 243.4 408.9 243.1 408.4 243.1 407.9 243.2 407.4 243.9 406.9 244.7 406.9 245.0 407.1 245.4 407.6 245.4 408.1 245.3 408.6 244.7 409.1ZM222.9 355.2 222.4 355.3 222.2 355.2 221.8 354.9 221.7 354.4 221.8 354.1 222.2 353.7 222.4 353.7 222.9 353.7 223.3 354.1 223.4 354.4 223.3 354.9 222.9 355.2ZM244.4 408.9 243.9 408.8 243.7 408.7 243.3 408.1 243.4 407.6 243.6 407.4 244.2 407.0 244.7 407.1 244.9 407.3 245.2 407.9 245.1 408.4 244.9 408.6 244.4 408.9ZM222.9 355.0 222.4 355.1 222.1 354.9 221.9 354.4 222.2 354.0 222.7 353.9 223.0 354.1 223.2 354.6 222.9 355.0ZM244.4 408.6 243.9 408.6 243.6 408.1 243.7 407.6 244.2 407.3 244.7 407.4 244.9 407.9 244.8 408.4 244.4 408.6Z" fill="none" stroke="#222" stroke-width="0.6"/>
<path stroke="#1a1a1a" stroke-opacity="0.85" stroke-width="0.7" d="M350.4 384.8h0.7M382.2 384.0h0.7M360.8 373.9h0.7M363.0 411.9h0.7M362.2 411.2h0.7M371.0 406.5h0.7M358.8 414.7h0.7M368.0 423.2h0.7M356.3 398.4h0.7M381.6 397.8h0.7M365.1 419.2h0.7M380.4 382.2h0.7M380.7 384.9h0.7M383.0 392.4h0.7M348.4 387.7h0.7M376.8 371.0h0.7M377.3 376.2h0.7M350.7 381.1h0.7M370.9 418.7h0.7M375.6 407.8h0.7M373.6 374.8h0.7M372.2 414.7h0.7M350.3 381.7h0.7M348.6 383.7h0.7M388.0 367.6h0.7M358.2 367.7h0.7M351.3 367.7h0.7M389.4 384.5h0.7M358.6 418.7h0.7M365.8 419.9h0.7M383.4 381.4h0.7M376.3 426.4h0.7M361.4 365.4h0.7M373.8 411.8h0.7M369.5 376.0h0.7M373.9 401.9h0.7M364.1 373.9h0.7M349.9 394.1h0.7M363.1 375.5h0.7M364.9 418.1h0.7M356.2 408.2h0.7M382.7 385.3h0.7M385.4 385.7h0.7M375.6 371.6h0.7M377.6 378.9h0.7M350.8 388.3h0.7M365.5 374.0h0.7M344.3 401.1h0.7M355.6 398.5h0.7M359.2 404.7h0.7M365.8 413.5h0.7M365.6 420.7h0.7M355.8 408.0h0.7M378.7 395.3h0.7M359.4 417.9h0.7M368.5 416.7h0.7M371.1 407.5h0.7M349.2 396.0h0.7M376.7 373.0h0.7M366.3 376.0h0.7M356.8 407.9h0.7M379.9 379.6h0.7M357.0 399.5h0.7M379.9 372.8h0.7M355.4 432.7h0.7M353.4 399.2h0.7M372.3 405.4h0.7M363.4 368.7h0.7M368.5 374.7h0.7M380.1 392.8h0.7M367.7 412.8h0.7M365.6 413.2h0.7M365.7 373.7h0.7M344.2 384.6h0.7M355.7 378.7h0.7M354.2 401.0h0.7M384.2 399.4h0.7M387.1 382.7h0.7M359.8 411.5h0.7M379.2 405.1h0.7M345.8 386.1h0.7M385.5 397.9h0.7M379.4 381.4h0.7M350.0 374.6h0.7M361.9 372.0h0.7M368.7 427.8h0.7M349.8 384.5h0.7M365.9 359.8h0.7M369.4 376.0h0.7M363.8 412.3h0.7M382.5 397.1h0.7M359.4 410.6h0.7M357.3 401.6h0.7M352.7 377.8h0.7M369.7 366.6h0.7M348.7 402.0h0.7M370.6 405.1h0.7M378.4 378.7h0.7M380.8 381.4h0.7M370.1 370.7h0.7M342.4 398.9h0.7M333.2 383.6h0.7M355.6 377.3h0.7M379.2 378.8h0.7M374.2 403.9h0.7M369.0 410.2h0.7M369.0 417.4h0.7M376.8 400.4h0.7M358.8 376.6h0.7M365.8 415.8h0.7M387.5 392.5h0.7M351.1 398.5h0.7M352.3 397.4h0.7M354.0 380.0h0.7M373.0 404.0h0.7M363.0 411.6h0.7M349.2 387.8h0.7M377.9 376.1h0.7M350.2 386.6h0.7M371.7 410.4h0.7M357.9 373.9h0.7M348.1 379.8h0.7M370.7 419.9h0.7M361.0 427.0h0.7M362.8 432.0h0.7M369.2 411.2h0.7M362.9 375.8h0.7M349.5 389.2h0.7M360.6 374.8h0.7M374.2 402.7h0.7M369.7 410.0h0.7M377.4 397.9h0.7M376.3 422.0h0.7M353.8 401.0h0.7M382.8 380.7h0.7M353.8 395.3h0.7M382.2 395.9h0.7M369.7 412.9h0.7M340.3 391.9h0.7M349.0 365.3h0.7M354.8 378.1h0.7M381.0 386.8h0.7M359.5 374.7h0.7M377.2 410.4h0.7M372.5 403.1h0.7M369.8 410.3h0.7M356.9 399.8h0.7M380.0 382.3h0.7M350.2 379.6h0.7M357.4 428.7h0.7M350.0 386.8h0.7M349.0 409.4h0.7M378.9 373.9h0.7M353.9 380.5h0.7M346.8 393.4h0.7M357.8 377.9h0.7M349.1 387.3h0.7M380.0 378.0h0.7M353.0 397.4h0.7M385.8 387.7h0.7M350.9 380.4h0.7M382.2 381.7h0.7M384.2 383.5h0.7M348.2 391.0h0.7M379.7 398.3h0.7M372.6 412.9h0.7M356.9 403.1h0.7M378.2 395.8h0.7M366.0 428.2h0.7M367.1 418.1h0.7M359.1 426.2h0.7M370.8 429.0h0.7M354.0 408.3h0.7M368.1 419.2h0.7M358.6 427.3h0.7M364.6 423.8h0.7M360.3 409.2h0.7M360.5 416.9h0.7M358.7 422.5h0.7M357.5 424.4h0.7M373.0 422.2h0.7M364.3 417.7h0.7M364.5 415.9h0.7M368.7 415.5h0.7M376.1 409.0h0.7M369.5 420.1h0.7M357.8 412.7h0.7M364.0 419.3h0.7M360.3 411.6h0.7M375.9 420.9h0.7M369.0 421.7h0.7M368.5 425.6h0.7M369.5 411.0h0.7M366.3 414.6h0.7M367.5 427.9h0.7M361.9 432.2h0.7M368.4 420.8h0.7M370.4 430.6h0.7M364.8 423.0h0.7M367.1 425.9h0.7M358.4 426.6h0.7M370.4 419.5h0.7M368.9 419.8h0.7M366.3 428.7h0.7M367.3 424.2h0.7M367.2 415.7h0.7M365.6 420.2h0.7M363.6 432.8h0.7M367.7 412.3h0.7M363.4 423.7h0.7M357.6 410.4h0.7M368.5 421.0h0.7M369.3 424.5h0.7M365.9 420.2h0.7M361.1 411.6h0.7M359.7 428.3h0.7M362.9 430.0h0.7M370.2 417.8h0.7M364.2 424.3h0.7M372.3 417.7h0.7M372.9 421.7h0.7M366.2 423.4h0.7M365.9 424.7h0.7M367.3 416.4h0.7M365.5 414.8h0.7M372.5 417.0h0.7M360.4 410.3h0.7M367.6 418.9h0.7M369.3 430.2h0.7M368.6 416.7h0.7M358.5 419.1h0.7M355.1 423.1h0.7M362.0 425.6h0.7M364.0 412.9h0.7M359.4 407.4h0.7M367.6 423.7h0.7M370.6 417.4h0.7M357.3 402.6h0.7M369.3 416.3h0.7M367.3 418.0h0.7M372.8 405.0h0.7M363.4 430.8h0.7M370.6 424.0h0.7M364.5 419.4h0.7M369.4 416.1h0.7M367.0 427.4h0.7M363.7 428.7h0.7M366.6 412.6h0.7M369.9 422.0h0.7M367.8 420.5h0.7M369.2 414.5h0.7M368.4 422.0h0.7M373.7 420.8h0.7M365.0 416.8h0.7M370.2 418.5h0.7M365.6 423.0h0.7M368.0 413.2h0.7M367.6 416.9h0.7M367.0 421.6h0.7M360.9 411.0h0.7M369.8 420.0h0.7M364.8 426.4h0.7M364.9 416.1h0.7M360.8 415.1h0.7M372.5 414.7h0.7M369.3 412.1h0.7M356.5 428.0h0.7M363.5 415.9h0.7M352.1 422.9h0.7M373.1 432.9h0.7M368.5 427.8h0.7M383.2 426.5h0.7M363.8 416.2h0.7M367.9 428.6h0.7M366.7 418.5h0.7M368.0 426.8h0.7M372.7 422.2h0.7M355.1 413.6h0.7M366.8 414.7h0.7M366.1 421.6h0.7M359.6 424.7h0.7M367.5 433.2h0.7M371.0 411.8h0.7M368.6 424.6h0.7M367.4 411.9h0.7M363.9 417.6h0.7M366.5 414.1h0.7M365.7 422.6h0.7M365.6 421.3h0.7M360.7 410.2h0.7M370.1 408.4h0.7M369.4 417.9h0.7M363.5 418.5h0.7M363.2 426.3h0.7M364.2 420.3h0.7M372.8 422.0h0.7M362.7 419.0h0.7M366.1 416.5h0.7M355.5 404.6h0.7M357.9 414.3h0.7M362.5 426.0h0.7M363.6 415.4h0.7M375.3 404.4h0.7M371.9 417.2h0.7M363.8 427.2h0.7M370.8 424.9h0.7M367.5 414.5h0.7M361.3 420.5h0.7M372.7 410.3h0.7M367.4 413.5h0.7M374.8 408.9h0.7M360.9 423.5h0.7M362.9 414.8h0.7M368.8 411.4h0.7M368.0 413.5h0.7M359.3 420.2h0.7M370.0 424.6h0.7M364.7 426.4h0.7M368.6 425.9h0.7M364.5 432.9h0.7M365.9 413.5h0.7M374.8 404.6h0.7M368.8 421.5h0.7M355.2 416.4h0.7M369.3 413.8h0.7M366.9 422.5h0.7M362.5 412.7h0.7M356.1 409.5h0.7M364.7 433.2h0.7M364.1 412.7h0.7M365.9 425.8h0.7M357.4 410.3h0.7M371.3 423.3h0.7M372.5 416.0h0.7M363.7 418.0h0.7M359.4 427.4h0.7M369.1 409.8h0.7M375.9 408.2h0.7M366.8 417.5h0.7M359.0 434.1h0.7M366.6 427.9h0.7M360.4 413.3h0.7M361.6 412.1h0.7M363.0 414.7h0.7M365.6 416.3h0.7M376.2 407.7h0.7M362.5 423.0h0.7M361.0 422.2h0.7M358.5 409.0h0.7M347.8 393.4h0.7M341.2 406.3h0.7M346.2 396.7h0.7M337.0 391.8h0.7M352.2 399.7h0.7M342.9 404.5h0.7M356.6 417.4h0.7M349.4 400.4h0.7M347.9 400.5h0.7M357.5 404.4h0.7M351.8 420.5h0.7M346.3 395.1h0.7M346.7 416.0h0.7M349.5 401.4h0.7M350.8 401.7h0.7M340.1 393.3h0.7M357.0 404.9h0.7M351.2 400.6h0.7M349.4 388.8h0.7M365.9 376.0h0.7M356.0 409.2h0.7M349.5 410.2h0.7M355.9 408.6h0.7M352.6 398.2h0.7M349.3 428.1h0.7M346.0 403.1h0.7M356.2 374.1h0.7M355.6 406.1h0.7M352.4 419.2h0.7M347.1 393.6h0.7M358.0 406.8h0.7M351.2 402.1h0.7M353.7 422.8h0.7M348.6 411.9h0.7M347.5 397.7h0.7M346.8 399.9h0.7M345.3 391.6h0.7M350.4 403.3h0.7M351.3 405.0h0.7M359.9 407.0h0.7M352.5 412.4h0.7M357.6 404.5h0.7M348.2 409.3h0.7M348.3 397.2h0.7M350.9 401.4h0.7M335.1 406.8h0.7M345.3 404.4h0.7M352.1 399.1h0.7M352.7 398.9h0.7M348.3 405.2h0.7M352.2 396.9h0.7M343.7 395.1h0.7M345.4 408.1h0.7M350.4 402.0h0.7M358.8 417.2h0.7M351.8 392.3h0.7M360.3 405.1h0.7M354.6 418.0h0.7M347.9 404.9h0.7M350.6 383.4h0.7M351.6 400.1h0.7M351.2 408.4h0.7M349.2 400.5h0.7M352.4 374.1h0.7M355.5 415.0h0.7M354.0 376.2h0.7M353.1 410.4h0.7M354.3 411.5h0.7M357.0 407.8h0.7M348.4 409.4h0.7M346.9 404.5h0.7M349.9 403.3h0.7M357.1 421.0h0.7M346.4 397.4h0.7M351.0 401.3h0.7M355.4 410.1h0.7M341.2 407.2h0.7M351.4 405.5h0.7M386.8 385.7h0.7M382.6 377.4h0.7M379.9 396.6h0.7M390.0 383.5h0.7M394.9 373.9h0.7M384.9 375.5h0.7M394.9 384.3h0.7M388.9 383.9h0.7M389.9 387.4h0.7M386.5 382.8h0.7M388.8 378.6h0.7M397.1 369.1h0.7M387.3 386.7h0.7M381.2 392.3h0.7M389.1 375.9h0.7M381.6 383.6h0.7M384.7 377.1h0.7M391.3 397.1h0.7M381.2 381.4h0.7M380.7 389.5h0.7M390.7 386.9h0.7M393.4 389.7h0.7M386.5 387.4h0.7M384.4 389.9h0.7M382.9 387.5h0.7M389.3 388.0h0.7M385.1 404.7h0.7M383.4 378.6h0.7M388.4 383.3h0.7M383.6 389.9h0.7M387.6 390.4h0.7M388.3 393.0h0.7M387.8 367.8h0.7M377.1 378.4h0.7M379.9 397.7h0.7M388.0 392.0h0.7M379.2 395.5h0.7M393.3 397.8h0.7M381.5 388.5h0.7M380.5 363.9h0.7M389.4 378.3h0.7M386.3 395.7h0.7M387.2 381.6h0.7M378.3 377.1h0.7M396.5 383.2h0.7M368.3 366.8h0.7M385.9 382.6h0.7M388.1 380.1h0.7M384.6 380.8h0.7M384.4 382.7h0.7M387.2 385.9h0.7M384.7 390.7h0.7M382.4 387.1h0.7M391.0 402.7h0.7M388.6 388.0h0.7M393.7 383.2h0.7M384.1 382.2h0.7M395.7 398.1h0.7M390.1 384.2h0.7M380.1 364.1h0.7M384.0 389.8h0.7M388.9 392.1h0.7M382.3 401.5h0.7M382.4 377.7h0.7M381.7 377.8h0.7M382.0 382.7h0.7M392.4 375.1h0.7M381.4 382.3h0.7M379.5 380.9h0.7M392.4 382.2h0.7M389.6 389.6h0.7M392.1 388.9h0.7M380.1 374.5h0.7M385.0 388.2h0.7M381.8 394.2h0.7M341.9 389.0h0.7M366.7 412.8h0.7M364.0 413.2h0.7M368.8 375.5h0.7M361.0 407.7h0.7M350.9 389.9h0.7M350.4 370.4h0.7M381.0 375.7h0.7M360.0 406.0h0.7M357.7 410.1h0.7M380.5 382.9h0.7M358.6 367.0h0.7M362.1 413.6h0.7M352.1 376.0h0.7M346.5 401.1h0.7M353.4 395.7h0.7M383.0 379.3h0.7M350.6 388.2h0.7M348.0 394.7h0.7M384.5 380.2h0.7M381.4 386.3h0.7M376.7 403.7h0.7M383.1 396.5h0.7M377.0 362.6h0.7M364.5 413.3h0.7M348.1 382.9h0.7M360.9 377.2h0.7M359.0 401.7h0.7M371.6 414.9h0.7M377.3 414.0h0.7M350.3 408.7h0.7M350.4 377.3h0.7M376.0 377.6h0.7M347.9 391.5h0.7M350.4 376.2h0.7M342.8 390.5h0.7M383.0 396.1h0.7M347.9 405.8h0.7M372.6 413.2h0.7M369.8 425.3h0.7M385.3 385.4h0.7M369.4 414.8h0.7M373.5 371.7h0.7M375.5 401.4h0.7M382.2 392.0h0.7M360.2 416.6h0.7M359.7 411.4h0.7M381.0 396.1h0.7M350.2 381.2h0.7M341.5 395.3h0.7M394.6 383.9h0.7M359.7 413.5h0.7M363.1 375.8h0.7M381.4 383.6h0.7M385.9 388.0h0.7M377.3 370.8h0.7M355.1 412.3h0.7M382.5 383.0h0.7M371.5 411.9h0.7M382.8 398.3h0.7M382.9 384.7h0.7M377.8 370.3h0.7M371.7 376.3h0.7M381.3 397.9h0.7M351.3 410.4h0.7M343.9 390.7h0.7M351.7 411.7h0.7M346.6 390.1h0.7M369.6 409.6h0.7M381.2 385.0h0.7M376.3 376.6h0.7M361.8 371.7h0.7M356.5 375.5h0.7M364.2 369.0h0.7M362.8 412.6h0.7M382.1 397.6h0.7M352.9 377.0h0.7M350.2 387.0h0.7M380.0 399.5h0.7M378.2 377.8h0.7M359.4 405.1h0.7M359.8 370.1h0.7M380.2 406.4h0.7M350.1 385.4h0.7M362.3 412.1h0.7M354.6 374.3h0.7M346.5 368.0h0.7M383.2 377.9h0.7M373.6 402.7h0.7M357.6 374.5h0.7M355.7 378.7h0.7M370.6 410.2h0.7M360.7 413.2h0.7M365.5 371.7h0.7M355.7 398.2h0.7M357.2 415.6h0.7M357.2 431.5h0.7M377.7 377.7h0.7M371.8 415.0h0.7M381.0 387.4h0.7M392.6 363.1h0.7M370.8 374.5h0.7M379.5 380.2h0.7M379.5 397.3h0.7M350.2 384.4h0.7M366.1 425.5h0.7M359.0 361.4h0.7M382.6 385.3h0.7M353.5 397.0h0.7M369.3 416.4h0.7M382.7 396.1h0.7M350.5 398.8h0.7M349.5 389.2h0.7M358.7 404.4h0.7M389.4 403.7h0.7M368.0 414.7h0.7M360.2 408.1h0.7M364.1 413.5h0.7M373.0 405.8h0.7M372.7 411.1h0.7M350.4 382.2h0.7M379.3 379.9h0.7M376.5 398.9h0.7M368.3 375.5h0.7M344.5 376.8h0.7M344.5 388.5h0.7M374.0 403.6h0.7M367.6 416.0h0.7M384.9 401.8h0.7M370.6 418.6h0.7M354.8 377.0h0.7M380.3 392.6h0.7M381.3 378.3h0.7M387.0 387.7h0.7M355.5 372.5h0.7M373.8 422.5h0.7M353.8 379.0h0.7M340.6 385.6h0.7M358.2 405.5h0.7M377.8 406.7h0.7M370.4 413.3h0.7M359.4 416.5h0.7M370.8 408.0h0.7M345.5 396.4h0.7M340.5 379.6h0.7M377.1 402.5h0.7M380.9 391.2h0.7M362.0 415.2h0.7M363.3 376.4h0.7M384.2 381.8h0.7M359.3 409.5h0.7M370.7 424.0h0.7M351.8 381.3h0.7M352.8 373.1h0.7M350.9 379.1h0.7M381.3 393.1h0.7M375.4 406.2h0.7M363.5 417.2h0.7M354.0 380.2h0.7M360.7 418.5h0.7M375.0 408.6h0.7M364.4 421.0h0.7M360.5 406.2h0.7M347.9 397.0h0.7M383.0 404.5h0.7M383.7 389.2h0.7M375.9 377.5h0.7M356.7 376.1h0.7M368.5 375.6h0.7M370.1 418.2h0.7M387.4 383.1h0.7M381.0 384.7h0.7M382.9 389.0h0.7M347.1 391.9h0.7M364.5 412.8h0.7M362.0 376.2h0.7M374.1 403.1h0.7M385.5 383.3h0.7M351.7 375.3h0.7M344.8 386.7h0.7M382.9 389.6h0.7M366.5 418.5h0.7M358.7 406.0h0.7M342.3 388.5h0.7M347.0 399.2h0.7M379.9 382.1h0.7M359.4 421.0h0.7M382.7 376.7h0.7M375.8 416.1h0.7M374.4 377.1h0.7M369.4 410.5h0.7M359.3 419.3h0.7M372.3 372.7h0.7M342.1 386.7h0.7M356.2 399.3h0.7M353.2 373.4h0.7M363.1 417.2h0.7M370.7 411.6h0.7M370.1 368.9h0.7M362.2 414.2h0.7M344.0 400.7h0.7M380.5 381.2h0.7M369.5 412.5h0.7M381.7 383.5h0.7M372.2 376.4h0.7M350.7 391.8h0.7M378.2 374.0h0.7M356.2 378.6h0.7M388.8 387.0h0.7M363.5 416.3h0.7M354.0 399.1h0.7M369.6 374.2h0.7M371.9 370.2h0.7M358.4 370.9h0.7M387.6 381.3h0.7M354.2 427.6h0.7M361.2 417.0h0.7M350.8 390.0h0.7M368.9 359.9h0.7M378.8 396.5h0.7M361.1 364.3h0.7M348.7 393.6h0.7M345.1 422.0h0.7M381.7 395.0h0.7M357.9 407.9h0.7M379.1 402.9h0.7M345.8 386.0h0.7M376.5 377.4h0.7M360.1 374.4h0.7M361.5 408.8h0.7M388.2 397.9h0.7M381.2 383.8h0.7M372.8 403.9h0.7M349.5 404.3h0.7M351.5 411.9h0.7M369.0 420.7h0.7M381.8 383.5h0.7M378.3 405.3h0.7M374.2 401.5h0.7M375.9 375.7h0.7M373.2 369.7h0.7M349.0 389.9h0.7M341.2 400.6h0.7M336.1 375.8h0.7M383.6 389.1h0.7M378.5 373.8h0.7M342.4 388.7h0.7M357.0 415.5h0.7M371.6 375.2h0.7M369.4 418.5h0.7M370.1 413.6h0.7M381.1 375.5h0.7M356.2 403.1h0.7M348.3 393.4h0.7M355.2 401.4h0.7M348.2 386.0h0.7M362.8 372.6h0.7M382.5 387.4h0.7M375.5 412.6h0.7M361.4 412.2h0.7M358.6 401.4h0.7M356.4 405.6h0.7M367.7 414.2h0.7M344.0 382.3h0.7M380.4 403.7h0.7M368.0 372.8h0.7M351.1 389.4h0.7M380.2 390.7h0.7M364.4 375.4h0.7M380.6 382.8h0.7M365.0 352.9h0.7M350.2 391.9h0.7M345.6 400.1h0.7M382.6 387.0h0.7M361.5 415.7h0.7M369.6 375.1h0.7M361.6 424.2h0.7M361.2 409.7h0.7M357.9 373.0h0.7M376.2 376.5h0.7M345.3 386.3h0.7M344.5 381.4h0.7M348.7 388.4h0.7M383.5 382.4h0.7M372.5 376.6h0.7M365.7 418.8h0.7M370.5 420.9h0.7M375.5 401.1h0.7M357.8 405.4h0.7M376.4 361.3h0.7M381.2 394.2h0.7M374.8 403.3h0.7M387.6 384.9h0.7M369.3 375.4h0.7M376.4 372.2h0.7M374.6 409.3h0.7M368.7 417.3h0.7M355.6 420.4h0.7M387.2 385.3h0.7M360.6 375.6h0.7M394.8 394.4h0.7M387.1 393.4h0.7M357.0 373.0h0.7M367.7 375.9h0.7M355.2 377.6h0.7M376.5 399.1h0.7M360.7 407.3h0.7M357.9 407.4h0.7M363.0 417.7h0.7M370.1 417.9h0.7M363.9 421.3h0.7M373.5 411.6h0.7M343.1 396.0h0.7M374.1 404.3h0.7M370.1 410.6h0.7M361.5 409.2h0.7M351.2 420.6h0.7M379.2 380.5h0.7M383.4 399.3h0.7M359.2 412.4h0.7M377.9 414.4h0.7M354.9 398.9h0.7M349.0 387.2h0.7M381.9 381.3h0.7M360.7 372.6h0.7M380.7 417.5h0.7M360.4 411.7h0.7M366.4 374.0h0.7M351.3 381.9h0.7M360.6 415.4h0.7M349.4 387.9h0.7M379.1 379.6h0.7M380.2 391.6h0.7M370.8 420.6h0.7M381.5 380.5h0.7M382.2 411.4h0.7M361.8 427.2h0.7M375.0 404.7h0.7M386.1 388.4h0.7M359.1 403.7h0.7M392.7 375.4h0.7M376.9 399.6h0.7M348.4 409.0h0.7M359.8 374.7h0.7M381.4 382.2h0.7M358.6 410.4h0.7M346.6 391.4h0.7M359.1 414.3h0.7M358.3 409.5h0.7M381.8 391.3h0.7M378.4 408.7h0.7M381.2 385.7h0.7M383.9 400.1h0.7M348.9 384.9h0.7M371.3 368.2h0.7M359.1 413.6h0.7M348.5 380.4h0.7M373.5 376.6h0.7M352.1 380.6h0.7M384.6 392.4h0.7M363.1 417.0h0.7M384.3 366.5h0.7M351.6 400.4h0.7M345.8 379.0h0.7M382.7 395.0h0.7M376.2 377.9h0.7M368.2 372.0h0.7M353.3 395.6h0.7M365.8 434.2h0.7M381.2 375.6h0.7M347.7 395.4h0.7M356.0 412.0h0.7M380.7 378.1h0.7M372.6 374.8h0.7M371.1 415.5h0.7M362.8 411.4h0.7M354.7 407.8h0.7M384.4 398.8h0.7M353.2 395.3h0.7M354.3 415.5h0.7M359.8 404.7h0.7M380.6 378.7h0.7M354.5 376.5h0.7M346.9 390.2h0.7M369.3 409.8h0.7M353.7 378.8h0.7M379.2 378.7h0.7M370.8 414.6h0.7M382.2 401.6h0.7M358.9 407.4h0.7M371.0 374.9h0.7M360.2 407.4h0.7M369.6 408.8h0.7M374.7 377.2h0.7M369.3 412.2h0.7M375.5 413.7h0.7M360.7 418.3h0.7M375.8 376.9h0.7M364.6 415.3h0.7M370.1 409.7h0.7M348.5 391.9h0.7M361.2 409.7h0.7M354.0 377.8h0.7M346.2 388.8h0.7M347.9 392.6h0.7M348.4 374.2h0.7M360.7 417.9h0.7M341.7 382.5h0.7M351.8 394.1h0.7M350.4 389.3h0.7M382.2 386.4h0.7M361.2 408.6h0.7M368.1 412.1h0.7M382.2 386.5h0.7M364.6 433.5h0.7M382.5 393.1h0.7M381.9 385.4h0.7M375.4 399.5h0.7M356.9 399.7h0.7M356.1 406.7h0.7M363.4 433.1h0.7M356.2 373.4h0.7M358.3 403.8h0.7M379.6 397.0h0.7M340.4 369.6h0.7M355.6 402.3h0.7M350.7 385.1h0.7M387.5 368.1h0.7M358.6 431.1h0.7M347.5 396.6h0.7M384.3 401.4h0.7M361.0 375.9h0.7M357.1 407.2h0.7M353.8 410.9h0.7M342.1 380.9h0.7M347.7 396.1h0.7M366.3 420.9h0.7M389.8 380.7h0.7M347.7 392.8h0.7M388.8 389.3h0.7M343.6 375.9h0.7M380.0 382.7h0.7M343.2 386.8h0.7M369.2 421.5h0.7M365.2 421.2h0.7M352.4 378.8h0.7M345.5 383.6h0.7M378.7 399.3h0.7M364.1 414.1h0.7M348.4 388.7h0.7M358.5 401.2h0.7M348.8 366.7h0.7M377.4 376.8h0.7M350.7 409.1h0.7M356.8 406.6h0.7M371.8 371.6h0.7M378.0 377.8h0.7M353.5 398.8h0.7M361.5 411.1h0.7M371.3 408.1h0.7M378.3 379.6h0.7M358.6 405.6h0.7M346.4 391.0h0.7M360.6 374.3h0.7M351.2 400.7h0.7M351.7 398.2h0.7M382.2 396.0h0.7M349.9 386.9h0.7M348.3 386.9h0.7M367.4 413.3h0.7M362.6 413.1h0.7M381.3 396.0h0.7M352.1 376.7h0.7M359.6 403.7h0.7M386.3 403.4h0.7M383.9 398.3h0.7M371.3 373.9h0.7M351.6 391.3h0.7M352.4 396.1h0.7M383.7 385.7h0.7M368.9 411.8h0.7M371.3 374.5h0.7M358.5 405.4h0.7M365.8 363.3h0.7M360.3 418.9h0.7M378.3 397.4h0.7M359.3 410.0h0.7M348.5 396.0h0.7M384.0 384.3h0.7M366.3 368.4h0.7M365.3 375.3h0.7M375.0 401.6h0.7M377.9 374.3h0.7M371.6 375.9h0.7M353.0 398.9h0.7M384.3 387.0h0.7M350.8 372.7h0.7M375.0 409.7h0.7M350.0 412.5h0.7M365.5 424.3h0.7M353.6 395.4h0.7M363.1 370.5h0.7M383.5 388.3h0.7M349.2 390.8h0.7M363.9 419.4h0.7M371.4 419.7h0.7M372.6 430.7h0.7M351.9 381.3h0.7M346.1 392.7h0.7M361.3 421.2h0.7M358.5 375.4h0.7M341.4 397.4h0.7M361.7 420.2h0.7M371.1 372.9h0.7M355.5 403.0h0.7M378.3 377.6h0.7M362.1 375.5h0.7M350.2 382.1h0.7M367.0 417.8h0.7M371.6 420.3h0.7M390.0 389.8h0.7M358.2 378.0h0.7M368.1 418.4h0.7M346.5 397.5h0.7M376.9 370.6h0.7M367.0 417.0h0.7M333.5 383.7h0.7M359.2 422.2h0.7M381.1 383.9h0.7M375.1 413.8h0.7M349.8 386.3h0.7M366.6 372.9h0.7M371.3 420.9h0.7M363.6 413.6h0.7M367.7 421.6h0.7M360.0 412.0h0.7M373.6 362.2h0.7M383.6 386.8h0.7M382.9 379.8h0.7M345.0 376.3h0.7M387.4 387.5h0.7M352.0 392.5h0.7M370.6 372.7h0.7M370.1 423.0h0.7M344.0 385.3h0.7M349.3 395.6h0.7M371.6 371.3h0.7M349.6 377.1h0.7M359.9 404.4h0.7M348.6 391.8h0.7M346.1 387.0h0.7M382.1 389.3h0.7M384.7 416.1h0.7M363.6 412.2h0.7M372.8 404.7h0.7M369.1 411.9h0.7M366.3 416.3h0.7M368.9 376.2h0.7M384.5 395.0h0.7M381.0 382.9h0.7M391.9 398.5h0.7M360.1 408.8h0.7M377.7 403.6h0.7M360.5 417.8h0.7M352.9 395.3h0.7M350.2 388.2h0.7M369.5 369.6h0.7M361.8 412.9h0.7M359.4 409.0h0.7M354.2 376.6h0.7M371.0 405.9h0.7M350.5 377.9h0.7M359.0 404.8h0.7M368.9 414.2h0.7M360.7 412.7h0.7M365.5 425.6h0.7M349.0 387.9h0.7M346.7 386.0h0.7M368.2 411.5h0.7M353.4 395.5h0.7M358.8 367.5h0.7M346.4 387.4h0.7M358.9 405.3h0.7M347.8 390.5h0.7M364.7 370.5h0.7M380.9 388.6h0.7M358.8 408.1h0.7M372.1 375.8h0.7M347.1 388.5h0.7M350.7 389.2h0.7M336.1 389.0h0.7M354.8 422.0h0.7M376.5 377.5h0.7M362.9 412.0h0.7M375.0 403.9h0.7M376.7 374.8h0.7M365.4 414.2h0.7M367.2 423.6h0.7M352.0 392.4h0.7M378.4 395.3h0.7M355.5 397.7h0.7M381.5 387.0h0.7M371.9 414.7h0.7M372.1 414.9h0.7M355.8 397.8h0.7M359.5 416.3h0.7M383.5 396.1h0.7M374.1 410.0h0.7M335.8 384.9h0.7M357.7 375.4h0.7M378.9 424.2h0.7M358.6 377.7h0.7M382.8 393.0h0.7M352.3 396.6h0.7M379.8 378.2h0.7M365.6 431.7h0.7M365.6 412.7h0.7M358.4 406.1h0.7M386.4 389.6h0.7M387.3 371.1h0.7M347.2 377.8h0.7M362.3 375.8h0.7M355.0 412.2h0.7M379.4 393.7h0.7M385.2 376.2h0.7M368.7 419.9h0.7M373.3 427.4h0.7M350.2 393.7h0.7M349.4 380.4h0.7M374.4 403.6h0.7M354.4 405.5h0.7M345.4 389.5h0.7M377.0 428.0h0.7M353.3 402.4h0.7M384.2 401.6h0.7M357.6 377.4h0.7M374.8 403.9h0.7M351.3 382.0h0.7M379.7 401.1h0.7M350.1 390.3h0.7M367.8 373.3h0.7M386.8 371.2h0.7M371.9 410.2h0.7M379.0 394.4h0.7M369.4 372.4h0.7M357.9 407.3h0.7M360.9 409.7h0.7M391.4 387.8h0.7M383.4 390.4h0.7M379.1 398.4h0.7M373.7 374.9h0.7M356.6 402.8h0.7M381.4 389.3h0.7M373.2 402.9h0.7M354.1 396.9h0.7M390.2 389.9h0.7M380.3 382.8h0.7M385.4 384.1h0.7M375.1 373.9h0.7M363.1 426.6h0.7M374.7 411.8h0.7M382.3 392.8h0.7M372.1 375.8h0.7M367.4 417.6h0.7M356.7 371.8h0.7M350.4 392.9h0.7M355.6 401.2h0.7M370.1 374.0h0.7M375.9 399.4h0.7M365.1 433.5h0.7M383.8 381.0h0.7M360.4 406.2h0.7M372.5 405.1h0.7M375.8 373.5h0.7M364.7 375.9h0.7M372.2 419.7h0.7M369.6 376.0h0.7M382.9 392.7h0.7M386.0 392.9h0.7M370.1 411.5h0.7M350.0 380.5h0.7M355.8 377.4h0.7M369.2 412.1h0.7M382.4 397.5h0.7M369.9 416.1h0.7M363.0 412.8h0.7M369.8 407.7h0.7M356.6 401.5h0.7M351.1 390.0h0.7M370.0 407.3h0.7M351.5 395.2h0.7M368.3 410.8h0.7M357.8 374.8h0.7M365.4 416.7h0.7M388.0 384.4h0.7M382.1 398.5h0.7M378.5 378.6h0.7M361.9 412.3h0.7M380.6 372.0h0.7M359.9 376.1h0.7M373.9 409.9h0.7M378.9 398.9h0.7M385.2 396.0h0.7M367.3 354.4h0.7M373.8 369.8h0.7M351.9 396.7h0.7M384.8 378.1h0.7M384.0 380.9h0.7M359.3 376.9h0.7M364.6 372.0h0.7M346.1 380.8h0.7M356.2 371.1h0.7M356.6 408.6h0.7M355.7 399.7h0.7M380.4 380.8h0.7M361.0 408.5h0.7M359.9 407.4h0.7M363.2 433.7h0.7M340.7 390.5h0.7M364.2 419.0h0.7M347.7 393.9h0.7M379.2 380.4h0.7M348.7 388.6h0.7M360.0 369.3h0.7M364.6 413.9h0.7M361.8 421.9h0.7M339.9 383.6h0.7M368.2 418.1h0.7M363.4 416.6h0.7M379.7 408.0h0.7M375.2 403.9h0.7M370.4 416.3h0.7M367.3 365.3h0.7M353.9 395.7h0.7M349.2 383.4h0.7M364.9 415.1h0.7M370.8 412.7h0.7M371.4 408.6h0.7M345.1 383.5h0.7M371.3 405.6h0.7M368.6 413.0h0.7M380.7 389.6h0.7M363.8 376.2h0.7M376.5 403.1h0.7M357.2 401.8h0.7M380.1 377.1h0.7M382.9 381.1h0.7M378.0 377.8h0.7M369.7 357.0h0.7M348.6 394.1h0.7M359.7 408.6h0.7M348.7 392.1h0.7M382.2 393.5h0.7M375.1 374.2h0.7M376.8 398.3h0.7M392.8 404.7h0.7M355.3 405.6h0.7M378.5 395.2h0.7M362.8 369.1h0.7M373.5 375.2h0.7M373.1 372.3h0.7M364.7 423.5h0.7M350.6 387.1h0.7M367.2 429.4h0.7M366.8 374.0h0.7M381.5 389.8h0.7M373.5 411.2h0.7M347.2 407.6h0.7M358.6 411.5h0.7M347.5 381.7h0.7M370.3 376.3h0.7M364.0 416.2h0.7M359.2 375.6h0.7M349.5 388.2h0.7M351.2 389.5h0.7M355.7 377.8h0.7M361.9 372.1h0.7M360.3 411.8h0.7M383.0 383.5h0.7M364.0 374.6h0.7M380.0 397.6h0.7M347.1 383.8h0.7M379.7 392.5h0.7M382.7 392.1h0.7M376.7 411.6h0.7M360.8 423.8h0.7M380.4 395.7h0.7M348.5 388.1h0.7M353.2 380.9h0.7M358.8 408.2h0.7M375.1 401.0h0.7M348.4 393.0h0.7M388.8 379.8h0.7M357.6 417.4h0.7M365.1 373.6h0.7M349.2 390.1h0.7M366.5 414.9h0.7M350.5 379.1h0.7M371.5 410.3h0.7M387.4 394.6h0.7"/>
<path d="M366.4 412.2 365.4 412.3 364.2 412.0 363.2 411.3 362.3 410.1 360.8 406.9 359.7 403.1 358.7 400.9 357.9 399.8 355.9 397.6 354.2 395.6 353.1 393.9 352.2 392.4 351.7 390.9 351.3 389.4 351.2 385.9 351.5 384.1 352.2 382.6 354.7 380.1 356.2 379.0 358.9 377.8 360.7 377.3 365.9 376.3 368.4 376.2 370.9 376.5 374.4 377.4 375.9 378.0 377.2 378.9 378.8 380.9 379.6 382.1 380.0 383.1 380.6 385.4 380.7 387.6 380.3 389.9 378.9 394.1 378.1 395.9 375.6 399.1 374.4 400.3 372.2 402.3 371.5 403.1 370.7 404.6 369.3 408.4 368.5 410.1 367.4 411.5 366.4 412.2Z" fill="#fff" stroke="#222" stroke-width="0.9"/>
<path d="M365.9 408.9 365.4 409.0 364.7 408.9 363.9 408.4 363.4 407.7 363.0 406.6 361.2 401.4 360.6 400.1 359.5 398.6 356.4 395.1 354.0 390.9 353.3 388.6 353.1 386.6 353.3 385.1 354.0 383.6 354.9 382.5 356.4 381.4 359.9 379.6 361.2 379.2 365.9 378.2 367.9 378.0 373.9 379.0 374.9 379.4 375.9 380.2 377.1 381.6 377.8 383.1 378.4 386.1 378.5 388.1 378.3 389.6 377.8 391.4 377.1 393.6 376.5 394.9 375.6 396.1 373.8 398.1 371.2 400.2 370.6 400.9 370.1 401.6 369.0 404.4 367.4 407.4 366.7 408.4 365.9 408.9ZM365.9 406.4 365.4 406.6 364.9 406.4 364.2 405.6 363.3 403.6 362.6 400.6 362.1 399.6 361.4 398.6 357.8 394.6 357.0 393.4 356.0 391.4 354.7 388.1 354.5 387.1 354.6 385.9 355.3 384.4 356.4 383.2 359.4 381.6 361.4 380.8 366.2 379.7 367.4 379.6 368.7 379.7 373.4 380.5 374.4 380.9 375.4 381.6 376.0 382.4 376.4 383.4 377.0 386.1 377.1 387.4 377.0 388.9 376.6 390.6 375.6 393.4 374.8 394.9 372.4 397.3 369.9 399.1 369.3 399.9 368.9 400.6 368.2 402.9 367.7 404.1 366.7 405.7 365.9 406.4ZM365.7 404.7 365.2 404.6 364.9 404.4 364.4 403.4 364.2 402.4 364.2 400.1 363.9 399.1 363.3 398.4 361.2 396.4 359.3 394.4 358.5 393.4 357.9 392.4 357.4 391.1 356.7 389.1 355.9 387.4 355.8 386.6 355.9 385.9 356.2 385.3 356.7 384.8 360.2 382.9 361.9 382.2 366.2 381.2 367.2 381.0 368.2 381.1 372.2 381.7 373.2 381.9 374.2 382.4 374.9 383.3 375.2 384.1 375.6 386.1 375.7 387.4 375.7 388.4 374.8 391.6 373.9 393.5 372.7 395.0 371.2 396.4 368.6 398.1 367.6 399.1 367.1 400.1 367.0 402.1 366.8 403.1 366.3 404.1 365.7 404.7ZM366.7 396.9 365.9 396.9 365.2 396.8 362.9 395.8 361.4 394.7 359.8 392.9 359.0 391.6 358.6 390.1 358.4 387.9 358.6 386.6 359.7 385.4 360.9 384.4 363.7 383.2 365.4 382.7 366.7 382.5 367.9 382.5 372.4 383.1 373.2 383.3 373.6 383.6 373.8 384.1 374.2 387.4 374.1 388.4 373.8 389.9 373.1 392.1 372.1 393.6 370.2 395.4 368.7 396.3 366.7 396.9ZM367.2 395.4 366.2 395.3 364.9 395.1 363.7 394.5 362.7 393.9 361.6 392.9 360.6 391.6 360.1 390.6 359.9 389.6 360.0 388.6 360.3 387.6 360.8 386.6 361.4 385.9 362.4 385.2 364.2 384.2 365.4 383.8 366.7 383.6 367.7 383.6 368.9 383.9 370.4 384.4 371.4 384.9 371.9 385.4 372.2 385.9 372.4 386.6 372.6 387.6 372.4 390.6 372.1 391.6 371.5 392.6 370.4 393.8 369.4 394.6 368.4 395.1 367.2 395.4ZM367.7 394.1 366.9 394.2 365.9 394.1 364.9 393.8 364.1 393.4 363.2 392.6 362.3 391.6 361.6 390.6 361.4 389.9 361.3 389.1 361.5 388.4 362.2 387.1 362.9 386.4 363.9 385.6 364.9 385.0 365.7 384.8 366.4 384.7 367.4 384.7 368.4 385.0 369.2 385.4 369.8 385.9 370.4 386.6 370.7 387.4 371.0 388.4 371.2 390.4 371.0 391.1 370.7 391.9 370.2 392.6 369.4 393.3 368.7 393.8 367.7 394.1ZM367.7 393.2 366.9 393.3 366.2 393.2 364.9 392.7 364.2 392.2 363.6 391.6 363.1 390.9 362.7 390.1 362.6 389.4 362.7 388.9 363.3 387.6 364.4 386.4 365.7 385.8 366.9 385.7 368.2 386.2 369.2 387.3 369.9 388.9 370.1 390.4 369.7 391.6 368.8 392.6 367.7 393.2ZM367.4 392.1 366.4 392.2 365.4 391.9 364.5 391.1 364.0 390.1 363.9 389.1 364.2 388.4 364.8 387.6 365.7 387.0 366.7 387.0 367.4 387.3 368.2 388.1 368.7 389.1 368.9 390.1 368.7 391.0 368.2 391.7 367.4 392.1Z" fill="none" stroke="#222" stroke-width="0.6"/>
<rect x="33.10" y="184.30" width="94.60" height="94.10" stroke="#bdbdbd" stroke-width="0.9" fill="none" />
<line x1="33.10" y1="184.30" x2="33.10" y2="278.40" stroke="#555" stroke-width="0.95" />
<line x1="33.10" y1="278.40" x2="127.70" y2="278.40" stroke="#555" stroke-width="0.95" />
<text transform="translate(83.20,180.46) scale(0.88,1)" font-size="9.89" fill="#111" stroke="#111" stroke-width="0.07" text-anchor="middle" >CD3<tspan font-size="4.8" dy="-3.1">+</tspan><tspan dy="3.1"> </tspan>CD4<tspan font-size="4.8" dy="-3.1">+</tspan><tspan dy="3.1"> </tspan>T cells</text>
<line x1="33.80" y1="278.40" x2="33.80" y2="279.90" stroke="#666" stroke-width="0.6" />
<text transform="translate(33.80,287.95) scale(0.8,1)" font-size="8.2" fill="#1a1a1a" stroke="#1a1a1a" stroke-width="0.04" text-anchor="middle">10<tspan font-size="62%" dy="-0.36em">2</tspan></text>
<line x1="59.00" y1="278.40" x2="59.00" y2="279.90" stroke="#666" stroke-width="0.6" />
<text transform="translate(59.00,287.95) scale(0.8,1)" font-size="8.2" fill="#1a1a1a" stroke="#1a1a1a" stroke-width="0.04" text-anchor="middle">10<tspan font-size="62%" dy="-0.36em">3</tspan></text>
<line x1="82.00" y1="278.40" x2="82.00" y2="279.90" stroke="#666" stroke-width="0.6" />
<text transform="translate(82.00,287.95) scale(0.8,1)" font-size="8.2" fill="#1a1a1a" stroke="#1a1a1a" stroke-width="0.04" text-anchor="middle">10<tspan font-size="62%" dy="-0.36em">4</tspan></text>
<line x1="105.30" y1="278.40" x2="105.30" y2="279.90" stroke="#666" stroke-width="0.6" />
<text transform="translate(105.30,287.95) scale(0.8,1)" font-size="8.2" fill="#1a1a1a" stroke="#1a1a1a" stroke-width="0.04" text-anchor="middle">10<tspan font-size="62%" dy="-0.36em">5</tspan></text>
<line x1="127.70" y1="278.40" x2="127.70" y2="279.90" stroke="#666" stroke-width="0.6" />
<text transform="translate(127.70,287.95) scale(0.8,1)" font-size="8.2" fill="#1a1a1a" stroke="#1a1a1a" stroke-width="0.04" text-anchor="middle">10<tspan font-size="62%" dy="-0.36em">6</tspan></text>
<line x1="31.60" y1="186.50" x2="33.10" y2="186.50" stroke="#666" stroke-width="0.6" />
<text transform="translate(29.55,186.50) rotate(-90) scale(0.8,1)" font-size="8.2" fill="#1a1a1a" stroke="#1a1a1a" stroke-width="0.04" text-anchor="middle">10<tspan font-size="62%" dy="-0.36em">6</tspan></text>
<line x1="31.60" y1="225.00" x2="33.10" y2="225.00" stroke="#666" stroke-width="0.6" />
<text transform="translate(29.55,225.00) rotate(-90) scale(0.8,1)" font-size="8.2" fill="#1a1a1a" stroke="#1a1a1a" stroke-width="0.04" text-anchor="middle">10<tspan font-size="62%" dy="-0.36em">4</tspan></text>
<line x1="31.60" y1="262.50" x2="33.10" y2="262.50" stroke="#666" stroke-width="0.6" />
<text transform="translate(29.55,262.50) rotate(-90) scale(0.8,1)" font-size="8.2" fill="#1a1a1a" stroke="#1a1a1a" stroke-width="0.04" text-anchor="middle">10<tspan font-size="62%" dy="-0.36em">3</tspan></text>
<text transform="translate(20.82,237.00) rotate(-90) scale(1,0.88)" font-size="8.60" fill="#111" stroke="#111" stroke-width="0.07" text-anchor="middle" >CD4-Pacific Blue</text>
<text transform="translate(81.40,297.52) scale(0.88,1)" font-size="9.77" fill="#111" stroke="#111" stroke-width="0.07" text-anchor="middle" >CD3-PE-Cy7</text>
<rect x="93.00" y="184.30" width="34.20" height="51.00" stroke="#3a2a2a" stroke-width="1.0" fill="none" />
<text transform="translate(108.50,196.03) scale(0.88,1)" font-size="8.41" fill="#333" stroke="#333" stroke-width="0.07" text-anchor="middle" >24.36%</text>
<line x1="127.70" y1="208.50" x2="140.80" y2="208.50" stroke="#3a3030" stroke-width="0.8" />
<path d="M144.30,208.50 L139.50,206.20 L140.70,208.50 L139.50,210.80 Z" stroke="none" stroke-width="1" fill="#221a1a" />
<rect x="164.50" y="184.50" width="93.70" height="94.30" stroke="#bdbdbd" stroke-width="0.9" fill="none" />
<line x1="164.50" y1="184.50" x2="164.50" y2="278.80" stroke="#c8c8c8" stroke-width="0.95" />
<line x1="164.50" y1="278.80" x2="258.20" y2="278.80" stroke="#777" stroke-width="0.95" />
<line x1="182.60" y1="278.80" x2="182.60" y2="280.30" stroke="#666" stroke-width="0.6" />
<text transform="translate(182.60,288.35) scale(0.8,1)" font-size="8.2" fill="#1a1a1a" stroke="#1a1a1a" stroke-width="0.04" text-anchor="middle">10<tspan font-size="62%" dy="-0.36em">3</tspan></text>
<line x1="208.00" y1="278.80" x2="208.00" y2="280.30" stroke="#666" stroke-width="0.6" />
<text transform="translate(208.00,288.35) scale(0.8,1)" font-size="8.2" fill="#1a1a1a" stroke="#1a1a1a" stroke-width="0.04" text-anchor="middle">10<tspan font-size="62%" dy="-0.36em">4</tspan></text>
<line x1="233.30" y1="278.80" x2="233.30" y2="280.30" stroke="#666" stroke-width="0.6" />
<text transform="translate(233.30,288.35) scale(0.8,1)" font-size="8.2" fill="#1a1a1a" stroke="#1a1a1a" stroke-width="0.04" text-anchor="middle">10<tspan font-size="62%" dy="-0.36em">5</tspan></text>
<line x1="258.20" y1="278.80" x2="258.20" y2="280.30" stroke="#666" stroke-width="0.6" />
<text transform="translate(258.20,288.35) scale(0.8,1)" font-size="8.2" fill="#1a1a1a" stroke="#1a1a1a" stroke-width="0.04" text-anchor="middle">10<tspan font-size="62%" dy="-0.36em">6</tspan></text>
<line x1="163.00" y1="185.00" x2="164.50" y2="185.00" stroke="#666" stroke-width="0.6" />
<text transform="translate(161.75,185.00) rotate(-90) scale(0.8,1)" font-size="8.2" fill="#1a1a1a" stroke="#1a1a1a" stroke-width="0.04" text-anchor="middle">10<tspan font-size="62%" dy="-0.36em">5</tspan></text>
<line x1="163.00" y1="214.00" x2="164.50" y2="214.00" stroke="#666" stroke-width="0.6" />
<text transform="translate(161.75,214.00) rotate(-90) scale(0.8,1)" font-size="8.2" fill="#1a1a1a" stroke="#1a1a1a" stroke-width="0.04" text-anchor="middle">10<tspan font-size="62%" dy="-0.36em">4</tspan></text>
<line x1="163.00" y1="246.00" x2="164.50" y2="246.00" stroke="#666" stroke-width="0.6" />
<text transform="translate(161.75,246.00) rotate(-90) scale(0.8,1)" font-size="8.2" fill="#1a1a1a" stroke="#1a1a1a" stroke-width="0.04" text-anchor="middle">10<tspan font-size="62%" dy="-0.36em">3</tspan></text>
<line x1="163.00" y1="276.50" x2="164.50" y2="276.50" stroke="#666" stroke-width="0.6" />
<text transform="translate(161.75,276.50) rotate(-90) scale(0.8,1)" font-size="8.2" fill="#1a1a1a" stroke="#1a1a1a" stroke-width="0.04" text-anchor="middle">10<tspan font-size="62%" dy="-0.36em">2</tspan></text>
<text transform="translate(153.97,233.50) rotate(-90) scale(1,0.88)" font-size="9.05" fill="#111" stroke="#111" stroke-width="0.07" text-anchor="middle" >CD127-APC</text>
<text transform="translate(214.30,297.60) scale(0.88,1)" font-size="10.00" fill="#111" stroke="#111" stroke-width="0.07" text-anchor="middle" >CD25-FITC</text>
<rect x="171.60" y="189.30" width="86.00" height="69.80" stroke="#3a2a2a" stroke-width="1.0" fill="none" />
<rect x="213.40" y="226.20" width="44.20" height="32.90" stroke="#3a2a2a" stroke-width="1.0" fill="none" />
<text transform="translate(208.50,201.03) scale(0.88,1)" font-size="8.41" fill="#333" stroke="#333" stroke-width="0.07" >Non-Treg</text>
<text transform="translate(208.50,210.33) scale(0.88,1)" font-size="8.41" fill="#333" stroke="#333" stroke-width="0.07" >69.80%</text>
<text transform="translate(215.70,248.03) scale(0.88,1)" font-size="8.41" fill="#333" stroke="#333" stroke-width="0.07" >Treg</text>
<text transform="translate(215.70,258.03) scale(0.88,1)" font-size="8.41" fill="#333" stroke="#333" stroke-width="0.07" >28.70%</text>
<line x1="258.20" y1="200.40" x2="271.50" y2="200.40" stroke="#3a3030" stroke-width="0.8" />
<path d="M275.00,200.40 L270.20,198.10 L271.40,200.40 L270.20,202.70 Z" stroke="none" stroke-width="1" fill="#221a1a" />
<rect x="292.00" y="185.40" width="94.80" height="93.90" stroke="#bdbdbd" stroke-width="0.9" fill="none" />
<line x1="292.00" y1="185.40" x2="292.00" y2="279.30" stroke="#555" stroke-width="0.95" />
<line x1="292.00" y1="279.30" x2="386.80" y2="279.30" stroke="#c8c8c8" stroke-width="0.95" />
<text transform="translate(337.80,182.86) scale(0.88,1)" font-size="9.89" fill="#111" stroke="#111" stroke-width="0.07" text-anchor="middle" >IL17A<tspan font-size="4.8" dy="-3.1">+</tspan><tspan dy="3.1"> </tspan>T cells</text>
<line x1="292.60" y1="279.30" x2="292.60" y2="280.80" stroke="#666" stroke-width="0.6" />
<text transform="translate(292.60,288.85) scale(0.8,1)" font-size="8.2" fill="#1a1a1a" stroke="#1a1a1a" stroke-width="0.04" text-anchor="middle">10<tspan font-size="62%" dy="-0.36em">2.5</tspan></text>
<line x1="324.70" y1="279.30" x2="324.70" y2="280.80" stroke="#666" stroke-width="0.6" />
<text transform="translate(324.70,288.85) scale(0.8,1)" font-size="8.2" fill="#1a1a1a" stroke="#1a1a1a" stroke-width="0.04" text-anchor="middle">10<tspan font-size="62%" dy="-0.36em">3</tspan></text>
<line x1="376.30" y1="279.30" x2="376.30" y2="280.80" stroke="#666" stroke-width="0.6" />
<text transform="translate(376.30,288.85) scale(0.8,1)" font-size="8.2" fill="#1a1a1a" stroke="#1a1a1a" stroke-width="0.04" text-anchor="middle">10<tspan font-size="62%" dy="-0.36em">4</tspan></text>
<line x1="290.50" y1="186.00" x2="292.00" y2="186.00" stroke="#666" stroke-width="0.6" />
<text transform="translate(291.95,186.00) rotate(-90) scale(0.8,1)" font-size="8.2" fill="#1a1a1a" stroke="#1a1a1a" stroke-width="0.04" text-anchor="middle">7</text>
<line x1="290.50" y1="201.80" x2="292.00" y2="201.80" stroke="#666" stroke-width="0.6" />
<text transform="translate(291.95,201.80) rotate(-90) scale(0.8,1)" font-size="8.2" fill="#1a1a1a" stroke="#1a1a1a" stroke-width="0.04" text-anchor="middle">6</text>
<line x1="290.50" y1="216.80" x2="292.00" y2="216.80" stroke="#666" stroke-width="0.6" />
<text transform="translate(291.95,216.80) rotate(-90) scale(0.8,1)" font-size="8.2" fill="#1a1a1a" stroke="#1a1a1a" stroke-width="0.04" text-anchor="middle">5</text>
<line x1="290.50" y1="232.40" x2="292.00" y2="232.40" stroke="#666" stroke-width="0.6" />
<text transform="translate(291.95,232.40) rotate(-90) scale(0.8,1)" font-size="8.2" fill="#1a1a1a" stroke="#1a1a1a" stroke-width="0.04" text-anchor="middle">4</text>
<line x1="290.50" y1="248.10" x2="292.00" y2="248.10" stroke="#666" stroke-width="0.6" />
<text transform="translate(291.95,248.10) rotate(-90) scale(0.8,1)" font-size="8.2" fill="#1a1a1a" stroke="#1a1a1a" stroke-width="0.04" text-anchor="middle">3</text>
<line x1="290.50" y1="262.80" x2="292.00" y2="262.80" stroke="#666" stroke-width="0.6" />
<text transform="translate(291.95,262.80) rotate(-90) scale(0.8,1)" font-size="8.2" fill="#1a1a1a" stroke="#1a1a1a" stroke-width="0.04" text-anchor="middle">2</text>
<line x1="290.50" y1="279.40" x2="292.00" y2="279.40" stroke="#666" stroke-width="0.6" />
<text transform="translate(291.95,279.40) rotate(-90) scale(0.8,1)" font-size="8.2" fill="#1a1a1a" stroke="#1a1a1a" stroke-width="0.04" text-anchor="middle">1</text>
<text transform="translate(280.36,232.50) rotate(-90) scale(1,0.88)" font-size="8.70" fill="#111" stroke="#111" stroke-width="0.07" text-anchor="middle" >SSC-A&#160; (10<tspan font-size="5.2" dy="-2.8">5</tspan><tspan dy="2.8">)</tspan></text>
<text transform="translate(332.00,297.68) scale(0.88,1)" font-size="9.66" fill="#111" stroke="#111" stroke-width="0.07" text-anchor="middle" >IL17A-PE</text>
<rect x="353.50" y="203.40" width="20.20" height="61.00" stroke="#3a2a2a" stroke-width="1.0" fill="none" />
<text transform="translate(368.30,199.83) scale(0.88,1)" font-size="8.41" fill="#333" stroke="#333" stroke-width="0.07" text-anchor="middle" >12.61%</text>
<rect x="34.50" y="340.60" width="94.40" height="92.70" stroke="#bdbdbd" stroke-width="0.9" fill="none" />
<line x1="34.50" y1="340.60" x2="34.50" y2="433.30" stroke="#666" stroke-width="0.95" />
<line x1="34.50" y1="433.30" x2="128.90" y2="433.30" stroke="#888" stroke-width="0.95" />
<text transform="translate(79.50,338.06) scale(0.88,1)" font-size="9.89" fill="#111" stroke="#111" stroke-width="0.07" text-anchor="middle" >CD3<tspan font-size="4.8" dy="-3.1">+</tspan><tspan dy="3.1"> </tspan>T cells</text>
<line x1="34.90" y1="433.30" x2="34.90" y2="434.80" stroke="#666" stroke-width="0.6" />
<text transform="translate(34.90,443.07) scale(0.8,1)" font-size="8.8" fill="#1a1a1a" stroke="#1a1a1a" stroke-width="0.04" text-anchor="middle">10<tspan font-size="62%" dy="-0.36em">2</tspan></text>
<line x1="62.00" y1="433.30" x2="62.00" y2="434.80" stroke="#666" stroke-width="0.6" />
<text transform="translate(62.00,443.07) scale(0.8,1)" font-size="8.8" fill="#1a1a1a" stroke="#1a1a1a" stroke-width="0.04" text-anchor="middle">10<tspan font-size="62%" dy="-0.36em">3</tspan></text>
<line x1="85.70" y1="433.30" x2="85.70" y2="434.80" stroke="#666" stroke-width="0.6" />
<text transform="translate(85.70,443.07) scale(0.8,1)" font-size="8.8" fill="#1a1a1a" stroke="#1a1a1a" stroke-width="0.04" text-anchor="middle">10<tspan font-size="62%" dy="-0.36em">4</tspan></text>
<line x1="106.70" y1="433.30" x2="106.70" y2="434.80" stroke="#666" stroke-width="0.6" />
<text transform="translate(106.70,443.07) scale(0.8,1)" font-size="8.8" fill="#1a1a1a" stroke="#1a1a1a" stroke-width="0.04" text-anchor="middle">10<tspan font-size="62%" dy="-0.36em">5</tspan></text>
<line x1="128.60" y1="433.30" x2="128.60" y2="434.80" stroke="#666" stroke-width="0.6" />
<text transform="translate(128.60,443.07) scale(0.8,1)" font-size="8.8" fill="#1a1a1a" stroke="#1a1a1a" stroke-width="0.04" text-anchor="middle">10<tspan font-size="62%" dy="-0.36em">6</tspan></text>
<line x1="33.00" y1="348.80" x2="34.50" y2="348.80" stroke="#666" stroke-width="0.6" />
<text transform="translate(32.27,348.80) rotate(-90) scale(0.8,1)" font-size="8.8" fill="#1a1a1a" stroke="#1a1a1a" stroke-width="0.04" text-anchor="middle">12</text>
<line x1="33.00" y1="365.20" x2="34.50" y2="365.20" stroke="#666" stroke-width="0.6" />
<text transform="translate(32.27,365.20) rotate(-90) scale(0.8,1)" font-size="8.8" fill="#1a1a1a" stroke="#1a1a1a" stroke-width="0.04" text-anchor="middle">10</text>
<line x1="33.00" y1="380.60" x2="34.50" y2="380.60" stroke="#666" stroke-width="0.6" />
<text transform="translate(32.27,380.60) rotate(-90) scale(0.8,1)" font-size="8.8" fill="#1a1a1a" stroke="#1a1a1a" stroke-width="0.04" text-anchor="middle">8</text>
<line x1="33.00" y1="394.80" x2="34.50" y2="394.80" stroke="#666" stroke-width="0.6" />
<text transform="translate(32.27,394.80) rotate(-90) scale(0.8,1)" font-size="8.8" fill="#1a1a1a" stroke="#1a1a1a" stroke-width="0.04" text-anchor="middle">6</text>
<line x1="33.00" y1="410.60" x2="34.50" y2="410.60" stroke="#666" stroke-width="0.6" />
<text transform="translate(32.27,410.60) rotate(-90) scale(0.8,1)" font-size="8.8" fill="#1a1a1a" stroke="#1a1a1a" stroke-width="0.04" text-anchor="middle">4</text>
<line x1="33.00" y1="426.60" x2="34.50" y2="426.60" stroke="#666" stroke-width="0.6" />
<text transform="translate(32.27,426.60) rotate(-90) scale(0.8,1)" font-size="8.8" fill="#1a1a1a" stroke="#1a1a1a" stroke-width="0.04" text-anchor="middle">1</text>
<text transform="translate(19.86,387.70) rotate(-90) scale(1,0.88)" font-size="8.70" fill="#111" stroke="#111" stroke-width="0.07" text-anchor="middle" >SSC-A&#160; (10<tspan font-size="5.2" dy="-2.8">5</tspan><tspan dy="2.8">)</tspan></text>
<text transform="translate(81.30,454.32) scale(0.88,1)" font-size="9.77" fill="#111" stroke="#111" stroke-width="0.07" text-anchor="middle" >CD3-PE-Cy7</text>
<rect x="93.80" y="399.40" width="30.40" height="33.00" stroke="#3a2a2a" stroke-width="1.0" fill="none" />
<text transform="translate(109.40,382.73) scale(0.88,1)" font-size="8.41" fill="#333" stroke="#333" stroke-width="0.07" text-anchor="middle" >56.87%</text>
<line x1="124.20" y1="418.10" x2="150.30" y2="418.10" stroke="#3a3030" stroke-width="0.8" />
<path d="M153.80,418.10 L149.00,415.80 L150.20,418.10 L149.00,420.40 Z" stroke="none" stroke-width="1" fill="#221a1a" />
<rect x="170.90" y="340.60" width="94.80" height="94.60" stroke="#bdbdbd" stroke-width="0.9" fill="none" />
<line x1="170.90" y1="340.60" x2="170.90" y2="435.20" stroke="#999" stroke-width="0.95" />
<line x1="170.90" y1="435.20" x2="265.70" y2="435.20" stroke="#999" stroke-width="0.95" />
<text transform="translate(222.00,338.36) scale(0.88,1)" font-size="9.89" fill="#111" stroke="#111" stroke-width="0.07" text-anchor="middle" >CD8<tspan font-size="4.8" dy="-3.1">+</tspan><tspan dy="3.1"> </tspan>or CD4<tspan font-size="4.8" dy="-3.1">+</tspan><tspan dy="3.1"> </tspan>T cells</text>
<line x1="171.20" y1="435.20" x2="171.20" y2="436.70" stroke="#666" stroke-width="0.6" />
<text transform="translate(171.20,444.97) scale(0.8,1)" font-size="8.8" fill="#1a1a1a" stroke="#1a1a1a" stroke-width="0.04" text-anchor="middle">10<tspan font-size="62%" dy="-0.36em">1</tspan></text>
<line x1="195.00" y1="435.20" x2="195.00" y2="436.70" stroke="#666" stroke-width="0.6" />
<text transform="translate(195.00,444.97) scale(0.8,1)" font-size="8.8" fill="#1a1a1a" stroke="#1a1a1a" stroke-width="0.04" text-anchor="middle">10<tspan font-size="62%" dy="-0.36em">2</tspan></text>
<line x1="218.10" y1="435.20" x2="218.10" y2="436.70" stroke="#666" stroke-width="0.6" />
<text transform="translate(218.10,444.97) scale(0.8,1)" font-size="8.8" fill="#1a1a1a" stroke="#1a1a1a" stroke-width="0.04" text-anchor="middle">10<tspan font-size="62%" dy="-0.36em">3</tspan></text>
<line x1="241.60" y1="435.20" x2="241.60" y2="436.70" stroke="#666" stroke-width="0.6" />
<text transform="translate(241.60,444.97) scale(0.8,1)" font-size="8.8" fill="#1a1a1a" stroke="#1a1a1a" stroke-width="0.04" text-anchor="middle">10<tspan font-size="62%" dy="-0.36em">4</tspan></text>
<line x1="265.20" y1="435.20" x2="265.20" y2="436.70" stroke="#666" stroke-width="0.6" />
<text transform="translate(265.20,444.97) scale(0.8,1)" font-size="8.8" fill="#1a1a1a" stroke="#1a1a1a" stroke-width="0.04" text-anchor="middle">10<tspan font-size="62%" dy="-0.36em">5</tspan></text>
<line x1="169.40" y1="341.70" x2="170.90" y2="341.70" stroke="#666" stroke-width="0.6" />
<text transform="translate(168.37,341.70) rotate(-90) scale(0.8,1)" font-size="8.8" fill="#1a1a1a" stroke="#1a1a1a" stroke-width="0.04" text-anchor="middle">10<tspan font-size="62%" dy="-0.36em">6</tspan></text>
<line x1="169.40" y1="360.10" x2="170.90" y2="360.10" stroke="#666" stroke-width="0.6" />
<text transform="translate(168.37,360.10) rotate(-90) scale(0.8,1)" font-size="8.8" fill="#1a1a1a" stroke="#1a1a1a" stroke-width="0.04" text-anchor="middle">10<tspan font-size="62%" dy="-0.36em">5</tspan></text>
<line x1="169.40" y1="378.60" x2="170.90" y2="378.60" stroke="#666" stroke-width="0.6" />
<text transform="translate(168.37,378.60) rotate(-90) scale(0.8,1)" font-size="8.8" fill="#1a1a1a" stroke="#1a1a1a" stroke-width="0.04" text-anchor="middle">10<tspan font-size="62%" dy="-0.36em">4</tspan></text>
<line x1="169.40" y1="397.50" x2="170.90" y2="397.50" stroke="#666" stroke-width="0.6" />
<text transform="translate(168.37,397.50) rotate(-90) scale(0.8,1)" font-size="8.8" fill="#1a1a1a" stroke="#1a1a1a" stroke-width="0.04" text-anchor="middle">10<tspan font-size="62%" dy="-0.36em">3</tspan></text>
<line x1="169.40" y1="416.00" x2="170.90" y2="416.00" stroke="#666" stroke-width="0.6" />
<text transform="translate(168.37,416.00) rotate(-90) scale(0.8,1)" font-size="8.8" fill="#1a1a1a" stroke="#1a1a1a" stroke-width="0.04" text-anchor="middle">10<tspan font-size="62%" dy="-0.36em">2</tspan></text>
<line x1="169.40" y1="433.60" x2="170.90" y2="433.60" stroke="#666" stroke-width="0.6" />
<text transform="translate(168.37,433.60) rotate(-90) scale(0.8,1)" font-size="8.8" fill="#1a1a1a" stroke="#1a1a1a" stroke-width="0.04" text-anchor="middle">10<tspan font-size="62%" dy="-0.36em">1</tspan></text>
<text transform="translate(160.12,388.20) rotate(-90) scale(1,0.88)" font-size="8.60" fill="#111" stroke="#111" stroke-width="0.07" text-anchor="middle" >CD8-APC</text>
<text transform="translate(219.00,454.22) scale(0.88,1)" font-size="9.77" fill="#111" stroke="#111" stroke-width="0.07" text-anchor="middle" >CD4-Pacific Blue</text>
<rect x="207.40" y="347.60" width="27.00" height="38.20" stroke="#3a2a2a" stroke-width="1.0" fill="none" />
<rect x="230.70" y="393.80" width="28.90" height="36.60" stroke="#3a2a2a" stroke-width="1.0" fill="none" />
<text transform="translate(194.80,364.43) scale(0.88,1)" font-size="8.41" fill="#333" stroke="#333" stroke-width="0.07" text-anchor="middle" >37.15%</text>
<text transform="translate(215.60,426.23) scale(0.88,1)" font-size="8.41" fill="#333" stroke="#333" stroke-width="0.07" text-anchor="middle" >56.57%</text>
<line x1="234.40" y1="366.50" x2="285.70" y2="366.50" stroke="#3a3030" stroke-width="0.8" />
<path d="M289.20,366.50 L284.40,364.20 L285.60,366.50 L284.40,368.80 Z" stroke="none" stroke-width="1" fill="#221a1a" />
<line x1="259.40" y1="413.10" x2="285.70" y2="413.10" stroke="#3a3030" stroke-width="0.8" />
<path d="M289.20,413.10 L284.40,410.80 L285.60,413.10 L284.40,415.40 Z" stroke="none" stroke-width="1" fill="#221a1a" />
<rect x="311.20" y="340.60" width="94.50" height="94.80" stroke="#bdbdbd" stroke-width="0.9" fill="none" />
<line x1="311.20" y1="340.60" x2="311.20" y2="435.40" stroke="#888" stroke-width="0.95" />
<line x1="311.20" y1="435.40" x2="405.70" y2="435.40" stroke="#aaa" stroke-width="0.95" />
<text transform="translate(358.10,338.36) scale(0.88,1)" font-size="9.89" fill="#111" stroke="#111" stroke-width="0.07" text-anchor="middle" >IFN-γ<tspan font-size="4.8" dy="-3.1">+</tspan><tspan dy="3.1">TNF</tspan><tspan font-size="4.8" dy="-3.1">+</tspan><tspan dy="3.1"> </tspan>T cells</text>
<line x1="312.40" y1="435.40" x2="312.40" y2="436.90" stroke="#666" stroke-width="0.6" />
<text transform="translate(312.40,445.17) scale(0.8,1)" font-size="8.8" fill="#1a1a1a" stroke="#1a1a1a" stroke-width="0.04" text-anchor="middle">10<tspan font-size="62%" dy="-0.36em">2</tspan></text>
<line x1="357.80" y1="435.40" x2="357.80" y2="436.90" stroke="#666" stroke-width="0.6" />
<text transform="translate(357.80,445.17) scale(0.8,1)" font-size="8.8" fill="#1a1a1a" stroke="#1a1a1a" stroke-width="0.04" text-anchor="middle">10<tspan font-size="62%" dy="-0.36em">3</tspan></text>
<line x1="404.90" y1="435.40" x2="404.90" y2="436.90" stroke="#666" stroke-width="0.6" />
<text transform="translate(404.90,445.17) scale(0.8,1)" font-size="8.8" fill="#1a1a1a" stroke="#1a1a1a" stroke-width="0.04" text-anchor="middle">10<tspan font-size="62%" dy="-0.36em">4</tspan></text>
<line x1="309.70" y1="340.60" x2="311.20" y2="340.60" stroke="#666" stroke-width="0.6" />
<text transform="translate(308.27,340.60) rotate(-90) scale(0.8,1)" font-size="8.8" fill="#1a1a1a" stroke="#1a1a1a" stroke-width="0.04" text-anchor="middle">10<tspan font-size="62%" dy="-0.36em">5</tspan></text>
<line x1="309.70" y1="371.70" x2="311.20" y2="371.70" stroke="#666" stroke-width="0.6" />
<text transform="translate(308.27,371.70) rotate(-90) scale(0.8,1)" font-size="8.8" fill="#1a1a1a" stroke="#1a1a1a" stroke-width="0.04" text-anchor="middle">10<tspan font-size="62%" dy="-0.36em">4</tspan></text>
<line x1="309.70" y1="402.50" x2="311.20" y2="402.50" stroke="#666" stroke-width="0.6" />
<text transform="translate(308.27,402.50) rotate(-90) scale(0.8,1)" font-size="8.8" fill="#1a1a1a" stroke="#1a1a1a" stroke-width="0.04" text-anchor="middle">10<tspan font-size="62%" dy="-0.36em">3</tspan></text>
<line x1="309.70" y1="433.60" x2="311.20" y2="433.60" stroke="#666" stroke-width="0.6" />
<text transform="translate(308.27,433.60) rotate(-90) scale(0.8,1)" font-size="8.8" fill="#1a1a1a" stroke="#1a1a1a" stroke-width="0.04" text-anchor="middle">10<tspan font-size="62%" dy="-0.36em">2</tspan></text>
<text transform="translate(299.12,390.80) rotate(-90) scale(1,0.88)" font-size="8.60" fill="#111" stroke="#111" stroke-width="0.07" text-anchor="middle" >TNF-PE</text>
<text transform="translate(363.10,454.52) scale(0.88,1)" font-size="9.77" fill="#111" stroke="#111" stroke-width="0.07" text-anchor="middle" >IFN-γ-FITC</text>
<rect x="373.10" y="340.60" width="32.60" height="52.20" stroke="#3a2a2a" stroke-width="1.0" fill="none" />
<text transform="translate(388.50,356.43) scale(0.88,1)" font-size="8.41" fill="#333" stroke="#333" stroke-width="0.07" text-anchor="middle" >13.25%</text>
<text transform="translate(11.70,11.80) scale(0.88,1)" font-size="13.98" fill="#1a1010" stroke="#1a1010" stroke-width="0.07" text-anchor="middle" font-weight="bold" >a</text>
<text transform="translate(246.20,19.70) scale(0.88,1)" font-size="13.98" fill="#1a1010" stroke="#1a1010" stroke-width="0.07" text-anchor="middle" font-weight="bold" >b</text>
<text transform="translate(423.50,19.70) scale(0.88,1)" font-size="13.98" fill="#1a1010" stroke="#1a1010" stroke-width="0.07" text-anchor="middle" font-weight="bold" >g</text>
<text transform="translate(3.90,172.90) scale(0.88,1)" font-size="13.98" fill="#1a1010" stroke="#1a1010" stroke-width="0.07" text-anchor="middle" font-weight="bold" >c</text>
<text transform="translate(5.60,320.80) scale(0.88,1)" font-size="13.98" fill="#1a1010" stroke="#1a1010" stroke-width="0.07" text-anchor="middle" font-weight="bold" >h</text>
</svg></body></html>
